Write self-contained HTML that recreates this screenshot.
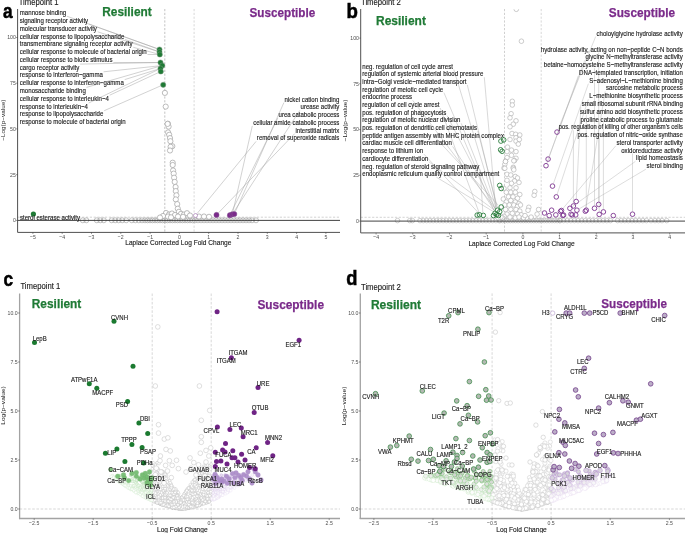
<!DOCTYPE html>
<html><head><meta charset="utf-8"><style>
html,body{margin:0;padding:0;background:#fff;width:685px;height:533px;overflow:hidden}
svg{display:block;font-family:"Liberation Sans", sans-serif;will-change:transform}
</style></head><body>
<svg width="685" height="533" viewBox="0 0 685 533">
<rect width="685" height="533" fill="#fff"/>
<line x1="164.8" y1="9.0" x2="164.8" y2="232.4" stroke="#9a9a9a" stroke-width="0.6" stroke-dasharray="2.2,1.6"/>
<line x1="194.1" y1="9.0" x2="194.1" y2="232.4" stroke="#bdbdbd" stroke-width="0.6" stroke-dasharray="2.2,1.6"/>
<line x1="17.6" y1="217.2" x2="340.0" y2="217.2" stroke="#b5b5b5" stroke-width="0.6" stroke-dasharray="2.2,1.6"/>
<circle cx="82.8" cy="220.3" r="2.5" fill="none" stroke="#a8a8a8" stroke-width="0.7"/>
<circle cx="86.3" cy="220.3" r="2.5" fill="none" stroke="#a8a8a8" stroke-width="0.7"/>
<circle cx="96.8" cy="220.3" r="2.5" fill="none" stroke="#a8a8a8" stroke-width="0.7"/>
<circle cx="100.3" cy="220.3" r="2.5" fill="none" stroke="#a8a8a8" stroke-width="0.7"/>
<circle cx="103.8" cy="220.3" r="2.5" fill="none" stroke="#a8a8a8" stroke-width="0.7"/>
<circle cx="111.7" cy="220.3" r="2.5" fill="none" stroke="#a8a8a8" stroke-width="0.7"/>
<circle cx="115.2" cy="220.3" r="2.5" fill="none" stroke="#a8a8a8" stroke-width="0.7"/>
<circle cx="118.7" cy="220.3" r="2.5" fill="none" stroke="#a8a8a8" stroke-width="0.7"/>
<circle cx="122.2" cy="220.3" r="2.5" fill="none" stroke="#a8a8a8" stroke-width="0.7"/>
<circle cx="126.2" cy="220.3" r="2.5" fill="none" stroke="#a8a8a8" stroke-width="0.7"/>
<circle cx="131.8" cy="220.3" r="2.5" fill="none" stroke="#a8a8a8" stroke-width="0.7"/>
<circle cx="135.3" cy="220.3" r="2.5" fill="none" stroke="#a8a8a8" stroke-width="0.7"/>
<circle cx="138.8" cy="220.3" r="2.5" fill="none" stroke="#a8a8a8" stroke-width="0.7"/>
<circle cx="142.0" cy="220.3" r="2.5" fill="none" stroke="#a8a8a8" stroke-width="0.7"/>
<circle cx="145.0" cy="220.3" r="2.5" fill="none" stroke="#a8a8a8" stroke-width="0.7"/>
<circle cx="147.5" cy="220.3" r="2.5" fill="none" stroke="#a8a8a8" stroke-width="0.7"/>
<circle cx="150.0" cy="220.3" r="2.5" fill="none" stroke="#a8a8a8" stroke-width="0.7"/>
<circle cx="152.5" cy="220.3" r="2.5" fill="none" stroke="#a8a8a8" stroke-width="0.7"/>
<circle cx="155.0" cy="220.3" r="2.5" fill="none" stroke="#a8a8a8" stroke-width="0.7"/>
<circle cx="157.5" cy="220.3" r="2.5" fill="none" stroke="#a8a8a8" stroke-width="0.7"/>
<circle cx="160.0" cy="220.3" r="2.5" fill="none" stroke="#a8a8a8" stroke-width="0.7"/>
<circle cx="162.5" cy="220.3" r="2.5" fill="none" stroke="#a8a8a8" stroke-width="0.7"/>
<circle cx="165.0" cy="220.3" r="2.5" fill="none" stroke="#a8a8a8" stroke-width="0.7"/>
<circle cx="167.5" cy="220.3" r="2.5" fill="none" stroke="#a8a8a8" stroke-width="0.7"/>
<circle cx="170.0" cy="220.3" r="2.5" fill="none" stroke="#a8a8a8" stroke-width="0.7"/>
<circle cx="172.5" cy="220.3" r="2.5" fill="none" stroke="#a8a8a8" stroke-width="0.7"/>
<circle cx="175.0" cy="220.3" r="2.5" fill="none" stroke="#a8a8a8" stroke-width="0.7"/>
<circle cx="177.5" cy="220.3" r="2.5" fill="none" stroke="#a8a8a8" stroke-width="0.7"/>
<circle cx="180.0" cy="220.3" r="2.5" fill="none" stroke="#a8a8a8" stroke-width="0.7"/>
<circle cx="182.5" cy="220.3" r="2.5" fill="none" stroke="#a8a8a8" stroke-width="0.7"/>
<circle cx="185.0" cy="220.3" r="2.5" fill="none" stroke="#a8a8a8" stroke-width="0.7"/>
<circle cx="187.5" cy="220.3" r="2.5" fill="none" stroke="#a8a8a8" stroke-width="0.7"/>
<circle cx="190.0" cy="220.3" r="2.5" fill="none" stroke="#a8a8a8" stroke-width="0.7"/>
<circle cx="192.5" cy="220.3" r="2.5" fill="none" stroke="#a8a8a8" stroke-width="0.7"/>
<circle cx="195.0" cy="220.3" r="2.5" fill="none" stroke="#a8a8a8" stroke-width="0.7"/>
<circle cx="198.0" cy="220.3" r="2.5" fill="none" stroke="#a8a8a8" stroke-width="0.7"/>
<circle cx="201.0" cy="220.3" r="2.5" fill="none" stroke="#a8a8a8" stroke-width="0.7"/>
<circle cx="204.0" cy="220.3" r="2.5" fill="none" stroke="#a8a8a8" stroke-width="0.7"/>
<circle cx="207.0" cy="220.3" r="2.5" fill="none" stroke="#a8a8a8" stroke-width="0.7"/>
<circle cx="210.0" cy="220.3" r="2.5" fill="none" stroke="#a8a8a8" stroke-width="0.7"/>
<circle cx="213.0" cy="220.3" r="2.5" fill="none" stroke="#a8a8a8" stroke-width="0.7"/>
<circle cx="216.0" cy="220.3" r="2.5" fill="none" stroke="#a8a8a8" stroke-width="0.7"/>
<circle cx="219.0" cy="220.3" r="2.5" fill="none" stroke="#a8a8a8" stroke-width="0.7"/>
<circle cx="222.0" cy="220.3" r="2.5" fill="none" stroke="#a8a8a8" stroke-width="0.7"/>
<circle cx="225.0" cy="220.3" r="2.5" fill="none" stroke="#a8a8a8" stroke-width="0.7"/>
<circle cx="228.0" cy="220.3" r="2.5" fill="none" stroke="#a8a8a8" stroke-width="0.7"/>
<circle cx="231.0" cy="220.3" r="2.5" fill="none" stroke="#a8a8a8" stroke-width="0.7"/>
<circle cx="234.0" cy="220.3" r="2.5" fill="none" stroke="#a8a8a8" stroke-width="0.7"/>
<circle cx="237.0" cy="220.3" r="2.5" fill="none" stroke="#a8a8a8" stroke-width="0.7"/>
<circle cx="240.0" cy="220.3" r="2.5" fill="none" stroke="#a8a8a8" stroke-width="0.7"/>
<circle cx="243.0" cy="220.3" r="2.5" fill="none" stroke="#a8a8a8" stroke-width="0.7"/>
<circle cx="246.0" cy="220.3" r="2.5" fill="none" stroke="#a8a8a8" stroke-width="0.7"/>
<circle cx="249.0" cy="220.3" r="2.5" fill="none" stroke="#a8a8a8" stroke-width="0.7"/>
<circle cx="252.0" cy="220.3" r="2.5" fill="none" stroke="#a8a8a8" stroke-width="0.7"/>
<circle cx="256.0" cy="220.3" r="2.5" fill="none" stroke="#a8a8a8" stroke-width="0.7"/>
<circle cx="167.9" cy="123.7" r="2.6" fill="#fff" stroke="#a6a6a6" stroke-width="0.75"/>
<circle cx="168.6" cy="126.6" r="2.6" fill="#fff" stroke="#a6a6a6" stroke-width="0.75"/>
<circle cx="168.1" cy="132.4" r="2.6" fill="#fff" stroke="#a6a6a6" stroke-width="0.75"/>
<circle cx="169.2" cy="134.8" r="2.6" fill="#fff" stroke="#a6a6a6" stroke-width="0.75"/>
<circle cx="170.0" cy="138.1" r="2.6" fill="#fff" stroke="#a6a6a6" stroke-width="0.75"/>
<circle cx="170.4" cy="141.2" r="2.6" fill="#fff" stroke="#a6a6a6" stroke-width="0.75"/>
<circle cx="172.3" cy="146.2" r="2.6" fill="#fff" stroke="#a6a6a6" stroke-width="0.75"/>
<circle cx="170.6" cy="146.8" r="2.6" fill="#fff" stroke="#a6a6a6" stroke-width="0.75"/>
<circle cx="170.0" cy="150.5" r="2.6" fill="#fff" stroke="#a6a6a6" stroke-width="0.75"/>
<circle cx="172.7" cy="162.7" r="2.6" fill="#fff" stroke="#a6a6a6" stroke-width="0.75"/>
<circle cx="172.7" cy="165.0" r="2.6" fill="#fff" stroke="#a6a6a6" stroke-width="0.75"/>
<circle cx="173.1" cy="170.5" r="2.6" fill="#fff" stroke="#a6a6a6" stroke-width="0.75"/>
<circle cx="173.7" cy="173.6" r="2.6" fill="#fff" stroke="#a6a6a6" stroke-width="0.75"/>
<circle cx="174.1" cy="177.7" r="2.6" fill="#fff" stroke="#a6a6a6" stroke-width="0.75"/>
<circle cx="174.7" cy="181.9" r="2.6" fill="#fff" stroke="#a6a6a6" stroke-width="0.75"/>
<circle cx="175.6" cy="187.0" r="2.6" fill="#fff" stroke="#a6a6a6" stroke-width="0.75"/>
<circle cx="175.8" cy="191.1" r="2.6" fill="#fff" stroke="#a6a6a6" stroke-width="0.75"/>
<circle cx="176.4" cy="195.3" r="2.6" fill="#fff" stroke="#a6a6a6" stroke-width="0.75"/>
<circle cx="175.8" cy="199.4" r="2.6" fill="#fff" stroke="#a6a6a6" stroke-width="0.75"/>
<circle cx="177.2" cy="204.1" r="2.6" fill="#fff" stroke="#a6a6a6" stroke-width="0.75"/>
<circle cx="177.8" cy="208.7" r="2.6" fill="#fff" stroke="#a6a6a6" stroke-width="0.75"/>
<circle cx="178.9" cy="211.8" r="2.6" fill="#fff" stroke="#a6a6a6" stroke-width="0.75"/>
<circle cx="181.0" cy="213.8" r="2.6" fill="#fff" stroke="#a6a6a6" stroke-width="0.75"/>
<circle cx="164.9" cy="92.9" r="2.6" fill="#fff" stroke="#a6a6a6" stroke-width="0.75"/>
<circle cx="165.7" cy="106.6" r="2.6" fill="#fff" stroke="#a6a6a6" stroke-width="0.75"/>
<circle cx="167.6" cy="123.9" r="2.6" fill="#fff" stroke="#a6a6a6" stroke-width="0.75"/>
<circle cx="166.0" cy="213.0" r="2.6" fill="#fff" stroke="#a6a6a6" stroke-width="0.75"/>
<circle cx="169.0" cy="214.5" r="2.6" fill="#fff" stroke="#a6a6a6" stroke-width="0.75"/>
<circle cx="172.0" cy="213.5" r="2.6" fill="#fff" stroke="#a6a6a6" stroke-width="0.75"/>
<circle cx="175.0" cy="215.0" r="2.6" fill="#fff" stroke="#a6a6a6" stroke-width="0.75"/>
<circle cx="184.0" cy="214.5" r="2.6" fill="#fff" stroke="#a6a6a6" stroke-width="0.75"/>
<circle cx="187.0" cy="213.2" r="2.6" fill="#fff" stroke="#a6a6a6" stroke-width="0.75"/>
<circle cx="190.0" cy="215.5" r="2.6" fill="#fff" stroke="#a6a6a6" stroke-width="0.75"/>
<circle cx="168.0" cy="216.5" r="2.6" fill="#fff" stroke="#a6a6a6" stroke-width="0.75"/>
<circle cx="178.0" cy="216.5" r="2.6" fill="#fff" stroke="#a6a6a6" stroke-width="0.75"/>
<circle cx="183.0" cy="216.8" r="2.6" fill="#fff" stroke="#a6a6a6" stroke-width="0.75"/>
<circle cx="163.0" cy="216.0" r="2.6" fill="#fff" stroke="#a6a6a6" stroke-width="0.75"/>
<circle cx="171.0" cy="217.3" r="2.6" fill="#fff" stroke="#a6a6a6" stroke-width="0.75"/>
<circle cx="199.0" cy="216.5" r="2.6" fill="#fff" stroke="#a6a6a6" stroke-width="0.75"/>
<circle cx="204.0" cy="216.5" r="2.6" fill="#fff" stroke="#a6a6a6" stroke-width="0.75"/>
<circle cx="209.0" cy="216.8" r="2.6" fill="#fff" stroke="#a6a6a6" stroke-width="0.75"/>
<circle cx="160.0" cy="217.5" r="2.6" fill="#fff" stroke="#a6a6a6" stroke-width="0.75"/>
<line x1="17.6" y1="220.4" x2="340.0" y2="220.4" stroke="#2e2e2e" stroke-width="0.9"/>
<line x1="17.6" y1="9.0" x2="17.6" y2="232.4" stroke="#505050" stroke-width="1.0"/>
<line x1="17.6" y1="232.4" x2="340.0" y2="232.4" stroke="#505050" stroke-width="1.0"/>
<line x1="16.0" y1="220.4" x2="17.6" y2="220.4" stroke="#3a3a3a" stroke-width="0.5"/>
<text transform="translate(15.8,222.2) scale(1,1.18)" font-size="5.2" fill="#4d4d4d" text-anchor="end">0</text>
<line x1="16.0" y1="174.7" x2="17.6" y2="174.7" stroke="#3a3a3a" stroke-width="0.5"/>
<text transform="translate(15.8,176.5) scale(1,1.18)" font-size="5.2" fill="#4d4d4d" text-anchor="end">25</text>
<line x1="16.0" y1="128.9" x2="17.6" y2="128.9" stroke="#3a3a3a" stroke-width="0.5"/>
<text transform="translate(15.8,130.8) scale(1,1.18)" font-size="5.2" fill="#4d4d4d" text-anchor="end">50</text>
<line x1="16.0" y1="83.2" x2="17.6" y2="83.2" stroke="#3a3a3a" stroke-width="0.5"/>
<text transform="translate(15.8,85.0) scale(1,1.18)" font-size="5.2" fill="#4d4d4d" text-anchor="end">75</text>
<line x1="16.0" y1="37.5" x2="17.6" y2="37.5" stroke="#3a3a3a" stroke-width="0.5"/>
<text transform="translate(15.8,39.3) scale(1,1.18)" font-size="5.2" fill="#4d4d4d" text-anchor="end">100</text>
<line x1="32.9" y1="232.4" x2="32.9" y2="234.0" stroke="#3a3a3a" stroke-width="0.5"/>
<text transform="translate(32.9,238.8) scale(1,1.18)" font-size="5.2" fill="#4d4d4d" text-anchor="middle">−5</text>
<line x1="62.2" y1="232.4" x2="62.2" y2="234.0" stroke="#3a3a3a" stroke-width="0.5"/>
<text transform="translate(62.2,238.8) scale(1,1.18)" font-size="5.2" fill="#4d4d4d" text-anchor="middle">−4</text>
<line x1="91.5" y1="232.4" x2="91.5" y2="234.0" stroke="#3a3a3a" stroke-width="0.5"/>
<text transform="translate(91.5,238.8) scale(1,1.18)" font-size="5.2" fill="#4d4d4d" text-anchor="middle">−3</text>
<line x1="120.8" y1="232.4" x2="120.8" y2="234.0" stroke="#3a3a3a" stroke-width="0.5"/>
<text transform="translate(120.8,238.8) scale(1,1.18)" font-size="5.2" fill="#4d4d4d" text-anchor="middle">−2</text>
<line x1="150.1" y1="232.4" x2="150.1" y2="234.0" stroke="#3a3a3a" stroke-width="0.5"/>
<text transform="translate(150.1,238.8) scale(1,1.18)" font-size="5.2" fill="#4d4d4d" text-anchor="middle">−1</text>
<line x1="179.4" y1="232.4" x2="179.4" y2="234.0" stroke="#3a3a3a" stroke-width="0.5"/>
<text transform="translate(179.4,238.8) scale(1,1.18)" font-size="5.2" fill="#4d4d4d" text-anchor="middle">0</text>
<line x1="208.7" y1="232.4" x2="208.7" y2="234.0" stroke="#3a3a3a" stroke-width="0.5"/>
<text transform="translate(208.7,238.8) scale(1,1.18)" font-size="5.2" fill="#4d4d4d" text-anchor="middle">1</text>
<line x1="238.0" y1="232.4" x2="238.0" y2="234.0" stroke="#3a3a3a" stroke-width="0.5"/>
<text transform="translate(238.0,238.8) scale(1,1.18)" font-size="5.2" fill="#4d4d4d" text-anchor="middle">2</text>
<line x1="267.3" y1="232.4" x2="267.3" y2="234.0" stroke="#3a3a3a" stroke-width="0.5"/>
<text transform="translate(267.3,238.8) scale(1,1.18)" font-size="5.2" fill="#4d4d4d" text-anchor="middle">3</text>
<line x1="296.6" y1="232.4" x2="296.6" y2="234.0" stroke="#3a3a3a" stroke-width="0.5"/>
<text transform="translate(296.6,238.8) scale(1,1.18)" font-size="5.2" fill="#4d4d4d" text-anchor="middle">4</text>
<line x1="325.9" y1="232.4" x2="325.9" y2="234.0" stroke="#3a3a3a" stroke-width="0.5"/>
<text transform="translate(325.9,238.8) scale(1,1.18)" font-size="5.2" fill="#4d4d4d" text-anchor="middle">5</text>
<text transform="translate(178.3,245.0) scale(1,1.18)" font-size="6.6" fill="#1a1a1a" text-anchor="middle" stroke="#1a1a1a" stroke-width="0.12">Laplace Corrected Log Fold Change</text>
<text x="0.0" y="0.0" font-size="5.9" fill="#1a1a1a" text-anchor="middle" textLength="41.3" lengthAdjust="spacingAndGlyphs" transform="translate(5.0,120.2) rotate(-90)">−Log(p−value)</text>
<line x1="66.9" y1="16.2" x2="157.1" y2="48.6" stroke="#9a9a9a" stroke-width="0.45"/>
<text transform="translate(19.8,15.2) scale(1,1.18)" font-size="6.1" fill="#1a1a1a" stroke="#1a1a1a" stroke-width="0.12">mannose binding</text>
<line x1="88.9" y1="24.0" x2="157.1" y2="48.6" stroke="#9a9a9a" stroke-width="0.45"/>
<text transform="translate(19.8,23.0) scale(1,1.18)" font-size="6.1" fill="#1a1a1a" stroke="#1a1a1a" stroke-width="0.12">signaling receptor activity</text>
<line x1="97.7" y1="31.8" x2="157.0" y2="51.2" stroke="#9a9a9a" stroke-width="0.45"/>
<text transform="translate(19.8,30.8) scale(1,1.18)" font-size="6.1" fill="#1a1a1a" stroke="#1a1a1a" stroke-width="0.12">molecular transducer activity</text>
<line x1="125.2" y1="39.5" x2="157.1" y2="51.1" stroke="#9a9a9a" stroke-width="0.45"/>
<text transform="translate(19.8,38.5) scale(1,1.18)" font-size="6.1" fill="#1a1a1a" stroke="#1a1a1a" stroke-width="0.12">cellular response to lipopolysaccharide</text>
<line x1="133.3" y1="47.3" x2="157.3" y2="53.8" stroke="#9a9a9a" stroke-width="0.45"/>
<text transform="translate(19.8,46.3) scale(1,1.18)" font-size="6.1" fill="#1a1a1a" stroke="#1a1a1a" stroke-width="0.12">transmembrane signaling receptor activity</text>
<line x1="147.5" y1="54.5" x2="157.2" y2="54.5" stroke="#9a9a9a" stroke-width="0.45"/>
<text transform="translate(19.8,54.1) scale(1,1.18)" font-size="6.1" fill="#1a1a1a" stroke="#1a1a1a" stroke-width="0.12">cellular response to molecule of bacterial origin</text>
<line x1="113.3" y1="62.5" x2="157.9" y2="62.5" stroke="#9a9a9a" stroke-width="0.45"/>
<text transform="translate(19.8,61.9) scale(1,1.18)" font-size="6.1" fill="#1a1a1a" stroke="#1a1a1a" stroke-width="0.12">cellular response to biotic stimulus</text>
<line x1="80.1" y1="64.1" x2="157.9" y2="62.6" stroke="#9a9a9a" stroke-width="0.45"/>
<text transform="translate(19.8,69.7) scale(1,1.18)" font-size="6.1" fill="#1a1a1a" stroke="#1a1a1a" stroke-width="0.12">cargo receptor activity</text>
<line x1="103.6" y1="71.8" x2="159.7" y2="65.8" stroke="#9a9a9a" stroke-width="0.45"/>
<text transform="translate(19.8,77.4) scale(1,1.18)" font-size="6.1" fill="#1a1a1a" stroke="#1a1a1a" stroke-width="0.12">response to interferon−gamma</text>
<line x1="124.7" y1="79.6" x2="158.0" y2="69.3" stroke="#9a9a9a" stroke-width="0.45"/>
<text transform="translate(19.8,85.2) scale(1,1.18)" font-size="6.1" fill="#1a1a1a" stroke="#1a1a1a" stroke-width="0.12">cellular response to interferon−gamma</text>
<line x1="86.5" y1="87.4" x2="159.8" y2="66.2" stroke="#9a9a9a" stroke-width="0.45"/>
<text transform="translate(19.8,93.0) scale(1,1.18)" font-size="6.1" fill="#1a1a1a" stroke="#1a1a1a" stroke-width="0.12">monosaccharide binding</text>
<line x1="109.7" y1="95.2" x2="158.4" y2="72.6" stroke="#9a9a9a" stroke-width="0.45"/>
<text transform="translate(19.8,100.8) scale(1,1.18)" font-size="6.1" fill="#1a1a1a" stroke="#1a1a1a" stroke-width="0.12">cellular response to interleukin−4</text>
<line x1="88.7" y1="103.0" x2="158.2" y2="69.6" stroke="#9a9a9a" stroke-width="0.45"/>
<text transform="translate(19.8,108.6) scale(1,1.18)" font-size="6.1" fill="#1a1a1a" stroke="#1a1a1a" stroke-width="0.12">response to interleukin−4</text>
<line x1="104.2" y1="110.7" x2="160.8" y2="85.8" stroke="#9a9a9a" stroke-width="0.45"/>
<text transform="translate(19.8,116.3) scale(1,1.18)" font-size="6.1" fill="#1a1a1a" stroke="#1a1a1a" stroke-width="0.12">response to lipopolysaccharide</text>
<text transform="translate(19.8,124.1) scale(1,1.18)" font-size="6.1" fill="#1a1a1a" stroke="#1a1a1a" stroke-width="0.12">response to molecule of bacterial origin</text>
<line x1="283.9" y1="102.6" x2="235.4" y2="211.6" stroke="#9a9a9a" stroke-width="0.45"/>
<text transform="translate(339.4,101.6) scale(1,1.18)" font-size="6.1" fill="#1a1a1a" text-anchor="end" stroke="#1a1a1a" stroke-width="0.12">nickel cation binding</text>
<line x1="299.8" y1="110.4" x2="233.7" y2="212.1" stroke="#9a9a9a" stroke-width="0.45"/>
<text transform="translate(339.4,109.4) scale(1,1.18)" font-size="6.1" fill="#1a1a1a" text-anchor="end" stroke="#1a1a1a" stroke-width="0.12">urease activity</text>
<line x1="277.8" y1="118.1" x2="231.0" y2="212.9" stroke="#9a9a9a" stroke-width="0.45"/>
<text transform="translate(339.4,117.1) scale(1,1.18)" font-size="6.1" fill="#1a1a1a" text-anchor="end" stroke="#1a1a1a" stroke-width="0.12">urea catabolic process</text>
<line x1="252.3" y1="125.9" x2="232.9" y2="211.8" stroke="#9a9a9a" stroke-width="0.45"/>
<text transform="translate(339.4,124.9) scale(1,1.18)" font-size="6.1" fill="#1a1a1a" text-anchor="end" stroke="#1a1a1a" stroke-width="0.12">cellular amide catabolic process</text>
<line x1="294.7" y1="133.6" x2="218.3" y2="213.0" stroke="#9a9a9a" stroke-width="0.45"/>
<text transform="translate(339.4,132.6) scale(1,1.18)" font-size="6.1" fill="#1a1a1a" text-anchor="end" stroke="#1a1a1a" stroke-width="0.12">interstitial matrix</text>
<line x1="256.1" y1="141.4" x2="197.1" y2="213.5" stroke="#9a9a9a" stroke-width="0.45"/>
<text transform="translate(339.4,140.4) scale(1,1.18)" font-size="6.1" fill="#1a1a1a" text-anchor="end" stroke="#1a1a1a" stroke-width="0.12">removal of superoxide radicals</text>
<circle cx="159.5" cy="49.5" r="2.6" fill="#1f7a35" stroke="#7a9a80" stroke-width="0.5"/>
<circle cx="159.5" cy="52.0" r="2.6" fill="#1f7a35" stroke="#7a9a80" stroke-width="0.5"/>
<circle cx="159.8" cy="54.5" r="2.6" fill="#1f7a35" stroke="#7a9a80" stroke-width="0.5"/>
<circle cx="160.5" cy="62.5" r="2.6" fill="#1f7a35" stroke="#7a9a80" stroke-width="0.5"/>
<circle cx="162.3" cy="65.5" r="2.6" fill="#1f7a35" stroke="#7a9a80" stroke-width="0.5"/>
<circle cx="160.5" cy="68.5" r="2.6" fill="#1f7a35" stroke="#7a9a80" stroke-width="0.5"/>
<circle cx="160.8" cy="71.5" r="2.6" fill="#1f7a35" stroke="#7a9a80" stroke-width="0.5"/>
<circle cx="163.2" cy="84.8" r="2.6" fill="#1f7a35" stroke="#7a9a80" stroke-width="0.5"/>
<circle cx="216.5" cy="214.9" r="2.6" fill="#7a2a8a" stroke="#8a5a96" stroke-width="0.5"/>
<circle cx="229.9" cy="215.2" r="2.6" fill="#7a2a8a" stroke="#8a5a96" stroke-width="0.5"/>
<circle cx="232.3" cy="214.3" r="2.6" fill="#7a2a8a" stroke="#8a5a96" stroke-width="0.5"/>
<circle cx="234.3" cy="214.0" r="2.6" fill="#7a2a8a" stroke="#8a5a96" stroke-width="0.5"/>
<circle cx="195.5" cy="215.5" r="2.0" fill="#fff" stroke="#9b6aab" stroke-width="0.6"/>
<circle cx="33.4" cy="214.0" r="2.6" fill="#1f7a35" stroke="none" stroke-width="0.6"/>
<text transform="translate(19.9,220.0) scale(1,1.18)" font-size="6.1" fill="#1a1a1a" stroke="#1a1a1a" stroke-width="0.12">sterol esterase activity</text>
<text x="102.3" y="16.4" font-size="12.4" fill="#1f7a35" stroke="#1f7a35" stroke-width="0.25" font-weight="bold" textLength="49.4" lengthAdjust="spacingAndGlyphs">Resilient</text>
<text x="249.5" y="16.6" font-size="12.4" fill="#7a2a8a" stroke="#7a2a8a" stroke-width="0.25" font-weight="bold" textLength="65.7" lengthAdjust="spacingAndGlyphs">Susceptible</text>
<text transform="translate(3.0,17.5) scale(1,1.1)" font-size="19" fill="#000" stroke="#000" stroke-width="0.5" font-weight="bold" textLength="9.6" lengthAdjust="spacingAndGlyphs">a</text>
<text transform="translate(18.7,5.4) scale(1,1.18)" font-size="7.7" fill="#1a1a1a" stroke="#1a1a1a" stroke-width="0.12">Timepoint 1</text>
<line x1="504.5" y1="9.0" x2="504.5" y2="232.9" stroke="#b0b0b0" stroke-width="0.6" stroke-dasharray="2.2,1.6"/>
<line x1="541.2" y1="9.0" x2="541.2" y2="232.9" stroke="#c0c0c0" stroke-width="0.6" stroke-dasharray="2.2,1.6"/>
<line x1="360.7" y1="217.3" x2="685.0" y2="217.3" stroke="#b5b5b5" stroke-width="0.6" stroke-dasharray="2.2,1.6"/>
<circle cx="397.5" cy="220.6" r="2.3" fill="none" stroke="#a9a9a9" stroke-width="0.55"/>
<circle cx="409.8" cy="220.6" r="2.3" fill="none" stroke="#a9a9a9" stroke-width="0.55"/>
<circle cx="412.4" cy="220.6" r="2.3" fill="none" stroke="#a9a9a9" stroke-width="0.55"/>
<circle cx="420.0" cy="220.6" r="2.3" fill="none" stroke="#a9a9a9" stroke-width="0.55"/>
<circle cx="423.3" cy="220.6" r="2.3" fill="none" stroke="#a9a9a9" stroke-width="0.55"/>
<circle cx="426.6" cy="220.6" r="2.3" fill="none" stroke="#a9a9a9" stroke-width="0.55"/>
<circle cx="429.9" cy="220.6" r="2.3" fill="none" stroke="#a9a9a9" stroke-width="0.55"/>
<circle cx="433.2" cy="220.6" r="2.3" fill="none" stroke="#a9a9a9" stroke-width="0.55"/>
<circle cx="436.5" cy="220.6" r="2.3" fill="none" stroke="#a9a9a9" stroke-width="0.55"/>
<circle cx="439.8" cy="220.6" r="2.3" fill="none" stroke="#a9a9a9" stroke-width="0.55"/>
<circle cx="443.1" cy="220.6" r="2.3" fill="none" stroke="#a9a9a9" stroke-width="0.55"/>
<circle cx="446.4" cy="220.6" r="2.3" fill="none" stroke="#a9a9a9" stroke-width="0.55"/>
<circle cx="449.7" cy="220.6" r="2.3" fill="none" stroke="#a9a9a9" stroke-width="0.55"/>
<circle cx="453.0" cy="220.6" r="2.3" fill="none" stroke="#a9a9a9" stroke-width="0.55"/>
<circle cx="456.3" cy="220.6" r="2.3" fill="none" stroke="#a9a9a9" stroke-width="0.55"/>
<circle cx="459.6" cy="220.6" r="2.3" fill="none" stroke="#a9a9a9" stroke-width="0.55"/>
<circle cx="462.9" cy="220.6" r="2.3" fill="none" stroke="#a9a9a9" stroke-width="0.55"/>
<circle cx="466.2" cy="220.6" r="2.3" fill="none" stroke="#a9a9a9" stroke-width="0.55"/>
<circle cx="469.5" cy="220.6" r="2.3" fill="none" stroke="#a9a9a9" stroke-width="0.55"/>
<circle cx="472.8" cy="220.6" r="2.3" fill="none" stroke="#a9a9a9" stroke-width="0.55"/>
<circle cx="476.1" cy="220.6" r="2.3" fill="none" stroke="#a9a9a9" stroke-width="0.55"/>
<circle cx="479.4" cy="220.6" r="2.3" fill="none" stroke="#a9a9a9" stroke-width="0.55"/>
<circle cx="482.7" cy="220.6" r="2.3" fill="none" stroke="#a9a9a9" stroke-width="0.55"/>
<circle cx="486.0" cy="220.6" r="2.3" fill="none" stroke="#a9a9a9" stroke-width="0.55"/>
<circle cx="489.3" cy="220.6" r="2.3" fill="none" stroke="#a9a9a9" stroke-width="0.55"/>
<circle cx="492.6" cy="220.6" r="2.3" fill="none" stroke="#a9a9a9" stroke-width="0.55"/>
<circle cx="495.9" cy="220.6" r="2.3" fill="none" stroke="#a9a9a9" stroke-width="0.55"/>
<circle cx="499.2" cy="220.6" r="2.3" fill="none" stroke="#a9a9a9" stroke-width="0.55"/>
<circle cx="500.0" cy="220.6" r="2.3" fill="none" stroke="#a9a9a9" stroke-width="0.55"/>
<circle cx="502.6" cy="220.6" r="2.3" fill="none" stroke="#a9a9a9" stroke-width="0.55"/>
<circle cx="505.2" cy="220.6" r="2.3" fill="none" stroke="#a9a9a9" stroke-width="0.55"/>
<circle cx="507.8" cy="220.6" r="2.3" fill="none" stroke="#a9a9a9" stroke-width="0.55"/>
<circle cx="510.4" cy="220.6" r="2.3" fill="none" stroke="#a9a9a9" stroke-width="0.55"/>
<circle cx="513.0" cy="220.6" r="2.3" fill="none" stroke="#a9a9a9" stroke-width="0.55"/>
<circle cx="515.6" cy="220.6" r="2.3" fill="none" stroke="#a9a9a9" stroke-width="0.55"/>
<circle cx="518.2" cy="220.6" r="2.3" fill="none" stroke="#a9a9a9" stroke-width="0.55"/>
<circle cx="520.8" cy="220.6" r="2.3" fill="none" stroke="#a9a9a9" stroke-width="0.55"/>
<circle cx="523.4" cy="220.6" r="2.3" fill="none" stroke="#a9a9a9" stroke-width="0.55"/>
<circle cx="526.0" cy="220.6" r="2.3" fill="none" stroke="#a9a9a9" stroke-width="0.55"/>
<circle cx="528.6" cy="220.6" r="2.3" fill="none" stroke="#a9a9a9" stroke-width="0.55"/>
<circle cx="531.2" cy="220.6" r="2.3" fill="none" stroke="#a9a9a9" stroke-width="0.55"/>
<circle cx="533.8" cy="220.6" r="2.3" fill="none" stroke="#a9a9a9" stroke-width="0.55"/>
<circle cx="536.4" cy="220.6" r="2.3" fill="none" stroke="#a9a9a9" stroke-width="0.55"/>
<circle cx="539.0" cy="220.6" r="2.3" fill="none" stroke="#a9a9a9" stroke-width="0.55"/>
<circle cx="541.6" cy="220.6" r="2.3" fill="none" stroke="#a9a9a9" stroke-width="0.55"/>
<circle cx="544.2" cy="220.6" r="2.3" fill="none" stroke="#a9a9a9" stroke-width="0.55"/>
<circle cx="546.8" cy="220.6" r="2.3" fill="none" stroke="#a9a9a9" stroke-width="0.55"/>
<circle cx="549.4" cy="220.6" r="2.3" fill="none" stroke="#a9a9a9" stroke-width="0.55"/>
<circle cx="552.0" cy="220.6" r="2.3" fill="none" stroke="#a9a9a9" stroke-width="0.55"/>
<circle cx="554.6" cy="220.6" r="2.3" fill="none" stroke="#a9a9a9" stroke-width="0.55"/>
<circle cx="557.2" cy="220.6" r="2.3" fill="none" stroke="#a9a9a9" stroke-width="0.55"/>
<circle cx="559.8" cy="220.6" r="2.3" fill="none" stroke="#a9a9a9" stroke-width="0.55"/>
<circle cx="560.0" cy="220.6" r="2.3" fill="none" stroke="#a9a9a9" stroke-width="0.55"/>
<circle cx="563.6" cy="220.6" r="2.3" fill="none" stroke="#a9a9a9" stroke-width="0.55"/>
<circle cx="567.2" cy="220.6" r="2.3" fill="none" stroke="#a9a9a9" stroke-width="0.55"/>
<circle cx="570.8" cy="220.6" r="2.3" fill="none" stroke="#a9a9a9" stroke-width="0.55"/>
<circle cx="574.4" cy="220.6" r="2.3" fill="none" stroke="#a9a9a9" stroke-width="0.55"/>
<circle cx="578.0" cy="220.6" r="2.3" fill="none" stroke="#a9a9a9" stroke-width="0.55"/>
<circle cx="581.6" cy="220.6" r="2.3" fill="none" stroke="#a9a9a9" stroke-width="0.55"/>
<circle cx="585.2" cy="220.6" r="2.3" fill="none" stroke="#a9a9a9" stroke-width="0.55"/>
<circle cx="588.8" cy="220.6" r="2.3" fill="none" stroke="#a9a9a9" stroke-width="0.55"/>
<circle cx="592.4" cy="220.6" r="2.3" fill="none" stroke="#a9a9a9" stroke-width="0.55"/>
<circle cx="596.0" cy="220.6" r="2.3" fill="none" stroke="#a9a9a9" stroke-width="0.55"/>
<circle cx="599.6" cy="220.6" r="2.3" fill="none" stroke="#a9a9a9" stroke-width="0.55"/>
<circle cx="603.2" cy="220.6" r="2.3" fill="none" stroke="#a9a9a9" stroke-width="0.55"/>
<circle cx="606.8" cy="220.6" r="2.3" fill="none" stroke="#a9a9a9" stroke-width="0.55"/>
<circle cx="610.4" cy="220.6" r="2.3" fill="none" stroke="#a9a9a9" stroke-width="0.55"/>
<circle cx="617.6" cy="220.6" r="2.3" fill="none" stroke="#a9a9a9" stroke-width="0.55"/>
<circle cx="621.2" cy="220.6" r="2.3" fill="none" stroke="#a9a9a9" stroke-width="0.55"/>
<circle cx="624.8" cy="220.6" r="2.3" fill="none" stroke="#a9a9a9" stroke-width="0.55"/>
<circle cx="628.4" cy="220.6" r="2.3" fill="none" stroke="#a9a9a9" stroke-width="0.55"/>
<circle cx="632.0" cy="220.6" r="2.3" fill="none" stroke="#a9a9a9" stroke-width="0.55"/>
<circle cx="635.6" cy="220.6" r="2.3" fill="none" stroke="#a9a9a9" stroke-width="0.55"/>
<circle cx="639.2" cy="220.6" r="2.3" fill="none" stroke="#a9a9a9" stroke-width="0.55"/>
<circle cx="642.8" cy="220.6" r="2.3" fill="none" stroke="#a9a9a9" stroke-width="0.55"/>
<circle cx="646.4" cy="220.6" r="2.3" fill="none" stroke="#a9a9a9" stroke-width="0.55"/>
<circle cx="651.0" cy="220.6" r="2.3" fill="none" stroke="#a9a9a9" stroke-width="0.55"/>
<circle cx="655.0" cy="220.6" r="2.3" fill="none" stroke="#a9a9a9" stroke-width="0.55"/>
<circle cx="658.5" cy="220.6" r="2.3" fill="none" stroke="#a9a9a9" stroke-width="0.55"/>
<circle cx="662.0" cy="220.6" r="2.3" fill="none" stroke="#a9a9a9" stroke-width="0.55"/>
<circle cx="666.7" cy="220.6" r="2.3" fill="none" stroke="#a9a9a9" stroke-width="0.55"/>
<clipPath id="cb"><rect x="361" y="9.3" width="324" height="20"/></clipPath>
<circle cx="516.3" cy="9.3" r="2.3" fill="none" stroke="#a9a9a9" stroke-width="0.6" clip-path="url(#cb)"/>
<circle cx="512.3" cy="101.3" r="2.3" fill="#fff" stroke="#a9a9a9" stroke-width="0.6"/>
<circle cx="512.3" cy="105.0" r="2.3" fill="#fff" stroke="#a9a9a9" stroke-width="0.6"/>
<circle cx="511.1" cy="113.7" r="2.3" fill="#fff" stroke="#a9a9a9" stroke-width="0.6"/>
<circle cx="510.0" cy="117.8" r="2.3" fill="#fff" stroke="#a9a9a9" stroke-width="0.6"/>
<circle cx="516.0" cy="120.8" r="2.3" fill="#fff" stroke="#a9a9a9" stroke-width="0.6"/>
<circle cx="513.3" cy="124.2" r="2.3" fill="#fff" stroke="#a9a9a9" stroke-width="0.6"/>
<circle cx="510.0" cy="126.8" r="2.3" fill="#fff" stroke="#a9a9a9" stroke-width="0.6"/>
<circle cx="512.0" cy="133.5" r="2.3" fill="#fff" stroke="#a9a9a9" stroke-width="0.6"/>
<circle cx="515.7" cy="134.3" r="2.3" fill="#fff" stroke="#a9a9a9" stroke-width="0.6"/>
<circle cx="516.0" cy="137.7" r="2.3" fill="#fff" stroke="#a9a9a9" stroke-width="0.6"/>
<circle cx="510.0" cy="139.5" r="2.3" fill="#fff" stroke="#a9a9a9" stroke-width="0.6"/>
<circle cx="516.0" cy="141.1" r="2.3" fill="#fff" stroke="#a9a9a9" stroke-width="0.6"/>
<circle cx="507.5" cy="147.1" r="2.3" fill="#fff" stroke="#a9a9a9" stroke-width="0.6"/>
<circle cx="511.5" cy="150.1" r="2.3" fill="#fff" stroke="#a9a9a9" stroke-width="0.6"/>
<circle cx="516.0" cy="151.6" r="2.3" fill="#fff" stroke="#a9a9a9" stroke-width="0.6"/>
<circle cx="507.0" cy="151.6" r="2.3" fill="#fff" stroke="#a9a9a9" stroke-width="0.6"/>
<circle cx="511.5" cy="155.3" r="2.3" fill="#fff" stroke="#a9a9a9" stroke-width="0.6"/>
<circle cx="507.0" cy="157.6" r="2.3" fill="#fff" stroke="#a9a9a9" stroke-width="0.6"/>
<circle cx="516.0" cy="158.3" r="2.3" fill="#fff" stroke="#a9a9a9" stroke-width="0.6"/>
<circle cx="514.5" cy="160.6" r="2.3" fill="#fff" stroke="#a9a9a9" stroke-width="0.6"/>
<circle cx="505.5" cy="161.3" r="2.3" fill="#fff" stroke="#a9a9a9" stroke-width="0.6"/>
<circle cx="504.8" cy="164.3" r="2.3" fill="#fff" stroke="#a9a9a9" stroke-width="0.6"/>
<circle cx="504.0" cy="168.1" r="2.3" fill="#fff" stroke="#a9a9a9" stroke-width="0.6"/>
<circle cx="513.3" cy="167.3" r="2.3" fill="#fff" stroke="#a9a9a9" stroke-width="0.6"/>
<circle cx="519.8" cy="135.0" r="2.3" fill="#fff" stroke="#a9a9a9" stroke-width="0.6"/>
<circle cx="519.3" cy="139.5" r="2.3" fill="#fff" stroke="#a9a9a9" stroke-width="0.6"/>
<circle cx="518.3" cy="144.1" r="2.3" fill="#fff" stroke="#a9a9a9" stroke-width="0.6"/>
<circle cx="505.5" cy="161.5" r="2.3" fill="#fff" stroke="#a9a9a9" stroke-width="0.6"/>
<circle cx="513.8" cy="160.8" r="2.3" fill="#fff" stroke="#a9a9a9" stroke-width="0.6"/>
<circle cx="504.8" cy="168.3" r="2.3" fill="#fff" stroke="#a9a9a9" stroke-width="0.6"/>
<circle cx="513.3" cy="168.3" r="2.3" fill="#fff" stroke="#a9a9a9" stroke-width="0.6"/>
<circle cx="513.8" cy="169.8" r="2.3" fill="#fff" stroke="#a9a9a9" stroke-width="0.6"/>
<circle cx="507.0" cy="174.3" r="2.3" fill="#fff" stroke="#a9a9a9" stroke-width="0.6"/>
<circle cx="510.8" cy="175.0" r="2.3" fill="#fff" stroke="#a9a9a9" stroke-width="0.6"/>
<circle cx="515.3" cy="176.5" r="2.3" fill="#fff" stroke="#a9a9a9" stroke-width="0.6"/>
<circle cx="517.5" cy="178.0" r="2.3" fill="#fff" stroke="#a9a9a9" stroke-width="0.6"/>
<circle cx="519.0" cy="182.5" r="2.3" fill="#fff" stroke="#a9a9a9" stroke-width="0.6"/>
<circle cx="514.5" cy="181.0" r="2.3" fill="#fff" stroke="#a9a9a9" stroke-width="0.6"/>
<circle cx="511.5" cy="183.3" r="2.3" fill="#fff" stroke="#a9a9a9" stroke-width="0.6"/>
<circle cx="507.0" cy="180.3" r="2.3" fill="#fff" stroke="#a9a9a9" stroke-width="0.6"/>
<circle cx="504.0" cy="188.5" r="2.3" fill="#fff" stroke="#a9a9a9" stroke-width="0.6"/>
<circle cx="510.0" cy="187.8" r="2.3" fill="#fff" stroke="#a9a9a9" stroke-width="0.6"/>
<circle cx="516.0" cy="187.8" r="2.3" fill="#fff" stroke="#a9a9a9" stroke-width="0.6"/>
<circle cx="506.3" cy="192.3" r="2.3" fill="#fff" stroke="#a9a9a9" stroke-width="0.6"/>
<circle cx="510.8" cy="192.3" r="2.3" fill="#fff" stroke="#a9a9a9" stroke-width="0.6"/>
<circle cx="515.3" cy="192.3" r="2.3" fill="#fff" stroke="#a9a9a9" stroke-width="0.6"/>
<circle cx="519.8" cy="194.5" r="2.3" fill="#fff" stroke="#a9a9a9" stroke-width="0.6"/>
<circle cx="503.3" cy="199.0" r="2.3" fill="#fff" stroke="#a9a9a9" stroke-width="0.6"/>
<circle cx="508.5" cy="196.8" r="2.3" fill="#fff" stroke="#a9a9a9" stroke-width="0.6"/>
<circle cx="513.0" cy="196.8" r="2.3" fill="#fff" stroke="#a9a9a9" stroke-width="0.6"/>
<circle cx="517.5" cy="198.3" r="2.3" fill="#fff" stroke="#a9a9a9" stroke-width="0.6"/>
<circle cx="506.3" cy="202.0" r="2.3" fill="#fff" stroke="#a9a9a9" stroke-width="0.6"/>
<circle cx="510.8" cy="200.5" r="2.3" fill="#fff" stroke="#a9a9a9" stroke-width="0.6"/>
<circle cx="515.3" cy="202.0" r="2.3" fill="#fff" stroke="#a9a9a9" stroke-width="0.6"/>
<circle cx="519.0" cy="203.5" r="2.3" fill="#fff" stroke="#a9a9a9" stroke-width="0.6"/>
<circle cx="504.8" cy="205.0" r="2.3" fill="#fff" stroke="#a9a9a9" stroke-width="0.6"/>
<circle cx="509.3" cy="205.0" r="2.3" fill="#fff" stroke="#a9a9a9" stroke-width="0.6"/>
<circle cx="513.8" cy="205.0" r="2.3" fill="#fff" stroke="#a9a9a9" stroke-width="0.6"/>
<circle cx="517.5" cy="206.5" r="2.3" fill="#fff" stroke="#a9a9a9" stroke-width="0.6"/>
<circle cx="520.5" cy="205.0" r="2.3" fill="#fff" stroke="#a9a9a9" stroke-width="0.6"/>
<circle cx="505.5" cy="209.5" r="2.3" fill="#fff" stroke="#a9a9a9" stroke-width="0.6"/>
<circle cx="510.8" cy="209.5" r="2.3" fill="#fff" stroke="#a9a9a9" stroke-width="0.6"/>
<circle cx="516.0" cy="209.5" r="2.3" fill="#fff" stroke="#a9a9a9" stroke-width="0.6"/>
<circle cx="519.8" cy="211.1" r="2.3" fill="#fff" stroke="#a9a9a9" stroke-width="0.6"/>
<circle cx="507.0" cy="214.1" r="2.3" fill="#fff" stroke="#a9a9a9" stroke-width="0.6"/>
<circle cx="512.3" cy="213.3" r="2.3" fill="#fff" stroke="#a9a9a9" stroke-width="0.6"/>
<circle cx="517.5" cy="214.1" r="2.3" fill="#fff" stroke="#a9a9a9" stroke-width="0.6"/>
<circle cx="521.3" cy="214.8" r="2.3" fill="#fff" stroke="#a9a9a9" stroke-width="0.6"/>
<circle cx="504.0" cy="216.3" r="2.3" fill="#fff" stroke="#a9a9a9" stroke-width="0.6"/>
<circle cx="510.0" cy="217.1" r="2.3" fill="#fff" stroke="#a9a9a9" stroke-width="0.6"/>
<circle cx="515.3" cy="217.8" r="2.3" fill="#fff" stroke="#a9a9a9" stroke-width="0.6"/>
<circle cx="519.0" cy="217.1" r="2.3" fill="#fff" stroke="#a9a9a9" stroke-width="0.6"/>
<circle cx="534.8" cy="191.5" r="2.3" fill="#fff" stroke="#a9a9a9" stroke-width="0.6"/>
<circle cx="534.1" cy="195.3" r="2.3" fill="#fff" stroke="#a9a9a9" stroke-width="0.6"/>
<circle cx="528.8" cy="207.3" r="2.3" fill="#fff" stroke="#a9a9a9" stroke-width="0.6"/>
<circle cx="528.0" cy="210.3" r="2.3" fill="#fff" stroke="#a9a9a9" stroke-width="0.6"/>
<circle cx="538.6" cy="209.5" r="2.3" fill="#fff" stroke="#a9a9a9" stroke-width="0.6"/>
<circle cx="537.1" cy="214.1" r="2.3" fill="#fff" stroke="#a9a9a9" stroke-width="0.6"/>
<circle cx="531.1" cy="217.1" r="2.3" fill="#fff" stroke="#a9a9a9" stroke-width="0.6"/>
<circle cx="526.5" cy="217.8" r="2.3" fill="#fff" stroke="#a9a9a9" stroke-width="0.6"/>
<circle cx="523.5" cy="217.8" r="2.3" fill="#fff" stroke="#a9a9a9" stroke-width="0.6"/>
<circle cx="502.5" cy="217.8" r="2.3" fill="#fff" stroke="#a9a9a9" stroke-width="0.6"/>
<circle cx="501.0" cy="217.1" r="2.3" fill="#fff" stroke="#a9a9a9" stroke-width="0.6"/>
<circle cx="498.0" cy="217.8" r="2.3" fill="#fff" stroke="#a9a9a9" stroke-width="0.6"/>
<circle cx="525.0" cy="215.6" r="2.3" fill="#fff" stroke="#a9a9a9" stroke-width="0.6"/>
<circle cx="521.4" cy="41.2" r="2.3" fill="#fff" stroke="#a9a9a9" stroke-width="0.6"/>
<line x1="360.7" y1="221.1" x2="685.0" y2="221.1" stroke="#2e2e2e" stroke-width="0.9"/>
<line x1="360.7" y1="9.0" x2="360.7" y2="232.9" stroke="#505050" stroke-width="1.0"/>
<line x1="360.7" y1="232.9" x2="685.0" y2="232.9" stroke="#505050" stroke-width="1.0"/>
<line x1="359.1" y1="221.1" x2="360.7" y2="221.1" stroke="#3a3a3a" stroke-width="0.5"/>
<text transform="translate(358.9,222.9) scale(1,1.18)" font-size="5.2" fill="#4d4d4d" text-anchor="end">0</text>
<line x1="359.1" y1="175.3" x2="360.7" y2="175.3" stroke="#3a3a3a" stroke-width="0.5"/>
<text transform="translate(358.9,177.2) scale(1,1.18)" font-size="5.2" fill="#4d4d4d" text-anchor="end">25</text>
<line x1="359.1" y1="129.6" x2="360.7" y2="129.6" stroke="#3a3a3a" stroke-width="0.5"/>
<text transform="translate(358.9,131.4) scale(1,1.18)" font-size="5.2" fill="#4d4d4d" text-anchor="end">50</text>
<line x1="359.1" y1="83.8" x2="360.7" y2="83.8" stroke="#3a3a3a" stroke-width="0.5"/>
<text transform="translate(358.9,85.6) scale(1,1.18)" font-size="5.2" fill="#4d4d4d" text-anchor="end">75</text>
<line x1="359.1" y1="38.1" x2="360.7" y2="38.1" stroke="#3a3a3a" stroke-width="0.5"/>
<text transform="translate(358.9,39.9) scale(1,1.18)" font-size="5.2" fill="#4d4d4d" text-anchor="end">100</text>
<line x1="376.1" y1="232.9" x2="376.1" y2="234.5" stroke="#3a3a3a" stroke-width="0.5"/>
<text transform="translate(376.1,239.2) scale(1,1.18)" font-size="5.2" fill="#4d4d4d" text-anchor="middle">−4</text>
<line x1="412.8" y1="232.9" x2="412.8" y2="234.5" stroke="#3a3a3a" stroke-width="0.5"/>
<text transform="translate(412.8,239.2) scale(1,1.18)" font-size="5.2" fill="#4d4d4d" text-anchor="middle">−3</text>
<line x1="449.5" y1="232.9" x2="449.5" y2="234.5" stroke="#3a3a3a" stroke-width="0.5"/>
<text transform="translate(449.5,239.2) scale(1,1.18)" font-size="5.2" fill="#4d4d4d" text-anchor="middle">−2</text>
<line x1="486.2" y1="232.9" x2="486.2" y2="234.5" stroke="#3a3a3a" stroke-width="0.5"/>
<text transform="translate(486.2,239.2) scale(1,1.18)" font-size="5.2" fill="#4d4d4d" text-anchor="middle">−1</text>
<line x1="522.9" y1="232.9" x2="522.9" y2="234.5" stroke="#3a3a3a" stroke-width="0.5"/>
<text transform="translate(522.9,239.2) scale(1,1.18)" font-size="5.2" fill="#4d4d4d" text-anchor="middle">0</text>
<line x1="559.6" y1="232.9" x2="559.6" y2="234.5" stroke="#3a3a3a" stroke-width="0.5"/>
<text transform="translate(559.6,239.2) scale(1,1.18)" font-size="5.2" fill="#4d4d4d" text-anchor="middle">1</text>
<line x1="596.3" y1="232.9" x2="596.3" y2="234.5" stroke="#3a3a3a" stroke-width="0.5"/>
<text transform="translate(596.3,239.2) scale(1,1.18)" font-size="5.2" fill="#4d4d4d" text-anchor="middle">2</text>
<line x1="633.0" y1="232.9" x2="633.0" y2="234.5" stroke="#3a3a3a" stroke-width="0.5"/>
<text transform="translate(633.0,239.2) scale(1,1.18)" font-size="5.2" fill="#4d4d4d" text-anchor="middle">3</text>
<line x1="669.7" y1="232.9" x2="669.7" y2="234.5" stroke="#3a3a3a" stroke-width="0.5"/>
<text transform="translate(669.7,239.2) scale(1,1.18)" font-size="5.2" fill="#4d4d4d" text-anchor="middle">4</text>
<text transform="translate(521.5,245.6) scale(1,1.18)" font-size="6.6" fill="#1a1a1a" text-anchor="middle" stroke="#1a1a1a" stroke-width="0.12">Laplace Corrected Log Fold Change</text>
<text x="0.0" y="0.0" font-size="5.9" fill="#1a1a1a" text-anchor="middle" textLength="41.8" lengthAdjust="spacingAndGlyphs" transform="translate(347.3,120.5) rotate(-90)">−Log(p−value)</text>
<line x1="453.8" y1="69.5" x2="496.2" y2="208.5" stroke="#a0a0a0" stroke-width="0.4"/>
<text transform="translate(362.3,68.5) scale(1,1.18)" font-size="6.1" fill="#1a1a1a" stroke="#1a1a1a" stroke-width="0.12">neg. regulation of cell cycle arrest</text>
<line x1="484.3" y1="77.2" x2="495.8" y2="209.4" stroke="#a0a0a0" stroke-width="0.4"/>
<text transform="translate(362.3,76.2) scale(1,1.18)" font-size="6.1" fill="#1a1a1a" stroke="#1a1a1a" stroke-width="0.12">regulation of systemic arterial blood pressure</text>
<line x1="467.3" y1="84.9" x2="496.9" y2="207.5" stroke="#a0a0a0" stroke-width="0.4"/>
<text transform="translate(362.3,83.9) scale(1,1.18)" font-size="6.1" fill="#1a1a1a" stroke="#1a1a1a" stroke-width="0.12">intra−Golgi vesicle−mediated transport</text>
<line x1="443.9" y1="92.6" x2="494.0" y2="210.6" stroke="#a0a0a0" stroke-width="0.4"/>
<text transform="translate(362.3,91.6) scale(1,1.18)" font-size="6.1" fill="#1a1a1a" stroke="#1a1a1a" stroke-width="0.12">regulation of meiotic cell cycle</text>
<line x1="412.7" y1="100.3" x2="495.4" y2="208.9" stroke="#a0a0a0" stroke-width="0.4"/>
<text transform="translate(362.3,99.3) scale(1,1.18)" font-size="6.1" fill="#1a1a1a" stroke="#1a1a1a" stroke-width="0.12">endocrine process</text>
<line x1="440.2" y1="108.0" x2="479.1" y2="212.6" stroke="#a0a0a0" stroke-width="0.4"/>
<text transform="translate(362.3,107.0) scale(1,1.18)" font-size="6.1" fill="#1a1a1a" stroke="#1a1a1a" stroke-width="0.12">regulation of cell cycle arrest</text>
<line x1="447.0" y1="115.6" x2="495.8" y2="209.7" stroke="#a0a0a0" stroke-width="0.4"/>
<text transform="translate(362.3,114.6) scale(1,1.18)" font-size="6.1" fill="#1a1a1a" stroke="#1a1a1a" stroke-width="0.12">pos. regulation of phagocytosis</text>
<line x1="461.2" y1="123.3" x2="495.0" y2="208.6" stroke="#a0a0a0" stroke-width="0.4"/>
<text transform="translate(362.3,122.3) scale(1,1.18)" font-size="6.1" fill="#1a1a1a" stroke="#1a1a1a" stroke-width="0.12">regulation of meiotic nuclear division</text>
<line x1="477.8" y1="131.0" x2="497.4" y2="207.5" stroke="#a0a0a0" stroke-width="0.4"/>
<text transform="translate(362.3,130.0) scale(1,1.18)" font-size="6.1" fill="#1a1a1a" stroke="#1a1a1a" stroke-width="0.12">pos. regulation of dendritic cell chemotaxis</text>
<line x1="436.4" y1="138.7" x2="498.2" y2="205.1" stroke="#a0a0a0" stroke-width="0.4"/>
<text transform="translate(362.3,137.7) scale(1,1.18)" font-size="6.1" fill="#1a1a1a" stroke="#1a1a1a" stroke-width="0.12">peptide antigen assembly with MHC protein complex</text>
<line x1="452.6" y1="146.4" x2="494.6" y2="210.8" stroke="#a0a0a0" stroke-width="0.4"/>
<text transform="translate(362.3,145.4) scale(1,1.18)" font-size="6.1" fill="#1a1a1a" stroke="#1a1a1a" stroke-width="0.12">cardiac muscle cell differentiation</text>
<line x1="423.9" y1="154.1" x2="478.7" y2="213.1" stroke="#a0a0a0" stroke-width="0.4"/>
<text transform="translate(362.3,153.1) scale(1,1.18)" font-size="6.1" fill="#1a1a1a" stroke="#1a1a1a" stroke-width="0.12">response to lithium ion</text>
<line x1="428.9" y1="161.8" x2="494.9" y2="210.5" stroke="#a0a0a0" stroke-width="0.4"/>
<text transform="translate(362.3,160.8) scale(1,1.18)" font-size="6.1" fill="#1a1a1a" stroke="#1a1a1a" stroke-width="0.12">cardiocyte differentiation</text>
<line x1="480.2" y1="169.5" x2="482.8" y2="212.4" stroke="#a0a0a0" stroke-width="0.4"/>
<text transform="translate(362.3,168.5) scale(1,1.18)" font-size="6.1" fill="#1a1a1a" stroke="#1a1a1a" stroke-width="0.12">neg. regulation of steroid signaling pathway</text>
<line x1="436.4" y1="177.2" x2="494.3" y2="212.2" stroke="#a0a0a0" stroke-width="0.4"/>
<text transform="translate(362.3,176.2) scale(1,1.18)" font-size="6.1" fill="#1a1a1a" stroke="#1a1a1a" stroke-width="0.12">endoplasmic reticulum quality control compartment</text>
<line x1="595.7" y1="36.5" x2="558.0" y2="129.7" stroke="#a8a8a8" stroke-width="0.4"/>
<text transform="translate(682.8,35.5) scale(1,1.18)" font-size="6.1" fill="#1a1a1a" text-anchor="end" stroke="#1a1a1a" stroke-width="0.12">choloylglycine hydrolase activity</text>
<line x1="598.7" y1="52.6" x2="598.7" y2="201.8" stroke="#a8a8a8" stroke-width="0.4"/>
<text transform="translate(682.8,51.6) scale(1,1.18)" font-size="6.1" fill="#1a1a1a" text-anchor="end" stroke="#1a1a1a" stroke-width="0.12">hydrolase activity, acting on non−peptide C−N bonds</text>
<line x1="584.7" y1="60.4" x2="549.0" y2="156.7" stroke="#a8a8a8" stroke-width="0.4"/>
<text transform="translate(682.8,59.4) scale(1,1.18)" font-size="6.1" fill="#1a1a1a" text-anchor="end" stroke="#1a1a1a" stroke-width="0.12">glycine N−methyltransferase activity</text>
<line x1="594.5" y1="68.1" x2="594.5" y2="205.7" stroke="#a8a8a8" stroke-width="0.4"/>
<text transform="translate(682.8,67.1) scale(1,1.18)" font-size="6.1" fill="#1a1a1a" text-anchor="end" stroke="#1a1a1a" stroke-width="0.12">betaine−homocysteine S−methyltransferase activity</text>
<line x1="578.3" y1="75.9" x2="546.9" y2="163.3" stroke="#a8a8a8" stroke-width="0.4"/>
<text transform="translate(682.8,74.9) scale(1,1.18)" font-size="6.1" fill="#1a1a1a" text-anchor="end" stroke="#1a1a1a" stroke-width="0.12">DNA−templated transcription, initiation</text>
<line x1="588.4" y1="83.7" x2="553.4" y2="183.6" stroke="#a8a8a8" stroke-width="0.4"/>
<text transform="translate(682.8,82.7) scale(1,1.18)" font-size="6.1" fill="#1a1a1a" text-anchor="end" stroke="#1a1a1a" stroke-width="0.12">S−adenosyl−L−methionine binding</text>
<line x1="605.2" y1="91.4" x2="585.7" y2="208.6" stroke="#a8a8a8" stroke-width="0.4"/>
<text transform="translate(682.8,90.4) scale(1,1.18)" font-size="6.1" fill="#1a1a1a" text-anchor="end" stroke="#1a1a1a" stroke-width="0.12">sarcosine metabolic process</text>
<line x1="588.4" y1="99.2" x2="557.1" y2="194.4" stroke="#a8a8a8" stroke-width="0.4"/>
<text transform="translate(682.8,98.2) scale(1,1.18)" font-size="6.1" fill="#1a1a1a" text-anchor="end" stroke="#1a1a1a" stroke-width="0.12">L−methionine biosynthetic process</text>
<line x1="580.8" y1="107.0" x2="576.3" y2="198.9" stroke="#a8a8a8" stroke-width="0.4"/>
<text transform="translate(682.8,106.0) scale(1,1.18)" font-size="6.1" fill="#1a1a1a" text-anchor="end" stroke="#1a1a1a" stroke-width="0.12">small ribosomal subunit rRNA binding</text>
<line x1="586.3" y1="114.8" x2="586.3" y2="207.6" stroke="#a8a8a8" stroke-width="0.4"/>
<text transform="translate(682.8,113.8) scale(1,1.18)" font-size="6.1" fill="#1a1a1a" text-anchor="end" stroke="#1a1a1a" stroke-width="0.12">sulfur amino acid biosynthetic process</text>
<line x1="603.4" y1="122.5" x2="603.4" y2="209.3" stroke="#a8a8a8" stroke-width="0.4"/>
<text transform="translate(682.8,121.5) scale(1,1.18)" font-size="6.1" fill="#1a1a1a" text-anchor="end" stroke="#1a1a1a" stroke-width="0.12">proline catabolic process to glutamate</text>
<line x1="573.4" y1="130.3" x2="573.4" y2="203.4" stroke="#a8a8a8" stroke-width="0.4"/>
<text transform="translate(682.8,129.3) scale(1,1.18)" font-size="6.1" fill="#1a1a1a" text-anchor="end" textLength="124.0" lengthAdjust="spacingAndGlyphs" stroke="#1a1a1a" stroke-width="0.12">pos. regulation of killing of other organism's cells</text>
<line x1="599.2" y1="138.1" x2="599.2" y2="211.8" stroke="#a8a8a8" stroke-width="0.4"/>
<text transform="translate(682.8,137.1) scale(1,1.18)" font-size="6.1" fill="#1a1a1a" text-anchor="end" stroke="#1a1a1a" stroke-width="0.12">pos. regulation of nitric−oxide synthase</text>
<line x1="615.8" y1="145.8" x2="562.2" y2="209.4" stroke="#a8a8a8" stroke-width="0.4"/>
<text transform="translate(682.8,144.8) scale(1,1.18)" font-size="6.1" fill="#1a1a1a" text-anchor="end" stroke="#1a1a1a" stroke-width="0.12">sterol transporter activity</text>
<line x1="632.5" y1="153.6" x2="632.5" y2="211.6" stroke="#a8a8a8" stroke-width="0.4"/>
<text transform="translate(682.8,152.6) scale(1,1.18)" font-size="6.1" fill="#1a1a1a" text-anchor="end" stroke="#1a1a1a" stroke-width="0.12">oxidoreductase activity</text>
<line x1="635.4" y1="161.4" x2="572.0" y2="206.8" stroke="#a8a8a8" stroke-width="0.4"/>
<text transform="translate(682.8,160.4) scale(1,1.18)" font-size="6.1" fill="#1a1a1a" text-anchor="end" stroke="#1a1a1a" stroke-width="0.12">lipid homeostasis</text>
<line x1="645.9" y1="169.2" x2="579.1" y2="208.9" stroke="#a8a8a8" stroke-width="0.4"/>
<text transform="translate(682.8,168.2) scale(1,1.18)" font-size="6.1" fill="#1a1a1a" text-anchor="end" stroke="#1a1a1a" stroke-width="0.12">sterol binding</text>
<circle cx="500.9" cy="141.1" r="2.3" fill="none" stroke="#2a7d3c" stroke-width="0.9"/>
<circle cx="503.7" cy="139.9" r="2.3" fill="none" stroke="#2a7d3c" stroke-width="0.9"/>
<circle cx="500.6" cy="149.8" r="2.3" fill="none" stroke="#2a7d3c" stroke-width="0.9"/>
<circle cx="502.1" cy="151.3" r="2.3" fill="none" stroke="#2a7d3c" stroke-width="0.9"/>
<circle cx="499.7" cy="185.4" r="2.3" fill="none" stroke="#2a7d3c" stroke-width="0.9"/>
<circle cx="501.2" cy="188.5" r="2.3" fill="none" stroke="#2a7d3c" stroke-width="0.9"/>
<circle cx="479.5" cy="214.8" r="2.3" fill="none" stroke="#2a7d3c" stroke-width="0.9"/>
<circle cx="483.3" cy="215.4" r="2.3" fill="none" stroke="#2a7d3c" stroke-width="0.9"/>
<circle cx="477.2" cy="215.1" r="2.3" fill="none" stroke="#2a7d3c" stroke-width="0.9"/>
<circle cx="495.0" cy="213.3" r="2.3" fill="none" stroke="#2a7d3c" stroke-width="0.9"/>
<circle cx="497.5" cy="210.2" r="2.3" fill="none" stroke="#2a7d3c" stroke-width="0.9"/>
<circle cx="501.2" cy="207.0" r="2.3" fill="none" stroke="#2a7d3c" stroke-width="0.9"/>
<circle cx="499.7" cy="211.7" r="2.3" fill="none" stroke="#2a7d3c" stroke-width="0.9"/>
<circle cx="496.6" cy="214.8" r="2.3" fill="none" stroke="#2a7d3c" stroke-width="0.9"/>
<circle cx="493.5" cy="215.5" r="2.3" fill="none" stroke="#2a7d3c" stroke-width="0.9"/>
<circle cx="498.5" cy="215.5" r="2.3" fill="none" stroke="#2a7d3c" stroke-width="0.9"/>
<circle cx="557.0" cy="132.1" r="2.3" fill="none" stroke="#7d3590" stroke-width="0.9"/>
<circle cx="548.1" cy="159.1" r="2.3" fill="none" stroke="#7d3590" stroke-width="0.9"/>
<circle cx="546.0" cy="165.7" r="2.3" fill="none" stroke="#7d3590" stroke-width="0.9"/>
<circle cx="552.5" cy="186.1" r="2.3" fill="none" stroke="#7d3590" stroke-width="0.9"/>
<circle cx="556.3" cy="196.9" r="2.3" fill="none" stroke="#7d3590" stroke-width="0.9"/>
<circle cx="576.2" cy="201.5" r="2.3" fill="none" stroke="#7d3590" stroke-width="0.9"/>
<circle cx="573.4" cy="206.0" r="2.3" fill="none" stroke="#7d3590" stroke-width="0.9"/>
<circle cx="598.7" cy="204.4" r="2.3" fill="none" stroke="#7d3590" stroke-width="0.9"/>
<circle cx="594.5" cy="208.3" r="2.3" fill="none" stroke="#7d3590" stroke-width="0.9"/>
<circle cx="603.4" cy="211.9" r="2.3" fill="none" stroke="#7d3590" stroke-width="0.9"/>
<circle cx="599.2" cy="214.4" r="2.3" fill="none" stroke="#7d3590" stroke-width="0.9"/>
<circle cx="586.3" cy="210.2" r="2.3" fill="none" stroke="#7d3590" stroke-width="0.9"/>
<circle cx="585.3" cy="211.2" r="2.3" fill="none" stroke="#7d3590" stroke-width="0.9"/>
<circle cx="613.3" cy="215.6" r="2.3" fill="none" stroke="#7d3590" stroke-width="0.9"/>
<circle cx="632.5" cy="214.2" r="2.3" fill="none" stroke="#7d3590" stroke-width="0.9"/>
<circle cx="551.6" cy="210.2" r="2.3" fill="none" stroke="#7d3590" stroke-width="0.9"/>
<circle cx="544.5" cy="213.0" r="2.3" fill="none" stroke="#7d3590" stroke-width="0.9"/>
<circle cx="560.5" cy="211.4" r="2.3" fill="none" stroke="#7d3590" stroke-width="0.9"/>
<circle cx="569.9" cy="208.3" r="2.3" fill="none" stroke="#7d3590" stroke-width="0.9"/>
<circle cx="576.9" cy="210.2" r="2.3" fill="none" stroke="#7d3590" stroke-width="0.9"/>
<circle cx="572.2" cy="214.9" r="2.3" fill="none" stroke="#7d3590" stroke-width="0.9"/>
<circle cx="562.8" cy="215.4" r="2.3" fill="none" stroke="#7d3590" stroke-width="0.9"/>
<circle cx="555.8" cy="214.9" r="2.3" fill="none" stroke="#7d3590" stroke-width="0.9"/>
<circle cx="549.2" cy="215.6" r="2.3" fill="none" stroke="#7d3590" stroke-width="0.9"/>
<circle cx="575.7" cy="214.9" r="2.3" fill="none" stroke="#7d3590" stroke-width="0.9"/>
<circle cx="563.6" cy="215.0" r="2.3" fill="none" stroke="#7d3590" stroke-width="0.9"/>
<circle cx="571.0" cy="214.2" r="2.3" fill="none" stroke="#7d3590" stroke-width="0.9"/>
<circle cx="561.5" cy="210.5" r="2.3" fill="none" stroke="#7d3590" stroke-width="0.9"/>
<text x="376.0" y="25.0" font-size="12.4" fill="#1f7a35" stroke="#1f7a35" stroke-width="0.25" font-weight="bold" textLength="49.9" lengthAdjust="spacingAndGlyphs">Resilient</text>
<text x="608.8" y="16.5" font-size="12.4" fill="#7a2a8a" stroke="#7a2a8a" stroke-width="0.25" font-weight="bold" textLength="66.2" lengthAdjust="spacingAndGlyphs">Susceptible</text>
<text transform="translate(346.5,17.9) scale(1,1.1)" font-size="19" fill="#000" stroke="#000" stroke-width="0.5" font-weight="bold" textLength="11.4" lengthAdjust="spacingAndGlyphs">b</text>
<text transform="translate(361.0,5.2) scale(1,1.18)" font-size="7.7" fill="#1a1a1a" stroke="#1a1a1a" stroke-width="0.12">Timepoint 2</text>
<line x1="152.2" y1="293.5" x2="152.2" y2="518.5" stroke="#bdbdbd" stroke-width="0.6" stroke-dasharray="2.6,1.6"/>
<line x1="211.2" y1="293.5" x2="211.2" y2="518.5" stroke="#bdbdbd" stroke-width="0.6" stroke-dasharray="2.6,1.6"/>
<line x1="19.6" y1="509.0" x2="340.0" y2="509.0" stroke="#bdbdbd" stroke-width="0.6" stroke-dasharray="2.6,1.6"/>
<circle cx="191.1" cy="502.0" r="1.35" fill="#fff" stroke="#bfbfbf" stroke-width="0.42"/>
<circle cx="148.8" cy="497.9" r="1.35" fill="#fcfefc" stroke="#d1eacd" stroke-width="0.4"/>
<circle cx="180.1" cy="505.0" r="1.35" fill="#fff" stroke="#bfbfbf" stroke-width="0.42"/>
<circle cx="151.6" cy="500.2" r="1.35" fill="#fefffe" stroke="#d4ecd0" stroke-width="0.4"/>
<circle cx="149.7" cy="495.9" r="1.35" fill="#f9fcf8" stroke="#cbe8c7" stroke-width="0.4"/>
<circle cx="219.7" cy="479.5" r="1.35" fill="#ece4f4" stroke="#c7b1de" stroke-width="0.4"/>
<circle cx="206.0" cy="503.0" r="1.35" fill="#fff" stroke="#bfbfbf" stroke-width="0.42"/>
<circle cx="174.5" cy="499.6" r="1.35" fill="#fff" stroke="#bfbfbf" stroke-width="0.42"/>
<circle cx="184.1" cy="504.3" r="1.35" fill="#fff" stroke="#bfbfbf" stroke-width="0.42"/>
<circle cx="185.3" cy="508.6" r="1.35" fill="#fff" stroke="#bfbfbf" stroke-width="0.42"/>
<circle cx="188.5" cy="508.2" r="1.35" fill="#fff" stroke="#bfbfbf" stroke-width="0.42"/>
<circle cx="198.9" cy="497.7" r="1.35" fill="#fff" stroke="#bfbfbf" stroke-width="0.42"/>
<circle cx="137.3" cy="484.4" r="1.35" fill="#edf6ec" stroke="#bae0b5" stroke-width="0.4"/>
<circle cx="199.1" cy="490.8" r="1.35" fill="#fff" stroke="#bfbfbf" stroke-width="0.42"/>
<circle cx="145.2" cy="489.6" r="1.35" fill="#f1f8f0" stroke="#c0e2bb" stroke-width="0.4"/>
<circle cx="181.8" cy="508.0" r="1.35" fill="#fff" stroke="#bfbfbf" stroke-width="0.42"/>
<circle cx="180.5" cy="501.9" r="1.35" fill="#fff" stroke="#bfbfbf" stroke-width="0.42"/>
<circle cx="174.6" cy="506.1" r="1.35" fill="#fff" stroke="#bfbfbf" stroke-width="0.42"/>
<circle cx="198.1" cy="505.6" r="1.35" fill="#fff" stroke="#bfbfbf" stroke-width="0.42"/>
<circle cx="184.3" cy="497.6" r="1.35" fill="#fff" stroke="#bfbfbf" stroke-width="0.42"/>
<circle cx="156.8" cy="496.1" r="1.35" fill="#fff" stroke="#bfbfbf" stroke-width="0.42"/>
<circle cx="228.1" cy="492.3" r="1.35" fill="#ffffff" stroke="#e8def2" stroke-width="0.4"/>
<circle cx="169.2" cy="505.5" r="1.35" fill="#fff" stroke="#bfbfbf" stroke-width="0.42"/>
<circle cx="205.3" cy="463.5" r="1.35" fill="#fff" stroke="#bfbfbf" stroke-width="0.42"/>
<circle cx="166.8" cy="500.9" r="1.35" fill="#fff" stroke="#bfbfbf" stroke-width="0.42"/>
<circle cx="213.0" cy="476.4" r="1.35" fill="#e8def1" stroke="#bfa5d9" stroke-width="0.4"/>
<circle cx="197.2" cy="503.5" r="1.35" fill="#fff" stroke="#bfbfbf" stroke-width="0.42"/>
<circle cx="200.7" cy="471.2" r="1.35" fill="#fff" stroke="#bfbfbf" stroke-width="0.42"/>
<circle cx="193.3" cy="491.1" r="1.35" fill="#fff" stroke="#bfbfbf" stroke-width="0.42"/>
<circle cx="195.4" cy="506.2" r="1.35" fill="#fff" stroke="#bfbfbf" stroke-width="0.42"/>
<circle cx="194.3" cy="506.8" r="1.35" fill="#fff" stroke="#bfbfbf" stroke-width="0.42"/>
<circle cx="186.2" cy="502.6" r="1.35" fill="#fff" stroke="#bfbfbf" stroke-width="0.42"/>
<circle cx="166.9" cy="499.5" r="1.35" fill="#fff" stroke="#bfbfbf" stroke-width="0.42"/>
<circle cx="196.3" cy="505.7" r="1.35" fill="#fff" stroke="#bfbfbf" stroke-width="0.42"/>
<circle cx="219.1" cy="481.9" r="1.35" fill="#efe8f5" stroke="#cbb7e1" stroke-width="0.4"/>
<circle cx="201.0" cy="503.0" r="1.35" fill="#fff" stroke="#bfbfbf" stroke-width="0.42"/>
<circle cx="199.0" cy="502.7" r="1.35" fill="#fff" stroke="#bfbfbf" stroke-width="0.42"/>
<circle cx="225.7" cy="490.4" r="1.35" fill="#fbf9fd" stroke="#e1d5ee" stroke-width="0.4"/>
<circle cx="173.6" cy="489.8" r="1.35" fill="#fff" stroke="#bfbfbf" stroke-width="0.42"/>
<circle cx="187.8" cy="493.4" r="1.35" fill="#fff" stroke="#bfbfbf" stroke-width="0.42"/>
<circle cx="205.8" cy="485.4" r="1.35" fill="#fff" stroke="#bfbfbf" stroke-width="0.42"/>
<circle cx="242.0" cy="482.5" r="1.35" fill="#fdfcfe" stroke="#e4d9f0" stroke-width="0.4"/>
<circle cx="225.7" cy="491.3" r="1.35" fill="#fcfbfd" stroke="#e3d7ef" stroke-width="0.4"/>
<circle cx="184.8" cy="507.2" r="1.35" fill="#fff" stroke="#bfbfbf" stroke-width="0.42"/>
<circle cx="159.8" cy="503.7" r="1.35" fill="#fff" stroke="#bfbfbf" stroke-width="0.42"/>
<circle cx="209.3" cy="499.0" r="1.35" fill="#fff" stroke="#bfbfbf" stroke-width="0.42"/>
<circle cx="199.3" cy="492.3" r="1.35" fill="#fff" stroke="#bfbfbf" stroke-width="0.42"/>
<circle cx="162.8" cy="471.8" r="1.35" fill="#fff" stroke="#bfbfbf" stroke-width="0.42"/>
<circle cx="201.3" cy="495.5" r="1.35" fill="#fff" stroke="#bfbfbf" stroke-width="0.42"/>
<circle cx="137.3" cy="492.2" r="1.35" fill="#fdfefc" stroke="#d1eacd" stroke-width="0.4"/>
<circle cx="159.2" cy="502.6" r="1.35" fill="#fff" stroke="#bfbfbf" stroke-width="0.42"/>
<circle cx="220.1" cy="494.2" r="1.35" fill="#fcfbfd" stroke="#e3d7ef" stroke-width="0.4"/>
<circle cx="156.8" cy="501.1" r="1.35" fill="#fff" stroke="#bfbfbf" stroke-width="0.42"/>
<circle cx="177.8" cy="507.9" r="1.35" fill="#fff" stroke="#bfbfbf" stroke-width="0.42"/>
<circle cx="206.6" cy="494.9" r="1.35" fill="#fff" stroke="#bfbfbf" stroke-width="0.42"/>
<circle cx="159.0" cy="503.1" r="1.35" fill="#fff" stroke="#bfbfbf" stroke-width="0.42"/>
<circle cx="243.4" cy="481.3" r="1.35" fill="#fdfcfe" stroke="#e4d8ef" stroke-width="0.4"/>
<circle cx="197.0" cy="489.8" r="1.35" fill="#fff" stroke="#bfbfbf" stroke-width="0.42"/>
<circle cx="179.7" cy="503.4" r="1.35" fill="#fff" stroke="#bfbfbf" stroke-width="0.42"/>
<circle cx="227.8" cy="489.5" r="1.35" fill="#fbfafd" stroke="#e2d5ee" stroke-width="0.4"/>
<circle cx="199.6" cy="505.2" r="1.35" fill="#fff" stroke="#bfbfbf" stroke-width="0.42"/>
<circle cx="217.0" cy="496.0" r="1.35" fill="#fdfcfe" stroke="#e4d8f0" stroke-width="0.4"/>
<circle cx="136.6" cy="480.7" r="1.35" fill="#e6f3e4" stroke="#afdbaa" stroke-width="0.4"/>
<circle cx="164.0" cy="502.4" r="1.35" fill="#fff" stroke="#bfbfbf" stroke-width="0.42"/>
<circle cx="196.2" cy="506.4" r="1.35" fill="#fff" stroke="#bfbfbf" stroke-width="0.42"/>
<circle cx="173.4" cy="506.0" r="1.35" fill="#fff" stroke="#bfbfbf" stroke-width="0.42"/>
<circle cx="173.5" cy="507.1" r="1.35" fill="#fff" stroke="#bfbfbf" stroke-width="0.42"/>
<circle cx="184.6" cy="506.4" r="1.35" fill="#fff" stroke="#bfbfbf" stroke-width="0.42"/>
<circle cx="169.9" cy="503.1" r="1.35" fill="#fff" stroke="#bfbfbf" stroke-width="0.42"/>
<circle cx="175.9" cy="492.5" r="1.35" fill="#fff" stroke="#bfbfbf" stroke-width="0.42"/>
<circle cx="217.7" cy="480.1" r="1.35" fill="#ece5f4" stroke="#c7b1de" stroke-width="0.4"/>
<circle cx="177.3" cy="502.1" r="1.35" fill="#fff" stroke="#bfbfbf" stroke-width="0.42"/>
<circle cx="185.9" cy="508.6" r="1.35" fill="#fff" stroke="#bfbfbf" stroke-width="0.42"/>
<circle cx="186.8" cy="492.7" r="1.35" fill="#fff" stroke="#bfbfbf" stroke-width="0.42"/>
<circle cx="162.4" cy="504.9" r="1.35" fill="#fff" stroke="#bfbfbf" stroke-width="0.42"/>
<circle cx="141.8" cy="492.0" r="1.35" fill="#f8fcf7" stroke="#cae7c6" stroke-width="0.4"/>
<circle cx="186.2" cy="490.6" r="1.35" fill="#fff" stroke="#bfbfbf" stroke-width="0.42"/>
<circle cx="209.4" cy="479.4" r="1.35" fill="#fff" stroke="#bfbfbf" stroke-width="0.42"/>
<circle cx="195.9" cy="481.5" r="1.35" fill="#fff" stroke="#bfbfbf" stroke-width="0.42"/>
<circle cx="178.6" cy="498.3" r="1.35" fill="#fff" stroke="#bfbfbf" stroke-width="0.42"/>
<circle cx="159.2" cy="470.8" r="1.35" fill="#fff" stroke="#bfbfbf" stroke-width="0.42"/>
<circle cx="203.5" cy="490.4" r="1.35" fill="#fff" stroke="#bfbfbf" stroke-width="0.42"/>
<circle cx="164.5" cy="493.4" r="1.35" fill="#fff" stroke="#bfbfbf" stroke-width="0.42"/>
<circle cx="164.5" cy="492.3" r="1.35" fill="#fff" stroke="#bfbfbf" stroke-width="0.42"/>
<circle cx="198.8" cy="479.0" r="1.35" fill="#fff" stroke="#bfbfbf" stroke-width="0.42"/>
<circle cx="178.3" cy="499.5" r="1.35" fill="#fff" stroke="#bfbfbf" stroke-width="0.42"/>
<circle cx="157.4" cy="488.4" r="1.35" fill="#fff" stroke="#bfbfbf" stroke-width="0.42"/>
<circle cx="137.7" cy="493.4" r="1.35" fill="#fefffe" stroke="#d4ecd0" stroke-width="0.4"/>
<circle cx="199.0" cy="485.8" r="1.35" fill="#fff" stroke="#bfbfbf" stroke-width="0.42"/>
<circle cx="214.7" cy="490.0" r="1.35" fill="#f6f2f9" stroke="#d7c7e8" stroke-width="0.4"/>
<circle cx="188.0" cy="507.1" r="1.35" fill="#fff" stroke="#bfbfbf" stroke-width="0.42"/>
<circle cx="172.4" cy="498.1" r="1.35" fill="#fff" stroke="#bfbfbf" stroke-width="0.42"/>
<circle cx="154.2" cy="467.8" r="1.35" fill="#fff" stroke="#bfbfbf" stroke-width="0.42"/>
<circle cx="181.6" cy="507.8" r="1.35" fill="#fff" stroke="#bfbfbf" stroke-width="0.42"/>
<circle cx="185.4" cy="500.6" r="1.35" fill="#fff" stroke="#bfbfbf" stroke-width="0.42"/>
<circle cx="186.1" cy="493.7" r="1.35" fill="#fff" stroke="#bfbfbf" stroke-width="0.42"/>
<circle cx="196.1" cy="492.4" r="1.35" fill="#fff" stroke="#bfbfbf" stroke-width="0.42"/>
<circle cx="132.9" cy="487.4" r="1.35" fill="#f8fbf7" stroke="#cae7c5" stroke-width="0.4"/>
<circle cx="200.3" cy="488.6" r="1.35" fill="#fff" stroke="#bfbfbf" stroke-width="0.42"/>
<circle cx="190.1" cy="492.5" r="1.35" fill="#fff" stroke="#bfbfbf" stroke-width="0.42"/>
<circle cx="206.6" cy="468.4" r="1.35" fill="#fff" stroke="#bfbfbf" stroke-width="0.42"/>
<circle cx="199.5" cy="492.9" r="1.35" fill="#fff" stroke="#bfbfbf" stroke-width="0.42"/>
<circle cx="165.0" cy="502.0" r="1.35" fill="#fff" stroke="#bfbfbf" stroke-width="0.42"/>
<circle cx="200.7" cy="479.2" r="1.35" fill="#fff" stroke="#bfbfbf" stroke-width="0.42"/>
<circle cx="203.6" cy="475.1" r="1.35" fill="#fff" stroke="#bfbfbf" stroke-width="0.42"/>
<circle cx="167.1" cy="503.7" r="1.35" fill="#fff" stroke="#bfbfbf" stroke-width="0.42"/>
<circle cx="122.8" cy="483.8" r="1.35" fill="#fdfefd" stroke="#d2ebce" stroke-width="0.4"/>
<circle cx="162.8" cy="503.1" r="1.35" fill="#fff" stroke="#bfbfbf" stroke-width="0.42"/>
<circle cx="187.8" cy="504.6" r="1.35" fill="#fff" stroke="#bfbfbf" stroke-width="0.42"/>
<circle cx="161.3" cy="500.3" r="1.35" fill="#fff" stroke="#bfbfbf" stroke-width="0.42"/>
<circle cx="161.2" cy="477.3" r="1.35" fill="#fff" stroke="#bfbfbf" stroke-width="0.42"/>
<circle cx="208.7" cy="501.7" r="1.35" fill="#fff" stroke="#bfbfbf" stroke-width="0.42"/>
<circle cx="178.6" cy="508.8" r="1.35" fill="#fff" stroke="#bfbfbf" stroke-width="0.42"/>
<circle cx="186.7" cy="498.7" r="1.35" fill="#fff" stroke="#bfbfbf" stroke-width="0.42"/>
<circle cx="176.5" cy="502.0" r="1.35" fill="#fff" stroke="#bfbfbf" stroke-width="0.42"/>
<circle cx="165.8" cy="506.0" r="1.35" fill="#fff" stroke="#bfbfbf" stroke-width="0.42"/>
<circle cx="222.6" cy="494.6" r="1.35" fill="#fefeff" stroke="#e7dcf1" stroke-width="0.4"/>
<circle cx="176.4" cy="495.0" r="1.35" fill="#fff" stroke="#bfbfbf" stroke-width="0.42"/>
<circle cx="183.3" cy="508.0" r="1.35" fill="#fff" stroke="#bfbfbf" stroke-width="0.42"/>
<circle cx="186.6" cy="500.8" r="1.35" fill="#fff" stroke="#bfbfbf" stroke-width="0.42"/>
<circle cx="187.6" cy="504.0" r="1.35" fill="#fff" stroke="#bfbfbf" stroke-width="0.42"/>
<circle cx="156.9" cy="475.6" r="1.35" fill="#fff" stroke="#bfbfbf" stroke-width="0.42"/>
<circle cx="155.4" cy="465.1" r="1.35" fill="#fff" stroke="#bfbfbf" stroke-width="0.42"/>
<circle cx="175.1" cy="503.2" r="1.35" fill="#fff" stroke="#bfbfbf" stroke-width="0.42"/>
<circle cx="166.6" cy="505.0" r="1.35" fill="#fff" stroke="#bfbfbf" stroke-width="0.42"/>
<circle cx="209.7" cy="480.7" r="1.35" fill="#fff" stroke="#bfbfbf" stroke-width="0.42"/>
<circle cx="183.6" cy="508.3" r="1.35" fill="#fff" stroke="#bfbfbf" stroke-width="0.42"/>
<circle cx="178.5" cy="500.5" r="1.35" fill="#fff" stroke="#bfbfbf" stroke-width="0.42"/>
<circle cx="204.3" cy="492.1" r="1.35" fill="#fff" stroke="#bfbfbf" stroke-width="0.42"/>
<circle cx="150.4" cy="493.6" r="1.35" fill="#f4faf4" stroke="#c5e5c0" stroke-width="0.4"/>
<circle cx="154.3" cy="476.2" r="1.35" fill="#fff" stroke="#bfbfbf" stroke-width="0.42"/>
<circle cx="190.5" cy="487.0" r="1.35" fill="#fff" stroke="#bfbfbf" stroke-width="0.42"/>
<circle cx="175.8" cy="497.6" r="1.35" fill="#fff" stroke="#bfbfbf" stroke-width="0.42"/>
<circle cx="200.4" cy="490.4" r="1.35" fill="#fff" stroke="#bfbfbf" stroke-width="0.42"/>
<circle cx="201.5" cy="473.7" r="1.35" fill="#fff" stroke="#bfbfbf" stroke-width="0.42"/>
<circle cx="158.7" cy="471.7" r="1.35" fill="#fff" stroke="#bfbfbf" stroke-width="0.42"/>
<circle cx="204.2" cy="477.7" r="1.35" fill="#fff" stroke="#bfbfbf" stroke-width="0.42"/>
<circle cx="207.7" cy="484.5" r="1.35" fill="#fff" stroke="#bfbfbf" stroke-width="0.42"/>
<circle cx="172.2" cy="506.5" r="1.35" fill="#fff" stroke="#bfbfbf" stroke-width="0.42"/>
<circle cx="173.7" cy="498.2" r="1.35" fill="#fff" stroke="#bfbfbf" stroke-width="0.42"/>
<circle cx="136.6" cy="476.5" r="1.35" fill="#deefdb" stroke="#a2d59d" stroke-width="0.4"/>
<circle cx="193.9" cy="480.1" r="1.35" fill="#fff" stroke="#bfbfbf" stroke-width="0.42"/>
<circle cx="139.0" cy="490.7" r="1.35" fill="#f8fcf7" stroke="#cae7c6" stroke-width="0.4"/>
<circle cx="171.6" cy="486.3" r="1.35" fill="#fff" stroke="#bfbfbf" stroke-width="0.42"/>
<circle cx="195.8" cy="506.2" r="1.35" fill="#fff" stroke="#bfbfbf" stroke-width="0.42"/>
<circle cx="163.6" cy="497.9" r="1.35" fill="#fff" stroke="#bfbfbf" stroke-width="0.42"/>
<circle cx="141.4" cy="487.1" r="1.35" fill="#eff7ee" stroke="#bde1b8" stroke-width="0.4"/>
<circle cx="168.5" cy="506.7" r="1.35" fill="#fff" stroke="#bfbfbf" stroke-width="0.42"/>
<circle cx="185.0" cy="498.0" r="1.35" fill="#fff" stroke="#bfbfbf" stroke-width="0.42"/>
<circle cx="173.3" cy="507.1" r="1.35" fill="#fff" stroke="#bfbfbf" stroke-width="0.42"/>
<circle cx="159.5" cy="502.9" r="1.35" fill="#fff" stroke="#bfbfbf" stroke-width="0.42"/>
<circle cx="219.3" cy="496.2" r="1.35" fill="#fefefe" stroke="#e6dcf1" stroke-width="0.4"/>
<circle cx="177.6" cy="500.0" r="1.35" fill="#fff" stroke="#bfbfbf" stroke-width="0.42"/>
<circle cx="208.9" cy="465.7" r="1.35" fill="#fff" stroke="#bfbfbf" stroke-width="0.42"/>
<circle cx="172.1" cy="507.4" r="1.35" fill="#fff" stroke="#bfbfbf" stroke-width="0.42"/>
<circle cx="187.1" cy="506.6" r="1.35" fill="#fff" stroke="#bfbfbf" stroke-width="0.42"/>
<circle cx="211.5" cy="479.5" r="1.35" fill="#eae2f3" stroke="#c4acdc" stroke-width="0.4"/>
<circle cx="162.3" cy="478.4" r="1.35" fill="#fff" stroke="#bfbfbf" stroke-width="0.42"/>
<circle cx="158.6" cy="490.0" r="1.35" fill="#fff" stroke="#bfbfbf" stroke-width="0.42"/>
<circle cx="172.5" cy="490.1" r="1.35" fill="#fff" stroke="#bfbfbf" stroke-width="0.42"/>
<circle cx="204.2" cy="470.9" r="1.35" fill="#fff" stroke="#bfbfbf" stroke-width="0.42"/>
<circle cx="194.2" cy="480.2" r="1.35" fill="#fff" stroke="#bfbfbf" stroke-width="0.42"/>
<circle cx="228.4" cy="483.3" r="1.35" fill="#f4eff9" stroke="#d5c3e6" stroke-width="0.4"/>
<circle cx="166.8" cy="496.7" r="1.35" fill="#fff" stroke="#bfbfbf" stroke-width="0.42"/>
<circle cx="174.4" cy="502.2" r="1.35" fill="#fff" stroke="#bfbfbf" stroke-width="0.42"/>
<circle cx="177.1" cy="491.4" r="1.35" fill="#fff" stroke="#bfbfbf" stroke-width="0.42"/>
<circle cx="178.1" cy="503.9" r="1.35" fill="#fff" stroke="#bfbfbf" stroke-width="0.42"/>
<circle cx="145.6" cy="485.8" r="1.35" fill="#eaf5e8" stroke="#b5deb0" stroke-width="0.4"/>
<circle cx="207.7" cy="491.9" r="1.35" fill="#fff" stroke="#bfbfbf" stroke-width="0.42"/>
<circle cx="178.4" cy="503.7" r="1.35" fill="#fff" stroke="#bfbfbf" stroke-width="0.42"/>
<circle cx="173.2" cy="503.5" r="1.35" fill="#fff" stroke="#bfbfbf" stroke-width="0.42"/>
<circle cx="235.8" cy="485.5" r="1.35" fill="#fcfbfd" stroke="#e3d6ef" stroke-width="0.4"/>
<circle cx="166.7" cy="498.7" r="1.35" fill="#fff" stroke="#bfbfbf" stroke-width="0.42"/>
<circle cx="200.2" cy="481.1" r="1.35" fill="#fff" stroke="#bfbfbf" stroke-width="0.42"/>
<circle cx="200.6" cy="475.5" r="1.35" fill="#fff" stroke="#bfbfbf" stroke-width="0.42"/>
<circle cx="160.3" cy="502.5" r="1.35" fill="#fff" stroke="#bfbfbf" stroke-width="0.42"/>
<circle cx="184.9" cy="502.2" r="1.35" fill="#fff" stroke="#bfbfbf" stroke-width="0.42"/>
<circle cx="193.3" cy="490.2" r="1.35" fill="#fff" stroke="#bfbfbf" stroke-width="0.42"/>
<circle cx="175.8" cy="508.4" r="1.35" fill="#fff" stroke="#bfbfbf" stroke-width="0.42"/>
<circle cx="187.8" cy="498.4" r="1.35" fill="#fff" stroke="#bfbfbf" stroke-width="0.42"/>
<circle cx="198.4" cy="501.9" r="1.35" fill="#fff" stroke="#bfbfbf" stroke-width="0.42"/>
<circle cx="160.5" cy="503.7" r="1.35" fill="#fff" stroke="#bfbfbf" stroke-width="0.42"/>
<circle cx="208.9" cy="479.9" r="1.35" fill="#fff" stroke="#bfbfbf" stroke-width="0.42"/>
<circle cx="202.9" cy="501.4" r="1.35" fill="#fff" stroke="#bfbfbf" stroke-width="0.42"/>
<circle cx="202.3" cy="502.7" r="1.35" fill="#fff" stroke="#bfbfbf" stroke-width="0.42"/>
<circle cx="155.6" cy="496.1" r="1.35" fill="#fff" stroke="#bfbfbf" stroke-width="0.42"/>
<circle cx="176.7" cy="505.0" r="1.35" fill="#fff" stroke="#bfbfbf" stroke-width="0.42"/>
<circle cx="167.3" cy="504.9" r="1.35" fill="#fff" stroke="#bfbfbf" stroke-width="0.42"/>
<circle cx="179.0" cy="502.3" r="1.35" fill="#fff" stroke="#bfbfbf" stroke-width="0.42"/>
<circle cx="162.1" cy="477.6" r="1.35" fill="#fff" stroke="#bfbfbf" stroke-width="0.42"/>
<circle cx="158.4" cy="487.4" r="1.35" fill="#fff" stroke="#bfbfbf" stroke-width="0.42"/>
<circle cx="192.9" cy="492.1" r="1.35" fill="#fff" stroke="#bfbfbf" stroke-width="0.42"/>
<circle cx="167.6" cy="486.1" r="1.35" fill="#fff" stroke="#bfbfbf" stroke-width="0.42"/>
<circle cx="199.4" cy="501.6" r="1.35" fill="#fff" stroke="#bfbfbf" stroke-width="0.42"/>
<circle cx="169.3" cy="482.7" r="1.35" fill="#fff" stroke="#bfbfbf" stroke-width="0.42"/>
<circle cx="199.3" cy="477.9" r="1.35" fill="#fff" stroke="#bfbfbf" stroke-width="0.42"/>
<circle cx="193.9" cy="491.7" r="1.35" fill="#fff" stroke="#bfbfbf" stroke-width="0.42"/>
<circle cx="195.4" cy="504.3" r="1.35" fill="#fff" stroke="#bfbfbf" stroke-width="0.42"/>
<circle cx="220.1" cy="490.0" r="1.35" fill="#f8f5fb" stroke="#dbccea" stroke-width="0.4"/>
<circle cx="208.5" cy="476.4" r="1.35" fill="#fff" stroke="#bfbfbf" stroke-width="0.42"/>
<circle cx="199.4" cy="488.6" r="1.35" fill="#fff" stroke="#bfbfbf" stroke-width="0.42"/>
<circle cx="199.6" cy="505.3" r="1.35" fill="#fff" stroke="#bfbfbf" stroke-width="0.42"/>
<circle cx="193.1" cy="484.6" r="1.35" fill="#fff" stroke="#bfbfbf" stroke-width="0.42"/>
<circle cx="203.7" cy="480.5" r="1.35" fill="#fff" stroke="#bfbfbf" stroke-width="0.42"/>
<circle cx="201.2" cy="494.9" r="1.35" fill="#fff" stroke="#bfbfbf" stroke-width="0.42"/>
<circle cx="175.4" cy="508.2" r="1.35" fill="#fff" stroke="#bfbfbf" stroke-width="0.42"/>
<circle cx="167.0" cy="505.9" r="1.35" fill="#fff" stroke="#bfbfbf" stroke-width="0.42"/>
<circle cx="212.2" cy="489.6" r="1.35" fill="#f4f0f9" stroke="#d5c4e7" stroke-width="0.4"/>
<circle cx="189.0" cy="500.7" r="1.35" fill="#fff" stroke="#bfbfbf" stroke-width="0.42"/>
<circle cx="191.3" cy="506.5" r="1.35" fill="#fff" stroke="#bfbfbf" stroke-width="0.42"/>
<circle cx="194.3" cy="486.4" r="1.35" fill="#fff" stroke="#bfbfbf" stroke-width="0.42"/>
<circle cx="238.3" cy="485.8" r="1.35" fill="#fffeff" stroke="#e7ddf2" stroke-width="0.4"/>
<circle cx="178.2" cy="508.7" r="1.35" fill="#fff" stroke="#bfbfbf" stroke-width="0.42"/>
<circle cx="208.0" cy="478.1" r="1.35" fill="#fff" stroke="#bfbfbf" stroke-width="0.42"/>
<circle cx="173.4" cy="505.2" r="1.35" fill="#fff" stroke="#bfbfbf" stroke-width="0.42"/>
<circle cx="152.5" cy="493.2" r="1.35" fill="#fff" stroke="#bfbfbf" stroke-width="0.42"/>
<circle cx="187.8" cy="500.6" r="1.35" fill="#fff" stroke="#bfbfbf" stroke-width="0.42"/>
<circle cx="184.9" cy="508.1" r="1.35" fill="#fff" stroke="#bfbfbf" stroke-width="0.42"/>
<circle cx="142.8" cy="490.2" r="1.35" fill="#f4faf3" stroke="#c4e4bf" stroke-width="0.4"/>
<circle cx="193.3" cy="506.0" r="1.35" fill="#fff" stroke="#bfbfbf" stroke-width="0.42"/>
<circle cx="196.8" cy="506.2" r="1.35" fill="#fff" stroke="#bfbfbf" stroke-width="0.42"/>
<circle cx="207.3" cy="469.8" r="1.35" fill="#fff" stroke="#bfbfbf" stroke-width="0.42"/>
<circle cx="194.1" cy="485.8" r="1.35" fill="#fff" stroke="#bfbfbf" stroke-width="0.42"/>
<circle cx="145.0" cy="482.8" r="1.35" fill="#e5f3e3" stroke="#aedaa9" stroke-width="0.4"/>
<circle cx="154.0" cy="490.9" r="1.35" fill="#fff" stroke="#bfbfbf" stroke-width="0.42"/>
<circle cx="200.6" cy="470.1" r="1.35" fill="#fff" stroke="#bfbfbf" stroke-width="0.42"/>
<circle cx="188.2" cy="490.9" r="1.35" fill="#fff" stroke="#bfbfbf" stroke-width="0.42"/>
<circle cx="163.7" cy="485.3" r="1.35" fill="#fff" stroke="#bfbfbf" stroke-width="0.42"/>
<circle cx="189.7" cy="503.9" r="1.35" fill="#fff" stroke="#bfbfbf" stroke-width="0.42"/>
<circle cx="209.5" cy="477.7" r="1.35" fill="#fff" stroke="#bfbfbf" stroke-width="0.42"/>
<circle cx="155.5" cy="478.0" r="1.35" fill="#fff" stroke="#bfbfbf" stroke-width="0.42"/>
<circle cx="148.8" cy="499.1" r="1.35" fill="#ffffff" stroke="#d4ecd0" stroke-width="0.4"/>
<circle cx="203.9" cy="498.7" r="1.35" fill="#fff" stroke="#bfbfbf" stroke-width="0.42"/>
<circle cx="178.2" cy="506.4" r="1.35" fill="#fff" stroke="#bfbfbf" stroke-width="0.42"/>
<circle cx="182.4" cy="503.5" r="1.35" fill="#fff" stroke="#bfbfbf" stroke-width="0.42"/>
<circle cx="168.9" cy="481.0" r="1.35" fill="#fff" stroke="#bfbfbf" stroke-width="0.42"/>
<circle cx="169.0" cy="493.7" r="1.35" fill="#fff" stroke="#bfbfbf" stroke-width="0.42"/>
<circle cx="162.6" cy="492.5" r="1.35" fill="#fff" stroke="#bfbfbf" stroke-width="0.42"/>
<circle cx="212.7" cy="488.7" r="1.35" fill="#f4eff8" stroke="#d4c2e6" stroke-width="0.4"/>
<circle cx="186.8" cy="508.5" r="1.35" fill="#fff" stroke="#bfbfbf" stroke-width="0.42"/>
<circle cx="180.4" cy="506.5" r="1.35" fill="#fff" stroke="#bfbfbf" stroke-width="0.42"/>
<circle cx="162.7" cy="504.9" r="1.35" fill="#fff" stroke="#bfbfbf" stroke-width="0.42"/>
<circle cx="189.8" cy="507.7" r="1.35" fill="#fff" stroke="#bfbfbf" stroke-width="0.42"/>
<circle cx="204.4" cy="500.8" r="1.35" fill="#fff" stroke="#bfbfbf" stroke-width="0.42"/>
<circle cx="207.7" cy="491.2" r="1.35" fill="#fff" stroke="#bfbfbf" stroke-width="0.42"/>
<circle cx="164.2" cy="473.2" r="1.35" fill="#fff" stroke="#bfbfbf" stroke-width="0.42"/>
<circle cx="211.4" cy="477.8" r="1.35" fill="#e9dff2" stroke="#c1a8da" stroke-width="0.4"/>
<circle cx="197.1" cy="506.1" r="1.35" fill="#fff" stroke="#bfbfbf" stroke-width="0.42"/>
<circle cx="194.9" cy="499.7" r="1.35" fill="#fff" stroke="#bfbfbf" stroke-width="0.42"/>
<circle cx="175.5" cy="507.6" r="1.35" fill="#fff" stroke="#bfbfbf" stroke-width="0.42"/>
<circle cx="147.7" cy="498.7" r="1.35" fill="#ffffff" stroke="#d5ecd1" stroke-width="0.4"/>
<circle cx="182.7" cy="497.1" r="1.35" fill="#fff" stroke="#bfbfbf" stroke-width="0.42"/>
<circle cx="155.1" cy="487.0" r="1.35" fill="#fff" stroke="#bfbfbf" stroke-width="0.42"/>
<circle cx="196.2" cy="501.9" r="1.35" fill="#fff" stroke="#bfbfbf" stroke-width="0.42"/>
<circle cx="173.6" cy="500.4" r="1.35" fill="#fff" stroke="#bfbfbf" stroke-width="0.42"/>
<circle cx="216.9" cy="494.9" r="1.35" fill="#fcfafd" stroke="#e2d6ee" stroke-width="0.4"/>
<circle cx="177.4" cy="508.6" r="1.35" fill="#fff" stroke="#bfbfbf" stroke-width="0.42"/>
<circle cx="161.4" cy="501.9" r="1.35" fill="#fff" stroke="#bfbfbf" stroke-width="0.42"/>
<circle cx="195.6" cy="488.9" r="1.35" fill="#fff" stroke="#bfbfbf" stroke-width="0.42"/>
<circle cx="185.5" cy="505.8" r="1.35" fill="#fff" stroke="#bfbfbf" stroke-width="0.42"/>
<circle cx="214.6" cy="499.2" r="1.35" fill="#ffffff" stroke="#e8def2" stroke-width="0.4"/>
<circle cx="157.0" cy="462.8" r="1.35" fill="#fff" stroke="#bfbfbf" stroke-width="0.42"/>
<circle cx="190.8" cy="487.8" r="1.35" fill="#fff" stroke="#bfbfbf" stroke-width="0.42"/>
<circle cx="178.4" cy="505.5" r="1.35" fill="#fff" stroke="#bfbfbf" stroke-width="0.42"/>
<circle cx="115.7" cy="478.5" r="1.35" fill="#fbfdfa" stroke="#cfe9ca" stroke-width="0.4"/>
<circle cx="191.0" cy="500.6" r="1.35" fill="#fff" stroke="#bfbfbf" stroke-width="0.42"/>
<circle cx="218.3" cy="489.1" r="1.35" fill="#f6f2fa" stroke="#d8c8e8" stroke-width="0.4"/>
<circle cx="166.5" cy="475.7" r="1.35" fill="#fff" stroke="#bfbfbf" stroke-width="0.42"/>
<circle cx="195.4" cy="506.1" r="1.35" fill="#fff" stroke="#bfbfbf" stroke-width="0.42"/>
<circle cx="150.9" cy="484.7" r="1.35" fill="#e6f3e3" stroke="#aedaa9" stroke-width="0.4"/>
<circle cx="165.6" cy="505.8" r="1.35" fill="#fff" stroke="#bfbfbf" stroke-width="0.42"/>
<circle cx="186.3" cy="503.2" r="1.35" fill="#fff" stroke="#bfbfbf" stroke-width="0.42"/>
<circle cx="200.7" cy="488.2" r="1.35" fill="#fff" stroke="#bfbfbf" stroke-width="0.42"/>
<circle cx="200.6" cy="497.0" r="1.35" fill="#fff" stroke="#bfbfbf" stroke-width="0.42"/>
<circle cx="179.2" cy="505.9" r="1.35" fill="#fff" stroke="#bfbfbf" stroke-width="0.42"/>
<circle cx="214.3" cy="476.2" r="1.35" fill="#e8def1" stroke="#bfa6d9" stroke-width="0.4"/>
<circle cx="165.1" cy="487.3" r="1.35" fill="#fff" stroke="#bfbfbf" stroke-width="0.42"/>
<circle cx="182.6" cy="498.4" r="1.35" fill="#fff" stroke="#bfbfbf" stroke-width="0.42"/>
<circle cx="193.9" cy="489.4" r="1.35" fill="#fff" stroke="#bfbfbf" stroke-width="0.42"/>
<circle cx="165.2" cy="503.0" r="1.35" fill="#fff" stroke="#bfbfbf" stroke-width="0.42"/>
<circle cx="165.2" cy="489.6" r="1.35" fill="#fff" stroke="#bfbfbf" stroke-width="0.42"/>
<circle cx="151.3" cy="484.3" r="1.35" fill="#e5f2e3" stroke="#addaa8" stroke-width="0.4"/>
<circle cx="168.5" cy="489.7" r="1.35" fill="#fff" stroke="#bfbfbf" stroke-width="0.42"/>
<circle cx="188.6" cy="487.7" r="1.35" fill="#fff" stroke="#bfbfbf" stroke-width="0.42"/>
<circle cx="199.1" cy="476.5" r="1.35" fill="#fff" stroke="#bfbfbf" stroke-width="0.42"/>
<circle cx="186.8" cy="508.4" r="1.35" fill="#fff" stroke="#bfbfbf" stroke-width="0.42"/>
<circle cx="176.8" cy="507.0" r="1.35" fill="#fff" stroke="#bfbfbf" stroke-width="0.42"/>
<circle cx="150.8" cy="499.8" r="1.35" fill="#fefffe" stroke="#d4ebd0" stroke-width="0.4"/>
<circle cx="197.4" cy="496.0" r="1.35" fill="#fff" stroke="#bfbfbf" stroke-width="0.42"/>
<circle cx="191.2" cy="496.0" r="1.35" fill="#fff" stroke="#bfbfbf" stroke-width="0.42"/>
<circle cx="186.3" cy="502.7" r="1.35" fill="#fff" stroke="#bfbfbf" stroke-width="0.42"/>
<circle cx="165.4" cy="497.8" r="1.35" fill="#fff" stroke="#bfbfbf" stroke-width="0.42"/>
<circle cx="164.1" cy="503.7" r="1.35" fill="#fff" stroke="#bfbfbf" stroke-width="0.42"/>
<circle cx="159.0" cy="474.7" r="1.35" fill="#fff" stroke="#bfbfbf" stroke-width="0.42"/>
<circle cx="215.8" cy="498.6" r="1.35" fill="#ffffff" stroke="#e8ddf2" stroke-width="0.4"/>
<circle cx="214.6" cy="484.1" r="1.35" fill="#f0e9f6" stroke="#cdb9e2" stroke-width="0.4"/>
<circle cx="212.5" cy="477.0" r="1.35" fill="#e8dff2" stroke="#c0a7da" stroke-width="0.4"/>
<circle cx="187.7" cy="506.8" r="1.35" fill="#fff" stroke="#bfbfbf" stroke-width="0.42"/>
<circle cx="207.0" cy="475.4" r="1.35" fill="#fff" stroke="#bfbfbf" stroke-width="0.42"/>
<circle cx="157.2" cy="462.8" r="1.35" fill="#fff" stroke="#bfbfbf" stroke-width="0.42"/>
<circle cx="208.2" cy="497.4" r="1.35" fill="#fff" stroke="#bfbfbf" stroke-width="0.42"/>
<circle cx="169.4" cy="501.4" r="1.35" fill="#fff" stroke="#bfbfbf" stroke-width="0.42"/>
<circle cx="174.1" cy="490.8" r="1.35" fill="#fff" stroke="#bfbfbf" stroke-width="0.42"/>
<circle cx="189.9" cy="507.8" r="1.35" fill="#fff" stroke="#bfbfbf" stroke-width="0.42"/>
<circle cx="209.4" cy="491.7" r="1.35" fill="#fff" stroke="#bfbfbf" stroke-width="0.42"/>
<circle cx="197.6" cy="490.1" r="1.35" fill="#fff" stroke="#bfbfbf" stroke-width="0.42"/>
<circle cx="168.8" cy="506.6" r="1.35" fill="#fff" stroke="#bfbfbf" stroke-width="0.42"/>
<circle cx="222.5" cy="493.6" r="1.35" fill="#fdfcfe" stroke="#e4d9f0" stroke-width="0.4"/>
<circle cx="176.3" cy="506.5" r="1.35" fill="#fff" stroke="#bfbfbf" stroke-width="0.42"/>
<circle cx="173.0" cy="495.0" r="1.35" fill="#fff" stroke="#bfbfbf" stroke-width="0.42"/>
<circle cx="174.7" cy="507.7" r="1.35" fill="#fff" stroke="#bfbfbf" stroke-width="0.42"/>
<circle cx="162.7" cy="499.9" r="1.35" fill="#fff" stroke="#bfbfbf" stroke-width="0.42"/>
<circle cx="178.1" cy="508.4" r="1.35" fill="#fff" stroke="#bfbfbf" stroke-width="0.42"/>
<circle cx="158.3" cy="482.0" r="1.35" fill="#fff" stroke="#bfbfbf" stroke-width="0.42"/>
<circle cx="158.3" cy="468.8" r="1.35" fill="#fff" stroke="#bfbfbf" stroke-width="0.42"/>
<circle cx="140.4" cy="491.7" r="1.35" fill="#f8fcf8" stroke="#cbe8c7" stroke-width="0.4"/>
<circle cx="198.7" cy="501.8" r="1.35" fill="#fff" stroke="#bfbfbf" stroke-width="0.42"/>
<circle cx="215.8" cy="496.2" r="1.35" fill="#fcfbfd" stroke="#e3d8ef" stroke-width="0.4"/>
<circle cx="166.4" cy="501.5" r="1.35" fill="#fff" stroke="#bfbfbf" stroke-width="0.42"/>
<circle cx="199.8" cy="499.3" r="1.35" fill="#fff" stroke="#bfbfbf" stroke-width="0.42"/>
<circle cx="169.3" cy="497.5" r="1.35" fill="#fff" stroke="#bfbfbf" stroke-width="0.42"/>
<circle cx="192.3" cy="490.5" r="1.35" fill="#fff" stroke="#bfbfbf" stroke-width="0.42"/>
<circle cx="136.1" cy="482.4" r="1.35" fill="#eaf5e8" stroke="#b5deb0" stroke-width="0.4"/>
<circle cx="169.8" cy="506.1" r="1.35" fill="#fff" stroke="#bfbfbf" stroke-width="0.42"/>
<circle cx="184.6" cy="507.4" r="1.35" fill="#fff" stroke="#bfbfbf" stroke-width="0.42"/>
<circle cx="130.7" cy="489.6" r="1.35" fill="#ffffff" stroke="#d5ecd1" stroke-width="0.4"/>
<circle cx="150.8" cy="487.2" r="1.35" fill="#eaf5e8" stroke="#b5ddb0" stroke-width="0.4"/>
<circle cx="178.7" cy="493.7" r="1.35" fill="#fff" stroke="#bfbfbf" stroke-width="0.42"/>
<circle cx="155.7" cy="502.2" r="1.35" fill="#fff" stroke="#bfbfbf" stroke-width="0.42"/>
<circle cx="145.3" cy="486.3" r="1.35" fill="#ebf6ea" stroke="#b7deb2" stroke-width="0.4"/>
<circle cx="184.2" cy="508.7" r="1.35" fill="#fff" stroke="#bfbfbf" stroke-width="0.42"/>
<circle cx="171.6" cy="493.3" r="1.35" fill="#fff" stroke="#bfbfbf" stroke-width="0.42"/>
<circle cx="190.1" cy="498.1" r="1.35" fill="#fff" stroke="#bfbfbf" stroke-width="0.42"/>
<circle cx="175.5" cy="507.8" r="1.35" fill="#fff" stroke="#bfbfbf" stroke-width="0.42"/>
<circle cx="180.8" cy="508.1" r="1.35" fill="#fff" stroke="#bfbfbf" stroke-width="0.42"/>
<circle cx="145.9" cy="495.9" r="1.35" fill="#fbfdfb" stroke="#d0eacb" stroke-width="0.4"/>
<circle cx="184.6" cy="499.3" r="1.35" fill="#fff" stroke="#bfbfbf" stroke-width="0.42"/>
<circle cx="151.8" cy="494.1" r="1.35" fill="#f4faf3" stroke="#c5e5c0" stroke-width="0.4"/>
<circle cx="147.6" cy="481.5" r="1.35" fill="#e2f1df" stroke="#a8d8a3" stroke-width="0.4"/>
<circle cx="237.1" cy="480.3" r="1.35" fill="#f5f1f9" stroke="#d7c6e7" stroke-width="0.4"/>
<circle cx="143.2" cy="478.6" r="1.35" fill="#dfefdc" stroke="#a4d69e" stroke-width="0.4"/>
<circle cx="172.5" cy="487.3" r="1.35" fill="#fff" stroke="#bfbfbf" stroke-width="0.42"/>
<circle cx="142.5" cy="480.4" r="1.35" fill="#e2f1e0" stroke="#a9d8a4" stroke-width="0.4"/>
<circle cx="206.4" cy="472.6" r="1.35" fill="#fff" stroke="#bfbfbf" stroke-width="0.42"/>
<circle cx="197.9" cy="479.7" r="1.35" fill="#fff" stroke="#bfbfbf" stroke-width="0.42"/>
<circle cx="162.5" cy="485.9" r="1.35" fill="#fff" stroke="#bfbfbf" stroke-width="0.42"/>
<circle cx="158.4" cy="476.5" r="1.35" fill="#fff" stroke="#bfbfbf" stroke-width="0.42"/>
<circle cx="158.9" cy="502.6" r="1.35" fill="#fff" stroke="#bfbfbf" stroke-width="0.42"/>
<circle cx="193.9" cy="491.1" r="1.35" fill="#fff" stroke="#bfbfbf" stroke-width="0.42"/>
<circle cx="205.7" cy="501.8" r="1.35" fill="#fff" stroke="#bfbfbf" stroke-width="0.42"/>
<circle cx="180.3" cy="508.3" r="1.35" fill="#fff" stroke="#bfbfbf" stroke-width="0.42"/>
<circle cx="163.4" cy="471.8" r="1.35" fill="#fff" stroke="#bfbfbf" stroke-width="0.42"/>
<circle cx="191.1" cy="507.6" r="1.35" fill="#fff" stroke="#bfbfbf" stroke-width="0.42"/>
<circle cx="177.3" cy="500.7" r="1.35" fill="#fff" stroke="#bfbfbf" stroke-width="0.42"/>
<circle cx="193.1" cy="490.5" r="1.35" fill="#fff" stroke="#bfbfbf" stroke-width="0.42"/>
<circle cx="185.5" cy="504.8" r="1.35" fill="#fff" stroke="#bfbfbf" stroke-width="0.42"/>
<circle cx="189.7" cy="499.8" r="1.35" fill="#fff" stroke="#bfbfbf" stroke-width="0.42"/>
<circle cx="187.4" cy="508.1" r="1.35" fill="#fff" stroke="#bfbfbf" stroke-width="0.42"/>
<circle cx="178.1" cy="508.0" r="1.35" fill="#fff" stroke="#bfbfbf" stroke-width="0.42"/>
<circle cx="185.4" cy="499.7" r="1.35" fill="#fff" stroke="#bfbfbf" stroke-width="0.42"/>
<circle cx="199.5" cy="492.5" r="1.35" fill="#fff" stroke="#bfbfbf" stroke-width="0.42"/>
<circle cx="184.3" cy="507.4" r="1.35" fill="#fff" stroke="#bfbfbf" stroke-width="0.42"/>
<circle cx="197.3" cy="504.9" r="1.35" fill="#fff" stroke="#bfbfbf" stroke-width="0.42"/>
<circle cx="182.7" cy="504.7" r="1.35" fill="#fff" stroke="#bfbfbf" stroke-width="0.42"/>
<circle cx="160.3" cy="477.7" r="1.35" fill="#fff" stroke="#bfbfbf" stroke-width="0.42"/>
<circle cx="162.6" cy="476.1" r="1.35" fill="#fff" stroke="#bfbfbf" stroke-width="0.42"/>
<circle cx="184.2" cy="495.9" r="1.35" fill="#fff" stroke="#bfbfbf" stroke-width="0.42"/>
<circle cx="164.6" cy="474.5" r="1.35" fill="#fff" stroke="#bfbfbf" stroke-width="0.42"/>
<circle cx="207.8" cy="492.2" r="1.35" fill="#fff" stroke="#bfbfbf" stroke-width="0.42"/>
<circle cx="183.1" cy="496.4" r="1.35" fill="#fff" stroke="#bfbfbf" stroke-width="0.42"/>
<circle cx="189.5" cy="493.3" r="1.35" fill="#fff" stroke="#bfbfbf" stroke-width="0.42"/>
<circle cx="158.9" cy="492.2" r="1.35" fill="#fff" stroke="#bfbfbf" stroke-width="0.42"/>
<circle cx="201.8" cy="501.4" r="1.35" fill="#fff" stroke="#bfbfbf" stroke-width="0.42"/>
<circle cx="217.9" cy="495.4" r="1.35" fill="#fdfcfe" stroke="#e4d8ef" stroke-width="0.4"/>
<circle cx="179.5" cy="508.9" r="1.35" fill="#fff" stroke="#bfbfbf" stroke-width="0.42"/>
<circle cx="158.2" cy="476.5" r="1.35" fill="#fff" stroke="#bfbfbf" stroke-width="0.42"/>
<circle cx="185.8" cy="499.4" r="1.35" fill="#fff" stroke="#bfbfbf" stroke-width="0.42"/>
<circle cx="170.3" cy="506.4" r="1.35" fill="#fff" stroke="#bfbfbf" stroke-width="0.42"/>
<circle cx="172.7" cy="505.0" r="1.35" fill="#fff" stroke="#bfbfbf" stroke-width="0.42"/>
<circle cx="178.7" cy="504.2" r="1.35" fill="#fff" stroke="#bfbfbf" stroke-width="0.42"/>
<circle cx="231.6" cy="478.2" r="1.35" fill="#efe8f6" stroke="#ccb7e1" stroke-width="0.4"/>
<circle cx="201.2" cy="493.7" r="1.35" fill="#fff" stroke="#bfbfbf" stroke-width="0.42"/>
<circle cx="180.9" cy="508.6" r="1.35" fill="#fff" stroke="#bfbfbf" stroke-width="0.42"/>
<circle cx="181.9" cy="500.7" r="1.35" fill="#fff" stroke="#bfbfbf" stroke-width="0.42"/>
<circle cx="180.4" cy="499.0" r="1.35" fill="#fff" stroke="#bfbfbf" stroke-width="0.42"/>
<circle cx="186.2" cy="507.1" r="1.35" fill="#fff" stroke="#bfbfbf" stroke-width="0.42"/>
<circle cx="172.5" cy="494.8" r="1.35" fill="#fff" stroke="#bfbfbf" stroke-width="0.42"/>
<circle cx="204.9" cy="493.8" r="1.35" fill="#fff" stroke="#bfbfbf" stroke-width="0.42"/>
<circle cx="197.9" cy="475.7" r="1.35" fill="#fff" stroke="#bfbfbf" stroke-width="0.42"/>
<circle cx="139.9" cy="491.4" r="1.35" fill="#f9fcf8" stroke="#cbe8c7" stroke-width="0.4"/>
<circle cx="156.4" cy="476.7" r="1.35" fill="#fff" stroke="#bfbfbf" stroke-width="0.42"/>
<circle cx="133.8" cy="491.1" r="1.35" fill="#fefffe" stroke="#d4ecd0" stroke-width="0.4"/>
<circle cx="209.2" cy="474.1" r="1.35" fill="#fff" stroke="#bfbfbf" stroke-width="0.42"/>
<circle cx="189.7" cy="501.3" r="1.35" fill="#fff" stroke="#bfbfbf" stroke-width="0.42"/>
<circle cx="211.7" cy="499.6" r="1.35" fill="#fefdfe" stroke="#e6dbf1" stroke-width="0.4"/>
<circle cx="192.2" cy="504.6" r="1.35" fill="#fff" stroke="#bfbfbf" stroke-width="0.42"/>
<circle cx="163.1" cy="504.9" r="1.35" fill="#fff" stroke="#bfbfbf" stroke-width="0.42"/>
<circle cx="172.2" cy="494.6" r="1.35" fill="#fff" stroke="#bfbfbf" stroke-width="0.42"/>
<circle cx="207.8" cy="496.6" r="1.35" fill="#fff" stroke="#bfbfbf" stroke-width="0.42"/>
<circle cx="177.2" cy="505.5" r="1.35" fill="#fff" stroke="#bfbfbf" stroke-width="0.42"/>
<circle cx="170.9" cy="501.3" r="1.35" fill="#fff" stroke="#bfbfbf" stroke-width="0.42"/>
<circle cx="227.3" cy="479.0" r="1.35" fill="#eee7f5" stroke="#cab5e0" stroke-width="0.4"/>
<circle cx="172.1" cy="507.6" r="1.35" fill="#fff" stroke="#bfbfbf" stroke-width="0.42"/>
<circle cx="153.8" cy="499.0" r="1.35" fill="#fff" stroke="#bfbfbf" stroke-width="0.42"/>
<circle cx="208.9" cy="488.4" r="1.35" fill="#fff" stroke="#bfbfbf" stroke-width="0.42"/>
<circle cx="178.2" cy="492.3" r="1.35" fill="#fff" stroke="#bfbfbf" stroke-width="0.42"/>
<circle cx="182.6" cy="500.4" r="1.35" fill="#fff" stroke="#bfbfbf" stroke-width="0.42"/>
<circle cx="190.9" cy="505.4" r="1.35" fill="#fff" stroke="#bfbfbf" stroke-width="0.42"/>
<circle cx="214.7" cy="493.5" r="1.35" fill="#f9f7fc" stroke="#ded0ec" stroke-width="0.4"/>
<circle cx="161.5" cy="499.8" r="1.35" fill="#fff" stroke="#bfbfbf" stroke-width="0.42"/>
<circle cx="176.5" cy="505.3" r="1.35" fill="#fff" stroke="#bfbfbf" stroke-width="0.42"/>
<circle cx="172.2" cy="506.5" r="1.35" fill="#fff" stroke="#bfbfbf" stroke-width="0.42"/>
<circle cx="165.2" cy="487.4" r="1.35" fill="#fff" stroke="#bfbfbf" stroke-width="0.42"/>
<circle cx="153.1" cy="488.1" r="1.35" fill="#fff" stroke="#bfbfbf" stroke-width="0.42"/>
<circle cx="158.9" cy="503.2" r="1.35" fill="#fff" stroke="#bfbfbf" stroke-width="0.42"/>
<circle cx="222.1" cy="494.8" r="1.35" fill="#fefefe" stroke="#e6dcf1" stroke-width="0.4"/>
<circle cx="212.6" cy="480.4" r="1.35" fill="#ebe3f4" stroke="#c6afdd" stroke-width="0.4"/>
<circle cx="202.5" cy="502.9" r="1.35" fill="#fff" stroke="#bfbfbf" stroke-width="0.42"/>
<circle cx="143.1" cy="483.8" r="1.35" fill="#e8f4e6" stroke="#b2dcad" stroke-width="0.4"/>
<circle cx="208.9" cy="501.5" r="1.35" fill="#fff" stroke="#bfbfbf" stroke-width="0.42"/>
<circle cx="183.8" cy="508.6" r="1.35" fill="#fff" stroke="#bfbfbf" stroke-width="0.42"/>
<circle cx="196.0" cy="500.9" r="1.35" fill="#fff" stroke="#bfbfbf" stroke-width="0.42"/>
<circle cx="231.8" cy="484.6" r="1.35" fill="#f8f4fb" stroke="#dbccea" stroke-width="0.4"/>
<circle cx="206.3" cy="491.5" r="1.35" fill="#fff" stroke="#bfbfbf" stroke-width="0.42"/>
<circle cx="156.3" cy="474.7" r="1.35" fill="#fff" stroke="#bfbfbf" stroke-width="0.42"/>
<circle cx="147.9" cy="492.9" r="1.35" fill="#f5faf4" stroke="#c5e5c1" stroke-width="0.4"/>
<circle cx="169.2" cy="506.9" r="1.35" fill="#fff" stroke="#bfbfbf" stroke-width="0.42"/>
<circle cx="204.0" cy="496.8" r="1.35" fill="#fff" stroke="#bfbfbf" stroke-width="0.42"/>
<circle cx="160.0" cy="478.9" r="1.35" fill="#fff" stroke="#bfbfbf" stroke-width="0.42"/>
<circle cx="178.0" cy="506.6" r="1.35" fill="#fff" stroke="#bfbfbf" stroke-width="0.42"/>
<circle cx="178.7" cy="506.7" r="1.35" fill="#fff" stroke="#bfbfbf" stroke-width="0.42"/>
<circle cx="174.8" cy="504.9" r="1.35" fill="#fff" stroke="#bfbfbf" stroke-width="0.42"/>
<circle cx="172.2" cy="500.8" r="1.35" fill="#fff" stroke="#bfbfbf" stroke-width="0.42"/>
<circle cx="192.8" cy="496.8" r="1.35" fill="#fff" stroke="#bfbfbf" stroke-width="0.42"/>
<circle cx="136.8" cy="492.2" r="1.35" fill="#fdfefd" stroke="#d2ebce" stroke-width="0.4"/>
<circle cx="187.2" cy="502.2" r="1.35" fill="#fff" stroke="#bfbfbf" stroke-width="0.42"/>
<circle cx="128.5" cy="484.6" r="1.35" fill="#f6fbf6" stroke="#c8e6c4" stroke-width="0.4"/>
<circle cx="168.0" cy="490.9" r="1.35" fill="#fff" stroke="#bfbfbf" stroke-width="0.42"/>
<circle cx="181.7" cy="497.5" r="1.35" fill="#fff" stroke="#bfbfbf" stroke-width="0.42"/>
<circle cx="177.7" cy="507.9" r="1.35" fill="#fff" stroke="#bfbfbf" stroke-width="0.42"/>
<circle cx="214.4" cy="497.7" r="1.35" fill="#fdfdfe" stroke="#e5daf0" stroke-width="0.4"/>
<circle cx="169.9" cy="506.9" r="1.35" fill="#fff" stroke="#bfbfbf" stroke-width="0.42"/>
<circle cx="182.8" cy="502.2" r="1.35" fill="#fff" stroke="#bfbfbf" stroke-width="0.42"/>
<circle cx="214.2" cy="495.0" r="1.35" fill="#faf9fc" stroke="#e0d3ed" stroke-width="0.4"/>
<circle cx="202.9" cy="495.3" r="1.35" fill="#fff" stroke="#bfbfbf" stroke-width="0.42"/>
<circle cx="171.6" cy="507.1" r="1.35" fill="#fff" stroke="#bfbfbf" stroke-width="0.42"/>
<circle cx="194.9" cy="482.6" r="1.35" fill="#fff" stroke="#bfbfbf" stroke-width="0.42"/>
<circle cx="179.5" cy="504.2" r="1.35" fill="#fff" stroke="#bfbfbf" stroke-width="0.42"/>
<circle cx="152.2" cy="497.8" r="1.35" fill="#fff" stroke="#bfbfbf" stroke-width="0.42"/>
<circle cx="169.9" cy="484.1" r="1.35" fill="#fff" stroke="#bfbfbf" stroke-width="0.42"/>
<circle cx="227.4" cy="481.0" r="1.35" fill="#f1ebf7" stroke="#cfbbe3" stroke-width="0.4"/>
<circle cx="179.4" cy="508.6" r="1.35" fill="#fff" stroke="#bfbfbf" stroke-width="0.42"/>
<circle cx="190.9" cy="488.0" r="1.35" fill="#fff" stroke="#bfbfbf" stroke-width="0.42"/>
<circle cx="163.5" cy="502.9" r="1.35" fill="#fff" stroke="#bfbfbf" stroke-width="0.42"/>
<circle cx="139.9" cy="493.5" r="1.35" fill="#fcfefc" stroke="#d1eacd" stroke-width="0.4"/>
<circle cx="160.9" cy="492.2" r="1.35" fill="#fff" stroke="#bfbfbf" stroke-width="0.42"/>
<circle cx="187.3" cy="507.7" r="1.35" fill="#fff" stroke="#bfbfbf" stroke-width="0.42"/>
<circle cx="184.6" cy="493.3" r="1.35" fill="#fff" stroke="#bfbfbf" stroke-width="0.42"/>
<circle cx="215.4" cy="495.0" r="1.35" fill="#fbf9fd" stroke="#e1d4ee" stroke-width="0.4"/>
<circle cx="168.2" cy="492.8" r="1.35" fill="#fff" stroke="#bfbfbf" stroke-width="0.42"/>
<circle cx="179.8" cy="503.6" r="1.35" fill="#fff" stroke="#bfbfbf" stroke-width="0.42"/>
<circle cx="157.5" cy="475.9" r="1.35" fill="#fff" stroke="#bfbfbf" stroke-width="0.42"/>
<circle cx="198.1" cy="498.0" r="1.35" fill="#fff" stroke="#bfbfbf" stroke-width="0.42"/>
<circle cx="183.4" cy="508.6" r="1.35" fill="#fff" stroke="#bfbfbf" stroke-width="0.42"/>
<circle cx="157.4" cy="501.6" r="1.35" fill="#fff" stroke="#bfbfbf" stroke-width="0.42"/>
<circle cx="202.8" cy="493.2" r="1.35" fill="#fff" stroke="#bfbfbf" stroke-width="0.42"/>
<circle cx="178.9" cy="506.9" r="1.35" fill="#fff" stroke="#bfbfbf" stroke-width="0.42"/>
<circle cx="213.7" cy="483.5" r="1.35" fill="#efe8f5" stroke="#cbb7e1" stroke-width="0.4"/>
<circle cx="217.6" cy="497.0" r="1.35" fill="#fefefe" stroke="#e6dcf1" stroke-width="0.4"/>
<circle cx="190.4" cy="486.0" r="1.35" fill="#fff" stroke="#bfbfbf" stroke-width="0.42"/>
<circle cx="159.1" cy="496.3" r="1.35" fill="#fff" stroke="#bfbfbf" stroke-width="0.42"/>
<circle cx="165.3" cy="492.3" r="1.35" fill="#fff" stroke="#bfbfbf" stroke-width="0.42"/>
<circle cx="166.2" cy="487.4" r="1.35" fill="#fff" stroke="#bfbfbf" stroke-width="0.42"/>
<circle cx="143.0" cy="487.7" r="1.35" fill="#eff7ee" stroke="#bde1b8" stroke-width="0.4"/>
<circle cx="180.1" cy="506.3" r="1.35" fill="#fff" stroke="#bfbfbf" stroke-width="0.42"/>
<circle cx="152.4" cy="468.7" r="1.35" fill="#fff" stroke="#bfbfbf" stroke-width="0.42"/>
<circle cx="194.6" cy="498.3" r="1.35" fill="#fff" stroke="#bfbfbf" stroke-width="0.42"/>
<circle cx="155.7" cy="469.0" r="1.35" fill="#fff" stroke="#bfbfbf" stroke-width="0.42"/>
<circle cx="177.6" cy="506.6" r="1.35" fill="#fff" stroke="#bfbfbf" stroke-width="0.42"/>
<circle cx="195.1" cy="490.4" r="1.35" fill="#fff" stroke="#bfbfbf" stroke-width="0.42"/>
<circle cx="147.9" cy="495.1" r="1.35" fill="#f8fcf8" stroke="#cbe8c7" stroke-width="0.4"/>
<circle cx="157.9" cy="487.9" r="1.35" fill="#fff" stroke="#bfbfbf" stroke-width="0.42"/>
<circle cx="193.3" cy="501.3" r="1.35" fill="#fff" stroke="#bfbfbf" stroke-width="0.42"/>
<circle cx="187.1" cy="503.2" r="1.35" fill="#fff" stroke="#bfbfbf" stroke-width="0.42"/>
<circle cx="175.2" cy="497.9" r="1.35" fill="#fff" stroke="#bfbfbf" stroke-width="0.42"/>
<circle cx="186.6" cy="503.0" r="1.35" fill="#fff" stroke="#bfbfbf" stroke-width="0.42"/>
<circle cx="183.1" cy="506.6" r="1.35" fill="#fff" stroke="#bfbfbf" stroke-width="0.42"/>
<circle cx="202.8" cy="501.8" r="1.35" fill="#fff" stroke="#bfbfbf" stroke-width="0.42"/>
<circle cx="204.4" cy="485.0" r="1.35" fill="#fff" stroke="#bfbfbf" stroke-width="0.42"/>
<circle cx="199.0" cy="482.9" r="1.35" fill="#fff" stroke="#bfbfbf" stroke-width="0.42"/>
<circle cx="162.4" cy="502.8" r="1.35" fill="#fff" stroke="#bfbfbf" stroke-width="0.42"/>
<circle cx="181.0" cy="498.5" r="1.35" fill="#fff" stroke="#bfbfbf" stroke-width="0.42"/>
<circle cx="149.7" cy="499.3" r="1.35" fill="#fefffe" stroke="#d4ebd0" stroke-width="0.4"/>
<circle cx="185.1" cy="503.7" r="1.35" fill="#fff" stroke="#bfbfbf" stroke-width="0.42"/>
<circle cx="169.4" cy="481.4" r="1.35" fill="#fff" stroke="#bfbfbf" stroke-width="0.42"/>
<circle cx="200.2" cy="501.6" r="1.35" fill="#fff" stroke="#bfbfbf" stroke-width="0.42"/>
<circle cx="181.8" cy="507.6" r="1.35" fill="#fff" stroke="#bfbfbf" stroke-width="0.42"/>
<circle cx="201.9" cy="498.1" r="1.35" fill="#fff" stroke="#bfbfbf" stroke-width="0.42"/>
<circle cx="161.3" cy="504.4" r="1.35" fill="#fff" stroke="#bfbfbf" stroke-width="0.42"/>
<circle cx="207.5" cy="502.4" r="1.35" fill="#fff" stroke="#bfbfbf" stroke-width="0.42"/>
<circle cx="198.8" cy="496.6" r="1.35" fill="#fff" stroke="#bfbfbf" stroke-width="0.42"/>
<circle cx="169.0" cy="481.8" r="1.35" fill="#fff" stroke="#bfbfbf" stroke-width="0.42"/>
<circle cx="209.4" cy="499.7" r="1.35" fill="#fff" stroke="#bfbfbf" stroke-width="0.42"/>
<circle cx="177.7" cy="507.0" r="1.35" fill="#fff" stroke="#bfbfbf" stroke-width="0.42"/>
<circle cx="228.4" cy="490.8" r="1.35" fill="#fdfdfe" stroke="#e5daf0" stroke-width="0.4"/>
<circle cx="157.0" cy="473.7" r="1.35" fill="#fff" stroke="#bfbfbf" stroke-width="0.42"/>
<circle cx="164.6" cy="504.4" r="1.35" fill="#fff" stroke="#bfbfbf" stroke-width="0.42"/>
<circle cx="203.9" cy="472.6" r="1.35" fill="#fff" stroke="#bfbfbf" stroke-width="0.42"/>
<circle cx="198.3" cy="491.8" r="1.35" fill="#fff" stroke="#bfbfbf" stroke-width="0.42"/>
<circle cx="181.2" cy="508.4" r="1.35" fill="#fff" stroke="#bfbfbf" stroke-width="0.42"/>
<circle cx="187.5" cy="508.1" r="1.35" fill="#fff" stroke="#bfbfbf" stroke-width="0.42"/>
<circle cx="176.3" cy="497.9" r="1.35" fill="#fff" stroke="#bfbfbf" stroke-width="0.42"/>
<circle cx="161.2" cy="475.4" r="1.35" fill="#fff" stroke="#bfbfbf" stroke-width="0.42"/>
<circle cx="230.8" cy="475.6" r="1.35" fill="#ebe3f3" stroke="#c5aedd" stroke-width="0.4"/>
<circle cx="207.0" cy="466.6" r="1.35" fill="#fff" stroke="#bfbfbf" stroke-width="0.42"/>
<circle cx="210.4" cy="492.8" r="1.35" fill="#fff" stroke="#bfbfbf" stroke-width="0.42"/>
<circle cx="197.2" cy="502.7" r="1.35" fill="#fff" stroke="#bfbfbf" stroke-width="0.42"/>
<circle cx="190.1" cy="495.8" r="1.35" fill="#fff" stroke="#bfbfbf" stroke-width="0.42"/>
<circle cx="186.9" cy="507.3" r="1.35" fill="#fff" stroke="#bfbfbf" stroke-width="0.42"/>
<circle cx="196.5" cy="492.0" r="1.35" fill="#fff" stroke="#bfbfbf" stroke-width="0.42"/>
<circle cx="187.7" cy="499.2" r="1.35" fill="#fff" stroke="#bfbfbf" stroke-width="0.42"/>
<circle cx="158.5" cy="471.1" r="1.35" fill="#fff" stroke="#bfbfbf" stroke-width="0.42"/>
<circle cx="166.6" cy="503.0" r="1.35" fill="#fff" stroke="#bfbfbf" stroke-width="0.42"/>
<circle cx="172.1" cy="486.3" r="1.35" fill="#fff" stroke="#bfbfbf" stroke-width="0.42"/>
<circle cx="171.8" cy="496.8" r="1.35" fill="#fff" stroke="#bfbfbf" stroke-width="0.42"/>
<circle cx="164.4" cy="505.2" r="1.35" fill="#fff" stroke="#bfbfbf" stroke-width="0.42"/>
<circle cx="208.2" cy="490.2" r="1.35" fill="#fff" stroke="#bfbfbf" stroke-width="0.42"/>
<circle cx="178.9" cy="504.1" r="1.35" fill="#fff" stroke="#bfbfbf" stroke-width="0.42"/>
<circle cx="213.9" cy="496.2" r="1.35" fill="#fcfafd" stroke="#e2d6ee" stroke-width="0.4"/>
<circle cx="191.1" cy="505.9" r="1.35" fill="#fff" stroke="#bfbfbf" stroke-width="0.42"/>
<circle cx="185.2" cy="507.2" r="1.35" fill="#fff" stroke="#bfbfbf" stroke-width="0.42"/>
<circle cx="171.7" cy="492.7" r="1.35" fill="#fff" stroke="#bfbfbf" stroke-width="0.42"/>
<circle cx="182.2" cy="505.0" r="1.35" fill="#fff" stroke="#bfbfbf" stroke-width="0.42"/>
<circle cx="201.7" cy="503.1" r="1.35" fill="#fff" stroke="#bfbfbf" stroke-width="0.42"/>
<circle cx="240.4" cy="484.7" r="1.35" fill="#ffffff" stroke="#e8def2" stroke-width="0.4"/>
<circle cx="137.4" cy="486.2" r="1.35" fill="#f1f8ef" stroke="#bfe2bb" stroke-width="0.4"/>
<circle cx="181.8" cy="498.7" r="1.35" fill="#fff" stroke="#bfbfbf" stroke-width="0.42"/>
<circle cx="157.3" cy="492.0" r="1.35" fill="#fff" stroke="#bfbfbf" stroke-width="0.42"/>
<circle cx="195.2" cy="493.8" r="1.35" fill="#fff" stroke="#bfbfbf" stroke-width="0.42"/>
<circle cx="210.3" cy="495.7" r="1.35" fill="#fff" stroke="#bfbfbf" stroke-width="0.42"/>
<circle cx="158.1" cy="491.5" r="1.35" fill="#fff" stroke="#bfbfbf" stroke-width="0.42"/>
<circle cx="145.4" cy="487.9" r="1.35" fill="#eef7ec" stroke="#bbe0b6" stroke-width="0.4"/>
<circle cx="202.9" cy="493.0" r="1.35" fill="#fff" stroke="#bfbfbf" stroke-width="0.42"/>
<circle cx="201.5" cy="503.5" r="1.35" fill="#fff" stroke="#bfbfbf" stroke-width="0.42"/>
<circle cx="220.0" cy="483.2" r="1.35" fill="#f0eaf6" stroke="#cebbe2" stroke-width="0.4"/>
<circle cx="184.2" cy="499.5" r="1.35" fill="#fff" stroke="#bfbfbf" stroke-width="0.42"/>
<circle cx="208.3" cy="476.7" r="1.35" fill="#fff" stroke="#bfbfbf" stroke-width="0.42"/>
<circle cx="186.3" cy="503.9" r="1.35" fill="#fff" stroke="#bfbfbf" stroke-width="0.42"/>
<circle cx="164.1" cy="503.5" r="1.35" fill="#fff" stroke="#bfbfbf" stroke-width="0.42"/>
<circle cx="156.2" cy="502.5" r="1.35" fill="#fff" stroke="#bfbfbf" stroke-width="0.42"/>
<circle cx="167.7" cy="495.2" r="1.35" fill="#fff" stroke="#bfbfbf" stroke-width="0.42"/>
<circle cx="174.6" cy="491.5" r="1.35" fill="#fff" stroke="#bfbfbf" stroke-width="0.42"/>
<circle cx="150.2" cy="498.5" r="1.35" fill="#fdfefc" stroke="#d1eacd" stroke-width="0.4"/>
<circle cx="184.4" cy="504.7" r="1.35" fill="#fff" stroke="#bfbfbf" stroke-width="0.42"/>
<circle cx="185.5" cy="505.2" r="1.35" fill="#fff" stroke="#bfbfbf" stroke-width="0.42"/>
<circle cx="163.6" cy="482.4" r="1.35" fill="#fff" stroke="#bfbfbf" stroke-width="0.42"/>
<circle cx="188.6" cy="508.1" r="1.35" fill="#fff" stroke="#bfbfbf" stroke-width="0.42"/>
<circle cx="208.5" cy="489.5" r="1.35" fill="#fff" stroke="#bfbfbf" stroke-width="0.42"/>
<circle cx="164.0" cy="483.2" r="1.35" fill="#fff" stroke="#bfbfbf" stroke-width="0.42"/>
<circle cx="182.8" cy="507.5" r="1.35" fill="#fff" stroke="#bfbfbf" stroke-width="0.42"/>
<circle cx="195.6" cy="506.5" r="1.35" fill="#fff" stroke="#bfbfbf" stroke-width="0.42"/>
<circle cx="168.1" cy="497.9" r="1.35" fill="#fff" stroke="#bfbfbf" stroke-width="0.42"/>
<circle cx="213.4" cy="496.9" r="1.35" fill="#fcfbfd" stroke="#e3d7ef" stroke-width="0.4"/>
<circle cx="172.6" cy="491.2" r="1.35" fill="#fff" stroke="#bfbfbf" stroke-width="0.42"/>
<circle cx="176.1" cy="507.7" r="1.35" fill="#fff" stroke="#bfbfbf" stroke-width="0.42"/>
<circle cx="181.3" cy="502.8" r="1.35" fill="#fff" stroke="#bfbfbf" stroke-width="0.42"/>
<circle cx="196.3" cy="484.6" r="1.35" fill="#fff" stroke="#bfbfbf" stroke-width="0.42"/>
<circle cx="183.7" cy="506.2" r="1.35" fill="#fff" stroke="#bfbfbf" stroke-width="0.42"/>
<circle cx="173.1" cy="504.4" r="1.35" fill="#fff" stroke="#bfbfbf" stroke-width="0.42"/>
<circle cx="195.5" cy="506.5" r="1.35" fill="#fff" stroke="#bfbfbf" stroke-width="0.42"/>
<circle cx="246.0" cy="476.0" r="1.35" fill="#f5f1f9" stroke="#d7c7e8" stroke-width="0.4"/>
<circle cx="186.8" cy="508.0" r="1.35" fill="#fff" stroke="#bfbfbf" stroke-width="0.42"/>
<circle cx="181.5" cy="508.2" r="1.35" fill="#fff" stroke="#bfbfbf" stroke-width="0.42"/>
<circle cx="174.7" cy="491.0" r="1.35" fill="#fff" stroke="#bfbfbf" stroke-width="0.42"/>
<circle cx="197.3" cy="502.9" r="1.35" fill="#fff" stroke="#bfbfbf" stroke-width="0.42"/>
<circle cx="200.9" cy="497.8" r="1.35" fill="#fff" stroke="#bfbfbf" stroke-width="0.42"/>
<circle cx="187.5" cy="488.7" r="1.35" fill="#fff" stroke="#bfbfbf" stroke-width="0.42"/>
<circle cx="184.7" cy="499.2" r="1.35" fill="#fff" stroke="#bfbfbf" stroke-width="0.42"/>
<circle cx="179.9" cy="507.9" r="1.35" fill="#fff" stroke="#bfbfbf" stroke-width="0.42"/>
<circle cx="163.9" cy="494.1" r="1.35" fill="#fff" stroke="#bfbfbf" stroke-width="0.42"/>
<circle cx="183.1" cy="496.8" r="1.35" fill="#fff" stroke="#bfbfbf" stroke-width="0.42"/>
<circle cx="209.2" cy="495.9" r="1.35" fill="#fff" stroke="#bfbfbf" stroke-width="0.42"/>
<circle cx="145.4" cy="483.7" r="1.35" fill="#e7f3e4" stroke="#b0dbab" stroke-width="0.4"/>
<circle cx="241.4" cy="484.0" r="1.35" fill="#ffffff" stroke="#e8def2" stroke-width="0.4"/>
<circle cx="152.3" cy="500.8" r="1.35" fill="#fff" stroke="#bfbfbf" stroke-width="0.42"/>
<circle cx="202.2" cy="499.5" r="1.35" fill="#fff" stroke="#bfbfbf" stroke-width="0.42"/>
<circle cx="164.8" cy="493.3" r="1.35" fill="#fff" stroke="#bfbfbf" stroke-width="0.42"/>
<circle cx="157.6" cy="473.4" r="1.35" fill="#fff" stroke="#bfbfbf" stroke-width="0.42"/>
<circle cx="187.5" cy="505.2" r="1.35" fill="#fff" stroke="#bfbfbf" stroke-width="0.42"/>
<circle cx="185.1" cy="506.5" r="1.35" fill="#fff" stroke="#bfbfbf" stroke-width="0.42"/>
<circle cx="164.8" cy="504.3" r="1.35" fill="#fff" stroke="#bfbfbf" stroke-width="0.42"/>
<circle cx="167.6" cy="505.0" r="1.35" fill="#fff" stroke="#bfbfbf" stroke-width="0.42"/>
<circle cx="177.2" cy="507.6" r="1.35" fill="#fff" stroke="#bfbfbf" stroke-width="0.42"/>
<circle cx="160.9" cy="496.1" r="1.35" fill="#fff" stroke="#bfbfbf" stroke-width="0.42"/>
<circle cx="186.0" cy="491.1" r="1.35" fill="#fff" stroke="#bfbfbf" stroke-width="0.42"/>
<circle cx="160.4" cy="502.3" r="1.35" fill="#fff" stroke="#bfbfbf" stroke-width="0.42"/>
<circle cx="137.1" cy="488.3" r="1.35" fill="#f5faf4" stroke="#c6e5c1" stroke-width="0.4"/>
<circle cx="215.8" cy="493.4" r="1.35" fill="#faf7fc" stroke="#ded1ec" stroke-width="0.4"/>
<circle cx="198.5" cy="502.8" r="1.35" fill="#fff" stroke="#bfbfbf" stroke-width="0.42"/>
<circle cx="197.3" cy="503.6" r="1.35" fill="#fff" stroke="#bfbfbf" stroke-width="0.42"/>
<circle cx="183.5" cy="506.5" r="1.35" fill="#fff" stroke="#bfbfbf" stroke-width="0.42"/>
<circle cx="216.5" cy="495.5" r="1.35" fill="#fcfbfd" stroke="#e3d7ef" stroke-width="0.4"/>
<circle cx="163.6" cy="500.2" r="1.35" fill="#fff" stroke="#bfbfbf" stroke-width="0.42"/>
<circle cx="214.9" cy="493.9" r="1.35" fill="#faf7fc" stroke="#ded1ec" stroke-width="0.4"/>
<circle cx="172.7" cy="507.8" r="1.35" fill="#fff" stroke="#bfbfbf" stroke-width="0.42"/>
<circle cx="128.4" cy="485.1" r="1.35" fill="#f8fcf7" stroke="#cae7c6" stroke-width="0.4"/>
<circle cx="174.0" cy="490.4" r="1.35" fill="#fff" stroke="#bfbfbf" stroke-width="0.42"/>
<circle cx="188.6" cy="505.7" r="1.35" fill="#fff" stroke="#bfbfbf" stroke-width="0.42"/>
<circle cx="185.6" cy="508.6" r="1.35" fill="#fff" stroke="#bfbfbf" stroke-width="0.42"/>
<circle cx="152.0" cy="494.2" r="1.35" fill="#f4faf3" stroke="#c5e5c0" stroke-width="0.4"/>
<circle cx="182.2" cy="508.6" r="1.35" fill="#fff" stroke="#bfbfbf" stroke-width="0.42"/>
<circle cx="188.8" cy="500.1" r="1.35" fill="#fff" stroke="#bfbfbf" stroke-width="0.42"/>
<circle cx="202.7" cy="496.8" r="1.35" fill="#fff" stroke="#bfbfbf" stroke-width="0.42"/>
<circle cx="186.0" cy="503.1" r="1.35" fill="#fff" stroke="#bfbfbf" stroke-width="0.42"/>
<circle cx="207.2" cy="499.5" r="1.35" fill="#fff" stroke="#bfbfbf" stroke-width="0.42"/>
<circle cx="211.0" cy="479.8" r="1.35" fill="#fff" stroke="#bfbfbf" stroke-width="0.42"/>
<circle cx="174.7" cy="507.1" r="1.35" fill="#fff" stroke="#bfbfbf" stroke-width="0.42"/>
<circle cx="169.6" cy="504.6" r="1.35" fill="#fff" stroke="#bfbfbf" stroke-width="0.42"/>
<circle cx="175.8" cy="505.1" r="1.35" fill="#fff" stroke="#bfbfbf" stroke-width="0.42"/>
<circle cx="157.1" cy="471.8" r="1.35" fill="#fff" stroke="#bfbfbf" stroke-width="0.42"/>
<circle cx="184.8" cy="506.6" r="1.35" fill="#fff" stroke="#bfbfbf" stroke-width="0.42"/>
<circle cx="202.1" cy="502.5" r="1.35" fill="#fff" stroke="#bfbfbf" stroke-width="0.42"/>
<circle cx="187.0" cy="500.5" r="1.35" fill="#fff" stroke="#bfbfbf" stroke-width="0.42"/>
<circle cx="183.1" cy="504.3" r="1.35" fill="#fff" stroke="#bfbfbf" stroke-width="0.42"/>
<circle cx="206.1" cy="498.9" r="1.35" fill="#fff" stroke="#bfbfbf" stroke-width="0.42"/>
<circle cx="196.8" cy="490.7" r="1.35" fill="#fff" stroke="#bfbfbf" stroke-width="0.42"/>
<circle cx="173.3" cy="497.1" r="1.35" fill="#fff" stroke="#bfbfbf" stroke-width="0.42"/>
<circle cx="229.6" cy="489.6" r="1.35" fill="#fdfcfe" stroke="#e4d8ef" stroke-width="0.4"/>
<circle cx="167.8" cy="494.0" r="1.35" fill="#fff" stroke="#bfbfbf" stroke-width="0.42"/>
<circle cx="203.8" cy="497.2" r="1.35" fill="#fff" stroke="#bfbfbf" stroke-width="0.42"/>
<circle cx="195.7" cy="506.4" r="1.35" fill="#fff" stroke="#bfbfbf" stroke-width="0.42"/>
<circle cx="165.3" cy="497.0" r="1.35" fill="#fff" stroke="#bfbfbf" stroke-width="0.42"/>
<circle cx="196.5" cy="503.5" r="1.35" fill="#fff" stroke="#bfbfbf" stroke-width="0.42"/>
<circle cx="195.4" cy="499.4" r="1.35" fill="#fff" stroke="#bfbfbf" stroke-width="0.42"/>
<circle cx="202.8" cy="503.0" r="1.35" fill="#fff" stroke="#bfbfbf" stroke-width="0.42"/>
<circle cx="172.4" cy="507.5" r="1.35" fill="#fff" stroke="#bfbfbf" stroke-width="0.42"/>
<circle cx="165.9" cy="501.8" r="1.35" fill="#fff" stroke="#bfbfbf" stroke-width="0.42"/>
<circle cx="169.2" cy="496.8" r="1.35" fill="#fff" stroke="#bfbfbf" stroke-width="0.42"/>
<circle cx="188.3" cy="497.6" r="1.35" fill="#fff" stroke="#bfbfbf" stroke-width="0.42"/>
<circle cx="145.4" cy="497.7" r="1.35" fill="#ffffff" stroke="#d5ecd1" stroke-width="0.4"/>
<circle cx="169.1" cy="502.1" r="1.35" fill="#fff" stroke="#bfbfbf" stroke-width="0.42"/>
<circle cx="175.8" cy="504.8" r="1.35" fill="#fff" stroke="#bfbfbf" stroke-width="0.42"/>
<circle cx="188.4" cy="508.2" r="1.35" fill="#fff" stroke="#bfbfbf" stroke-width="0.42"/>
<circle cx="148.8" cy="490.5" r="1.35" fill="#f0f8ef" stroke="#bee2ba" stroke-width="0.4"/>
<circle cx="182.6" cy="507.4" r="1.35" fill="#fff" stroke="#bfbfbf" stroke-width="0.42"/>
<circle cx="181.6" cy="507.4" r="1.35" fill="#fff" stroke="#bfbfbf" stroke-width="0.42"/>
<circle cx="187.1" cy="492.9" r="1.35" fill="#fff" stroke="#bfbfbf" stroke-width="0.42"/>
<circle cx="164.0" cy="489.3" r="1.35" fill="#fff" stroke="#bfbfbf" stroke-width="0.42"/>
<circle cx="174.0" cy="507.1" r="1.35" fill="#fff" stroke="#bfbfbf" stroke-width="0.42"/>
<circle cx="188.3" cy="505.2" r="1.35" fill="#fff" stroke="#bfbfbf" stroke-width="0.42"/>
<circle cx="154.4" cy="485.4" r="1.35" fill="#fff" stroke="#bfbfbf" stroke-width="0.42"/>
<circle cx="163.2" cy="498.5" r="1.35" fill="#fff" stroke="#bfbfbf" stroke-width="0.42"/>
<circle cx="164.2" cy="502.5" r="1.35" fill="#fff" stroke="#bfbfbf" stroke-width="0.42"/>
<circle cx="206.2" cy="496.4" r="1.35" fill="#fff" stroke="#bfbfbf" stroke-width="0.42"/>
<circle cx="194.7" cy="498.8" r="1.35" fill="#fff" stroke="#bfbfbf" stroke-width="0.42"/>
<circle cx="184.9" cy="507.0" r="1.35" fill="#fff" stroke="#bfbfbf" stroke-width="0.42"/>
<circle cx="138.2" cy="493.1" r="1.35" fill="#fdfefd" stroke="#d2ebce" stroke-width="0.4"/>
<circle cx="234.0" cy="487.6" r="1.35" fill="#fdfdfe" stroke="#e5daf0" stroke-width="0.4"/>
<circle cx="186.7" cy="507.3" r="1.35" fill="#fff" stroke="#bfbfbf" stroke-width="0.42"/>
<circle cx="218.8" cy="497.3" r="1.35" fill="#ffffff" stroke="#e8def2" stroke-width="0.4"/>
<circle cx="157.8" cy="500.5" r="1.35" fill="#fff" stroke="#bfbfbf" stroke-width="0.42"/>
<circle cx="175.0" cy="502.7" r="1.35" fill="#fff" stroke="#bfbfbf" stroke-width="0.42"/>
<circle cx="163.4" cy="490.8" r="1.35" fill="#fff" stroke="#bfbfbf" stroke-width="0.42"/>
<circle cx="156.4" cy="489.1" r="1.35" fill="#fff" stroke="#bfbfbf" stroke-width="0.42"/>
<circle cx="213.5" cy="495.2" r="1.35" fill="#faf8fc" stroke="#e0d3ed" stroke-width="0.4"/>
<circle cx="124.7" cy="482.6" r="1.35" fill="#f7fbf6" stroke="#c8e6c4" stroke-width="0.4"/>
<circle cx="197.9" cy="488.4" r="1.35" fill="#fff" stroke="#bfbfbf" stroke-width="0.42"/>
<circle cx="167.6" cy="491.3" r="1.35" fill="#fff" stroke="#bfbfbf" stroke-width="0.42"/>
<circle cx="156.9" cy="474.5" r="1.35" fill="#fff" stroke="#bfbfbf" stroke-width="0.42"/>
<circle cx="122.8" cy="483.9" r="1.35" fill="#fdfefd" stroke="#d2ebce" stroke-width="0.4"/>
<circle cx="160.9" cy="491.5" r="1.35" fill="#fff" stroke="#bfbfbf" stroke-width="0.42"/>
<circle cx="161.8" cy="499.1" r="1.35" fill="#fff" stroke="#bfbfbf" stroke-width="0.42"/>
<circle cx="172.5" cy="500.4" r="1.35" fill="#fff" stroke="#bfbfbf" stroke-width="0.42"/>
<circle cx="221.9" cy="493.6" r="1.35" fill="#fdfcfe" stroke="#e4d8ef" stroke-width="0.4"/>
<circle cx="181.8" cy="508.6" r="1.35" fill="#fff" stroke="#bfbfbf" stroke-width="0.42"/>
<circle cx="203.7" cy="492.8" r="1.35" fill="#fff" stroke="#bfbfbf" stroke-width="0.42"/>
<circle cx="188.0" cy="508.2" r="1.35" fill="#fff" stroke="#bfbfbf" stroke-width="0.42"/>
<circle cx="188.1" cy="508.0" r="1.35" fill="#fff" stroke="#bfbfbf" stroke-width="0.42"/>
<circle cx="178.3" cy="505.1" r="1.35" fill="#fff" stroke="#bfbfbf" stroke-width="0.42"/>
<circle cx="170.1" cy="490.5" r="1.35" fill="#fff" stroke="#bfbfbf" stroke-width="0.42"/>
<circle cx="167.0" cy="482.7" r="1.35" fill="#fff" stroke="#bfbfbf" stroke-width="0.42"/>
<circle cx="183.5" cy="497.9" r="1.35" fill="#fff" stroke="#bfbfbf" stroke-width="0.42"/>
<circle cx="199.6" cy="495.7" r="1.35" fill="#fff" stroke="#bfbfbf" stroke-width="0.42"/>
<circle cx="187.9" cy="495.1" r="1.35" fill="#fff" stroke="#bfbfbf" stroke-width="0.42"/>
<circle cx="151.1" cy="497.6" r="1.35" fill="#fafdfa" stroke="#cee9ca" stroke-width="0.4"/>
<circle cx="206.3" cy="481.2" r="1.35" fill="#fff" stroke="#bfbfbf" stroke-width="0.42"/>
<circle cx="171.3" cy="492.2" r="1.35" fill="#fff" stroke="#bfbfbf" stroke-width="0.42"/>
<circle cx="201.5" cy="478.0" r="1.35" fill="#fff" stroke="#bfbfbf" stroke-width="0.42"/>
<circle cx="196.9" cy="500.1" r="1.35" fill="#fff" stroke="#bfbfbf" stroke-width="0.42"/>
<circle cx="153.4" cy="481.0" r="1.35" fill="#fff" stroke="#bfbfbf" stroke-width="0.42"/>
<circle cx="148.2" cy="474.7" r="1.35" fill="#d6ebd3" stroke="#97d091" stroke-width="0.4"/>
<circle cx="149.1" cy="498.8" r="1.35" fill="#fefefe" stroke="#d3ebcf" stroke-width="0.4"/>
<circle cx="155.3" cy="499.7" r="1.35" fill="#fff" stroke="#bfbfbf" stroke-width="0.42"/>
<circle cx="207.4" cy="500.9" r="1.35" fill="#fff" stroke="#bfbfbf" stroke-width="0.42"/>
<circle cx="184.5" cy="493.9" r="1.35" fill="#fff" stroke="#bfbfbf" stroke-width="0.42"/>
<circle cx="206.9" cy="494.9" r="1.35" fill="#fff" stroke="#bfbfbf" stroke-width="0.42"/>
<circle cx="209.9" cy="485.0" r="1.35" fill="#fff" stroke="#bfbfbf" stroke-width="0.42"/>
<circle cx="216.6" cy="498.3" r="1.35" fill="#ffffff" stroke="#e8def2" stroke-width="0.4"/>
<circle cx="178.9" cy="508.8" r="1.35" fill="#fff" stroke="#bfbfbf" stroke-width="0.42"/>
<circle cx="169.6" cy="504.5" r="1.35" fill="#fff" stroke="#bfbfbf" stroke-width="0.42"/>
<circle cx="172.4" cy="507.3" r="1.35" fill="#fff" stroke="#bfbfbf" stroke-width="0.42"/>
<circle cx="212.3" cy="490.8" r="1.35" fill="#f6f2f9" stroke="#d7c7e8" stroke-width="0.4"/>
<circle cx="186.8" cy="505.6" r="1.35" fill="#fff" stroke="#bfbfbf" stroke-width="0.42"/>
<circle cx="165.5" cy="482.4" r="1.35" fill="#fff" stroke="#bfbfbf" stroke-width="0.42"/>
<circle cx="223.1" cy="492.1" r="1.35" fill="#fcfafd" stroke="#e2d6ee" stroke-width="0.4"/>
<circle cx="155.0" cy="478.0" r="1.35" fill="#fff" stroke="#bfbfbf" stroke-width="0.42"/>
<circle cx="203.3" cy="466.3" r="1.35" fill="#fff" stroke="#bfbfbf" stroke-width="0.42"/>
<circle cx="152.4" cy="488.6" r="1.35" fill="#fff" stroke="#bfbfbf" stroke-width="0.42"/>
<circle cx="206.1" cy="476.1" r="1.35" fill="#fff" stroke="#bfbfbf" stroke-width="0.42"/>
<circle cx="191.0" cy="507.4" r="1.35" fill="#fff" stroke="#bfbfbf" stroke-width="0.42"/>
<circle cx="194.0" cy="482.4" r="1.35" fill="#fff" stroke="#bfbfbf" stroke-width="0.42"/>
<circle cx="181.5" cy="508.8" r="1.35" fill="#fff" stroke="#bfbfbf" stroke-width="0.42"/>
<circle cx="210.4" cy="496.7" r="1.35" fill="#fff" stroke="#bfbfbf" stroke-width="0.42"/>
<circle cx="213.5" cy="498.9" r="1.35" fill="#fefefe" stroke="#e6dcf1" stroke-width="0.4"/>
<circle cx="185.6" cy="501.6" r="1.35" fill="#fff" stroke="#bfbfbf" stroke-width="0.42"/>
<circle cx="179.0" cy="504.9" r="1.35" fill="#fff" stroke="#bfbfbf" stroke-width="0.42"/>
<circle cx="199.3" cy="500.3" r="1.35" fill="#fff" stroke="#bfbfbf" stroke-width="0.42"/>
<circle cx="181.2" cy="508.9" r="1.35" fill="#fff" stroke="#bfbfbf" stroke-width="0.42"/>
<circle cx="189.7" cy="489.7" r="1.35" fill="#fff" stroke="#bfbfbf" stroke-width="0.42"/>
<circle cx="178.1" cy="508.0" r="1.35" fill="#fff" stroke="#bfbfbf" stroke-width="0.42"/>
<circle cx="191.0" cy="501.6" r="1.35" fill="#fff" stroke="#bfbfbf" stroke-width="0.42"/>
<circle cx="198.4" cy="480.3" r="1.35" fill="#fff" stroke="#bfbfbf" stroke-width="0.42"/>
<circle cx="181.4" cy="505.9" r="1.35" fill="#fff" stroke="#bfbfbf" stroke-width="0.42"/>
<circle cx="143.1" cy="490.6" r="1.35" fill="#f4faf3" stroke="#c5e5c0" stroke-width="0.4"/>
<circle cx="204.7" cy="503.4" r="1.35" fill="#fff" stroke="#bfbfbf" stroke-width="0.42"/>
<circle cx="147.3" cy="483.7" r="1.35" fill="#e6f3e3" stroke="#aedba9" stroke-width="0.4"/>
<circle cx="170.4" cy="504.9" r="1.35" fill="#fff" stroke="#bfbfbf" stroke-width="0.42"/>
<circle cx="163.1" cy="497.5" r="1.35" fill="#fff" stroke="#bfbfbf" stroke-width="0.42"/>
<circle cx="201.7" cy="503.3" r="1.35" fill="#fff" stroke="#bfbfbf" stroke-width="0.42"/>
<circle cx="147.3" cy="498.6" r="1.35" fill="#ffffff" stroke="#d5ecd1" stroke-width="0.4"/>
<circle cx="187.8" cy="508.2" r="1.35" fill="#fff" stroke="#bfbfbf" stroke-width="0.42"/>
<circle cx="192.6" cy="503.6" r="1.35" fill="#fff" stroke="#bfbfbf" stroke-width="0.42"/>
<circle cx="182.2" cy="505.5" r="1.35" fill="#fff" stroke="#bfbfbf" stroke-width="0.42"/>
<circle cx="160.4" cy="504.2" r="1.35" fill="#fff" stroke="#bfbfbf" stroke-width="0.42"/>
<circle cx="197.2" cy="506.1" r="1.35" fill="#fff" stroke="#bfbfbf" stroke-width="0.42"/>
<circle cx="242.4" cy="477.0" r="1.35" fill="#f4eff8" stroke="#d4c3e6" stroke-width="0.4"/>
<circle cx="197.9" cy="487.6" r="1.35" fill="#fff" stroke="#bfbfbf" stroke-width="0.42"/>
<circle cx="140.9" cy="489.6" r="1.35" fill="#f4faf3" stroke="#c4e5c0" stroke-width="0.4"/>
<circle cx="196.9" cy="487.0" r="1.35" fill="#fff" stroke="#bfbfbf" stroke-width="0.42"/>
<circle cx="230.6" cy="485.7" r="1.35" fill="#f8f6fb" stroke="#dcceeb" stroke-width="0.4"/>
<circle cx="217.7" cy="479.4" r="1.35" fill="#ece4f4" stroke="#c6afdd" stroke-width="0.4"/>
<circle cx="181.5" cy="509.0" r="1.35" fill="#fff" stroke="#bfbfbf" stroke-width="0.42"/>
<circle cx="236.0" cy="478.5" r="1.35" fill="#f2ecf7" stroke="#d1bee4" stroke-width="0.4"/>
<circle cx="185.2" cy="506.2" r="1.35" fill="#fff" stroke="#bfbfbf" stroke-width="0.42"/>
<circle cx="206.0" cy="484.6" r="1.35" fill="#fff" stroke="#bfbfbf" stroke-width="0.42"/>
<circle cx="190.5" cy="497.7" r="1.35" fill="#fff" stroke="#bfbfbf" stroke-width="0.42"/>
<circle cx="159.8" cy="498.5" r="1.35" fill="#fff" stroke="#bfbfbf" stroke-width="0.42"/>
<circle cx="171.9" cy="504.7" r="1.35" fill="#fff" stroke="#bfbfbf" stroke-width="0.42"/>
<circle cx="234.6" cy="488.1" r="1.35" fill="#fffeff" stroke="#e7ddf2" stroke-width="0.4"/>
<circle cx="161.0" cy="502.4" r="1.35" fill="#fff" stroke="#bfbfbf" stroke-width="0.42"/>
<circle cx="216.8" cy="477.6" r="1.35" fill="#eae1f2" stroke="#c2aadb" stroke-width="0.4"/>
<circle cx="145.8" cy="496.6" r="1.35" fill="#fdfefc" stroke="#d1eacd" stroke-width="0.4"/>
<circle cx="171.0" cy="507.0" r="1.35" fill="#fff" stroke="#bfbfbf" stroke-width="0.42"/>
<circle cx="196.0" cy="500.3" r="1.35" fill="#fff" stroke="#bfbfbf" stroke-width="0.42"/>
<circle cx="199.7" cy="505.3" r="1.35" fill="#fff" stroke="#bfbfbf" stroke-width="0.42"/>
<circle cx="156.5" cy="498.0" r="1.35" fill="#fff" stroke="#bfbfbf" stroke-width="0.42"/>
<circle cx="181.3" cy="505.2" r="1.35" fill="#fff" stroke="#bfbfbf" stroke-width="0.42"/>
<circle cx="197.7" cy="480.3" r="1.35" fill="#fff" stroke="#bfbfbf" stroke-width="0.42"/>
<circle cx="176.7" cy="506.4" r="1.35" fill="#fff" stroke="#bfbfbf" stroke-width="0.42"/>
<circle cx="182.0" cy="497.1" r="1.35" fill="#fff" stroke="#bfbfbf" stroke-width="0.42"/>
<circle cx="169.8" cy="501.6" r="1.35" fill="#fff" stroke="#bfbfbf" stroke-width="0.42"/>
<circle cx="198.7" cy="499.5" r="1.35" fill="#fff" stroke="#bfbfbf" stroke-width="0.42"/>
<circle cx="177.6" cy="499.6" r="1.35" fill="#fff" stroke="#bfbfbf" stroke-width="0.42"/>
<circle cx="190.4" cy="496.6" r="1.35" fill="#fff" stroke="#bfbfbf" stroke-width="0.42"/>
<circle cx="199.5" cy="474.0" r="1.35" fill="#fff" stroke="#bfbfbf" stroke-width="0.42"/>
<circle cx="174.8" cy="505.2" r="1.35" fill="#fff" stroke="#bfbfbf" stroke-width="0.42"/>
<circle cx="195.9" cy="476.6" r="1.35" fill="#fff" stroke="#bfbfbf" stroke-width="0.42"/>
<circle cx="202.7" cy="498.2" r="1.35" fill="#fff" stroke="#bfbfbf" stroke-width="0.42"/>
<circle cx="209.9" cy="484.4" r="1.35" fill="#fff" stroke="#bfbfbf" stroke-width="0.42"/>
<circle cx="189.8" cy="489.8" r="1.35" fill="#fff" stroke="#bfbfbf" stroke-width="0.42"/>
<circle cx="161.4" cy="491.7" r="1.35" fill="#fff" stroke="#bfbfbf" stroke-width="0.42"/>
<circle cx="160.5" cy="503.6" r="1.35" fill="#fff" stroke="#bfbfbf" stroke-width="0.42"/>
<circle cx="201.5" cy="496.5" r="1.35" fill="#fff" stroke="#bfbfbf" stroke-width="0.42"/>
<circle cx="149.4" cy="482.3" r="1.35" fill="#e2f1e0" stroke="#a9d8a4" stroke-width="0.4"/>
<circle cx="160.3" cy="501.8" r="1.35" fill="#fff" stroke="#bfbfbf" stroke-width="0.42"/>
<circle cx="193.5" cy="496.6" r="1.35" fill="#fff" stroke="#bfbfbf" stroke-width="0.42"/>
<circle cx="154.9" cy="502.0" r="1.35" fill="#fff" stroke="#bfbfbf" stroke-width="0.42"/>
<circle cx="168.5" cy="494.7" r="1.35" fill="#fff" stroke="#bfbfbf" stroke-width="0.42"/>
<circle cx="150.3" cy="485.9" r="1.35" fill="#e8f4e6" stroke="#b2dcad" stroke-width="0.4"/>
<circle cx="192.6" cy="484.3" r="1.35" fill="#fff" stroke="#bfbfbf" stroke-width="0.42"/>
<circle cx="197.8" cy="473.6" r="1.35" fill="#fff" stroke="#bfbfbf" stroke-width="0.42"/>
<circle cx="204.4" cy="481.0" r="1.35" fill="#fff" stroke="#bfbfbf" stroke-width="0.42"/>
<circle cx="166.1" cy="474.6" r="1.35" fill="#fff" stroke="#bfbfbf" stroke-width="0.42"/>
<circle cx="219.1" cy="491.0" r="1.35" fill="#f8f6fb" stroke="#dcceeb" stroke-width="0.4"/>
<circle cx="190.4" cy="484.7" r="1.35" fill="#fff" stroke="#bfbfbf" stroke-width="0.42"/>
<circle cx="172.2" cy="501.3" r="1.35" fill="#fff" stroke="#bfbfbf" stroke-width="0.42"/>
<circle cx="186.4" cy="500.5" r="1.35" fill="#fff" stroke="#bfbfbf" stroke-width="0.42"/>
<circle cx="202.9" cy="493.4" r="1.35" fill="#fff" stroke="#bfbfbf" stroke-width="0.42"/>
<circle cx="227.7" cy="476.5" r="1.35" fill="#ebe3f3" stroke="#c5aedd" stroke-width="0.4"/>
<circle cx="201.5" cy="502.0" r="1.35" fill="#fff" stroke="#bfbfbf" stroke-width="0.42"/>
<circle cx="191.3" cy="500.1" r="1.35" fill="#fff" stroke="#bfbfbf" stroke-width="0.42"/>
<circle cx="156.2" cy="471.7" r="1.35" fill="#fff" stroke="#bfbfbf" stroke-width="0.42"/>
<circle cx="188.4" cy="499.2" r="1.35" fill="#fff" stroke="#bfbfbf" stroke-width="0.42"/>
<circle cx="200.6" cy="504.8" r="1.35" fill="#fff" stroke="#bfbfbf" stroke-width="0.42"/>
<circle cx="140.7" cy="486.7" r="1.35" fill="#eff7ee" stroke="#bce1b8" stroke-width="0.4"/>
<circle cx="166.9" cy="504.2" r="1.35" fill="#fff" stroke="#bfbfbf" stroke-width="0.42"/>
<circle cx="196.7" cy="487.0" r="1.35" fill="#fff" stroke="#bfbfbf" stroke-width="0.42"/>
<circle cx="135.4" cy="482.6" r="1.35" fill="#ebf5e9" stroke="#b7deb2" stroke-width="0.4"/>
<circle cx="218.4" cy="496.6" r="1.35" fill="#fefefe" stroke="#e6dbf1" stroke-width="0.4"/>
<circle cx="157.0" cy="496.9" r="1.35" fill="#fff" stroke="#bfbfbf" stroke-width="0.42"/>
<circle cx="187.2" cy="505.9" r="1.35" fill="#fff" stroke="#bfbfbf" stroke-width="0.42"/>
<circle cx="185.7" cy="495.5" r="1.35" fill="#fff" stroke="#bfbfbf" stroke-width="0.42"/>
<circle cx="187.9" cy="507.5" r="1.35" fill="#fff" stroke="#bfbfbf" stroke-width="0.42"/>
<circle cx="171.0" cy="503.1" r="1.35" fill="#fff" stroke="#bfbfbf" stroke-width="0.42"/>
<circle cx="201.7" cy="473.9" r="1.35" fill="#fff" stroke="#bfbfbf" stroke-width="0.42"/>
<circle cx="153.8" cy="501.4" r="1.35" fill="#fff" stroke="#bfbfbf" stroke-width="0.42"/>
<circle cx="198.5" cy="491.8" r="1.35" fill="#fff" stroke="#bfbfbf" stroke-width="0.42"/>
<circle cx="180.4" cy="498.3" r="1.35" fill="#fff" stroke="#bfbfbf" stroke-width="0.42"/>
<circle cx="179.4" cy="501.9" r="1.35" fill="#fff" stroke="#bfbfbf" stroke-width="0.42"/>
<circle cx="165.4" cy="499.2" r="1.35" fill="#fff" stroke="#bfbfbf" stroke-width="0.42"/>
<circle cx="204.2" cy="499.3" r="1.35" fill="#fff" stroke="#bfbfbf" stroke-width="0.42"/>
<circle cx="183.9" cy="502.7" r="1.35" fill="#fff" stroke="#bfbfbf" stroke-width="0.42"/>
<circle cx="175.7" cy="498.3" r="1.35" fill="#fff" stroke="#bfbfbf" stroke-width="0.42"/>
<circle cx="214.8" cy="497.8" r="1.35" fill="#fefdfe" stroke="#e5daf0" stroke-width="0.4"/>
<circle cx="208.1" cy="492.8" r="1.35" fill="#fff" stroke="#bfbfbf" stroke-width="0.42"/>
<circle cx="209.2" cy="501.0" r="1.35" fill="#fff" stroke="#bfbfbf" stroke-width="0.42"/>
<circle cx="225.7" cy="481.3" r="1.35" fill="#f0eaf6" stroke="#cebae2" stroke-width="0.4"/>
<circle cx="221.0" cy="491.4" r="1.35" fill="#faf7fc" stroke="#dfd1ec" stroke-width="0.4"/>
<circle cx="208.4" cy="482.2" r="1.35" fill="#fff" stroke="#bfbfbf" stroke-width="0.42"/>
<circle cx="168.1" cy="501.2" r="1.35" fill="#fff" stroke="#bfbfbf" stroke-width="0.42"/>
<circle cx="198.1" cy="505.0" r="1.35" fill="#fff" stroke="#bfbfbf" stroke-width="0.42"/>
<circle cx="164.0" cy="481.7" r="1.35" fill="#fff" stroke="#bfbfbf" stroke-width="0.42"/>
<circle cx="162.6" cy="498.3" r="1.35" fill="#fff" stroke="#bfbfbf" stroke-width="0.42"/>
<circle cx="153.3" cy="466.2" r="1.35" fill="#fff" stroke="#bfbfbf" stroke-width="0.42"/>
<circle cx="189.6" cy="505.0" r="1.35" fill="#fff" stroke="#bfbfbf" stroke-width="0.42"/>
<circle cx="176.5" cy="501.7" r="1.35" fill="#fff" stroke="#bfbfbf" stroke-width="0.42"/>
<circle cx="164.3" cy="502.4" r="1.35" fill="#fff" stroke="#bfbfbf" stroke-width="0.42"/>
<circle cx="195.9" cy="483.9" r="1.35" fill="#fff" stroke="#bfbfbf" stroke-width="0.42"/>
<circle cx="167.1" cy="491.6" r="1.35" fill="#fff" stroke="#bfbfbf" stroke-width="0.42"/>
<circle cx="126.3" cy="482.7" r="1.35" fill="#f5faf4" stroke="#c5e5c1" stroke-width="0.4"/>
<circle cx="197.8" cy="487.3" r="1.35" fill="#fff" stroke="#bfbfbf" stroke-width="0.42"/>
<circle cx="160.0" cy="503.8" r="1.35" fill="#fff" stroke="#bfbfbf" stroke-width="0.42"/>
<circle cx="165.6" cy="499.7" r="1.35" fill="#fff" stroke="#bfbfbf" stroke-width="0.42"/>
<circle cx="176.5" cy="491.0" r="1.35" fill="#fff" stroke="#bfbfbf" stroke-width="0.42"/>
<circle cx="207.9" cy="498.4" r="1.35" fill="#fff" stroke="#bfbfbf" stroke-width="0.42"/>
<circle cx="169.1" cy="505.0" r="1.35" fill="#fff" stroke="#bfbfbf" stroke-width="0.42"/>
<circle cx="146.9" cy="491.7" r="1.35" fill="#f3f9f2" stroke="#c3e4bf" stroke-width="0.4"/>
<circle cx="217.2" cy="495.5" r="1.35" fill="#fcfbfd" stroke="#e3d7ef" stroke-width="0.4"/>
<circle cx="220.6" cy="489.8" r="1.35" fill="#f8f5fb" stroke="#dbccea" stroke-width="0.4"/>
<circle cx="156.7" cy="472.8" r="1.35" fill="#fff" stroke="#bfbfbf" stroke-width="0.42"/>
<circle cx="220.2" cy="483.9" r="1.35" fill="#f1ebf7" stroke="#d0bde3" stroke-width="0.4"/>
<circle cx="170.8" cy="485.9" r="1.35" fill="#fff" stroke="#bfbfbf" stroke-width="0.42"/>
<circle cx="178.5" cy="508.6" r="1.35" fill="#fff" stroke="#bfbfbf" stroke-width="0.42"/>
<circle cx="166.0" cy="488.6" r="1.35" fill="#fff" stroke="#bfbfbf" stroke-width="0.42"/>
<circle cx="199.8" cy="488.9" r="1.35" fill="#fff" stroke="#bfbfbf" stroke-width="0.42"/>
<circle cx="152.3" cy="465.6" r="1.35" fill="#fff" stroke="#bfbfbf" stroke-width="0.42"/>
<circle cx="225.7" cy="493.7" r="1.35" fill="#ffffff" stroke="#e8def2" stroke-width="0.4"/>
<circle cx="163.0" cy="499.9" r="1.35" fill="#fff" stroke="#bfbfbf" stroke-width="0.42"/>
<circle cx="161.0" cy="495.5" r="1.35" fill="#fff" stroke="#bfbfbf" stroke-width="0.42"/>
<circle cx="166.8" cy="494.2" r="1.35" fill="#fff" stroke="#bfbfbf" stroke-width="0.42"/>
<circle cx="170.3" cy="488.3" r="1.35" fill="#fff" stroke="#bfbfbf" stroke-width="0.42"/>
<circle cx="159.1" cy="463.6" r="1.35" fill="#fff" stroke="#bfbfbf" stroke-width="0.42"/>
<circle cx="150.6" cy="500.0" r="1.35" fill="#ffffff" stroke="#d4ecd0" stroke-width="0.4"/>
<circle cx="157.3" cy="484.6" r="1.35" fill="#fff" stroke="#bfbfbf" stroke-width="0.42"/>
<circle cx="187.6" cy="507.3" r="1.35" fill="#fff" stroke="#bfbfbf" stroke-width="0.42"/>
<circle cx="198.7" cy="500.6" r="1.35" fill="#fff" stroke="#bfbfbf" stroke-width="0.42"/>
<circle cx="180.6" cy="508.6" r="1.35" fill="#fff" stroke="#bfbfbf" stroke-width="0.42"/>
<circle cx="149.5" cy="499.4" r="1.35" fill="#fefffe" stroke="#d4ecd0" stroke-width="0.4"/>
<circle cx="206.8" cy="501.4" r="1.35" fill="#fff" stroke="#bfbfbf" stroke-width="0.42"/>
<circle cx="161.2" cy="483.0" r="1.35" fill="#fff" stroke="#bfbfbf" stroke-width="0.42"/>
<circle cx="153.8" cy="498.7" r="1.35" fill="#fff" stroke="#bfbfbf" stroke-width="0.42"/>
<circle cx="196.8" cy="486.8" r="1.35" fill="#fff" stroke="#bfbfbf" stroke-width="0.42"/>
<circle cx="144.5" cy="496.7" r="1.35" fill="#fefefe" stroke="#d3ebcf" stroke-width="0.4"/>
<circle cx="177.4" cy="495.2" r="1.35" fill="#fff" stroke="#bfbfbf" stroke-width="0.42"/>
<circle cx="182.6" cy="497.3" r="1.35" fill="#fff" stroke="#bfbfbf" stroke-width="0.42"/>
<circle cx="186.0" cy="506.2" r="1.35" fill="#fff" stroke="#bfbfbf" stroke-width="0.42"/>
<circle cx="178.4" cy="503.7" r="1.35" fill="#fff" stroke="#bfbfbf" stroke-width="0.42"/>
<circle cx="169.9" cy="489.6" r="1.35" fill="#fff" stroke="#bfbfbf" stroke-width="0.42"/>
<circle cx="179.2" cy="507.3" r="1.35" fill="#fff" stroke="#bfbfbf" stroke-width="0.42"/>
<circle cx="168.9" cy="497.1" r="1.35" fill="#fff" stroke="#bfbfbf" stroke-width="0.42"/>
<circle cx="181.1" cy="508.7" r="1.35" fill="#fff" stroke="#bfbfbf" stroke-width="0.42"/>
<circle cx="206.9" cy="498.7" r="1.35" fill="#fff" stroke="#bfbfbf" stroke-width="0.42"/>
<circle cx="197.4" cy="486.1" r="1.35" fill="#fff" stroke="#bfbfbf" stroke-width="0.42"/>
<circle cx="182.2" cy="508.9" r="1.35" fill="#fff" stroke="#bfbfbf" stroke-width="0.42"/>
<circle cx="207.3" cy="500.3" r="1.35" fill="#fff" stroke="#bfbfbf" stroke-width="0.42"/>
<circle cx="151.5" cy="491.8" r="1.35" fill="#f1f8f0" stroke="#bfe2bb" stroke-width="0.4"/>
<circle cx="191.2" cy="489.6" r="1.35" fill="#fff" stroke="#bfbfbf" stroke-width="0.42"/>
<circle cx="220.0" cy="495.7" r="1.35" fill="#fefdfe" stroke="#e6dbf1" stroke-width="0.4"/>
<circle cx="211.1" cy="464.1" r="1.35" fill="#fff" stroke="#bfbfbf" stroke-width="0.42"/>
<circle cx="156.7" cy="486.7" r="1.35" fill="#fff" stroke="#bfbfbf" stroke-width="0.42"/>
<circle cx="177.7" cy="495.5" r="1.35" fill="#fff" stroke="#bfbfbf" stroke-width="0.42"/>
<circle cx="206.6" cy="502.8" r="1.35" fill="#fff" stroke="#bfbfbf" stroke-width="0.42"/>
<circle cx="175.9" cy="507.8" r="1.35" fill="#fff" stroke="#bfbfbf" stroke-width="0.42"/>
<circle cx="198.5" cy="488.1" r="1.35" fill="#fff" stroke="#bfbfbf" stroke-width="0.42"/>
<circle cx="145.0" cy="496.5" r="1.35" fill="#fdfefd" stroke="#d2ebce" stroke-width="0.4"/>
<circle cx="175.9" cy="508.1" r="1.35" fill="#fff" stroke="#bfbfbf" stroke-width="0.42"/>
<circle cx="180.5" cy="507.6" r="1.35" fill="#fff" stroke="#bfbfbf" stroke-width="0.42"/>
<circle cx="174.2" cy="508.0" r="1.35" fill="#fff" stroke="#bfbfbf" stroke-width="0.42"/>
<circle cx="173.0" cy="506.0" r="1.35" fill="#fff" stroke="#bfbfbf" stroke-width="0.42"/>
<circle cx="186.7" cy="508.2" r="1.35" fill="#fff" stroke="#bfbfbf" stroke-width="0.42"/>
<circle cx="201.0" cy="495.5" r="1.35" fill="#fff" stroke="#bfbfbf" stroke-width="0.42"/>
<circle cx="170.9" cy="495.6" r="1.35" fill="#fff" stroke="#bfbfbf" stroke-width="0.42"/>
<circle cx="227.1" cy="482.3" r="1.35" fill="#f2edf7" stroke="#d1bfe4" stroke-width="0.4"/>
<circle cx="142.5" cy="487.0" r="1.35" fill="#eef7ed" stroke="#bbe0b7" stroke-width="0.4"/>
<circle cx="202.1" cy="500.7" r="1.35" fill="#fff" stroke="#bfbfbf" stroke-width="0.42"/>
<circle cx="167.6" cy="489.4" r="1.35" fill="#fff" stroke="#bfbfbf" stroke-width="0.42"/>
<circle cx="180.5" cy="506.2" r="1.35" fill="#fff" stroke="#bfbfbf" stroke-width="0.42"/>
<circle cx="205.4" cy="493.2" r="1.35" fill="#fff" stroke="#bfbfbf" stroke-width="0.42"/>
<circle cx="165.1" cy="498.5" r="1.35" fill="#fff" stroke="#bfbfbf" stroke-width="0.42"/>
<circle cx="202.1" cy="504.4" r="1.35" fill="#fff" stroke="#bfbfbf" stroke-width="0.42"/>
<circle cx="186.2" cy="503.2" r="1.35" fill="#fff" stroke="#bfbfbf" stroke-width="0.42"/>
<circle cx="174.1" cy="501.0" r="1.35" fill="#fff" stroke="#bfbfbf" stroke-width="0.42"/>
<circle cx="167.5" cy="506.1" r="1.35" fill="#fff" stroke="#bfbfbf" stroke-width="0.42"/>
<circle cx="192.1" cy="503.6" r="1.35" fill="#fff" stroke="#bfbfbf" stroke-width="0.42"/>
<circle cx="170.5" cy="505.6" r="1.35" fill="#fff" stroke="#bfbfbf" stroke-width="0.42"/>
<circle cx="207.9" cy="479.0" r="1.35" fill="#fff" stroke="#bfbfbf" stroke-width="0.42"/>
<circle cx="178.4" cy="505.8" r="1.35" fill="#fff" stroke="#bfbfbf" stroke-width="0.42"/>
<circle cx="182.0" cy="497.6" r="1.35" fill="#fff" stroke="#bfbfbf" stroke-width="0.42"/>
<circle cx="183.2" cy="506.9" r="1.35" fill="#fff" stroke="#bfbfbf" stroke-width="0.42"/>
<circle cx="162.3" cy="501.1" r="1.35" fill="#fff" stroke="#bfbfbf" stroke-width="0.42"/>
<circle cx="168.0" cy="495.0" r="1.35" fill="#fff" stroke="#bfbfbf" stroke-width="0.42"/>
<circle cx="163.5" cy="495.9" r="1.35" fill="#fff" stroke="#bfbfbf" stroke-width="0.42"/>
<circle cx="170.2" cy="499.5" r="1.35" fill="#fff" stroke="#bfbfbf" stroke-width="0.42"/>
<circle cx="181.9" cy="508.9" r="1.35" fill="#fff" stroke="#bfbfbf" stroke-width="0.42"/>
<circle cx="173.5" cy="506.3" r="1.35" fill="#fff" stroke="#bfbfbf" stroke-width="0.42"/>
<circle cx="176.1" cy="504.6" r="1.35" fill="#fff" stroke="#bfbfbf" stroke-width="0.42"/>
<circle cx="165.1" cy="489.7" r="1.35" fill="#fff" stroke="#bfbfbf" stroke-width="0.42"/>
<circle cx="193.4" cy="506.9" r="1.35" fill="#fff" stroke="#bfbfbf" stroke-width="0.42"/>
<circle cx="228.2" cy="488.6" r="1.35" fill="#faf9fc" stroke="#e0d3ed" stroke-width="0.4"/>
<circle cx="177.0" cy="506.5" r="1.35" fill="#fff" stroke="#bfbfbf" stroke-width="0.42"/>
<circle cx="200.1" cy="489.9" r="1.35" fill="#fff" stroke="#bfbfbf" stroke-width="0.42"/>
<circle cx="142.1" cy="495.9" r="1.35" fill="#ffffff" stroke="#d5ecd1" stroke-width="0.4"/>
<circle cx="182.4" cy="503.8" r="1.35" fill="#fff" stroke="#bfbfbf" stroke-width="0.42"/>
<circle cx="174.0" cy="500.8" r="1.35" fill="#fff" stroke="#bfbfbf" stroke-width="0.42"/>
<circle cx="213.4" cy="499.9" r="1.35" fill="#ffffff" stroke="#e8def2" stroke-width="0.4"/>
<circle cx="166.1" cy="477.8" r="1.35" fill="#fff" stroke="#bfbfbf" stroke-width="0.42"/>
<circle cx="182.3" cy="509.0" r="1.35" fill="#fff" stroke="#bfbfbf" stroke-width="0.42"/>
<circle cx="149.1" cy="478.5" r="1.35" fill="#dceed9" stroke="#a0d49a" stroke-width="0.4"/>
<circle cx="200.1" cy="475.2" r="1.35" fill="#fff" stroke="#bfbfbf" stroke-width="0.42"/>
<circle cx="220.2" cy="489.3" r="1.35" fill="#f7f4fa" stroke="#dacbea" stroke-width="0.4"/>
<circle cx="201.3" cy="483.4" r="1.35" fill="#fff" stroke="#bfbfbf" stroke-width="0.42"/>
<circle cx="162.3" cy="497.3" r="1.35" fill="#fff" stroke="#bfbfbf" stroke-width="0.42"/>
<circle cx="200.4" cy="504.5" r="1.35" fill="#fff" stroke="#bfbfbf" stroke-width="0.42"/>
<circle cx="164.5" cy="505.4" r="1.35" fill="#fff" stroke="#bfbfbf" stroke-width="0.42"/>
<circle cx="218.2" cy="497.0" r="1.35" fill="#fefeff" stroke="#e7dcf1" stroke-width="0.4"/>
<circle cx="200.2" cy="493.8" r="1.35" fill="#fff" stroke="#bfbfbf" stroke-width="0.42"/>
<circle cx="150.0" cy="499.3" r="1.35" fill="#fefffe" stroke="#d3ebcf" stroke-width="0.4"/>
<circle cx="197.4" cy="476.5" r="1.35" fill="#fff" stroke="#bfbfbf" stroke-width="0.42"/>
<circle cx="196.2" cy="496.2" r="1.35" fill="#fff" stroke="#bfbfbf" stroke-width="0.42"/>
<circle cx="196.8" cy="500.3" r="1.35" fill="#fff" stroke="#bfbfbf" stroke-width="0.42"/>
<circle cx="173.7" cy="501.0" r="1.35" fill="#fff" stroke="#bfbfbf" stroke-width="0.42"/>
<circle cx="188.5" cy="491.9" r="1.35" fill="#fff" stroke="#bfbfbf" stroke-width="0.42"/>
<circle cx="170.9" cy="501.1" r="1.35" fill="#fff" stroke="#bfbfbf" stroke-width="0.42"/>
<circle cx="207.5" cy="496.1" r="1.35" fill="#fff" stroke="#bfbfbf" stroke-width="0.42"/>
<circle cx="186.9" cy="499.5" r="1.35" fill="#fff" stroke="#bfbfbf" stroke-width="0.42"/>
<circle cx="207.7" cy="482.4" r="1.35" fill="#fff" stroke="#bfbfbf" stroke-width="0.42"/>
<circle cx="169.1" cy="502.2" r="1.35" fill="#fff" stroke="#bfbfbf" stroke-width="0.42"/>
<circle cx="183.8" cy="500.5" r="1.35" fill="#fff" stroke="#bfbfbf" stroke-width="0.42"/>
<circle cx="170.2" cy="506.3" r="1.35" fill="#fff" stroke="#bfbfbf" stroke-width="0.42"/>
<circle cx="167.4" cy="502.4" r="1.35" fill="#fff" stroke="#bfbfbf" stroke-width="0.42"/>
<circle cx="173.1" cy="507.1" r="1.35" fill="#fff" stroke="#bfbfbf" stroke-width="0.42"/>
<circle cx="162.3" cy="494.3" r="1.35" fill="#fff" stroke="#bfbfbf" stroke-width="0.42"/>
<circle cx="208.6" cy="495.4" r="1.35" fill="#fff" stroke="#bfbfbf" stroke-width="0.42"/>
<circle cx="139.2" cy="489.9" r="1.35" fill="#f6fbf5" stroke="#c8e6c3" stroke-width="0.4"/>
<circle cx="160.3" cy="490.1" r="1.35" fill="#fff" stroke="#bfbfbf" stroke-width="0.42"/>
<circle cx="112.6" cy="475.6" r="1.35" fill="#f7fbf7" stroke="#cae7c5" stroke-width="0.4"/>
<circle cx="190.2" cy="496.1" r="1.35" fill="#fff" stroke="#bfbfbf" stroke-width="0.42"/>
<circle cx="183.7" cy="500.8" r="1.35" fill="#fff" stroke="#bfbfbf" stroke-width="0.42"/>
<circle cx="200.9" cy="492.2" r="1.35" fill="#fff" stroke="#bfbfbf" stroke-width="0.42"/>
<circle cx="181.3" cy="500.4" r="1.35" fill="#fff" stroke="#bfbfbf" stroke-width="0.42"/>
<circle cx="190.7" cy="504.0" r="1.35" fill="#fff" stroke="#bfbfbf" stroke-width="0.42"/>
<circle cx="176.2" cy="500.7" r="1.35" fill="#fff" stroke="#bfbfbf" stroke-width="0.42"/>
<circle cx="155.9" cy="489.0" r="1.35" fill="#fff" stroke="#bfbfbf" stroke-width="0.42"/>
<circle cx="235.4" cy="482.1" r="1.35" fill="#f7f3fa" stroke="#d9cae9" stroke-width="0.4"/>
<circle cx="173.5" cy="502.1" r="1.35" fill="#fff" stroke="#bfbfbf" stroke-width="0.42"/>
<circle cx="186.6" cy="508.3" r="1.35" fill="#fff" stroke="#bfbfbf" stroke-width="0.42"/>
<circle cx="222.9" cy="491.7" r="1.35" fill="#fbf9fd" stroke="#e1d4ee" stroke-width="0.4"/>
<circle cx="185.5" cy="500.0" r="1.35" fill="#fff" stroke="#bfbfbf" stroke-width="0.42"/>
<circle cx="176.3" cy="501.9" r="1.35" fill="#fff" stroke="#bfbfbf" stroke-width="0.42"/>
<circle cx="160.6" cy="503.2" r="1.35" fill="#fff" stroke="#bfbfbf" stroke-width="0.42"/>
<circle cx="174.6" cy="488.6" r="1.35" fill="#fff" stroke="#bfbfbf" stroke-width="0.42"/>
<circle cx="185.8" cy="508.4" r="1.35" fill="#fff" stroke="#bfbfbf" stroke-width="0.42"/>
<circle cx="184.9" cy="503.8" r="1.35" fill="#fff" stroke="#bfbfbf" stroke-width="0.42"/>
<circle cx="197.9" cy="493.1" r="1.35" fill="#fff" stroke="#bfbfbf" stroke-width="0.42"/>
<circle cx="212.3" cy="486.7" r="1.35" fill="#f2ecf7" stroke="#d0bde4" stroke-width="0.4"/>
<circle cx="210.7" cy="469.1" r="1.35" fill="#fff" stroke="#bfbfbf" stroke-width="0.42"/>
<circle cx="215.3" cy="493.6" r="1.35" fill="#f9f7fc" stroke="#ded1ec" stroke-width="0.4"/>
<circle cx="164.3" cy="474.3" r="1.35" fill="#fff" stroke="#bfbfbf" stroke-width="0.42"/>
<circle cx="177.7" cy="495.6" r="1.35" fill="#fff" stroke="#bfbfbf" stroke-width="0.42"/>
<circle cx="161.6" cy="484.2" r="1.35" fill="#fff" stroke="#bfbfbf" stroke-width="0.42"/>
<circle cx="180.0" cy="508.9" r="1.35" fill="#fff" stroke="#bfbfbf" stroke-width="0.42"/>
<circle cx="200.4" cy="494.1" r="1.35" fill="#fff" stroke="#bfbfbf" stroke-width="0.42"/>
<circle cx="181.2" cy="508.1" r="1.35" fill="#fff" stroke="#bfbfbf" stroke-width="0.42"/>
<circle cx="202.3" cy="503.6" r="1.35" fill="#fff" stroke="#bfbfbf" stroke-width="0.42"/>
<circle cx="162.0" cy="501.4" r="1.35" fill="#fff" stroke="#bfbfbf" stroke-width="0.42"/>
<circle cx="183.6" cy="507.6" r="1.35" fill="#fff" stroke="#bfbfbf" stroke-width="0.42"/>
<circle cx="131.4" cy="489.1" r="1.35" fill="#fdfefd" stroke="#d2ebce" stroke-width="0.4"/>
<circle cx="178.8" cy="496.9" r="1.35" fill="#fff" stroke="#bfbfbf" stroke-width="0.42"/>
<circle cx="202.5" cy="492.4" r="1.35" fill="#fff" stroke="#bfbfbf" stroke-width="0.42"/>
<circle cx="154.8" cy="479.8" r="1.35" fill="#fff" stroke="#bfbfbf" stroke-width="0.42"/>
<circle cx="173.9" cy="494.2" r="1.35" fill="#fff" stroke="#bfbfbf" stroke-width="0.42"/>
<circle cx="181.2" cy="497.9" r="1.35" fill="#fff" stroke="#bfbfbf" stroke-width="0.42"/>
<circle cx="190.0" cy="504.6" r="1.35" fill="#fff" stroke="#bfbfbf" stroke-width="0.42"/>
<circle cx="185.9" cy="504.7" r="1.35" fill="#fff" stroke="#bfbfbf" stroke-width="0.42"/>
<circle cx="164.1" cy="500.2" r="1.35" fill="#fff" stroke="#bfbfbf" stroke-width="0.42"/>
<circle cx="174.0" cy="501.9" r="1.35" fill="#fff" stroke="#bfbfbf" stroke-width="0.42"/>
<circle cx="122.8" cy="476.9" r="1.35" fill="#eaf5e8" stroke="#b5ddb0" stroke-width="0.4"/>
<circle cx="171.2" cy="484.0" r="1.35" fill="#fff" stroke="#bfbfbf" stroke-width="0.42"/>
<circle cx="196.4" cy="505.9" r="1.35" fill="#fff" stroke="#bfbfbf" stroke-width="0.42"/>
<circle cx="215.5" cy="498.7" r="1.35" fill="#ffffff" stroke="#e8ddf2" stroke-width="0.4"/>
<circle cx="168.5" cy="482.7" r="1.35" fill="#fff" stroke="#bfbfbf" stroke-width="0.42"/>
<circle cx="207.3" cy="501.8" r="1.35" fill="#fff" stroke="#bfbfbf" stroke-width="0.42"/>
<circle cx="200.8" cy="469.4" r="1.35" fill="#fff" stroke="#bfbfbf" stroke-width="0.42"/>
<circle cx="163.4" cy="505.1" r="1.35" fill="#fff" stroke="#bfbfbf" stroke-width="0.42"/>
<circle cx="228.5" cy="478.2" r="1.35" fill="#eee6f5" stroke="#c9b4df" stroke-width="0.4"/>
<circle cx="187.2" cy="501.7" r="1.35" fill="#fff" stroke="#bfbfbf" stroke-width="0.42"/>
<circle cx="184.2" cy="494.0" r="1.35" fill="#fff" stroke="#bfbfbf" stroke-width="0.42"/>
<circle cx="162.4" cy="481.8" r="1.35" fill="#fff" stroke="#bfbfbf" stroke-width="0.42"/>
<circle cx="137.0" cy="484.2" r="1.35" fill="#edf6eb" stroke="#b9e0b5" stroke-width="0.4"/>
<circle cx="208.5" cy="500.4" r="1.35" fill="#fff" stroke="#bfbfbf" stroke-width="0.42"/>
<circle cx="195.8" cy="497.5" r="1.35" fill="#fff" stroke="#bfbfbf" stroke-width="0.42"/>
<circle cx="164.0" cy="503.8" r="1.35" fill="#fff" stroke="#bfbfbf" stroke-width="0.42"/>
<circle cx="204.8" cy="482.5" r="1.35" fill="#fff" stroke="#bfbfbf" stroke-width="0.42"/>
<circle cx="156.9" cy="502.5" r="1.35" fill="#fff" stroke="#bfbfbf" stroke-width="0.42"/>
<circle cx="195.9" cy="498.7" r="1.35" fill="#fff" stroke="#bfbfbf" stroke-width="0.42"/>
<circle cx="119.6" cy="475.6" r="1.35" fill="#eaf5e8" stroke="#b5deb0" stroke-width="0.4"/>
<circle cx="158.2" cy="502.5" r="1.35" fill="#fff" stroke="#bfbfbf" stroke-width="0.42"/>
<circle cx="174.7" cy="497.3" r="1.35" fill="#fff" stroke="#bfbfbf" stroke-width="0.42"/>
<circle cx="203.0" cy="469.8" r="1.35" fill="#fff" stroke="#bfbfbf" stroke-width="0.42"/>
<circle cx="172.6" cy="489.7" r="1.35" fill="#fff" stroke="#bfbfbf" stroke-width="0.42"/>
<circle cx="186.3" cy="503.9" r="1.35" fill="#fff" stroke="#bfbfbf" stroke-width="0.42"/>
<circle cx="179.7" cy="503.5" r="1.35" fill="#fff" stroke="#bfbfbf" stroke-width="0.42"/>
<circle cx="168.3" cy="495.1" r="1.35" fill="#fff" stroke="#bfbfbf" stroke-width="0.42"/>
<circle cx="207.4" cy="465.0" r="1.35" fill="#fff" stroke="#bfbfbf" stroke-width="0.42"/>
<circle cx="197.2" cy="506.1" r="1.35" fill="#fff" stroke="#bfbfbf" stroke-width="0.42"/>
<circle cx="214.0" cy="499.6" r="1.35" fill="#ffffff" stroke="#e8def2" stroke-width="0.4"/>
<circle cx="227.4" cy="477.6" r="1.35" fill="#ece5f4" stroke="#c7b1de" stroke-width="0.4"/>
<circle cx="191.0" cy="500.7" r="1.35" fill="#fff" stroke="#bfbfbf" stroke-width="0.42"/>
<circle cx="161.6" cy="504.6" r="1.35" fill="#fff" stroke="#bfbfbf" stroke-width="0.42"/>
<circle cx="199.9" cy="480.3" r="1.35" fill="#fff" stroke="#bfbfbf" stroke-width="0.42"/>
<circle cx="163.0" cy="500.3" r="1.35" fill="#fff" stroke="#bfbfbf" stroke-width="0.42"/>
<circle cx="194.0" cy="507.0" r="1.35" fill="#fff" stroke="#bfbfbf" stroke-width="0.42"/>
<circle cx="184.1" cy="503.3" r="1.35" fill="#fff" stroke="#bfbfbf" stroke-width="0.42"/>
<circle cx="162.5" cy="494.2" r="1.35" fill="#fff" stroke="#bfbfbf" stroke-width="0.42"/>
<circle cx="162.7" cy="496.9" r="1.35" fill="#fff" stroke="#bfbfbf" stroke-width="0.42"/>
<circle cx="213.6" cy="497.4" r="1.35" fill="#fdfcfe" stroke="#e4d8ef" stroke-width="0.4"/>
<circle cx="193.1" cy="506.5" r="1.35" fill="#fff" stroke="#bfbfbf" stroke-width="0.42"/>
<circle cx="171.3" cy="505.6" r="1.35" fill="#fff" stroke="#bfbfbf" stroke-width="0.42"/>
<circle cx="138.7" cy="490.2" r="1.35" fill="#f7fbf7" stroke="#c9e7c5" stroke-width="0.4"/>
<circle cx="187.4" cy="507.1" r="1.35" fill="#fff" stroke="#bfbfbf" stroke-width="0.42"/>
<circle cx="170.8" cy="499.7" r="1.35" fill="#fff" stroke="#bfbfbf" stroke-width="0.42"/>
<circle cx="165.8" cy="503.6" r="1.35" fill="#fff" stroke="#bfbfbf" stroke-width="0.42"/>
<circle cx="193.0" cy="505.6" r="1.35" fill="#fff" stroke="#bfbfbf" stroke-width="0.42"/>
<circle cx="170.7" cy="504.6" r="1.35" fill="#fff" stroke="#bfbfbf" stroke-width="0.42"/>
<circle cx="162.6" cy="487.8" r="1.35" fill="#fff" stroke="#bfbfbf" stroke-width="0.42"/>
<circle cx="216.7" cy="475.1" r="1.35" fill="#e7ddf1" stroke="#bea4d8" stroke-width="0.4"/>
<circle cx="172.0" cy="492.7" r="1.35" fill="#fff" stroke="#bfbfbf" stroke-width="0.42"/>
<circle cx="179.2" cy="507.8" r="1.35" fill="#fff" stroke="#bfbfbf" stroke-width="0.42"/>
<circle cx="186.8" cy="489.9" r="1.35" fill="#fff" stroke="#bfbfbf" stroke-width="0.42"/>
<circle cx="206.8" cy="496.6" r="1.35" fill="#fff" stroke="#bfbfbf" stroke-width="0.42"/>
<circle cx="224.5" cy="489.0" r="1.35" fill="#f9f6fb" stroke="#ddcfeb" stroke-width="0.4"/>
<circle cx="210.5" cy="476.6" r="1.35" fill="#fff" stroke="#bfbfbf" stroke-width="0.42"/>
<circle cx="214.6" cy="494.6" r="1.35" fill="#faf8fc" stroke="#e0d2ed" stroke-width="0.4"/>
<circle cx="187.8" cy="506.5" r="1.35" fill="#fff" stroke="#bfbfbf" stroke-width="0.42"/>
<circle cx="158.3" cy="488.1" r="1.35" fill="#fff" stroke="#bfbfbf" stroke-width="0.42"/>
<circle cx="180.2" cy="499.4" r="1.35" fill="#fff" stroke="#bfbfbf" stroke-width="0.42"/>
<circle cx="153.6" cy="501.5" r="1.35" fill="#fff" stroke="#bfbfbf" stroke-width="0.42"/>
<circle cx="157.5" cy="502.9" r="1.35" fill="#fff" stroke="#bfbfbf" stroke-width="0.42"/>
<circle cx="181.9" cy="498.9" r="1.35" fill="#fff" stroke="#bfbfbf" stroke-width="0.42"/>
<circle cx="192.1" cy="487.3" r="1.35" fill="#fff" stroke="#bfbfbf" stroke-width="0.42"/>
<circle cx="194.9" cy="479.7" r="1.35" fill="#fff" stroke="#bfbfbf" stroke-width="0.42"/>
<circle cx="202.3" cy="471.3" r="1.35" fill="#fff" stroke="#bfbfbf" stroke-width="0.42"/>
<circle cx="172.2" cy="507.1" r="1.35" fill="#fff" stroke="#bfbfbf" stroke-width="0.42"/>
<circle cx="168.5" cy="505.5" r="1.35" fill="#fff" stroke="#bfbfbf" stroke-width="0.42"/>
<circle cx="123.4" cy="484.4" r="1.35" fill="#fefefd" stroke="#d3ebcf" stroke-width="0.4"/>
<circle cx="159.3" cy="482.0" r="1.35" fill="#fff" stroke="#bfbfbf" stroke-width="0.42"/>
<circle cx="158.8" cy="502.9" r="1.35" fill="#fff" stroke="#bfbfbf" stroke-width="0.42"/>
<circle cx="188.6" cy="506.4" r="1.35" fill="#fff" stroke="#bfbfbf" stroke-width="0.42"/>
<circle cx="190.6" cy="506.9" r="1.35" fill="#fff" stroke="#bfbfbf" stroke-width="0.42"/>
<circle cx="178.1" cy="506.5" r="1.35" fill="#fff" stroke="#bfbfbf" stroke-width="0.42"/>
<circle cx="201.9" cy="503.1" r="1.35" fill="#fff" stroke="#bfbfbf" stroke-width="0.42"/>
<circle cx="188.2" cy="507.9" r="1.35" fill="#fff" stroke="#bfbfbf" stroke-width="0.42"/>
<circle cx="151.2" cy="487.4" r="1.35" fill="#eaf5e8" stroke="#b5ddb0" stroke-width="0.4"/>
<circle cx="176.5" cy="497.1" r="1.35" fill="#fff" stroke="#bfbfbf" stroke-width="0.42"/>
<circle cx="122.5" cy="484.1" r="1.35" fill="#fefffe" stroke="#d4ecd0" stroke-width="0.4"/>
<circle cx="171.7" cy="506.1" r="1.35" fill="#fff" stroke="#bfbfbf" stroke-width="0.42"/>
<circle cx="200.6" cy="483.6" r="1.35" fill="#fff" stroke="#bfbfbf" stroke-width="0.42"/>
<circle cx="191.6" cy="486.0" r="1.35" fill="#fff" stroke="#bfbfbf" stroke-width="0.42"/>
<circle cx="167.1" cy="502.6" r="1.35" fill="#fff" stroke="#bfbfbf" stroke-width="0.42"/>
<circle cx="181.4" cy="504.8" r="1.35" fill="#fff" stroke="#bfbfbf" stroke-width="0.42"/>
<circle cx="169.6" cy="480.6" r="1.35" fill="#fff" stroke="#bfbfbf" stroke-width="0.42"/>
<circle cx="224.0" cy="487.2" r="1.35" fill="#f6f3fa" stroke="#d9c9e9" stroke-width="0.4"/>
<circle cx="143.5" cy="488.6" r="1.35" fill="#f0f8ef" stroke="#bfe2ba" stroke-width="0.4"/>
<circle cx="152.8" cy="499.5" r="1.35" fill="#fff" stroke="#bfbfbf" stroke-width="0.42"/>
<circle cx="245.9" cy="480.9" r="1.35" fill="#ffffff" stroke="#e8def2" stroke-width="0.4"/>
<circle cx="158.1" cy="478.7" r="1.35" fill="#fff" stroke="#bfbfbf" stroke-width="0.42"/>
<circle cx="175.1" cy="507.6" r="1.35" fill="#fff" stroke="#bfbfbf" stroke-width="0.42"/>
<circle cx="186.4" cy="507.9" r="1.35" fill="#fff" stroke="#bfbfbf" stroke-width="0.42"/>
<circle cx="180.2" cy="508.9" r="1.35" fill="#fff" stroke="#bfbfbf" stroke-width="0.42"/>
<circle cx="164.7" cy="503.7" r="1.35" fill="#fff" stroke="#bfbfbf" stroke-width="0.42"/>
<circle cx="190.6" cy="497.2" r="1.35" fill="#fff" stroke="#bfbfbf" stroke-width="0.42"/>
<circle cx="153.9" cy="492.4" r="1.35" fill="#fff" stroke="#bfbfbf" stroke-width="0.42"/>
<circle cx="183.5" cy="507.4" r="1.35" fill="#fff" stroke="#bfbfbf" stroke-width="0.42"/>
<circle cx="185.7" cy="508.6" r="1.35" fill="#fff" stroke="#bfbfbf" stroke-width="0.42"/>
<circle cx="179.4" cy="506.6" r="1.35" fill="#fff" stroke="#bfbfbf" stroke-width="0.42"/>
<circle cx="216.0" cy="489.8" r="1.35" fill="#f6f2fa" stroke="#d8c8e8" stroke-width="0.4"/>
<circle cx="166.3" cy="501.6" r="1.35" fill="#fff" stroke="#bfbfbf" stroke-width="0.42"/>
<circle cx="166.5" cy="481.1" r="1.35" fill="#fff" stroke="#bfbfbf" stroke-width="0.42"/>
<circle cx="159.2" cy="491.3" r="1.35" fill="#fff" stroke="#bfbfbf" stroke-width="0.42"/>
<circle cx="169.2" cy="500.4" r="1.35" fill="#fff" stroke="#bfbfbf" stroke-width="0.42"/>
<circle cx="154.5" cy="499.4" r="1.35" fill="#fff" stroke="#bfbfbf" stroke-width="0.42"/>
<circle cx="212.6" cy="499.1" r="1.35" fill="#fefdfe" stroke="#e6dbf1" stroke-width="0.4"/>
<circle cx="140.8" cy="486.1" r="1.35" fill="#eef7ec" stroke="#bbe0b6" stroke-width="0.4"/>
<circle cx="202.1" cy="503.2" r="1.35" fill="#fff" stroke="#bfbfbf" stroke-width="0.42"/>
<circle cx="179.7" cy="501.0" r="1.35" fill="#fff" stroke="#bfbfbf" stroke-width="0.42"/>
<circle cx="184.8" cy="508.3" r="1.35" fill="#fff" stroke="#bfbfbf" stroke-width="0.42"/>
<circle cx="179.3" cy="501.4" r="1.35" fill="#fff" stroke="#bfbfbf" stroke-width="0.42"/>
<circle cx="192.6" cy="503.8" r="1.35" fill="#fff" stroke="#bfbfbf" stroke-width="0.42"/>
<circle cx="154.6" cy="467.6" r="1.35" fill="#fff" stroke="#bfbfbf" stroke-width="0.42"/>
<circle cx="171.1" cy="500.1" r="1.35" fill="#fff" stroke="#bfbfbf" stroke-width="0.42"/>
<circle cx="180.7" cy="505.5" r="1.35" fill="#fff" stroke="#bfbfbf" stroke-width="0.42"/>
<circle cx="182.7" cy="507.9" r="1.35" fill="#fff" stroke="#bfbfbf" stroke-width="0.42"/>
<circle cx="150.4" cy="491.3" r="1.35" fill="#f1f8ef" stroke="#bfe2ba" stroke-width="0.4"/>
<circle cx="166.0" cy="505.7" r="1.35" fill="#fff" stroke="#bfbfbf" stroke-width="0.42"/>
<circle cx="153.3" cy="484.4" r="1.35" fill="#fff" stroke="#bfbfbf" stroke-width="0.42"/>
<circle cx="182.1" cy="497.3" r="1.35" fill="#fff" stroke="#bfbfbf" stroke-width="0.42"/>
<circle cx="176.7" cy="508.3" r="1.35" fill="#fff" stroke="#bfbfbf" stroke-width="0.42"/>
<circle cx="208.0" cy="475.9" r="1.35" fill="#fff" stroke="#bfbfbf" stroke-width="0.42"/>
<circle cx="186.2" cy="496.8" r="1.35" fill="#fff" stroke="#bfbfbf" stroke-width="0.42"/>
<circle cx="228.1" cy="490.1" r="1.35" fill="#fcfbfd" stroke="#e3d7ef" stroke-width="0.4"/>
<circle cx="205.7" cy="495.0" r="1.35" fill="#fff" stroke="#bfbfbf" stroke-width="0.42"/>
<circle cx="164.9" cy="494.7" r="1.35" fill="#fff" stroke="#bfbfbf" stroke-width="0.42"/>
<circle cx="208.8" cy="491.9" r="1.35" fill="#fff" stroke="#bfbfbf" stroke-width="0.42"/>
<circle cx="172.1" cy="505.3" r="1.35" fill="#fff" stroke="#bfbfbf" stroke-width="0.42"/>
<circle cx="197.6" cy="501.8" r="1.35" fill="#fff" stroke="#bfbfbf" stroke-width="0.42"/>
<circle cx="157.1" cy="501.1" r="1.35" fill="#fff" stroke="#bfbfbf" stroke-width="0.42"/>
<circle cx="191.9" cy="490.7" r="1.35" fill="#fff" stroke="#bfbfbf" stroke-width="0.42"/>
<circle cx="214.4" cy="475.1" r="1.35" fill="#e6dcf1" stroke="#bda3d8" stroke-width="0.4"/>
<circle cx="163.0" cy="486.3" r="1.35" fill="#fff" stroke="#bfbfbf" stroke-width="0.42"/>
<circle cx="198.0" cy="504.7" r="1.35" fill="#fff" stroke="#bfbfbf" stroke-width="0.42"/>
<circle cx="175.6" cy="491.1" r="1.35" fill="#fff" stroke="#bfbfbf" stroke-width="0.42"/>
<circle cx="199.2" cy="505.5" r="1.35" fill="#fff" stroke="#bfbfbf" stroke-width="0.42"/>
<circle cx="159.0" cy="477.8" r="1.35" fill="#fff" stroke="#bfbfbf" stroke-width="0.42"/>
<circle cx="180.0" cy="503.4" r="1.35" fill="#fff" stroke="#bfbfbf" stroke-width="0.42"/>
<circle cx="230.5" cy="478.4" r="1.35" fill="#efe8f5" stroke="#cbb7e1" stroke-width="0.4"/>
<circle cx="151.2" cy="500.3" r="1.35" fill="#ffffff" stroke="#d4ecd0" stroke-width="0.4"/>
<circle cx="175.8" cy="489.0" r="1.35" fill="#fff" stroke="#bfbfbf" stroke-width="0.42"/>
<circle cx="171.4" cy="487.7" r="1.35" fill="#fff" stroke="#bfbfbf" stroke-width="0.42"/>
<circle cx="175.8" cy="498.4" r="1.35" fill="#fff" stroke="#bfbfbf" stroke-width="0.42"/>
<circle cx="196.5" cy="487.9" r="1.35" fill="#fff" stroke="#bfbfbf" stroke-width="0.42"/>
<circle cx="216.2" cy="497.9" r="1.35" fill="#fefeff" stroke="#e7dcf1" stroke-width="0.4"/>
<circle cx="178.4" cy="499.8" r="1.35" fill="#fff" stroke="#bfbfbf" stroke-width="0.42"/>
<circle cx="199.6" cy="483.3" r="1.35" fill="#fff" stroke="#bfbfbf" stroke-width="0.42"/>
<circle cx="204.2" cy="467.8" r="1.35" fill="#fff" stroke="#bfbfbf" stroke-width="0.42"/>
<circle cx="158.8" cy="486.2" r="1.35" fill="#fff" stroke="#bfbfbf" stroke-width="0.42"/>
<circle cx="157.3" cy="497.3" r="1.35" fill="#fff" stroke="#bfbfbf" stroke-width="0.42"/>
<circle cx="182.9" cy="508.9" r="1.35" fill="#fff" stroke="#bfbfbf" stroke-width="0.42"/>
<circle cx="205.1" cy="500.9" r="1.35" fill="#fff" stroke="#bfbfbf" stroke-width="0.42"/>
<circle cx="219.1" cy="481.5" r="1.35" fill="#eee7f5" stroke="#cab5e0" stroke-width="0.4"/>
<circle cx="187.7" cy="502.6" r="1.35" fill="#fff" stroke="#bfbfbf" stroke-width="0.42"/>
<circle cx="144.0" cy="493.1" r="1.35" fill="#f8fcf7" stroke="#cae7c6" stroke-width="0.4"/>
<circle cx="179.4" cy="502.3" r="1.35" fill="#fff" stroke="#bfbfbf" stroke-width="0.42"/>
<circle cx="197.5" cy="490.2" r="1.35" fill="#fff" stroke="#bfbfbf" stroke-width="0.42"/>
<circle cx="202.5" cy="471.3" r="1.35" fill="#fff" stroke="#bfbfbf" stroke-width="0.42"/>
<circle cx="173.8" cy="489.1" r="1.35" fill="#fff" stroke="#bfbfbf" stroke-width="0.42"/>
<circle cx="166.3" cy="493.3" r="1.35" fill="#fff" stroke="#bfbfbf" stroke-width="0.42"/>
<circle cx="185.1" cy="507.3" r="1.35" fill="#fff" stroke="#bfbfbf" stroke-width="0.42"/>
<circle cx="159.6" cy="492.4" r="1.35" fill="#fff" stroke="#bfbfbf" stroke-width="0.42"/>
<circle cx="175.1" cy="492.5" r="1.35" fill="#fff" stroke="#bfbfbf" stroke-width="0.42"/>
<circle cx="182.2" cy="505.2" r="1.35" fill="#fff" stroke="#bfbfbf" stroke-width="0.42"/>
<circle cx="141.3" cy="493.2" r="1.35" fill="#fbfdfa" stroke="#cee9ca" stroke-width="0.4"/>
<circle cx="188.6" cy="507.2" r="1.35" fill="#fff" stroke="#bfbfbf" stroke-width="0.42"/>
<circle cx="165.6" cy="502.0" r="1.35" fill="#fff" stroke="#bfbfbf" stroke-width="0.42"/>
<circle cx="172.7" cy="507.6" r="1.35" fill="#fff" stroke="#bfbfbf" stroke-width="0.42"/>
<circle cx="203.7" cy="492.2" r="1.35" fill="#fff" stroke="#bfbfbf" stroke-width="0.42"/>
<circle cx="189.2" cy="488.2" r="1.35" fill="#fff" stroke="#bfbfbf" stroke-width="0.42"/>
<circle cx="165.3" cy="499.9" r="1.35" fill="#fff" stroke="#bfbfbf" stroke-width="0.42"/>
<circle cx="162.0" cy="502.4" r="1.35" fill="#fff" stroke="#bfbfbf" stroke-width="0.42"/>
<circle cx="119.9" cy="482.2" r="1.35" fill="#fefefe" stroke="#d3ebcf" stroke-width="0.4"/>
<circle cx="191.9" cy="502.3" r="1.35" fill="#fff" stroke="#bfbfbf" stroke-width="0.42"/>
<circle cx="165.2" cy="494.9" r="1.35" fill="#fff" stroke="#bfbfbf" stroke-width="0.42"/>
<circle cx="143.1" cy="481.7" r="1.35" fill="#e4f2e2" stroke="#acdaa7" stroke-width="0.4"/>
<circle cx="231.2" cy="488.4" r="1.35" fill="#fcfbfd" stroke="#e3d7ef" stroke-width="0.4"/>
<circle cx="161.5" cy="492.9" r="1.35" fill="#fff" stroke="#bfbfbf" stroke-width="0.42"/>
<circle cx="212.0" cy="498.9" r="1.35" fill="#fdfdfe" stroke="#e5daf0" stroke-width="0.4"/>
<circle cx="181.2" cy="501.4" r="1.35" fill="#fff" stroke="#bfbfbf" stroke-width="0.42"/>
<circle cx="194.9" cy="497.3" r="1.35" fill="#fff" stroke="#bfbfbf" stroke-width="0.42"/>
<circle cx="186.7" cy="507.0" r="1.35" fill="#fff" stroke="#bfbfbf" stroke-width="0.42"/>
<circle cx="174.1" cy="505.6" r="1.35" fill="#fff" stroke="#bfbfbf" stroke-width="0.42"/>
<circle cx="142.5" cy="475.5" r="1.35" fill="#d9edd6" stroke="#9cd296" stroke-width="0.4"/>
<circle cx="158.5" cy="494.2" r="1.35" fill="#fff" stroke="#bfbfbf" stroke-width="0.42"/>
<circle cx="150.7" cy="492.4" r="1.35" fill="#f2f9f1" stroke="#c2e3bd" stroke-width="0.4"/>
<circle cx="203.8" cy="467.6" r="1.35" fill="#fff" stroke="#bfbfbf" stroke-width="0.42"/>
<circle cx="199.2" cy="478.1" r="1.35" fill="#fff" stroke="#bfbfbf" stroke-width="0.42"/>
<circle cx="190.6" cy="505.8" r="1.35" fill="#fff" stroke="#bfbfbf" stroke-width="0.42"/>
<circle cx="185.0" cy="500.5" r="1.35" fill="#fff" stroke="#bfbfbf" stroke-width="0.42"/>
<circle cx="169.7" cy="501.6" r="1.35" fill="#fff" stroke="#bfbfbf" stroke-width="0.42"/>
<circle cx="186.7" cy="502.0" r="1.35" fill="#fff" stroke="#bfbfbf" stroke-width="0.42"/>
<circle cx="180.8" cy="503.2" r="1.35" fill="#fff" stroke="#bfbfbf" stroke-width="0.42"/>
<circle cx="156.5" cy="483.1" r="1.35" fill="#fff" stroke="#bfbfbf" stroke-width="0.42"/>
<circle cx="176.0" cy="498.1" r="1.35" fill="#fff" stroke="#bfbfbf" stroke-width="0.42"/>
<circle cx="176.6" cy="508.1" r="1.35" fill="#fff" stroke="#bfbfbf" stroke-width="0.42"/>
<circle cx="208.1" cy="502.2" r="1.35" fill="#fff" stroke="#bfbfbf" stroke-width="0.42"/>
<circle cx="191.2" cy="507.5" r="1.35" fill="#fff" stroke="#bfbfbf" stroke-width="0.42"/>
<circle cx="160.1" cy="503.6" r="1.35" fill="#fff" stroke="#bfbfbf" stroke-width="0.42"/>
<circle cx="199.3" cy="473.9" r="1.35" fill="#fff" stroke="#bfbfbf" stroke-width="0.42"/>
<circle cx="198.8" cy="493.2" r="1.35" fill="#fff" stroke="#bfbfbf" stroke-width="0.42"/>
<circle cx="158.8" cy="499.1" r="1.35" fill="#fff" stroke="#bfbfbf" stroke-width="0.42"/>
<circle cx="194.2" cy="504.0" r="1.35" fill="#fff" stroke="#bfbfbf" stroke-width="0.42"/>
<circle cx="180.4" cy="508.2" r="1.35" fill="#fff" stroke="#bfbfbf" stroke-width="0.42"/>
<circle cx="201.3" cy="498.0" r="1.35" fill="#fff" stroke="#bfbfbf" stroke-width="0.42"/>
<circle cx="159.6" cy="497.0" r="1.35" fill="#fff" stroke="#bfbfbf" stroke-width="0.42"/>
<circle cx="196.2" cy="486.6" r="1.35" fill="#fff" stroke="#bfbfbf" stroke-width="0.42"/>
<circle cx="169.2" cy="492.3" r="1.35" fill="#fff" stroke="#bfbfbf" stroke-width="0.42"/>
<circle cx="159.3" cy="495.5" r="1.35" fill="#fff" stroke="#bfbfbf" stroke-width="0.42"/>
<circle cx="189.2" cy="503.2" r="1.35" fill="#fff" stroke="#bfbfbf" stroke-width="0.42"/>
<circle cx="167.8" cy="501.0" r="1.35" fill="#fff" stroke="#bfbfbf" stroke-width="0.42"/>
<circle cx="213.5" cy="496.0" r="1.35" fill="#fbf9fd" stroke="#e1d5ee" stroke-width="0.4"/>
<circle cx="185.6" cy="504.5" r="1.35" fill="#fff" stroke="#bfbfbf" stroke-width="0.42"/>
<circle cx="154.7" cy="470.6" r="1.35" fill="#fff" stroke="#bfbfbf" stroke-width="0.42"/>
<circle cx="158.6" cy="470.3" r="1.35" fill="#fff" stroke="#bfbfbf" stroke-width="0.42"/>
<circle cx="188.5" cy="488.1" r="1.35" fill="#fff" stroke="#bfbfbf" stroke-width="0.42"/>
<circle cx="187.3" cy="499.3" r="1.35" fill="#fff" stroke="#bfbfbf" stroke-width="0.42"/>
<circle cx="157.2" cy="479.8" r="1.35" fill="#fff" stroke="#bfbfbf" stroke-width="0.42"/>
<circle cx="170.3" cy="482.7" r="1.35" fill="#fff" stroke="#bfbfbf" stroke-width="0.42"/>
<circle cx="219.8" cy="481.2" r="1.35" fill="#eee7f5" stroke="#cab5e0" stroke-width="0.4"/>
<circle cx="168.8" cy="493.9" r="1.35" fill="#fff" stroke="#bfbfbf" stroke-width="0.42"/>
<circle cx="158.6" cy="501.1" r="1.35" fill="#fff" stroke="#bfbfbf" stroke-width="0.42"/>
<circle cx="185.6" cy="492.0" r="1.35" fill="#fff" stroke="#bfbfbf" stroke-width="0.42"/>
<circle cx="151.1" cy="495.4" r="1.35" fill="#f7fbf6" stroke="#c9e6c4" stroke-width="0.4"/>
<circle cx="180.6" cy="506.4" r="1.35" fill="#fff" stroke="#bfbfbf" stroke-width="0.42"/>
<circle cx="177.3" cy="497.8" r="1.35" fill="#fff" stroke="#bfbfbf" stroke-width="0.42"/>
<circle cx="179.7" cy="508.1" r="1.35" fill="#fff" stroke="#bfbfbf" stroke-width="0.42"/>
<circle cx="215.8" cy="492.4" r="1.35" fill="#f8f6fb" stroke="#dcceeb" stroke-width="0.4"/>
<circle cx="198.1" cy="478.0" r="1.35" fill="#fff" stroke="#bfbfbf" stroke-width="0.42"/>
<circle cx="181.0" cy="508.9" r="1.35" fill="#fff" stroke="#bfbfbf" stroke-width="0.42"/>
<circle cx="158.8" cy="496.8" r="1.35" fill="#fff" stroke="#bfbfbf" stroke-width="0.42"/>
<circle cx="148.7" cy="477.1" r="1.35" fill="#daedd7" stroke="#9cd297" stroke-width="0.4"/>
<circle cx="160.7" cy="482.2" r="1.35" fill="#fff" stroke="#bfbfbf" stroke-width="0.42"/>
<circle cx="165.1" cy="488.6" r="1.35" fill="#fff" stroke="#bfbfbf" stroke-width="0.42"/>
<circle cx="197.0" cy="496.2" r="1.35" fill="#fff" stroke="#bfbfbf" stroke-width="0.42"/>
<circle cx="230.7" cy="487.4" r="1.35" fill="#fbf9fc" stroke="#e0d3ed" stroke-width="0.4"/>
<circle cx="153.0" cy="487.9" r="1.35" fill="#fff" stroke="#bfbfbf" stroke-width="0.42"/>
<circle cx="191.9" cy="500.8" r="1.35" fill="#fff" stroke="#bfbfbf" stroke-width="0.42"/>
<circle cx="136.5" cy="480.3" r="1.35" fill="#e5f3e3" stroke="#aedaa9" stroke-width="0.4"/>
<circle cx="155.3" cy="475.5" r="1.35" fill="#fff" stroke="#bfbfbf" stroke-width="0.42"/>
<circle cx="175.3" cy="507.8" r="1.35" fill="#fff" stroke="#bfbfbf" stroke-width="0.42"/>
<circle cx="203.8" cy="494.8" r="1.35" fill="#fff" stroke="#bfbfbf" stroke-width="0.42"/>
<circle cx="192.2" cy="482.0" r="1.35" fill="#fff" stroke="#bfbfbf" stroke-width="0.42"/>
<circle cx="198.3" cy="475.4" r="1.35" fill="#fff" stroke="#bfbfbf" stroke-width="0.42"/>
<circle cx="165.0" cy="485.9" r="1.35" fill="#fff" stroke="#bfbfbf" stroke-width="0.42"/>
<circle cx="122.5" cy="482.1" r="1.35" fill="#f9fcf8" stroke="#cbe8c7" stroke-width="0.4"/>
<circle cx="217.0" cy="480.3" r="1.35" fill="#ece5f4" stroke="#c7b1de" stroke-width="0.4"/>
<circle cx="238.0" cy="482.4" r="1.35" fill="#f9f7fb" stroke="#ddd0ec" stroke-width="0.4"/>
<circle cx="152.9" cy="495.6" r="1.35" fill="#fff" stroke="#bfbfbf" stroke-width="0.42"/>
<circle cx="193.3" cy="507.2" r="1.35" fill="#fff" stroke="#bfbfbf" stroke-width="0.42"/>
<circle cx="168.4" cy="493.5" r="1.35" fill="#fff" stroke="#bfbfbf" stroke-width="0.42"/>
<circle cx="133.7" cy="488.2" r="1.35" fill="#f8fcf8" stroke="#cbe7c6" stroke-width="0.4"/>
<circle cx="149.2" cy="498.2" r="1.35" fill="#fdfefc" stroke="#d1eacd" stroke-width="0.4"/>
<circle cx="129.0" cy="488.3" r="1.35" fill="#fefffe" stroke="#d4ecd0" stroke-width="0.4"/>
<circle cx="151.5" cy="490.7" r="1.35" fill="#eff7ee" stroke="#bde1b8" stroke-width="0.4"/>
<circle cx="217.6" cy="497.9" r="1.35" fill="#ffffff" stroke="#e8def2" stroke-width="0.4"/>
<circle cx="143.3" cy="478.9" r="1.35" fill="#dff0dc" stroke="#a4d69f" stroke-width="0.4"/>
<circle cx="218.2" cy="493.1" r="1.35" fill="#faf8fc" stroke="#e0d2ed" stroke-width="0.4"/>
<circle cx="245.7" cy="480.1" r="1.35" fill="#fdfcfe" stroke="#e4d9f0" stroke-width="0.4"/>
<circle cx="183.6" cy="507.3" r="1.35" fill="#fff" stroke="#bfbfbf" stroke-width="0.42"/>
<circle cx="178.7" cy="498.0" r="1.35" fill="#fff" stroke="#bfbfbf" stroke-width="0.42"/>
<circle cx="198.3" cy="492.7" r="1.35" fill="#fff" stroke="#bfbfbf" stroke-width="0.42"/>
<circle cx="145.1" cy="483.2" r="1.35" fill="#e6f3e4" stroke="#afdbaa" stroke-width="0.4"/>
<circle cx="163.2" cy="497.7" r="1.35" fill="#fff" stroke="#bfbfbf" stroke-width="0.42"/>
<circle cx="177.0" cy="495.8" r="1.35" fill="#fff" stroke="#bfbfbf" stroke-width="0.42"/>
<circle cx="137.2" cy="489.0" r="1.35" fill="#f6fbf6" stroke="#c8e6c3" stroke-width="0.4"/>
<circle cx="219.3" cy="495.2" r="1.35" fill="#fdfcfe" stroke="#e4d9f0" stroke-width="0.4"/>
<circle cx="145.6" cy="492.6" r="1.35" fill="#f6fbf5" stroke="#c7e6c3" stroke-width="0.4"/>
<circle cx="146.0" cy="478.8" r="1.35" fill="#deefdb" stroke="#a2d59d" stroke-width="0.4"/>
<circle cx="194.2" cy="496.7" r="1.35" fill="#fff" stroke="#bfbfbf" stroke-width="0.42"/>
<circle cx="125.5" cy="486.3" r="1.35" fill="#ffffff" stroke="#d5ecd1" stroke-width="0.4"/>
<circle cx="165.1" cy="473.3" r="1.35" fill="#fff" stroke="#bfbfbf" stroke-width="0.42"/>
<circle cx="203.0" cy="475.0" r="1.35" fill="#fff" stroke="#bfbfbf" stroke-width="0.42"/>
<circle cx="120.5" cy="482.8" r="1.35" fill="#fefffe" stroke="#d4ebd0" stroke-width="0.4"/>
<circle cx="138.0" cy="491.1" r="1.35" fill="#fafcf9" stroke="#cde8c9" stroke-width="0.4"/>
<circle cx="213.2" cy="480.9" r="1.35" fill="#ece4f4" stroke="#c7b0de" stroke-width="0.4"/>
<circle cx="160.4" cy="495.0" r="1.35" fill="#fff" stroke="#bfbfbf" stroke-width="0.42"/>
<circle cx="155.2" cy="488.8" r="1.35" fill="#fff" stroke="#bfbfbf" stroke-width="0.42"/>
<circle cx="165.5" cy="501.2" r="1.35" fill="#fff" stroke="#bfbfbf" stroke-width="0.42"/>
<circle cx="149.1" cy="495.9" r="1.35" fill="#f9fcf8" stroke="#cce8c8" stroke-width="0.4"/>
<circle cx="150.9" cy="500.3" r="1.35" fill="#ffffff" stroke="#d5ecd1" stroke-width="0.4"/>
<circle cx="158.5" cy="488.4" r="1.35" fill="#fff" stroke="#bfbfbf" stroke-width="0.42"/>
<circle cx="152.1" cy="500.3" r="1.35" fill="#fefffe" stroke="#d3ebcf" stroke-width="0.4"/>
<circle cx="240.7" cy="479.2" r="1.35" fill="#f6f2fa" stroke="#d8c8e8" stroke-width="0.4"/>
<circle cx="189.4" cy="505.6" r="1.35" fill="#fff" stroke="#bfbfbf" stroke-width="0.42"/>
<circle cx="206.4" cy="484.3" r="1.35" fill="#fff" stroke="#bfbfbf" stroke-width="0.42"/>
<circle cx="217.1" cy="488.5" r="1.35" fill="#f5f1f9" stroke="#d6c6e7" stroke-width="0.4"/>
<circle cx="174.3" cy="504.4" r="1.35" fill="#fff" stroke="#bfbfbf" stroke-width="0.42"/>
<circle cx="188.2" cy="503.3" r="1.35" fill="#fff" stroke="#bfbfbf" stroke-width="0.42"/>
<circle cx="192.0" cy="499.7" r="1.35" fill="#fff" stroke="#bfbfbf" stroke-width="0.42"/>
<circle cx="145.3" cy="497.6" r="1.35" fill="#ffffff" stroke="#d5ecd1" stroke-width="0.4"/>
<circle cx="157.1" cy="502.9" r="1.35" fill="#fff" stroke="#bfbfbf" stroke-width="0.42"/>
<circle cx="233.1" cy="478.3" r="1.35" fill="#f0e9f6" stroke="#cdb9e2" stroke-width="0.4"/>
<circle cx="154.7" cy="500.3" r="1.35" fill="#fff" stroke="#bfbfbf" stroke-width="0.42"/>
<circle cx="215.8" cy="480.5" r="1.35" fill="#ece5f4" stroke="#c7b1de" stroke-width="0.4"/>
<circle cx="225.1" cy="486.8" r="1.35" fill="#f7f3fa" stroke="#d9cae9" stroke-width="0.4"/>
<circle cx="171.9" cy="499.5" r="1.35" fill="#fff" stroke="#bfbfbf" stroke-width="0.42"/>
<circle cx="122.3" cy="482.7" r="1.35" fill="#fbfdfa" stroke="#cee9ca" stroke-width="0.4"/>
<circle cx="189.9" cy="505.5" r="1.35" fill="#fff" stroke="#bfbfbf" stroke-width="0.42"/>
<circle cx="243.1" cy="476.9" r="1.35" fill="#f4f0f9" stroke="#d5c4e7" stroke-width="0.4"/>
<circle cx="133.6" cy="486.5" r="1.35" fill="#f5faf4" stroke="#c5e5c1" stroke-width="0.4"/>
<circle cx="209.0" cy="501.3" r="1.35" fill="#fff" stroke="#bfbfbf" stroke-width="0.42"/>
<circle cx="197.2" cy="477.7" r="1.35" fill="#fff" stroke="#bfbfbf" stroke-width="0.42"/>
<circle cx="177.7" cy="498.3" r="1.35" fill="#fff" stroke="#bfbfbf" stroke-width="0.42"/>
<circle cx="201.7" cy="491.3" r="1.35" fill="#fff" stroke="#bfbfbf" stroke-width="0.42"/>
<circle cx="137.5" cy="486.2" r="1.35" fill="#f0f8ef" stroke="#bfe2ba" stroke-width="0.4"/>
<circle cx="144.2" cy="489.5" r="1.35" fill="#f1f9f0" stroke="#c0e3bc" stroke-width="0.4"/>
<circle cx="194.3" cy="503.3" r="1.35" fill="#fff" stroke="#bfbfbf" stroke-width="0.42"/>
<circle cx="199.5" cy="490.9" r="1.35" fill="#fff" stroke="#bfbfbf" stroke-width="0.42"/>
<circle cx="113.6" cy="477.3" r="1.35" fill="#fbfdfb" stroke="#d0eacc" stroke-width="0.4"/>
<circle cx="211.6" cy="498.6" r="1.35" fill="#fdfcfe" stroke="#e4d9f0" stroke-width="0.4"/>
<circle cx="162.1" cy="470.9" r="1.35" fill="#fff" stroke="#bfbfbf" stroke-width="0.42"/>
<circle cx="196.6" cy="505.9" r="1.35" fill="#fff" stroke="#bfbfbf" stroke-width="0.42"/>
<circle cx="208.6" cy="498.9" r="1.35" fill="#fff" stroke="#bfbfbf" stroke-width="0.42"/>
<circle cx="227.2" cy="492.7" r="1.35" fill="#ffffff" stroke="#e8def2" stroke-width="0.4"/>
<circle cx="132.5" cy="489.3" r="1.35" fill="#fcfefc" stroke="#d0eacc" stroke-width="0.4"/>
<circle cx="115.5" cy="479.0" r="1.35" fill="#fdfefd" stroke="#d2ebce" stroke-width="0.4"/>
<circle cx="183.6" cy="495.6" r="1.35" fill="#fff" stroke="#bfbfbf" stroke-width="0.42"/>
<circle cx="160.2" cy="501.1" r="1.35" fill="#fff" stroke="#bfbfbf" stroke-width="0.42"/>
<circle cx="237.9" cy="485.3" r="1.35" fill="#fdfdfe" stroke="#e5daf0" stroke-width="0.4"/>
<circle cx="208.3" cy="486.2" r="1.35" fill="#fff" stroke="#bfbfbf" stroke-width="0.42"/>
<circle cx="254.4" cy="474.8" r="1.35" fill="#ffffff" stroke="#e8def2" stroke-width="0.4"/>
<circle cx="197.3" cy="500.9" r="1.35" fill="#fff" stroke="#bfbfbf" stroke-width="0.42"/>
<circle cx="237.2" cy="484.9" r="1.35" fill="#fcfbfd" stroke="#e3d7ef" stroke-width="0.4"/>
<circle cx="220.6" cy="495.0" r="1.35" fill="#fdfdfe" stroke="#e5daf0" stroke-width="0.4"/>
<circle cx="186.8" cy="490.7" r="1.35" fill="#fff" stroke="#bfbfbf" stroke-width="0.42"/>
<circle cx="147.7" cy="495.6" r="1.35" fill="#f9fcf9" stroke="#cde8c8" stroke-width="0.4"/>
<circle cx="121.0" cy="482.5" r="1.35" fill="#fcfefc" stroke="#d1eacd" stroke-width="0.4"/>
<circle cx="147.3" cy="495.2" r="1.35" fill="#f9fcf9" stroke="#cce8c8" stroke-width="0.4"/>
<circle cx="207.2" cy="496.0" r="1.35" fill="#fff" stroke="#bfbfbf" stroke-width="0.42"/>
<circle cx="220.9" cy="487.3" r="1.35" fill="#f5f1f9" stroke="#d7c6e7" stroke-width="0.4"/>
<circle cx="119.9" cy="477.3" r="1.35" fill="#eff7ed" stroke="#bce1b8" stroke-width="0.4"/>
<circle cx="169.8" cy="498.8" r="1.35" fill="#fff" stroke="#bfbfbf" stroke-width="0.42"/>
<circle cx="118.4" cy="481.5" r="1.35" fill="#ffffff" stroke="#d5ecd1" stroke-width="0.4"/>
<circle cx="161.5" cy="503.6" r="1.35" fill="#fff" stroke="#bfbfbf" stroke-width="0.42"/>
<circle cx="201.8" cy="473.0" r="1.35" fill="#fff" stroke="#bfbfbf" stroke-width="0.42"/>
<circle cx="138.6" cy="485.5" r="1.35" fill="#eef7ed" stroke="#bce0b7" stroke-width="0.4"/>
<circle cx="187.6" cy="496.4" r="1.35" fill="#fff" stroke="#bfbfbf" stroke-width="0.42"/>
<circle cx="197.6" cy="503.9" r="1.35" fill="#fff" stroke="#bfbfbf" stroke-width="0.42"/>
<circle cx="140.0" cy="477.1" r="1.35" fill="#ddefda" stroke="#a2d59c" stroke-width="0.4"/>
<circle cx="116.0" cy="479.2" r="1.35" fill="#fcfefc" stroke="#d1eacd" stroke-width="0.4"/>
<circle cx="182.7" cy="499.4" r="1.35" fill="#fff" stroke="#bfbfbf" stroke-width="0.42"/>
<circle cx="206.0" cy="479.5" r="1.35" fill="#fff" stroke="#bfbfbf" stroke-width="0.42"/>
<circle cx="227.6" cy="476.1" r="1.35" fill="#ebe2f3" stroke="#c4addc" stroke-width="0.4"/>
<circle cx="133.6" cy="490.4" r="1.35" fill="#fdfefd" stroke="#d2ebce" stroke-width="0.4"/>
<circle cx="116.7" cy="480.3" r="1.35" fill="#ffffff" stroke="#d5ecd1" stroke-width="0.4"/>
<circle cx="245.4" cy="478.2" r="1.35" fill="#f9f6fb" stroke="#ddcfec" stroke-width="0.4"/>
<circle cx="124.2" cy="485.4" r="1.35" fill="#ffffff" stroke="#d5ecd1" stroke-width="0.4"/>
<circle cx="240.7" cy="475.9" r="1.35" fill="#f1ebf7" stroke="#cfbbe3" stroke-width="0.4"/>
<circle cx="251.5" cy="476.9" r="1.35" fill="#ffffff" stroke="#e8def2" stroke-width="0.4"/>
<circle cx="128.2" cy="485.6" r="1.35" fill="#f9fcf9" stroke="#cce8c8" stroke-width="0.4"/>
<circle cx="140.2" cy="494.5" r="1.35" fill="#fefffe" stroke="#d4ebcf" stroke-width="0.4"/>
<circle cx="141.7" cy="481.3" r="1.35" fill="#e4f2e2" stroke="#acdaa7" stroke-width="0.4"/>
<circle cx="136.7" cy="492.1" r="1.35" fill="#fdfefd" stroke="#d2ebce" stroke-width="0.4"/>
<circle cx="193.1" cy="503.1" r="1.35" fill="#fff" stroke="#bfbfbf" stroke-width="0.42"/>
<circle cx="133.9" cy="481.4" r="1.35" fill="#eaf5e8" stroke="#b5ddb0" stroke-width="0.4"/>
<circle cx="188.8" cy="504.6" r="1.35" fill="#fff" stroke="#bfbfbf" stroke-width="0.42"/>
<circle cx="183.7" cy="508.9" r="1.35" fill="#fff" stroke="#bfbfbf" stroke-width="0.42"/>
<circle cx="205.3" cy="501.5" r="1.35" fill="#fff" stroke="#bfbfbf" stroke-width="0.42"/>
<circle cx="162.4" cy="504.9" r="1.35" fill="#fff" stroke="#bfbfbf" stroke-width="0.42"/>
<circle cx="171.1" cy="499.3" r="1.35" fill="#fff" stroke="#bfbfbf" stroke-width="0.42"/>
<circle cx="169.7" cy="492.7" r="1.35" fill="#fff" stroke="#bfbfbf" stroke-width="0.42"/>
<circle cx="168.0" cy="491.2" r="1.35" fill="#fff" stroke="#bfbfbf" stroke-width="0.42"/>
<circle cx="250.2" cy="477.8" r="1.35" fill="#ffffff" stroke="#e8def2" stroke-width="0.4"/>
<circle cx="154.5" cy="498.0" r="1.35" fill="#fff" stroke="#bfbfbf" stroke-width="0.42"/>
<circle cx="139.4" cy="489.1" r="1.35" fill="#f4faf4" stroke="#c5e5c0" stroke-width="0.4"/>
<circle cx="166.4" cy="493.9" r="1.35" fill="#fff" stroke="#bfbfbf" stroke-width="0.42"/>
<circle cx="199.4" cy="477.6" r="1.35" fill="#fff" stroke="#bfbfbf" stroke-width="0.42"/>
<circle cx="132.9" cy="485.8" r="1.35" fill="#f4faf3" stroke="#c4e4c0" stroke-width="0.4"/>
<circle cx="197.4" cy="505.4" r="1.35" fill="#fff" stroke="#bfbfbf" stroke-width="0.42"/>
<circle cx="230.7" cy="490.7" r="1.35" fill="#ffffff" stroke="#e8def2" stroke-width="0.4"/>
<circle cx="207.4" cy="498.9" r="1.35" fill="#fff" stroke="#bfbfbf" stroke-width="0.42"/>
<circle cx="160.4" cy="489.2" r="1.35" fill="#fff" stroke="#bfbfbf" stroke-width="0.42"/>
<circle cx="140.3" cy="487.9" r="1.35" fill="#f1f9f0" stroke="#c0e3bc" stroke-width="0.4"/>
<circle cx="151.2" cy="494.8" r="1.35" fill="#f6fbf5" stroke="#c7e6c3" stroke-width="0.4"/>
<circle cx="217.3" cy="496.5" r="1.35" fill="#fdfdfe" stroke="#e5daf0" stroke-width="0.4"/>
<circle cx="241.2" cy="483.2" r="1.35" fill="#fdfdfe" stroke="#e5daf0" stroke-width="0.4"/>
<circle cx="196.3" cy="502.4" r="1.35" fill="#fff" stroke="#bfbfbf" stroke-width="0.42"/>
<circle cx="111.1" cy="476.3" r="1.35" fill="#ffffff" stroke="#d5ecd1" stroke-width="0.4"/>
<circle cx="153.1" cy="462.6" r="1.35" fill="#fff" stroke="#bfbfbf" stroke-width="0.42"/>
<circle cx="208.7" cy="501.8" r="1.35" fill="#fff" stroke="#bfbfbf" stroke-width="0.42"/>
<circle cx="220.7" cy="494.2" r="1.35" fill="#fdfcfe" stroke="#e4d8ef" stroke-width="0.4"/>
<circle cx="184.8" cy="500.1" r="1.35" fill="#fff" stroke="#bfbfbf" stroke-width="0.42"/>
<circle cx="175.5" cy="506.0" r="1.35" fill="#fff" stroke="#bfbfbf" stroke-width="0.42"/>
<circle cx="171.9" cy="504.9" r="1.35" fill="#fff" stroke="#bfbfbf" stroke-width="0.42"/>
<circle cx="224.7" cy="486.8" r="1.35" fill="#f6f3fa" stroke="#d9c9e9" stroke-width="0.4"/>
<circle cx="216.1" cy="497.7" r="1.35" fill="#fefefe" stroke="#e6dbf1" stroke-width="0.4"/>
<circle cx="142.0" cy="482.4" r="1.35" fill="#e6f3e4" stroke="#afdbaa" stroke-width="0.4"/>
<circle cx="135.8" cy="492.5" r="1.35" fill="#ffffff" stroke="#d5ecd1" stroke-width="0.4"/>
<circle cx="174.4" cy="507.3" r="1.35" fill="#fff" stroke="#bfbfbf" stroke-width="0.42"/>
<circle cx="223.0" cy="483.7" r="1.35" fill="#f2edf7" stroke="#d1bee4" stroke-width="0.4"/>
<circle cx="119.8" cy="482.3" r="1.35" fill="#fefffe" stroke="#d4ebd0" stroke-width="0.4"/>
<circle cx="116.4" cy="476.0" r="1.35" fill="#f1f8f0" stroke="#bfe2bb" stroke-width="0.4"/>
<circle cx="194.9" cy="484.9" r="1.35" fill="#fff" stroke="#bfbfbf" stroke-width="0.42"/>
<circle cx="168.0" cy="506.2" r="1.35" fill="#fff" stroke="#bfbfbf" stroke-width="0.42"/>
<circle cx="209.3" cy="501.7" r="1.35" fill="#fff" stroke="#bfbfbf" stroke-width="0.42"/>
<circle cx="146.1" cy="498.0" r="1.35" fill="#ffffff" stroke="#d5ecd1" stroke-width="0.4"/>
<circle cx="135.7" cy="492.4" r="1.35" fill="#ffffff" stroke="#d4ecd0" stroke-width="0.4"/>
<circle cx="192.4" cy="506.9" r="1.35" fill="#fff" stroke="#bfbfbf" stroke-width="0.42"/>
<circle cx="203.5" cy="476.8" r="1.35" fill="#fff" stroke="#bfbfbf" stroke-width="0.42"/>
<circle cx="163.7" cy="504.7" r="1.35" fill="#fff" stroke="#bfbfbf" stroke-width="0.42"/>
<circle cx="213.9" cy="479.0" r="1.35" fill="#eae2f3" stroke="#c4acdc" stroke-width="0.4"/>
<circle cx="200.2" cy="478.3" r="1.35" fill="#fff" stroke="#bfbfbf" stroke-width="0.42"/>
<circle cx="154.9" cy="477.4" r="1.35" fill="#fff" stroke="#bfbfbf" stroke-width="0.42"/>
<circle cx="208.0" cy="492.7" r="1.35" fill="#fff" stroke="#bfbfbf" stroke-width="0.42"/>
<circle cx="151.3" cy="485.8" r="1.35" fill="#e7f4e5" stroke="#b1dcac" stroke-width="0.4"/>
<circle cx="189.1" cy="502.0" r="1.35" fill="#fff" stroke="#bfbfbf" stroke-width="0.42"/>
<circle cx="119.9" cy="482.2" r="1.35" fill="#fefefe" stroke="#d3ebcf" stroke-width="0.4"/>
<circle cx="204.0" cy="484.5" r="1.35" fill="#fff" stroke="#bfbfbf" stroke-width="0.42"/>
<circle cx="155.4" cy="493.2" r="1.35" fill="#fff" stroke="#bfbfbf" stroke-width="0.42"/>
<circle cx="188.5" cy="494.3" r="1.35" fill="#fff" stroke="#bfbfbf" stroke-width="0.42"/>
<circle cx="171.4" cy="485.6" r="1.35" fill="#fff" stroke="#bfbfbf" stroke-width="0.42"/>
<circle cx="185.1" cy="505.9" r="1.35" fill="#fff" stroke="#bfbfbf" stroke-width="0.42"/>
<circle cx="184.5" cy="506.6" r="1.35" fill="#fff" stroke="#bfbfbf" stroke-width="0.42"/>
<circle cx="172.2" cy="507.5" r="1.35" fill="#fff" stroke="#bfbfbf" stroke-width="0.42"/>
<circle cx="214.9" cy="498.2" r="1.35" fill="#fefefe" stroke="#e6dcf1" stroke-width="0.4"/>
<circle cx="133.8" cy="485.7" r="1.35" fill="#f3f9f2" stroke="#c2e4be" stroke-width="0.4"/>
<circle cx="203.3" cy="480.7" r="1.35" fill="#fff" stroke="#bfbfbf" stroke-width="0.42"/>
<circle cx="179.1" cy="507.3" r="1.35" fill="#fff" stroke="#bfbfbf" stroke-width="0.42"/>
<circle cx="167.3" cy="481.9" r="1.35" fill="#fff" stroke="#bfbfbf" stroke-width="0.42"/>
<circle cx="143.6" cy="496.8" r="1.35" fill="#ffffff" stroke="#d5ecd1" stroke-width="0.4"/>
<circle cx="246.8" cy="475.7" r="1.35" fill="#f6f2f9" stroke="#d7c7e8" stroke-width="0.4"/>
<circle cx="131.2" cy="489.3" r="1.35" fill="#fefefd" stroke="#d3ebcf" stroke-width="0.4"/>
<circle cx="143.7" cy="489.4" r="1.35" fill="#f2f9f0" stroke="#c1e3bc" stroke-width="0.4"/>
<circle cx="203.7" cy="503.8" r="1.35" fill="#fff" stroke="#bfbfbf" stroke-width="0.42"/>
<circle cx="127.6" cy="487.7" r="1.35" fill="#ffffff" stroke="#d5ecd1" stroke-width="0.4"/>
<circle cx="210.9" cy="491.7" r="1.35" fill="#fff" stroke="#bfbfbf" stroke-width="0.42"/>
<circle cx="142.6" cy="496.2" r="1.35" fill="#ffffff" stroke="#d5ecd1" stroke-width="0.4"/>
<circle cx="203.5" cy="494.6" r="1.35" fill="#fff" stroke="#bfbfbf" stroke-width="0.42"/>
<circle cx="157.1" cy="468.2" r="1.35" fill="#fff" stroke="#bfbfbf" stroke-width="0.42"/>
<circle cx="142.9" cy="481.5" r="1.35" fill="#e4f2e2" stroke="#acd9a7" stroke-width="0.4"/>
<circle cx="160.0" cy="482.8" r="1.35" fill="#fff" stroke="#bfbfbf" stroke-width="0.42"/>
<circle cx="117.2" cy="475.6" r="1.35" fill="#eef7ed" stroke="#bbe0b6" stroke-width="0.4"/>
<circle cx="132.4" cy="481.5" r="1.35" fill="#ebf6ea" stroke="#b7deb2" stroke-width="0.4"/>
<circle cx="149.1" cy="487.4" r="1.35" fill="#ebf5e9" stroke="#b6deb1" stroke-width="0.4"/>
<circle cx="159.6" cy="502.6" r="1.35" fill="#fff" stroke="#bfbfbf" stroke-width="0.42"/>
<circle cx="225.0" cy="475.0" r="1.35" fill="#e9dff2" stroke="#c1a8da" stroke-width="0.4"/>
<circle cx="162.6" cy="498.0" r="1.35" fill="#fff" stroke="#bfbfbf" stroke-width="0.42"/>
<circle cx="217.7" cy="478.2" r="1.35" fill="#eae2f3" stroke="#c4acdc" stroke-width="0.4"/>
<circle cx="182.0" cy="508.8" r="1.35" fill="#fff" stroke="#bfbfbf" stroke-width="0.42"/>
<circle cx="125.6" cy="485.5" r="1.35" fill="#fdfefd" stroke="#d2ebce" stroke-width="0.4"/>
<circle cx="237.7" cy="480.0" r="1.35" fill="#f5f1f9" stroke="#d6c6e7" stroke-width="0.4"/>
<circle cx="209.8" cy="495.7" r="1.35" fill="#fff" stroke="#bfbfbf" stroke-width="0.42"/>
<circle cx="167.5" cy="505.4" r="1.35" fill="#fff" stroke="#bfbfbf" stroke-width="0.42"/>
<circle cx="130.6" cy="475.4" r="1.35" fill="#dff0dc" stroke="#a4d69f" stroke-width="0.4"/>
<circle cx="202.6" cy="489.2" r="1.35" fill="#fff" stroke="#bfbfbf" stroke-width="0.42"/>
<circle cx="229.0" cy="480.2" r="1.35" fill="#f0eaf6" stroke="#cebbe2" stroke-width="0.4"/>
<circle cx="173.3" cy="497.7" r="1.35" fill="#fff" stroke="#bfbfbf" stroke-width="0.42"/>
<circle cx="168.3" cy="501.3" r="1.35" fill="#fff" stroke="#bfbfbf" stroke-width="0.42"/>
<circle cx="167.1" cy="492.8" r="1.35" fill="#fff" stroke="#bfbfbf" stroke-width="0.42"/>
<circle cx="165.0" cy="501.1" r="1.35" fill="#fff" stroke="#bfbfbf" stroke-width="0.42"/>
<circle cx="170.1" cy="495.4" r="1.35" fill="#fff" stroke="#bfbfbf" stroke-width="0.42"/>
<circle cx="149.4" cy="495.5" r="1.35" fill="#f8fcf7" stroke="#cae7c6" stroke-width="0.4"/>
<circle cx="252.2" cy="474.9" r="1.35" fill="#fbf9fd" stroke="#e1d5ee" stroke-width="0.4"/>
<circle cx="168.9" cy="506.4" r="1.35" fill="#fff" stroke="#bfbfbf" stroke-width="0.42"/>
<circle cx="132.7" cy="478.5" r="1.35" fill="#e4f2e2" stroke="#addaa7" stroke-width="0.4"/>
<circle cx="247.7" cy="479.5" r="1.35" fill="#ffffff" stroke="#e7ddf2" stroke-width="0.4"/>
<circle cx="150.0" cy="477.4" r="1.35" fill="#daedd7" stroke="#9dd397" stroke-width="0.4"/>
<circle cx="165.0" cy="497.7" r="1.35" fill="#fff" stroke="#bfbfbf" stroke-width="0.42"/>
<circle cx="141.8" cy="492.7" r="1.35" fill="#f9fcf9" stroke="#cce8c8" stroke-width="0.4"/>
<circle cx="176.0" cy="506.7" r="1.35" fill="#fff" stroke="#bfbfbf" stroke-width="0.42"/>
<circle cx="222.7" cy="495.2" r="1.35" fill="#ffffff" stroke="#e8def2" stroke-width="0.4"/>
<circle cx="208.9" cy="475.6" r="1.35" fill="#fff" stroke="#bfbfbf" stroke-width="0.42"/>
<circle cx="160.9" cy="502.7" r="1.35" fill="#fff" stroke="#bfbfbf" stroke-width="0.42"/>
<circle cx="129.3" cy="488.5" r="1.35" fill="#fffffe" stroke="#d4ecd0" stroke-width="0.4"/>
<circle cx="232.4" cy="479.1" r="1.35" fill="#f1ebf7" stroke="#cfbbe3" stroke-width="0.4"/>
<circle cx="202.7" cy="499.9" r="1.35" fill="#fff" stroke="#bfbfbf" stroke-width="0.42"/>
<circle cx="116.2" cy="476.6" r="1.35" fill="#f3f9f2" stroke="#c3e4be" stroke-width="0.4"/>
<circle cx="165.1" cy="474.2" r="1.35" fill="#fff" stroke="#bfbfbf" stroke-width="0.42"/>
<circle cx="166.1" cy="478.5" r="1.35" fill="#fff" stroke="#bfbfbf" stroke-width="0.42"/>
<circle cx="244.1" cy="475.2" r="1.35" fill="#f2ecf7" stroke="#d1bee4" stroke-width="0.4"/>
<circle cx="124.7" cy="478.0" r="1.35" fill="#eaf5e9" stroke="#b6deb1" stroke-width="0.4"/>
<circle cx="125.8" cy="486.3" r="1.35" fill="#fefffe" stroke="#d4ecd0" stroke-width="0.4"/>
<circle cx="173.9" cy="507.4" r="1.35" fill="#fff" stroke="#bfbfbf" stroke-width="0.42"/>
<circle cx="227.2" cy="479.4" r="1.35" fill="#efe8f5" stroke="#cbb6e0" stroke-width="0.4"/>
<circle cx="183.5" cy="500.0" r="1.35" fill="#fff" stroke="#bfbfbf" stroke-width="0.42"/>
<circle cx="213.6" cy="498.7" r="1.35" fill="#fefdfe" stroke="#e6dbf1" stroke-width="0.4"/>
<circle cx="192.2" cy="502.6" r="1.35" fill="#fff" stroke="#bfbfbf" stroke-width="0.42"/>
<circle cx="190.0" cy="495.8" r="1.35" fill="#fff" stroke="#bfbfbf" stroke-width="0.42"/>
<circle cx="216.6" cy="485.9" r="1.35" fill="#f2edf7" stroke="#d1bfe4" stroke-width="0.4"/>
<circle cx="125.1" cy="485.4" r="1.35" fill="#fdfefd" stroke="#d3ebcf" stroke-width="0.4"/>
<circle cx="118.1" cy="480.8" r="1.35" fill="#fdfefd" stroke="#d2ebce" stroke-width="0.4"/>
<circle cx="178.2" cy="504.8" r="1.35" fill="#fff" stroke="#bfbfbf" stroke-width="0.42"/>
<circle cx="197.5" cy="503.2" r="1.35" fill="#fff" stroke="#bfbfbf" stroke-width="0.42"/>
<circle cx="230.3" cy="487.4" r="1.35" fill="#faf8fc" stroke="#e0d3ed" stroke-width="0.4"/>
<circle cx="121.5" cy="482.0" r="1.35" fill="#fafdf9" stroke="#cde9c9" stroke-width="0.4"/>
<circle cx="228.8" cy="480.9" r="1.35" fill="#f1ebf7" stroke="#d0bde3" stroke-width="0.4"/>
<circle cx="213.2" cy="492.9" r="1.35" fill="#f8f5fb" stroke="#dccdea" stroke-width="0.4"/>
<circle cx="190.8" cy="506.6" r="1.35" fill="#fff" stroke="#bfbfbf" stroke-width="0.42"/>
<circle cx="181.8" cy="508.1" r="1.35" fill="#fff" stroke="#bfbfbf" stroke-width="0.42"/>
<circle cx="214.5" cy="498.9" r="1.35" fill="#fefeff" stroke="#e7ddf1" stroke-width="0.4"/>
<circle cx="132.0" cy="489.1" r="1.35" fill="#fcfefc" stroke="#d1eacd" stroke-width="0.4"/>
<circle cx="192.6" cy="497.9" r="1.35" fill="#fff" stroke="#bfbfbf" stroke-width="0.42"/>
<circle cx="239.0" cy="481.8" r="1.35" fill="#f9f7fb" stroke="#ddd0ec" stroke-width="0.4"/>
<circle cx="129.4" cy="487.9" r="1.35" fill="#fdfefd" stroke="#d2ebce" stroke-width="0.4"/>
<circle cx="130.5" cy="485.7" r="1.35" fill="#f6fbf6" stroke="#c8e6c4" stroke-width="0.4"/>
<circle cx="147.9" cy="482.7" r="1.35" fill="#e4f2e1" stroke="#abd9a6" stroke-width="0.4"/>
<circle cx="221.3" cy="475.0" r="1.35" fill="#e8def1" stroke="#bfa6d9" stroke-width="0.4"/>
<circle cx="177.9" cy="504.8" r="1.35" fill="#fff" stroke="#bfbfbf" stroke-width="0.42"/>
<circle cx="182.7" cy="507.0" r="1.35" fill="#fff" stroke="#bfbfbf" stroke-width="0.42"/>
<circle cx="180.7" cy="502.5" r="1.35" fill="#fff" stroke="#bfbfbf" stroke-width="0.42"/>
<circle cx="155.3" cy="386.0" r="2.35" fill="#fff" stroke="#c4c4c4" stroke-width="0.55"/>
<circle cx="199.4" cy="386.0" r="2.35" fill="#fff" stroke="#c4c4c4" stroke-width="0.55"/>
<circle cx="209.7" cy="410.4" r="2.35" fill="#fff" stroke="#c4c4c4" stroke-width="0.55"/>
<circle cx="201.3" cy="420.3" r="2.35" fill="#fff" stroke="#c4c4c4" stroke-width="0.55"/>
<circle cx="158.5" cy="424.7" r="2.35" fill="#fff" stroke="#c4c4c4" stroke-width="0.55"/>
<circle cx="158.5" cy="433.1" r="2.35" fill="#fff" stroke="#c4c4c4" stroke-width="0.55"/>
<circle cx="164.3" cy="439.1" r="2.35" fill="#fff" stroke="#c4c4c4" stroke-width="0.55"/>
<circle cx="167.9" cy="437.8" r="2.35" fill="#fff" stroke="#c4c4c4" stroke-width="0.55"/>
<circle cx="201.3" cy="436.7" r="2.35" fill="#fff" stroke="#c4c4c4" stroke-width="0.55"/>
<circle cx="201.3" cy="442.3" r="2.35" fill="#fff" stroke="#c4c4c4" stroke-width="0.55"/>
<circle cx="166.0" cy="449.4" r="2.35" fill="#fff" stroke="#c4c4c4" stroke-width="0.55"/>
<circle cx="170.3" cy="450.9" r="2.35" fill="#fff" stroke="#c4c4c4" stroke-width="0.55"/>
<circle cx="210.7" cy="447.9" r="2.35" fill="#fff" stroke="#c4c4c4" stroke-width="0.55"/>
<circle cx="206.0" cy="450.4" r="2.35" fill="#fff" stroke="#c4c4c4" stroke-width="0.55"/>
<circle cx="200.3" cy="453.2" r="2.35" fill="#fff" stroke="#c4c4c4" stroke-width="0.55"/>
<circle cx="160.4" cy="456.0" r="2.35" fill="#fff" stroke="#c4c4c4" stroke-width="0.55"/>
<circle cx="176.5" cy="460.3" r="2.35" fill="#fff" stroke="#c4c4c4" stroke-width="0.55"/>
<circle cx="190.0" cy="457.9" r="2.35" fill="#fff" stroke="#c4c4c4" stroke-width="0.55"/>
<circle cx="169.4" cy="460.7" r="2.35" fill="#fff" stroke="#c4c4c4" stroke-width="0.55"/>
<circle cx="160.0" cy="460.7" r="2.35" fill="#fff" stroke="#c4c4c4" stroke-width="0.55"/>
<circle cx="208.8" cy="456.0" r="2.35" fill="#fff" stroke="#c4c4c4" stroke-width="0.55"/>
<circle cx="165.6" cy="465.4" r="2.35" fill="#fff" stroke="#c4c4c4" stroke-width="0.55"/>
<circle cx="172.2" cy="465.4" r="2.35" fill="#fff" stroke="#c4c4c4" stroke-width="0.55"/>
<circle cx="178.4" cy="468.6" r="2.35" fill="#fff" stroke="#c4c4c4" stroke-width="0.55"/>
<circle cx="156.3" cy="468.2" r="2.35" fill="#fff" stroke="#c4c4c4" stroke-width="0.55"/>
<circle cx="161.0" cy="471.9" r="2.35" fill="#fff" stroke="#c4c4c4" stroke-width="0.55"/>
<circle cx="167.5" cy="471.0" r="2.35" fill="#fff" stroke="#c4c4c4" stroke-width="0.55"/>
<circle cx="198.5" cy="464.8" r="2.35" fill="#fff" stroke="#c4c4c4" stroke-width="0.55"/>
<circle cx="193.8" cy="462.6" r="2.35" fill="#fff" stroke="#c4c4c4" stroke-width="0.55"/>
<circle cx="191.0" cy="468.2" r="2.35" fill="#fff" stroke="#c4c4c4" stroke-width="0.55"/>
<circle cx="201.3" cy="469.7" r="2.35" fill="#fff" stroke="#c4c4c4" stroke-width="0.55"/>
<circle cx="171.3" cy="477.6" r="2.35" fill="#fff" stroke="#c4c4c4" stroke-width="0.55"/>
<circle cx="155.3" cy="474.7" r="2.35" fill="#fff" stroke="#c4c4c4" stroke-width="0.55"/>
<circle cx="157.8" cy="326.9" r="2.35" fill="#fff" stroke="#c4c4c4" stroke-width="0.55"/>
<circle cx="206.0" cy="462.0" r="2.35" fill="#fff" stroke="#c4c4c4" stroke-width="0.55"/>
<circle cx="186.0" cy="472.0" r="2.35" fill="#fff" stroke="#c4c4c4" stroke-width="0.55"/>
<circle cx="205.0" cy="476.0" r="2.35" fill="#fff" stroke="#c4c4c4" stroke-width="0.55"/>
<circle cx="196.0" cy="475.0" r="2.35" fill="#fff" stroke="#c4c4c4" stroke-width="0.55"/>
<circle cx="158.0" cy="480.0" r="2.35" fill="#fff" stroke="#c4c4c4" stroke-width="0.55"/>
<circle cx="164.0" cy="483.0" r="2.35" fill="#fff" stroke="#c4c4c4" stroke-width="0.55"/>
<circle cx="200.0" cy="482.0" r="2.35" fill="#fff" stroke="#c4c4c4" stroke-width="0.55"/>
<circle cx="209.0" cy="480.0" r="2.35" fill="#fff" stroke="#c4c4c4" stroke-width="0.55"/>
<circle cx="117.8" cy="476.3" r="2.4" fill="#6fb86b" stroke="#7dbf79" stroke-width="0.3" fill-opacity="0.9"/>
<circle cx="123.5" cy="474.9" r="2.4" fill="#6fb86b" stroke="#7dbf79" stroke-width="0.3" fill-opacity="0.9"/>
<circle cx="124.4" cy="477.8" r="2.4" fill="#6fb86b" stroke="#7dbf79" stroke-width="0.3" fill-opacity="0.9"/>
<circle cx="128.7" cy="480.6" r="2.4" fill="#6fb86b" stroke="#7dbf79" stroke-width="0.3" fill-opacity="0.9"/>
<circle cx="132.0" cy="473.5" r="2.4" fill="#6fb86b" stroke="#7dbf79" stroke-width="0.3" fill-opacity="0.9"/>
<circle cx="136.3" cy="472.6" r="2.4" fill="#6fb86b" stroke="#7dbf79" stroke-width="0.3" fill-opacity="0.9"/>
<circle cx="136.3" cy="476.3" r="2.4" fill="#6fb86b" stroke="#7dbf79" stroke-width="0.3" fill-opacity="0.9"/>
<circle cx="142.4" cy="474.9" r="2.4" fill="#6fb86b" stroke="#7dbf79" stroke-width="0.3" fill-opacity="0.9"/>
<circle cx="145.3" cy="473.5" r="2.4" fill="#6fb86b" stroke="#7dbf79" stroke-width="0.3" fill-opacity="0.9"/>
<circle cx="146.7" cy="476.8" r="2.4" fill="#6fb86b" stroke="#7dbf79" stroke-width="0.3" fill-opacity="0.9"/>
<circle cx="148.1" cy="479.7" r="2.4" fill="#6fb86b" stroke="#7dbf79" stroke-width="0.3" fill-opacity="0.9"/>
<circle cx="151.0" cy="480.6" r="2.4" fill="#6fb86b" stroke="#7dbf79" stroke-width="0.3" fill-opacity="0.9"/>
<circle cx="144.3" cy="478.2" r="2.4" fill="#6fb86b" stroke="#7dbf79" stroke-width="0.3" fill-opacity="0.9"/>
<circle cx="151.9" cy="477.8" r="2.4" fill="#6fb86b" stroke="#7dbf79" stroke-width="0.3" fill-opacity="0.9"/>
<circle cx="149.5" cy="472.0" r="2.4" fill="#6fb86b" stroke="#7dbf79" stroke-width="0.3" fill-opacity="0.9"/>
<circle cx="140.0" cy="479.0" r="2.4" fill="#6fb86b" stroke="#7dbf79" stroke-width="0.3" fill-opacity="0.9"/>
<circle cx="147.0" cy="483.0" r="2.4" fill="#6fb86b" stroke="#7dbf79" stroke-width="0.3" fill-opacity="0.9"/>
<circle cx="150.5" cy="485.0" r="2.4" fill="#6fb86b" stroke="#7dbf79" stroke-width="0.3" fill-opacity="0.9"/>
<circle cx="215.0" cy="474.5" r="2.4" fill="#a888c6" stroke="#b194cc" stroke-width="0.3" fill-opacity="0.9"/>
<circle cx="226.4" cy="476.3" r="2.4" fill="#a888c6" stroke="#b194cc" stroke-width="0.3" fill-opacity="0.9"/>
<circle cx="229.0" cy="478.9" r="2.4" fill="#a888c6" stroke="#b194cc" stroke-width="0.3" fill-opacity="0.9"/>
<circle cx="232.5" cy="473.6" r="2.4" fill="#a888c6" stroke="#b194cc" stroke-width="0.3" fill-opacity="0.9"/>
<circle cx="236.0" cy="472.8" r="2.4" fill="#a888c6" stroke="#b194cc" stroke-width="0.3" fill-opacity="0.9"/>
<circle cx="238.7" cy="475.4" r="2.4" fill="#a888c6" stroke="#b194cc" stroke-width="0.3" fill-opacity="0.9"/>
<circle cx="219.8" cy="480.6" r="2.4" fill="#a888c6" stroke="#b194cc" stroke-width="0.3" fill-opacity="0.9"/>
<circle cx="223.8" cy="481.0" r="2.4" fill="#a888c6" stroke="#b194cc" stroke-width="0.3" fill-opacity="0.9"/>
<circle cx="227.3" cy="483.3" r="2.4" fill="#a888c6" stroke="#b194cc" stroke-width="0.3" fill-opacity="0.9"/>
<circle cx="213.3" cy="478.9" r="2.4" fill="#a888c6" stroke="#b194cc" stroke-width="0.3" fill-opacity="0.9"/>
<circle cx="243.6" cy="474.7" r="2.4" fill="#a888c6" stroke="#b194cc" stroke-width="0.3" fill-opacity="0.9"/>
<circle cx="248.0" cy="471.8" r="2.4" fill="#a888c6" stroke="#b194cc" stroke-width="0.3" fill-opacity="0.9"/>
<circle cx="253.9" cy="468.8" r="2.4" fill="#a888c6" stroke="#b194cc" stroke-width="0.3" fill-opacity="0.9"/>
<circle cx="255.3" cy="471.8" r="2.4" fill="#a888c6" stroke="#b194cc" stroke-width="0.3" fill-opacity="0.9"/>
<circle cx="246.6" cy="476.1" r="2.4" fill="#a888c6" stroke="#b194cc" stroke-width="0.3" fill-opacity="0.9"/>
<circle cx="240.7" cy="477.6" r="2.4" fill="#a888c6" stroke="#b194cc" stroke-width="0.3" fill-opacity="0.9"/>
<circle cx="234.9" cy="477.6" r="2.4" fill="#a888c6" stroke="#b194cc" stroke-width="0.3" fill-opacity="0.9"/>
<circle cx="221.8" cy="479.0" r="2.4" fill="#a888c6" stroke="#b194cc" stroke-width="0.3" fill-opacity="0.9"/>
<circle cx="217.4" cy="477.6" r="2.4" fill="#a888c6" stroke="#b194cc" stroke-width="0.3" fill-opacity="0.9"/>
<circle cx="221.8" cy="482.0" r="2.4" fill="#a888c6" stroke="#b194cc" stroke-width="0.3" fill-opacity="0.9"/>
<circle cx="233.4" cy="482.8" r="2.4" fill="#a888c6" stroke="#b194cc" stroke-width="0.3" fill-opacity="0.9"/>
<circle cx="239.3" cy="483.4" r="2.4" fill="#a888c6" stroke="#b194cc" stroke-width="0.3" fill-opacity="0.9"/>
<circle cx="215.9" cy="483.4" r="2.4" fill="#a888c6" stroke="#b194cc" stroke-width="0.3" fill-opacity="0.9"/>
<circle cx="242.2" cy="480.5" r="2.4" fill="#a888c6" stroke="#b194cc" stroke-width="0.3" fill-opacity="0.9"/>
<circle cx="249.5" cy="479.0" r="2.4" fill="#a888c6" stroke="#b194cc" stroke-width="0.3" fill-opacity="0.9"/>
<circle cx="258.0" cy="475.0" r="2.4" fill="#a888c6" stroke="#b194cc" stroke-width="0.3" fill-opacity="0.9"/>
<circle cx="261.0" cy="480.0" r="2.4" fill="#a888c6" stroke="#b194cc" stroke-width="0.3" fill-opacity="0.9"/>
<circle cx="252.0" cy="483.0" r="2.4" fill="#a888c6" stroke="#b194cc" stroke-width="0.3" fill-opacity="0.9"/>
<circle cx="34.5" cy="342.5" r="2.5" fill="#1b7a30" stroke="none" stroke-width="0.6"/>
<circle cx="114.0" cy="321.2" r="2.5" fill="#1b7a30" stroke="none" stroke-width="0.6"/>
<circle cx="133.0" cy="366.3" r="2.5" fill="#1b7a30" stroke="none" stroke-width="0.6"/>
<circle cx="89.3" cy="383.8" r="2.5" fill="#1b7a30" stroke="none" stroke-width="0.6"/>
<circle cx="96.8" cy="388.3" r="2.5" fill="#1b7a30" stroke="none" stroke-width="0.6"/>
<circle cx="127.6" cy="401.5" r="2.5" fill="#1b7a30" stroke="none" stroke-width="0.6"/>
<circle cx="138.9" cy="423.0" r="2.5" fill="#1b7a30" stroke="none" stroke-width="0.6"/>
<circle cx="147.7" cy="433.4" r="2.5" fill="#1b7a30" stroke="none" stroke-width="0.6"/>
<circle cx="131.9" cy="444.4" r="2.5" fill="#1b7a30" stroke="none" stroke-width="0.6"/>
<circle cx="142.1" cy="447.6" r="2.5" fill="#1b7a30" stroke="none" stroke-width="0.6"/>
<circle cx="116.9" cy="449.0" r="2.5" fill="#1b7a30" stroke="none" stroke-width="0.6"/>
<circle cx="105.4" cy="453.3" r="2.5" fill="#1b7a30" stroke="none" stroke-width="0.6"/>
<circle cx="124.9" cy="461.6" r="2.5" fill="#1b7a30" stroke="none" stroke-width="0.6"/>
<circle cx="143.7" cy="462.9" r="2.5" fill="#1b7a30" stroke="none" stroke-width="0.6"/>
<circle cx="110.7" cy="469.6" r="2.3" fill="#7fbf7b" stroke="none" stroke-width="0.6"/>
<circle cx="217.1" cy="311.7" r="2.5" fill="#6f2485" stroke="none" stroke-width="0.6"/>
<circle cx="299.1" cy="340.3" r="2.5" fill="#6f2485" stroke="none" stroke-width="0.6"/>
<circle cx="231.4" cy="357.8" r="2.5" fill="#6f2485" stroke="none" stroke-width="0.6"/>
<circle cx="258.0" cy="387.6" r="2.5" fill="#6f2485" stroke="none" stroke-width="0.6"/>
<circle cx="254.2" cy="412.5" r="2.5" fill="#6f2485" stroke="none" stroke-width="0.6"/>
<circle cx="229.9" cy="429.4" r="2.5" fill="#6f2485" stroke="none" stroke-width="0.6"/>
<circle cx="241.3" cy="428.0" r="2.5" fill="#6f2485" stroke="none" stroke-width="0.6"/>
<circle cx="243.1" cy="436.7" r="2.5" fill="#6f2485" stroke="none" stroke-width="0.6"/>
<circle cx="217.4" cy="427.1" r="2.5" fill="#6f2485" stroke="none" stroke-width="0.6"/>
<circle cx="267.6" cy="442.6" r="2.5" fill="#6f2485" stroke="none" stroke-width="0.6"/>
<circle cx="225.5" cy="443.4" r="2.5" fill="#6f2485" stroke="none" stroke-width="0.6"/>
<circle cx="256.2" cy="447.8" r="2.5" fill="#6f2485" stroke="none" stroke-width="0.6"/>
<circle cx="272.8" cy="455.7" r="2.5" fill="#6f2485" stroke="none" stroke-width="0.6"/>
<circle cx="215.3" cy="452.2" r="2.5" fill="#6f2485" stroke="none" stroke-width="0.6"/>
<circle cx="222.6" cy="449.9" r="2.5" fill="#6f2485" stroke="none" stroke-width="0.6"/>
<circle cx="232.8" cy="450.7" r="2.5" fill="#6f2485" stroke="none" stroke-width="0.6"/>
<circle cx="241.6" cy="454.2" r="2.5" fill="#6f2485" stroke="none" stroke-width="0.6"/>
<circle cx="232.0" cy="457.7" r="2.5" fill="#6f2485" stroke="none" stroke-width="0.6"/>
<circle cx="234.9" cy="457.7" r="2.5" fill="#6f2485" stroke="none" stroke-width="0.6"/>
<circle cx="216.5" cy="461.5" r="2.5" fill="#6f2485" stroke="none" stroke-width="0.6"/>
<circle cx="220.9" cy="460.9" r="2.5" fill="#6f2485" stroke="none" stroke-width="0.6"/>
<circle cx="227.0" cy="463.9" r="2.5" fill="#6f2485" stroke="none" stroke-width="0.6"/>
<circle cx="215.3" cy="466.5" r="2.5" fill="#6f2485" stroke="none" stroke-width="0.6"/>
<circle cx="249.5" cy="467.4" r="2.5" fill="#6f2485" stroke="none" stroke-width="0.6"/>
<circle cx="255.3" cy="468.8" r="2.5" fill="#6f2485" stroke="none" stroke-width="0.6"/>
<circle cx="225.0" cy="452.0" r="2.5" fill="#6f2485" stroke="none" stroke-width="0.6"/>
<circle cx="238.0" cy="462.0" r="2.5" fill="#6f2485" stroke="none" stroke-width="0.6"/>
<circle cx="245.0" cy="460.0" r="2.5" fill="#6f2485" stroke="none" stroke-width="0.6"/>
<line x1="19.6" y1="293.5" x2="19.6" y2="519.1" stroke="#a3a3a3" stroke-width="1.3"/>
<line x1="19.0" y1="518.5" x2="340.0" y2="518.5" stroke="#a3a3a3" stroke-width="1.3"/>
<line x1="18.2" y1="509.0" x2="19.6" y2="509.0" stroke="#333" stroke-width="0.6"/>
<text transform="translate(17.7,510.8) scale(1,1.18)" font-size="5.2" fill="#4d4d4d" text-anchor="end">0.0</text>
<line x1="18.2" y1="460.0" x2="19.6" y2="460.0" stroke="#333" stroke-width="0.6"/>
<text transform="translate(17.7,461.8) scale(1,1.18)" font-size="5.2" fill="#4d4d4d" text-anchor="end">2.5</text>
<line x1="18.2" y1="411.0" x2="19.6" y2="411.0" stroke="#333" stroke-width="0.6"/>
<text transform="translate(17.7,412.8) scale(1,1.18)" font-size="5.2" fill="#4d4d4d" text-anchor="end">5.0</text>
<line x1="18.2" y1="362.0" x2="19.6" y2="362.0" stroke="#333" stroke-width="0.6"/>
<text transform="translate(17.7,363.8) scale(1,1.18)" font-size="5.2" fill="#4d4d4d" text-anchor="end">7.5</text>
<line x1="18.2" y1="313.0" x2="19.6" y2="313.0" stroke="#333" stroke-width="0.6"/>
<text transform="translate(17.7,314.8) scale(1,1.18)" font-size="5.2" fill="#4d4d4d" text-anchor="end">10.0</text>
<line x1="34.2" y1="518.5" x2="34.2" y2="520.1" stroke="#3a3a3a" stroke-width="0.5"/>
<text transform="translate(34.2,524.6) scale(1,1.18)" font-size="5.2" fill="#4d4d4d" text-anchor="middle">−2.5</text>
<line x1="93.2" y1="518.5" x2="93.2" y2="520.1" stroke="#3a3a3a" stroke-width="0.5"/>
<text transform="translate(93.2,524.6) scale(1,1.18)" font-size="5.2" fill="#4d4d4d" text-anchor="middle">−1.5</text>
<line x1="152.2" y1="518.5" x2="152.2" y2="520.1" stroke="#3a3a3a" stroke-width="0.5"/>
<text transform="translate(152.2,524.6) scale(1,1.18)" font-size="5.2" fill="#4d4d4d" text-anchor="middle">−0.5</text>
<line x1="211.2" y1="518.5" x2="211.2" y2="520.1" stroke="#3a3a3a" stroke-width="0.5"/>
<text transform="translate(211.2,524.6) scale(1,1.18)" font-size="5.2" fill="#4d4d4d" text-anchor="middle">0.5</text>
<line x1="270.2" y1="518.5" x2="270.2" y2="520.1" stroke="#3a3a3a" stroke-width="0.5"/>
<text transform="translate(270.2,524.6) scale(1,1.18)" font-size="5.2" fill="#4d4d4d" text-anchor="middle">1.5</text>
<line x1="329.2" y1="518.5" x2="329.2" y2="520.1" stroke="#3a3a3a" stroke-width="0.5"/>
<text transform="translate(329.2,524.6) scale(1,1.18)" font-size="5.2" fill="#4d4d4d" text-anchor="middle">2.5</text>
<text transform="translate(182.3,531.6) scale(1,1.18)" font-size="6.6" fill="#1a1a1a" text-anchor="middle" stroke="#1a1a1a" stroke-width="0.12">Log Fold Change</text>
<text x="0.0" y="0.0" font-size="5.9" fill="#1a1a1a" text-anchor="middle" textLength="38.4" lengthAdjust="spacingAndGlyphs" transform="translate(5.4,405.5) rotate(-90)">Log(p−value)</text>
<text transform="translate(32.7,340.7) scale(1,1.18)" font-size="6.0" fill="#1a1a1a" stroke="#1a1a1a" stroke-width="0.12">LepB</text>
<text transform="translate(111.0,319.5) scale(1,1.18)" font-size="6.0" fill="#1a1a1a" stroke="#1a1a1a" stroke-width="0.12">CVNH</text>
<text transform="translate(70.9,381.9) scale(1,1.18)" font-size="6.0" fill="#1a1a1a" stroke="#1a1a1a" stroke-width="0.12">ATPwF1A</text>
<text transform="translate(92.3,395.2) scale(1,1.18)" font-size="6.0" fill="#1a1a1a" stroke="#1a1a1a" stroke-width="0.12">MACPF</text>
<text transform="translate(115.8,407.4) scale(1,1.18)" font-size="6.0" fill="#1a1a1a" stroke="#1a1a1a" stroke-width="0.12">PSD</text>
<text transform="translate(140.0,420.8) scale(1,1.18)" font-size="6.0" fill="#1a1a1a" stroke="#1a1a1a" stroke-width="0.12">DBI</text>
<text transform="translate(121.2,442.3) scale(1,1.18)" font-size="6.0" fill="#1a1a1a" stroke="#1a1a1a" stroke-width="0.12">TPPP</text>
<text transform="translate(140.0,453.8) scale(1,1.18)" font-size="6.0" fill="#1a1a1a" stroke="#1a1a1a" stroke-width="0.12">PSAP</text>
<text transform="translate(107.2,455.1) scale(1,1.18)" font-size="6.0" fill="#1a1a1a" stroke="#1a1a1a" stroke-width="0.12">LIP</text>
<text transform="translate(136.7,465.0) scale(1,1.18)" font-size="6.0" fill="#1a1a1a" stroke="#1a1a1a" stroke-width="0.12">PDHa</text>
<text transform="translate(108.6,472.3) scale(1,1.18)" font-size="6.0" fill="#1a1a1a" stroke="#1a1a1a" stroke-width="0.12">Ca−CAM</text>
<text transform="translate(107.2,483.0) scale(1,1.18)" font-size="6.0" fill="#1a1a1a" stroke="#1a1a1a" stroke-width="0.12">Ca−BP</text>
<text transform="translate(148.8,480.6) scale(1,1.18)" font-size="6.0" fill="#1a1a1a" stroke="#1a1a1a" stroke-width="0.12">EGD1</text>
<text transform="translate(144.8,488.7) scale(1,1.18)" font-size="6.0" fill="#1a1a1a" stroke="#1a1a1a" stroke-width="0.12">GLYA</text>
<text transform="translate(146.1,498.6) scale(1,1.18)" font-size="6.0" fill="#1a1a1a" stroke="#1a1a1a" stroke-width="0.12">ICL</text>
<text transform="translate(285.4,346.8) scale(1,1.18)" font-size="6.0" fill="#1a1a1a" stroke="#1a1a1a" stroke-width="0.12">EGF1</text>
<text transform="translate(228.5,354.6) scale(1,1.18)" font-size="6.0" fill="#1a1a1a" stroke="#1a1a1a" stroke-width="0.12">ITGAM</text>
<text transform="translate(216.8,363.4) scale(1,1.18)" font-size="6.0" fill="#1a1a1a" stroke="#1a1a1a" stroke-width="0.12">ITGAM</text>
<text transform="translate(256.8,386.2) scale(1,1.18)" font-size="6.0" fill="#1a1a1a" stroke="#1a1a1a" stroke-width="0.12">URE</text>
<text transform="translate(251.8,410.4) scale(1,1.18)" font-size="6.0" fill="#1a1a1a" stroke="#1a1a1a" stroke-width="0.12">OTUB</text>
<text transform="translate(229.6,427.1) scale(1,1.18)" font-size="6.0" fill="#1a1a1a" stroke="#1a1a1a" stroke-width="0.12">LEC</text>
<text transform="translate(240.7,435.3) scale(1,1.18)" font-size="6.0" fill="#1a1a1a" stroke="#1a1a1a" stroke-width="0.12">MRC1</text>
<text transform="translate(203.6,433.2) scale(1,1.18)" font-size="6.0" fill="#1a1a1a" stroke="#1a1a1a" stroke-width="0.12">CPVL</text>
<text transform="translate(265.0,440.2) scale(1,1.18)" font-size="6.0" fill="#1a1a1a" stroke="#1a1a1a" stroke-width="0.12">MNN2</text>
<text transform="translate(247.2,453.6) scale(1,1.18)" font-size="6.0" fill="#1a1a1a" stroke="#1a1a1a" stroke-width="0.12">CA</text>
<text transform="translate(260.3,461.5) scale(1,1.18)" font-size="6.0" fill="#1a1a1a" stroke="#1a1a1a" stroke-width="0.12">MFI2</text>
<text transform="translate(215.3,457.2) scale(1,1.18)" font-size="6.0" fill="#1a1a1a" stroke="#1a1a1a" stroke-width="0.12">FUCA</text>
<text transform="translate(234.0,468.2) scale(1,1.18)" font-size="6.0" fill="#1a1a1a" stroke="#1a1a1a" stroke-width="0.12">HOMER</text>
<text transform="translate(214.5,471.8) scale(1,1.18)" font-size="6.0" fill="#1a1a1a" stroke="#1a1a1a" stroke-width="0.12">MUC4</text>
<text transform="translate(188.2,471.8) scale(1,1.18)" font-size="6.0" fill="#1a1a1a" stroke="#1a1a1a" stroke-width="0.12">GANAB</text>
<text transform="translate(197.5,480.5) scale(1,1.18)" font-size="6.0" fill="#1a1a1a" stroke="#1a1a1a" stroke-width="0.12">FUCA1</text>
<text transform="translate(200.7,487.8) scale(1,1.18)" font-size="6.0" fill="#1a1a1a" stroke="#1a1a1a" stroke-width="0.12">RAB11A</text>
<text transform="translate(228.2,485.5) scale(1,1.18)" font-size="6.0" fill="#1a1a1a" stroke="#1a1a1a" stroke-width="0.12">TUBA</text>
<text transform="translate(248.0,482.8) scale(1,1.18)" font-size="6.0" fill="#1a1a1a" stroke="#1a1a1a" stroke-width="0.12">RbsB</text>
<text x="31.8" y="308.1" font-size="12.4" fill="#1f7a35" stroke="#1f7a35" stroke-width="0.25" font-weight="bold" textLength="49.5" lengthAdjust="spacingAndGlyphs">Resilient</text>
<text x="257.4" y="308.8" font-size="12.4" fill="#7a2a8a" stroke="#7a2a8a" stroke-width="0.25" font-weight="bold" textLength="66.6" lengthAdjust="spacingAndGlyphs">Susceptible</text>
<text transform="translate(3.6,286.2) scale(1,1.1)" font-size="19" fill="#000" stroke="#000" stroke-width="0.5" font-weight="bold" textLength="9.6" lengthAdjust="spacingAndGlyphs">c</text>
<text transform="translate(20.4,289.1) scale(1,1.18)" font-size="7.7" fill="#1a1a1a" stroke="#1a1a1a" stroke-width="0.12">Timepoint 1</text>
<line x1="492.1" y1="293.4" x2="492.1" y2="518.5" stroke="#bdbdbd" stroke-width="0.6" stroke-dasharray="2.6,1.6"/>
<line x1="551.1" y1="293.4" x2="551.1" y2="518.5" stroke="#bdbdbd" stroke-width="0.6" stroke-dasharray="2.6,1.6"/>
<line x1="360.3" y1="509.0" x2="685.0" y2="509.0" stroke="#bdbdbd" stroke-width="0.6" stroke-dasharray="2.6,1.6"/>
<circle cx="488.9" cy="499.6" r="2.1" fill="#ffffff" stroke="#d5ecd1" stroke-width="0.5"/>
<circle cx="495.6" cy="487.5" r="2.1" fill="#fff" stroke="#c4c4c4" stroke-width="0.45"/>
<circle cx="504.6" cy="504.8" r="2.1" fill="#fff" stroke="#c4c4c4" stroke-width="0.45"/>
<circle cx="533.0" cy="505.6" r="2.1" fill="#fff" stroke="#c4c4c4" stroke-width="0.45"/>
<circle cx="551.5" cy="490.7" r="2.1" fill="#edecef" stroke="#d3bde4" stroke-width="0.5"/>
<circle cx="534.0" cy="486.5" r="2.1" fill="#fff" stroke="#c4c4c4" stroke-width="0.45"/>
<circle cx="523.5" cy="506.7" r="2.1" fill="#fff" stroke="#c4c4c4" stroke-width="0.45"/>
<circle cx="473.6" cy="488.8" r="2.1" fill="#f1f2f0" stroke="#b4ddaf" stroke-width="0.5"/>
<circle cx="517.8" cy="508.6" r="2.1" fill="#fff" stroke="#c4c4c4" stroke-width="0.45"/>
<circle cx="529.7" cy="495.2" r="2.1" fill="#fff" stroke="#c4c4c4" stroke-width="0.45"/>
<circle cx="483.0" cy="477.9" r="2.1" fill="#cfd3ce" stroke="#66b85f" stroke-width="0.5"/>
<circle cx="549.2" cy="468.1" r="2.1" fill="#fff" stroke="#c4c4c4" stroke-width="0.45"/>
<circle cx="516.5" cy="505.9" r="2.1" fill="#fff" stroke="#c4c4c4" stroke-width="0.45"/>
<circle cx="482.5" cy="493.3" r="2.1" fill="#f5f6f5" stroke="#bfe2ba" stroke-width="0.5"/>
<circle cx="502.6" cy="504.5" r="2.1" fill="#fff" stroke="#c4c4c4" stroke-width="0.45"/>
<circle cx="475.2" cy="477.9" r="2.1" fill="#d2d6d1" stroke="#6dbb66" stroke-width="0.5"/>
<circle cx="529.2" cy="502.9" r="2.1" fill="#fff" stroke="#c4c4c4" stroke-width="0.45"/>
<circle cx="509.9" cy="506.1" r="2.1" fill="#fff" stroke="#c4c4c4" stroke-width="0.45"/>
<circle cx="507.0" cy="502.3" r="2.1" fill="#fff" stroke="#c4c4c4" stroke-width="0.45"/>
<circle cx="529.4" cy="507.6" r="2.1" fill="#fff" stroke="#c4c4c4" stroke-width="0.45"/>
<circle cx="503.7" cy="504.8" r="2.1" fill="#fff" stroke="#c4c4c4" stroke-width="0.45"/>
<circle cx="544.6" cy="485.3" r="2.1" fill="#fff" stroke="#c4c4c4" stroke-width="0.45"/>
<circle cx="527.3" cy="491.6" r="2.1" fill="#fff" stroke="#c4c4c4" stroke-width="0.45"/>
<circle cx="507.8" cy="503.5" r="2.1" fill="#fff" stroke="#c4c4c4" stroke-width="0.45"/>
<circle cx="546.4" cy="498.6" r="2.1" fill="#fff" stroke="#c4c4c4" stroke-width="0.45"/>
<circle cx="528.0" cy="506.9" r="2.1" fill="#fff" stroke="#c4c4c4" stroke-width="0.45"/>
<circle cx="484.9" cy="498.0" r="2.1" fill="#fefefe" stroke="#d4ecd0" stroke-width="0.5"/>
<circle cx="531.4" cy="483.2" r="2.1" fill="#fff" stroke="#c4c4c4" stroke-width="0.45"/>
<circle cx="476.3" cy="493.0" r="2.1" fill="#f9faf9" stroke="#c9e7c5" stroke-width="0.5"/>
<circle cx="458.1" cy="473.4" r="2.1" fill="#cfd3ce" stroke="#66b85f" stroke-width="0.5"/>
<circle cx="502.9" cy="450.9" r="2.1" fill="#fff" stroke="#c4c4c4" stroke-width="0.45"/>
<circle cx="561.5" cy="497.1" r="2.1" fill="#ffffff" stroke="#ece3f3" stroke-width="0.5"/>
<circle cx="591.3" cy="479.9" r="2.1" fill="#ebeaed" stroke="#d0b8e2" stroke-width="0.5"/>
<circle cx="574.8" cy="469.4" r="2.1" fill="#d6d3d9" stroke="#b28ad0" stroke-width="0.5"/>
<circle cx="529.5" cy="477.6" r="2.1" fill="#fff" stroke="#c4c4c4" stroke-width="0.45"/>
<circle cx="546.0" cy="487.4" r="2.1" fill="#fff" stroke="#c4c4c4" stroke-width="0.45"/>
<circle cx="521.4" cy="499.3" r="2.1" fill="#fff" stroke="#c4c4c4" stroke-width="0.45"/>
<circle cx="494.4" cy="495.1" r="2.1" fill="#fff" stroke="#c4c4c4" stroke-width="0.45"/>
<circle cx="525.7" cy="504.8" r="2.1" fill="#fff" stroke="#c4c4c4" stroke-width="0.45"/>
<circle cx="532.6" cy="506.1" r="2.1" fill="#fff" stroke="#c4c4c4" stroke-width="0.45"/>
<circle cx="587.8" cy="486.0" r="2.1" fill="#fbfafb" stroke="#e6daef" stroke-width="0.5"/>
<circle cx="492.2" cy="500.8" r="2.1" fill="#fff" stroke="#c4c4c4" stroke-width="0.45"/>
<circle cx="503.9" cy="490.6" r="2.1" fill="#fff" stroke="#c4c4c4" stroke-width="0.45"/>
<circle cx="518.3" cy="496.7" r="2.1" fill="#fff" stroke="#c4c4c4" stroke-width="0.45"/>
<circle cx="521.0" cy="499.9" r="2.1" fill="#fff" stroke="#c4c4c4" stroke-width="0.45"/>
<circle cx="552.5" cy="490.9" r="2.1" fill="#eeedef" stroke="#d4bee5" stroke-width="0.5"/>
<circle cx="510.0" cy="488.7" r="2.1" fill="#fff" stroke="#c4c4c4" stroke-width="0.45"/>
<circle cx="493.4" cy="460.5" r="2.1" fill="#fff" stroke="#c4c4c4" stroke-width="0.45"/>
<circle cx="507.6" cy="503.3" r="2.1" fill="#fff" stroke="#c4c4c4" stroke-width="0.45"/>
<circle cx="504.8" cy="498.2" r="2.1" fill="#fff" stroke="#c4c4c4" stroke-width="0.45"/>
<circle cx="526.7" cy="502.2" r="2.1" fill="#fff" stroke="#c4c4c4" stroke-width="0.45"/>
<circle cx="554.0" cy="495.1" r="2.1" fill="#f6f6f7" stroke="#e0d0ec" stroke-width="0.5"/>
<circle cx="547.9" cy="485.5" r="2.1" fill="#fff" stroke="#c4c4c4" stroke-width="0.45"/>
<circle cx="533.0" cy="469.7" r="2.1" fill="#fff" stroke="#c4c4c4" stroke-width="0.45"/>
<circle cx="502.4" cy="504.5" r="2.1" fill="#fff" stroke="#c4c4c4" stroke-width="0.45"/>
<circle cx="487.4" cy="497.1" r="2.1" fill="#fafafa" stroke="#cae7c6" stroke-width="0.5"/>
<circle cx="507.6" cy="493.3" r="2.1" fill="#fff" stroke="#c4c4c4" stroke-width="0.45"/>
<circle cx="489.9" cy="471.4" r="2.1" fill="#cfd3ce" stroke="#66b85f" stroke-width="0.5"/>
<circle cx="527.5" cy="508.2" r="2.1" fill="#fff" stroke="#c4c4c4" stroke-width="0.45"/>
<circle cx="484.4" cy="497.5" r="2.1" fill="#fdfefd" stroke="#d2ebce" stroke-width="0.5"/>
<circle cx="534.4" cy="505.7" r="2.1" fill="#fff" stroke="#c4c4c4" stroke-width="0.45"/>
<circle cx="564.4" cy="486.9" r="2.1" fill="#ecebee" stroke="#d2bbe3" stroke-width="0.5"/>
<circle cx="510.8" cy="489.5" r="2.1" fill="#fff" stroke="#c4c4c4" stroke-width="0.45"/>
<circle cx="527.3" cy="503.4" r="2.1" fill="#fff" stroke="#c4c4c4" stroke-width="0.45"/>
<circle cx="507.8" cy="493.8" r="2.1" fill="#fff" stroke="#c4c4c4" stroke-width="0.45"/>
<circle cx="487.5" cy="485.4" r="2.1" fill="#dfe2df" stroke="#8cca86" stroke-width="0.5"/>
<circle cx="502.9" cy="504.6" r="2.1" fill="#fff" stroke="#c4c4c4" stroke-width="0.45"/>
<circle cx="544.3" cy="467.1" r="2.1" fill="#fff" stroke="#c4c4c4" stroke-width="0.45"/>
<circle cx="495.4" cy="476.5" r="2.1" fill="#fff" stroke="#c4c4c4" stroke-width="0.45"/>
<circle cx="502.2" cy="500.0" r="2.1" fill="#fff" stroke="#c4c4c4" stroke-width="0.45"/>
<circle cx="506.6" cy="501.3" r="2.1" fill="#fff" stroke="#c4c4c4" stroke-width="0.45"/>
<circle cx="497.5" cy="497.5" r="2.1" fill="#fff" stroke="#c4c4c4" stroke-width="0.45"/>
<circle cx="592.5" cy="480.5" r="2.1" fill="#eeedef" stroke="#d4bee4" stroke-width="0.5"/>
<circle cx="474.0" cy="484.0" r="2.1" fill="#e3e5e3" stroke="#95ce8f" stroke-width="0.5"/>
<circle cx="547.9" cy="485.8" r="2.1" fill="#fff" stroke="#c4c4c4" stroke-width="0.45"/>
<circle cx="520.8" cy="508.9" r="2.1" fill="#fff" stroke="#c4c4c4" stroke-width="0.45"/>
<circle cx="545.4" cy="501.1" r="2.1" fill="#fff" stroke="#c4c4c4" stroke-width="0.45"/>
<circle cx="516.6" cy="503.4" r="2.1" fill="#fff" stroke="#c4c4c4" stroke-width="0.45"/>
<circle cx="579.2" cy="490.2" r="2.1" fill="#fefefe" stroke="#ebe1f2" stroke-width="0.5"/>
<circle cx="507.0" cy="492.4" r="2.1" fill="#fff" stroke="#c4c4c4" stroke-width="0.45"/>
<circle cx="525.1" cy="505.6" r="2.1" fill="#fff" stroke="#c4c4c4" stroke-width="0.45"/>
<circle cx="536.0" cy="471.7" r="2.1" fill="#fff" stroke="#c4c4c4" stroke-width="0.45"/>
<circle cx="503.8" cy="502.7" r="2.1" fill="#fff" stroke="#c4c4c4" stroke-width="0.45"/>
<circle cx="563.3" cy="496.4" r="2.1" fill="#ffffff" stroke="#ece3f3" stroke-width="0.5"/>
<circle cx="517.0" cy="494.5" r="2.1" fill="#fff" stroke="#c4c4c4" stroke-width="0.45"/>
<circle cx="517.1" cy="508.2" r="2.1" fill="#fff" stroke="#c4c4c4" stroke-width="0.45"/>
<circle cx="549.3" cy="459.6" r="2.1" fill="#fff" stroke="#c4c4c4" stroke-width="0.45"/>
<circle cx="562.4" cy="489.9" r="2.1" fill="#f1f0f2" stroke="#d9c5e7" stroke-width="0.5"/>
<circle cx="547.6" cy="476.1" r="2.1" fill="#fff" stroke="#c4c4c4" stroke-width="0.45"/>
<circle cx="518.4" cy="493.2" r="2.1" fill="#fff" stroke="#c4c4c4" stroke-width="0.45"/>
<circle cx="533.1" cy="491.1" r="2.1" fill="#fff" stroke="#c4c4c4" stroke-width="0.45"/>
<circle cx="592.3" cy="484.9" r="2.1" fill="#fcfcfc" stroke="#e8dcf0" stroke-width="0.5"/>
<circle cx="561.9" cy="496.4" r="2.1" fill="#fefefe" stroke="#eae0f2" stroke-width="0.5"/>
<circle cx="526.5" cy="496.8" r="2.1" fill="#fff" stroke="#c4c4c4" stroke-width="0.45"/>
<circle cx="476.1" cy="479.5" r="2.1" fill="#d6d9d5" stroke="#76c06f" stroke-width="0.5"/>
<circle cx="530.6" cy="488.2" r="2.1" fill="#fff" stroke="#c4c4c4" stroke-width="0.45"/>
<circle cx="539.1" cy="487.8" r="2.1" fill="#fff" stroke="#c4c4c4" stroke-width="0.45"/>
<circle cx="485.4" cy="494.0" r="2.1" fill="#f4f5f4" stroke="#bde1b8" stroke-width="0.5"/>
<circle cx="530.3" cy="483.6" r="2.1" fill="#fff" stroke="#c4c4c4" stroke-width="0.45"/>
<circle cx="531.3" cy="506.4" r="2.1" fill="#fff" stroke="#c4c4c4" stroke-width="0.45"/>
<circle cx="498.5" cy="481.7" r="2.1" fill="#fff" stroke="#c4c4c4" stroke-width="0.45"/>
<circle cx="533.1" cy="497.0" r="2.1" fill="#fff" stroke="#c4c4c4" stroke-width="0.45"/>
<circle cx="541.6" cy="498.1" r="2.1" fill="#fff" stroke="#c4c4c4" stroke-width="0.45"/>
<circle cx="497.1" cy="478.8" r="2.1" fill="#fff" stroke="#c4c4c4" stroke-width="0.45"/>
<circle cx="519.4" cy="507.7" r="2.1" fill="#fff" stroke="#c4c4c4" stroke-width="0.45"/>
<circle cx="605.0" cy="481.5" r="2.1" fill="#fdfdfe" stroke="#eae0f2" stroke-width="0.5"/>
<circle cx="511.8" cy="503.3" r="2.1" fill="#fff" stroke="#c4c4c4" stroke-width="0.45"/>
<circle cx="530.0" cy="507.7" r="2.1" fill="#fff" stroke="#c4c4c4" stroke-width="0.45"/>
<circle cx="466.5" cy="485.1" r="2.1" fill="#ecedeb" stroke="#a9d8a4" stroke-width="0.5"/>
<circle cx="513.5" cy="500.0" r="2.1" fill="#fff" stroke="#c4c4c4" stroke-width="0.45"/>
<circle cx="472.5" cy="492.1" r="2.1" fill="#fbfbfb" stroke="#cce8c8" stroke-width="0.5"/>
<circle cx="513.0" cy="505.3" r="2.1" fill="#fff" stroke="#c4c4c4" stroke-width="0.45"/>
<circle cx="527.3" cy="504.6" r="2.1" fill="#fff" stroke="#c4c4c4" stroke-width="0.45"/>
<circle cx="539.0" cy="497.5" r="2.1" fill="#fff" stroke="#c4c4c4" stroke-width="0.45"/>
<circle cx="486.2" cy="496.5" r="2.1" fill="#f9faf9" stroke="#c9e7c5" stroke-width="0.5"/>
<circle cx="504.0" cy="496.1" r="2.1" fill="#fff" stroke="#c4c4c4" stroke-width="0.45"/>
<circle cx="562.0" cy="495.9" r="2.1" fill="#fdfdfd" stroke="#e9dff1" stroke-width="0.5"/>
<circle cx="538.5" cy="453.0" r="2.1" fill="#fff" stroke="#c4c4c4" stroke-width="0.45"/>
<circle cx="486.8" cy="484.6" r="2.1" fill="#dee0dd" stroke="#88c882" stroke-width="0.5"/>
<circle cx="499.3" cy="482.8" r="2.1" fill="#fff" stroke="#c4c4c4" stroke-width="0.45"/>
<circle cx="499.8" cy="450.0" r="2.1" fill="#fff" stroke="#c4c4c4" stroke-width="0.45"/>
<circle cx="564.8" cy="487.6" r="2.1" fill="#eeedef" stroke="#d4bee5" stroke-width="0.5"/>
<circle cx="516.5" cy="508.3" r="2.1" fill="#fff" stroke="#c4c4c4" stroke-width="0.45"/>
<circle cx="537.4" cy="499.8" r="2.1" fill="#fff" stroke="#c4c4c4" stroke-width="0.45"/>
<circle cx="496.8" cy="502.6" r="2.1" fill="#fff" stroke="#c4c4c4" stroke-width="0.45"/>
<circle cx="550.3" cy="442.0" r="2.1" fill="#fff" stroke="#c4c4c4" stroke-width="0.45"/>
<circle cx="527.9" cy="494.3" r="2.1" fill="#fff" stroke="#c4c4c4" stroke-width="0.45"/>
<circle cx="510.4" cy="504.9" r="2.1" fill="#fff" stroke="#c4c4c4" stroke-width="0.45"/>
<circle cx="479.2" cy="495.2" r="2.1" fill="#fdfdfd" stroke="#d0eacc" stroke-width="0.5"/>
<circle cx="513.0" cy="497.6" r="2.1" fill="#fff" stroke="#c4c4c4" stroke-width="0.45"/>
<circle cx="515.2" cy="502.0" r="2.1" fill="#fff" stroke="#c4c4c4" stroke-width="0.45"/>
<circle cx="507.1" cy="506.0" r="2.1" fill="#fff" stroke="#c4c4c4" stroke-width="0.45"/>
<circle cx="517.6" cy="504.8" r="2.1" fill="#fff" stroke="#c4c4c4" stroke-width="0.45"/>
<circle cx="547.4" cy="498.1" r="2.1" fill="#fff" stroke="#c4c4c4" stroke-width="0.45"/>
<circle cx="555.1" cy="479.2" r="2.1" fill="#dad7dd" stroke="#b893d3" stroke-width="0.5"/>
<circle cx="521.7" cy="506.7" r="2.1" fill="#fff" stroke="#c4c4c4" stroke-width="0.45"/>
<circle cx="481.2" cy="495.6" r="2.1" fill="#fcfcfb" stroke="#cee9ca" stroke-width="0.5"/>
<circle cx="474.8" cy="491.8" r="2.1" fill="#f8f8f7" stroke="#c5e5c0" stroke-width="0.5"/>
<circle cx="588.5" cy="484.5" r="2.1" fill="#f7f6f8" stroke="#e1d2ec" stroke-width="0.5"/>
<circle cx="523.2" cy="508.0" r="2.1" fill="#fff" stroke="#c4c4c4" stroke-width="0.45"/>
<circle cx="527.7" cy="492.4" r="2.1" fill="#fff" stroke="#c4c4c4" stroke-width="0.45"/>
<circle cx="520.1" cy="505.1" r="2.1" fill="#fff" stroke="#c4c4c4" stroke-width="0.45"/>
<circle cx="535.5" cy="485.7" r="2.1" fill="#fff" stroke="#c4c4c4" stroke-width="0.45"/>
<circle cx="511.7" cy="474.0" r="2.1" fill="#fff" stroke="#c4c4c4" stroke-width="0.45"/>
<circle cx="514.4" cy="483.0" r="2.1" fill="#fff" stroke="#c4c4c4" stroke-width="0.45"/>
<circle cx="509.1" cy="464.9" r="2.1" fill="#fff" stroke="#c4c4c4" stroke-width="0.45"/>
<circle cx="564.1" cy="496.0" r="2.1" fill="#ffffff" stroke="#ece2f3" stroke-width="0.5"/>
<circle cx="557.1" cy="498.6" r="2.1" fill="#ffffff" stroke="#ece2f3" stroke-width="0.5"/>
<circle cx="534.9" cy="464.1" r="2.1" fill="#fff" stroke="#c4c4c4" stroke-width="0.45"/>
<circle cx="476.4" cy="475.4" r="2.1" fill="#cfd3ce" stroke="#66b85f" stroke-width="0.5"/>
<circle cx="498.1" cy="485.2" r="2.1" fill="#fff" stroke="#c4c4c4" stroke-width="0.45"/>
<circle cx="519.9" cy="494.3" r="2.1" fill="#fff" stroke="#c4c4c4" stroke-width="0.45"/>
<circle cx="485.1" cy="497.0" r="2.1" fill="#fcfcfc" stroke="#cee9ca" stroke-width="0.5"/>
<circle cx="520.3" cy="500.3" r="2.1" fill="#fff" stroke="#c4c4c4" stroke-width="0.45"/>
<circle cx="510.3" cy="506.2" r="2.1" fill="#fff" stroke="#c4c4c4" stroke-width="0.45"/>
<circle cx="523.7" cy="502.6" r="2.1" fill="#fff" stroke="#c4c4c4" stroke-width="0.45"/>
<circle cx="531.9" cy="506.8" r="2.1" fill="#fff" stroke="#c4c4c4" stroke-width="0.45"/>
<circle cx="521.9" cy="502.5" r="2.1" fill="#fff" stroke="#c4c4c4" stroke-width="0.45"/>
<circle cx="521.6" cy="503.7" r="2.1" fill="#fff" stroke="#c4c4c4" stroke-width="0.45"/>
<circle cx="505.4" cy="486.2" r="2.1" fill="#fff" stroke="#c4c4c4" stroke-width="0.45"/>
<circle cx="555.4" cy="493.9" r="2.1" fill="#f5f4f6" stroke="#decdea" stroke-width="0.5"/>
<circle cx="562.1" cy="480.0" r="2.1" fill="#dedbe0" stroke="#bd9ad6" stroke-width="0.5"/>
<circle cx="457.8" cy="481.7" r="2.1" fill="#e8eae7" stroke="#a0d39b" stroke-width="0.5"/>
<circle cx="516.6" cy="491.7" r="2.1" fill="#fff" stroke="#c4c4c4" stroke-width="0.45"/>
<circle cx="544.5" cy="477.5" r="2.1" fill="#fff" stroke="#c4c4c4" stroke-width="0.45"/>
<circle cx="534.5" cy="491.7" r="2.1" fill="#fff" stroke="#c4c4c4" stroke-width="0.45"/>
<circle cx="531.6" cy="484.4" r="2.1" fill="#fff" stroke="#c4c4c4" stroke-width="0.45"/>
<circle cx="504.1" cy="470.7" r="2.1" fill="#fff" stroke="#c4c4c4" stroke-width="0.45"/>
<circle cx="531.7" cy="496.2" r="2.1" fill="#fff" stroke="#c4c4c4" stroke-width="0.45"/>
<circle cx="534.3" cy="463.8" r="2.1" fill="#fff" stroke="#c4c4c4" stroke-width="0.45"/>
<circle cx="498.0" cy="489.6" r="2.1" fill="#fff" stroke="#c4c4c4" stroke-width="0.45"/>
<circle cx="501.1" cy="463.8" r="2.1" fill="#fff" stroke="#c4c4c4" stroke-width="0.45"/>
<circle cx="485.3" cy="480.4" r="2.1" fill="#d5d8d4" stroke="#73be6c" stroke-width="0.5"/>
<circle cx="516.5" cy="487.6" r="2.1" fill="#fff" stroke="#c4c4c4" stroke-width="0.45"/>
<circle cx="539.2" cy="502.4" r="2.1" fill="#fff" stroke="#c4c4c4" stroke-width="0.45"/>
<circle cx="467.9" cy="475.4" r="2.1" fill="#cfd3ce" stroke="#66b85f" stroke-width="0.5"/>
<circle cx="542.4" cy="445.5" r="2.1" fill="#fff" stroke="#c4c4c4" stroke-width="0.45"/>
<circle cx="546.1" cy="496.8" r="2.1" fill="#fff" stroke="#c4c4c4" stroke-width="0.45"/>
<circle cx="546.9" cy="500.9" r="2.1" fill="#fff" stroke="#c4c4c4" stroke-width="0.45"/>
<circle cx="521.2" cy="508.9" r="2.1" fill="#fff" stroke="#c4c4c4" stroke-width="0.45"/>
<circle cx="522.0" cy="500.7" r="2.1" fill="#fff" stroke="#c4c4c4" stroke-width="0.45"/>
<circle cx="550.0" cy="490.9" r="2.1" fill="#fff" stroke="#c4c4c4" stroke-width="0.45"/>
<circle cx="541.7" cy="501.7" r="2.1" fill="#fff" stroke="#c4c4c4" stroke-width="0.45"/>
<circle cx="553.1" cy="500.3" r="2.1" fill="#ffffff" stroke="#ece3f3" stroke-width="0.5"/>
<circle cx="543.4" cy="480.6" r="2.1" fill="#fff" stroke="#c4c4c4" stroke-width="0.45"/>
<circle cx="512.4" cy="477.3" r="2.1" fill="#fff" stroke="#c4c4c4" stroke-width="0.45"/>
<circle cx="524.8" cy="507.8" r="2.1" fill="#fff" stroke="#c4c4c4" stroke-width="0.45"/>
<circle cx="519.2" cy="499.4" r="2.1" fill="#fff" stroke="#c4c4c4" stroke-width="0.45"/>
<circle cx="488.7" cy="494.7" r="2.1" fill="#f4f5f3" stroke="#bbe0b7" stroke-width="0.5"/>
<circle cx="547.7" cy="490.5" r="2.1" fill="#fff" stroke="#c4c4c4" stroke-width="0.45"/>
<circle cx="538.7" cy="471.7" r="2.1" fill="#fff" stroke="#c4c4c4" stroke-width="0.45"/>
<circle cx="485.6" cy="492.3" r="2.1" fill="#f0f1f0" stroke="#b3ddae" stroke-width="0.5"/>
<circle cx="546.5" cy="471.3" r="2.1" fill="#fff" stroke="#c4c4c4" stroke-width="0.45"/>
<circle cx="549.5" cy="446.2" r="2.1" fill="#fff" stroke="#c4c4c4" stroke-width="0.45"/>
<circle cx="575.7" cy="491.8" r="2.1" fill="#ffffff" stroke="#ece3f3" stroke-width="0.5"/>
<circle cx="553.9" cy="473.5" r="2.1" fill="#d6d3d9" stroke="#b28ad0" stroke-width="0.5"/>
<circle cx="481.8" cy="496.8" r="2.1" fill="#fefefe" stroke="#d4ecd0" stroke-width="0.5"/>
<circle cx="516.1" cy="499.7" r="2.1" fill="#fff" stroke="#c4c4c4" stroke-width="0.45"/>
<circle cx="507.9" cy="505.8" r="2.1" fill="#fff" stroke="#c4c4c4" stroke-width="0.45"/>
<circle cx="510.8" cy="498.0" r="2.1" fill="#fff" stroke="#c4c4c4" stroke-width="0.45"/>
<circle cx="494.5" cy="480.7" r="2.1" fill="#fff" stroke="#c4c4c4" stroke-width="0.45"/>
<circle cx="482.3" cy="479.2" r="2.1" fill="#d3d6d2" stroke="#6ebc68" stroke-width="0.5"/>
<circle cx="550.0" cy="493.7" r="2.1" fill="#fff" stroke="#c4c4c4" stroke-width="0.45"/>
<circle cx="512.5" cy="507.5" r="2.1" fill="#fff" stroke="#c4c4c4" stroke-width="0.45"/>
<circle cx="536.1" cy="502.0" r="2.1" fill="#fff" stroke="#c4c4c4" stroke-width="0.45"/>
<circle cx="517.8" cy="504.7" r="2.1" fill="#fff" stroke="#c4c4c4" stroke-width="0.45"/>
<circle cx="533.2" cy="503.1" r="2.1" fill="#fff" stroke="#c4c4c4" stroke-width="0.45"/>
<circle cx="567.6" cy="472.8" r="2.1" fill="#d6d3d9" stroke="#b28ad0" stroke-width="0.5"/>
<circle cx="498.5" cy="459.0" r="2.1" fill="#fff" stroke="#c4c4c4" stroke-width="0.45"/>
<circle cx="519.3" cy="503.6" r="2.1" fill="#fff" stroke="#c4c4c4" stroke-width="0.45"/>
<circle cx="536.1" cy="504.4" r="2.1" fill="#fff" stroke="#c4c4c4" stroke-width="0.45"/>
<circle cx="518.7" cy="508.0" r="2.1" fill="#fff" stroke="#c4c4c4" stroke-width="0.45"/>
<circle cx="556.1" cy="473.1" r="2.1" fill="#d6d3d9" stroke="#b28ad0" stroke-width="0.5"/>
<circle cx="544.7" cy="500.5" r="2.1" fill="#fff" stroke="#c4c4c4" stroke-width="0.45"/>
<circle cx="538.2" cy="478.3" r="2.1" fill="#fff" stroke="#c4c4c4" stroke-width="0.45"/>
<circle cx="519.8" cy="501.3" r="2.1" fill="#fff" stroke="#c4c4c4" stroke-width="0.45"/>
<circle cx="518.5" cy="504.1" r="2.1" fill="#fff" stroke="#c4c4c4" stroke-width="0.45"/>
<circle cx="494.9" cy="483.3" r="2.1" fill="#fff" stroke="#c4c4c4" stroke-width="0.45"/>
<circle cx="527.2" cy="505.6" r="2.1" fill="#fff" stroke="#c4c4c4" stroke-width="0.45"/>
<circle cx="513.8" cy="505.6" r="2.1" fill="#fff" stroke="#c4c4c4" stroke-width="0.45"/>
<circle cx="525.4" cy="508.6" r="2.1" fill="#fff" stroke="#c4c4c4" stroke-width="0.45"/>
<circle cx="507.4" cy="505.8" r="2.1" fill="#fff" stroke="#c4c4c4" stroke-width="0.45"/>
<circle cx="545.2" cy="456.7" r="2.1" fill="#fff" stroke="#c4c4c4" stroke-width="0.45"/>
<circle cx="542.6" cy="498.0" r="2.1" fill="#fff" stroke="#c4c4c4" stroke-width="0.45"/>
<circle cx="557.0" cy="494.0" r="2.1" fill="#f6f5f7" stroke="#dfd0eb" stroke-width="0.5"/>
<circle cx="547.7" cy="484.7" r="2.1" fill="#fff" stroke="#c4c4c4" stroke-width="0.45"/>
<circle cx="521.1" cy="503.5" r="2.1" fill="#fff" stroke="#c4c4c4" stroke-width="0.45"/>
<circle cx="489.0" cy="479.5" r="2.1" fill="#d1d5d0" stroke="#6bba64" stroke-width="0.5"/>
<circle cx="514.6" cy="491.5" r="2.1" fill="#fff" stroke="#c4c4c4" stroke-width="0.45"/>
<circle cx="514.6" cy="488.9" r="2.1" fill="#fff" stroke="#c4c4c4" stroke-width="0.45"/>
<circle cx="465.2" cy="478.1" r="2.1" fill="#d7dad6" stroke="#79c172" stroke-width="0.5"/>
<circle cx="516.0" cy="503.6" r="2.1" fill="#fff" stroke="#c4c4c4" stroke-width="0.45"/>
<circle cx="514.8" cy="494.0" r="2.1" fill="#fff" stroke="#c4c4c4" stroke-width="0.45"/>
<circle cx="570.7" cy="485.3" r="2.1" fill="#ecebee" stroke="#d2bbe3" stroke-width="0.5"/>
<circle cx="491.9" cy="498.9" r="2.1" fill="#fafbfa" stroke="#cbe8c7" stroke-width="0.5"/>
<circle cx="554.1" cy="498.6" r="2.1" fill="#fdfcfd" stroke="#e9def1" stroke-width="0.5"/>
<circle cx="493.1" cy="501.4" r="2.1" fill="#fff" stroke="#c4c4c4" stroke-width="0.45"/>
<circle cx="549.5" cy="501.2" r="2.1" fill="#fff" stroke="#c4c4c4" stroke-width="0.45"/>
<circle cx="494.7" cy="439.9" r="2.1" fill="#fff" stroke="#c4c4c4" stroke-width="0.45"/>
<circle cx="495.6" cy="499.5" r="2.1" fill="#fff" stroke="#c4c4c4" stroke-width="0.45"/>
<circle cx="503.6" cy="485.8" r="2.1" fill="#fff" stroke="#c4c4c4" stroke-width="0.45"/>
<circle cx="519.1" cy="506.3" r="2.1" fill="#fff" stroke="#c4c4c4" stroke-width="0.45"/>
<circle cx="525.2" cy="508.1" r="2.1" fill="#fff" stroke="#c4c4c4" stroke-width="0.45"/>
<circle cx="507.4" cy="500.6" r="2.1" fill="#fff" stroke="#c4c4c4" stroke-width="0.45"/>
<circle cx="521.9" cy="501.3" r="2.1" fill="#fff" stroke="#c4c4c4" stroke-width="0.45"/>
<circle cx="545.3" cy="501.0" r="2.1" fill="#fff" stroke="#c4c4c4" stroke-width="0.45"/>
<circle cx="572.1" cy="491.1" r="2.1" fill="#fafafb" stroke="#e5d9ef" stroke-width="0.5"/>
<circle cx="505.6" cy="504.3" r="2.1" fill="#fff" stroke="#c4c4c4" stroke-width="0.45"/>
<circle cx="502.8" cy="504.6" r="2.1" fill="#fff" stroke="#c4c4c4" stroke-width="0.45"/>
<circle cx="530.2" cy="480.1" r="2.1" fill="#fff" stroke="#c4c4c4" stroke-width="0.45"/>
<circle cx="538.9" cy="505.2" r="2.1" fill="#fff" stroke="#c4c4c4" stroke-width="0.45"/>
<circle cx="501.8" cy="474.2" r="2.1" fill="#fff" stroke="#c4c4c4" stroke-width="0.45"/>
<circle cx="516.5" cy="508.4" r="2.1" fill="#fff" stroke="#c4c4c4" stroke-width="0.45"/>
<circle cx="488.2" cy="499.6" r="2.1" fill="#ffffff" stroke="#d6edd2" stroke-width="0.5"/>
<circle cx="556.5" cy="491.2" r="2.1" fill="#f1eff2" stroke="#d8c4e7" stroke-width="0.5"/>
<circle cx="506.0" cy="487.5" r="2.1" fill="#fff" stroke="#c4c4c4" stroke-width="0.45"/>
<circle cx="551.8" cy="500.6" r="2.1" fill="#ffffff" stroke="#ece2f3" stroke-width="0.5"/>
<circle cx="537.2" cy="476.4" r="2.1" fill="#fff" stroke="#c4c4c4" stroke-width="0.45"/>
<circle cx="504.1" cy="504.6" r="2.1" fill="#fff" stroke="#c4c4c4" stroke-width="0.45"/>
<circle cx="537.7" cy="505.4" r="2.1" fill="#fff" stroke="#c4c4c4" stroke-width="0.45"/>
<circle cx="532.4" cy="505.5" r="2.1" fill="#fff" stroke="#c4c4c4" stroke-width="0.45"/>
<circle cx="529.6" cy="485.2" r="2.1" fill="#fff" stroke="#c4c4c4" stroke-width="0.45"/>
<circle cx="531.3" cy="498.9" r="2.1" fill="#fff" stroke="#c4c4c4" stroke-width="0.45"/>
<circle cx="522.4" cy="509.0" r="2.1" fill="#fff" stroke="#c4c4c4" stroke-width="0.45"/>
<circle cx="563.6" cy="496.3" r="2.1" fill="#ffffff" stroke="#ece3f3" stroke-width="0.5"/>
<circle cx="533.9" cy="497.5" r="2.1" fill="#fff" stroke="#c4c4c4" stroke-width="0.45"/>
<circle cx="480.9" cy="496.8" r="2.1" fill="#ffffff" stroke="#d6edd2" stroke-width="0.5"/>
<circle cx="481.0" cy="489.7" r="2.1" fill="#edefed" stroke="#acd9a7" stroke-width="0.5"/>
<circle cx="506.6" cy="505.9" r="2.1" fill="#fff" stroke="#c4c4c4" stroke-width="0.45"/>
<circle cx="557.5" cy="475.0" r="2.1" fill="#d6d3d9" stroke="#b28ad0" stroke-width="0.5"/>
<circle cx="511.6" cy="482.3" r="2.1" fill="#fff" stroke="#c4c4c4" stroke-width="0.45"/>
<circle cx="552.0" cy="488.8" r="2.1" fill="#eae9ec" stroke="#cfb6e1" stroke-width="0.5"/>
<circle cx="476.1" cy="494.8" r="2.1" fill="#fefefe" stroke="#d5ecd1" stroke-width="0.5"/>
<circle cx="537.3" cy="482.2" r="2.1" fill="#fff" stroke="#c4c4c4" stroke-width="0.45"/>
<circle cx="466.9" cy="487.8" r="2.1" fill="#f4f5f3" stroke="#bce1b7" stroke-width="0.5"/>
<circle cx="562.4" cy="492.8" r="2.1" fill="#f7f6f8" stroke="#e1d2ec" stroke-width="0.5"/>
<circle cx="515.1" cy="491.9" r="2.1" fill="#fff" stroke="#c4c4c4" stroke-width="0.45"/>
<circle cx="525.1" cy="492.7" r="2.1" fill="#fff" stroke="#c4c4c4" stroke-width="0.45"/>
<circle cx="543.2" cy="503.7" r="2.1" fill="#fff" stroke="#c4c4c4" stroke-width="0.45"/>
<circle cx="541.9" cy="486.1" r="2.1" fill="#fff" stroke="#c4c4c4" stroke-width="0.45"/>
<circle cx="499.9" cy="475.9" r="2.1" fill="#fff" stroke="#c4c4c4" stroke-width="0.45"/>
<circle cx="538.6" cy="505.1" r="2.1" fill="#fff" stroke="#c4c4c4" stroke-width="0.45"/>
<circle cx="509.6" cy="497.5" r="2.1" fill="#fff" stroke="#c4c4c4" stroke-width="0.45"/>
<circle cx="526.6" cy="508.2" r="2.1" fill="#fff" stroke="#c4c4c4" stroke-width="0.45"/>
<circle cx="552.2" cy="500.4" r="2.1" fill="#ffffff" stroke="#ebe2f3" stroke-width="0.5"/>
<circle cx="512.8" cy="505.9" r="2.1" fill="#fff" stroke="#c4c4c4" stroke-width="0.45"/>
<circle cx="517.6" cy="506.2" r="2.1" fill="#fff" stroke="#c4c4c4" stroke-width="0.45"/>
<circle cx="551.6" cy="500.8" r="2.1" fill="#ffffff" stroke="#ece3f3" stroke-width="0.5"/>
<circle cx="528.0" cy="494.5" r="2.1" fill="#fff" stroke="#c4c4c4" stroke-width="0.45"/>
<circle cx="504.4" cy="505.2" r="2.1" fill="#fff" stroke="#c4c4c4" stroke-width="0.45"/>
<circle cx="519.7" cy="508.2" r="2.1" fill="#fff" stroke="#c4c4c4" stroke-width="0.45"/>
<circle cx="453.0" cy="485.8" r="2.1" fill="#fcfcfc" stroke="#cfeacb" stroke-width="0.5"/>
<circle cx="571.0" cy="492.8" r="2.1" fill="#fdfdfd" stroke="#eadff2" stroke-width="0.5"/>
<circle cx="493.6" cy="442.3" r="2.1" fill="#fff" stroke="#c4c4c4" stroke-width="0.45"/>
<circle cx="547.5" cy="502.3" r="2.1" fill="#fff" stroke="#c4c4c4" stroke-width="0.45"/>
<circle cx="561.6" cy="495.8" r="2.1" fill="#fcfcfd" stroke="#e8ddf1" stroke-width="0.5"/>
<circle cx="500.6" cy="502.1" r="2.1" fill="#fff" stroke="#c4c4c4" stroke-width="0.45"/>
<circle cx="516.7" cy="506.2" r="2.1" fill="#fff" stroke="#c4c4c4" stroke-width="0.45"/>
<circle cx="457.7" cy="473.9" r="2.1" fill="#cfd3ce" stroke="#66b85f" stroke-width="0.5"/>
<circle cx="538.3" cy="490.9" r="2.1" fill="#fff" stroke="#c4c4c4" stroke-width="0.45"/>
<circle cx="517.9" cy="496.3" r="2.1" fill="#fff" stroke="#c4c4c4" stroke-width="0.45"/>
<circle cx="502.9" cy="471.8" r="2.1" fill="#fff" stroke="#c4c4c4" stroke-width="0.45"/>
<circle cx="534.3" cy="495.5" r="2.1" fill="#fff" stroke="#c4c4c4" stroke-width="0.45"/>
<circle cx="491.9" cy="500.8" r="2.1" fill="#ffffff" stroke="#d5edd1" stroke-width="0.5"/>
<circle cx="532.5" cy="475.6" r="2.1" fill="#fff" stroke="#c4c4c4" stroke-width="0.45"/>
<circle cx="495.2" cy="457.6" r="2.1" fill="#fff" stroke="#c4c4c4" stroke-width="0.45"/>
<circle cx="510.4" cy="476.9" r="2.1" fill="#fff" stroke="#c4c4c4" stroke-width="0.45"/>
<circle cx="497.7" cy="503.0" r="2.1" fill="#fff" stroke="#c4c4c4" stroke-width="0.45"/>
<circle cx="508.1" cy="490.5" r="2.1" fill="#fff" stroke="#c4c4c4" stroke-width="0.45"/>
<circle cx="527.0" cy="508.3" r="2.1" fill="#fff" stroke="#c4c4c4" stroke-width="0.45"/>
<circle cx="538.5" cy="475.9" r="2.1" fill="#fff" stroke="#c4c4c4" stroke-width="0.45"/>
<circle cx="527.5" cy="507.4" r="2.1" fill="#fff" stroke="#c4c4c4" stroke-width="0.45"/>
<circle cx="493.7" cy="485.1" r="2.1" fill="#fff" stroke="#c4c4c4" stroke-width="0.45"/>
<circle cx="533.7" cy="503.0" r="2.1" fill="#fff" stroke="#c4c4c4" stroke-width="0.45"/>
<circle cx="555.6" cy="495.0" r="2.1" fill="#f7f6f8" stroke="#e1d2ec" stroke-width="0.5"/>
<circle cx="513.5" cy="505.2" r="2.1" fill="#fff" stroke="#c4c4c4" stroke-width="0.45"/>
<circle cx="500.8" cy="486.5" r="2.1" fill="#fff" stroke="#c4c4c4" stroke-width="0.45"/>
<circle cx="537.3" cy="502.2" r="2.1" fill="#fff" stroke="#c4c4c4" stroke-width="0.45"/>
<circle cx="515.6" cy="506.8" r="2.1" fill="#fff" stroke="#c4c4c4" stroke-width="0.45"/>
<circle cx="508.0" cy="476.1" r="2.1" fill="#fff" stroke="#c4c4c4" stroke-width="0.45"/>
<circle cx="553.0" cy="499.1" r="2.1" fill="#fdfdfd" stroke="#e9def1" stroke-width="0.5"/>
<circle cx="515.5" cy="500.6" r="2.1" fill="#fff" stroke="#c4c4c4" stroke-width="0.45"/>
<circle cx="490.8" cy="487.8" r="2.1" fill="#e3e5e2" stroke="#94ce8f" stroke-width="0.5"/>
<circle cx="506.8" cy="489.2" r="2.1" fill="#fff" stroke="#c4c4c4" stroke-width="0.45"/>
<circle cx="510.4" cy="501.9" r="2.1" fill="#fff" stroke="#c4c4c4" stroke-width="0.45"/>
<circle cx="530.1" cy="503.4" r="2.1" fill="#fff" stroke="#c4c4c4" stroke-width="0.45"/>
<circle cx="523.7" cy="508.7" r="2.1" fill="#fff" stroke="#c4c4c4" stroke-width="0.45"/>
<circle cx="526.0" cy="498.9" r="2.1" fill="#fff" stroke="#c4c4c4" stroke-width="0.45"/>
<circle cx="562.0" cy="496.7" r="2.1" fill="#ffffff" stroke="#ebe2f3" stroke-width="0.5"/>
<circle cx="547.9" cy="498.3" r="2.1" fill="#fff" stroke="#c4c4c4" stroke-width="0.45"/>
<circle cx="517.2" cy="505.3" r="2.1" fill="#fff" stroke="#c4c4c4" stroke-width="0.45"/>
<circle cx="517.4" cy="486.7" r="2.1" fill="#fff" stroke="#c4c4c4" stroke-width="0.45"/>
<circle cx="517.5" cy="491.3" r="2.1" fill="#fff" stroke="#c4c4c4" stroke-width="0.45"/>
<circle cx="492.5" cy="484.0" r="2.1" fill="#fff" stroke="#c4c4c4" stroke-width="0.45"/>
<circle cx="531.7" cy="503.1" r="2.1" fill="#fff" stroke="#c4c4c4" stroke-width="0.45"/>
<circle cx="496.4" cy="474.3" r="2.1" fill="#fff" stroke="#c4c4c4" stroke-width="0.45"/>
<circle cx="524.7" cy="508.5" r="2.1" fill="#fff" stroke="#c4c4c4" stroke-width="0.45"/>
<circle cx="476.3" cy="487.3" r="2.1" fill="#eaecea" stroke="#a6d6a1" stroke-width="0.5"/>
<circle cx="512.7" cy="507.3" r="2.1" fill="#fff" stroke="#c4c4c4" stroke-width="0.45"/>
<circle cx="541.1" cy="471.9" r="2.1" fill="#fff" stroke="#c4c4c4" stroke-width="0.45"/>
<circle cx="539.0" cy="505.2" r="2.1" fill="#fff" stroke="#c4c4c4" stroke-width="0.45"/>
<circle cx="543.0" cy="474.6" r="2.1" fill="#fff" stroke="#c4c4c4" stroke-width="0.45"/>
<circle cx="513.2" cy="477.8" r="2.1" fill="#fff" stroke="#c4c4c4" stroke-width="0.45"/>
<circle cx="513.2" cy="474.4" r="2.1" fill="#fff" stroke="#c4c4c4" stroke-width="0.45"/>
<circle cx="521.6" cy="504.6" r="2.1" fill="#fff" stroke="#c4c4c4" stroke-width="0.45"/>
<circle cx="468.1" cy="492.0" r="2.1" fill="#ffffff" stroke="#d6edd2" stroke-width="0.5"/>
<circle cx="518.5" cy="508.7" r="2.1" fill="#fff" stroke="#c4c4c4" stroke-width="0.45"/>
<circle cx="543.1" cy="480.6" r="2.1" fill="#fff" stroke="#c4c4c4" stroke-width="0.45"/>
<circle cx="498.1" cy="470.0" r="2.1" fill="#fff" stroke="#c4c4c4" stroke-width="0.45"/>
<circle cx="506.4" cy="504.0" r="2.1" fill="#fff" stroke="#c4c4c4" stroke-width="0.45"/>
<circle cx="518.8" cy="508.1" r="2.1" fill="#fff" stroke="#c4c4c4" stroke-width="0.45"/>
<circle cx="535.9" cy="471.8" r="2.1" fill="#fff" stroke="#c4c4c4" stroke-width="0.45"/>
<circle cx="524.6" cy="501.4" r="2.1" fill="#fff" stroke="#c4c4c4" stroke-width="0.45"/>
<circle cx="471.9" cy="493.3" r="2.1" fill="#ffffff" stroke="#d5ecd1" stroke-width="0.5"/>
<circle cx="580.8" cy="483.2" r="2.1" fill="#edecef" stroke="#d3bde4" stroke-width="0.5"/>
<circle cx="555.2" cy="493.9" r="2.1" fill="#f5f4f6" stroke="#decdea" stroke-width="0.5"/>
<circle cx="523.9" cy="508.0" r="2.1" fill="#fff" stroke="#c4c4c4" stroke-width="0.45"/>
<circle cx="474.3" cy="471.3" r="2.1" fill="#cfd3ce" stroke="#66b85f" stroke-width="0.5"/>
<circle cx="490.0" cy="487.0" r="2.1" fill="#e1e4e1" stroke="#91cc8b" stroke-width="0.5"/>
<circle cx="517.8" cy="502.7" r="2.1" fill="#fff" stroke="#c4c4c4" stroke-width="0.45"/>
<circle cx="501.7" cy="502.9" r="2.1" fill="#fff" stroke="#c4c4c4" stroke-width="0.45"/>
<circle cx="502.2" cy="441.6" r="2.1" fill="#fff" stroke="#c4c4c4" stroke-width="0.45"/>
<circle cx="504.0" cy="500.2" r="2.1" fill="#fff" stroke="#c4c4c4" stroke-width="0.45"/>
<circle cx="535.5" cy="501.2" r="2.1" fill="#fff" stroke="#c4c4c4" stroke-width="0.45"/>
<circle cx="467.2" cy="475.9" r="2.1" fill="#cfd3ce" stroke="#67b860" stroke-width="0.5"/>
<circle cx="524.7" cy="505.9" r="2.1" fill="#fff" stroke="#c4c4c4" stroke-width="0.45"/>
<circle cx="550.1" cy="472.6" r="2.1" fill="#fff" stroke="#c4c4c4" stroke-width="0.45"/>
<circle cx="504.1" cy="483.7" r="2.1" fill="#fff" stroke="#c4c4c4" stroke-width="0.45"/>
<circle cx="520.7" cy="506.2" r="2.1" fill="#fff" stroke="#c4c4c4" stroke-width="0.45"/>
<circle cx="516.5" cy="499.2" r="2.1" fill="#fff" stroke="#c4c4c4" stroke-width="0.45"/>
<circle cx="503.2" cy="497.5" r="2.1" fill="#fff" stroke="#c4c4c4" stroke-width="0.45"/>
<circle cx="492.0" cy="492.2" r="2.1" fill="#ecedeb" stroke="#a9d8a4" stroke-width="0.5"/>
<circle cx="507.9" cy="506.2" r="2.1" fill="#fff" stroke="#c4c4c4" stroke-width="0.45"/>
<circle cx="493.0" cy="499.4" r="2.1" fill="#fff" stroke="#c4c4c4" stroke-width="0.45"/>
<circle cx="530.5" cy="504.3" r="2.1" fill="#fff" stroke="#c4c4c4" stroke-width="0.45"/>
<circle cx="524.7" cy="506.7" r="2.1" fill="#fff" stroke="#c4c4c4" stroke-width="0.45"/>
<circle cx="502.5" cy="502.5" r="2.1" fill="#fff" stroke="#c4c4c4" stroke-width="0.45"/>
<circle cx="527.0" cy="504.4" r="2.1" fill="#fff" stroke="#c4c4c4" stroke-width="0.45"/>
<circle cx="515.8" cy="503.1" r="2.1" fill="#fff" stroke="#c4c4c4" stroke-width="0.45"/>
<circle cx="543.8" cy="468.6" r="2.1" fill="#fff" stroke="#c4c4c4" stroke-width="0.45"/>
<circle cx="526.1" cy="504.9" r="2.1" fill="#fff" stroke="#c4c4c4" stroke-width="0.45"/>
<circle cx="523.4" cy="497.2" r="2.1" fill="#fff" stroke="#c4c4c4" stroke-width="0.45"/>
<circle cx="502.6" cy="446.3" r="2.1" fill="#fff" stroke="#c4c4c4" stroke-width="0.45"/>
<circle cx="500.8" cy="477.2" r="2.1" fill="#fff" stroke="#c4c4c4" stroke-width="0.45"/>
<circle cx="547.5" cy="502.3" r="2.1" fill="#fff" stroke="#c4c4c4" stroke-width="0.45"/>
<circle cx="471.1" cy="491.8" r="2.1" fill="#fbfcfb" stroke="#cee9c9" stroke-width="0.5"/>
<circle cx="529.1" cy="483.5" r="2.1" fill="#fff" stroke="#c4c4c4" stroke-width="0.45"/>
<circle cx="493.1" cy="501.3" r="2.1" fill="#fff" stroke="#c4c4c4" stroke-width="0.45"/>
<circle cx="559.7" cy="490.1" r="2.1" fill="#f0eff1" stroke="#d7c3e6" stroke-width="0.5"/>
<circle cx="506.0" cy="471.1" r="2.1" fill="#fff" stroke="#c4c4c4" stroke-width="0.45"/>
<circle cx="489.6" cy="498.9" r="2.1" fill="#fcfcfc" stroke="#cfeacb" stroke-width="0.5"/>
<circle cx="514.3" cy="490.6" r="2.1" fill="#fff" stroke="#c4c4c4" stroke-width="0.45"/>
<circle cx="536.7" cy="505.7" r="2.1" fill="#fff" stroke="#c4c4c4" stroke-width="0.45"/>
<circle cx="541.4" cy="504.4" r="2.1" fill="#fff" stroke="#c4c4c4" stroke-width="0.45"/>
<circle cx="519.0" cy="505.7" r="2.1" fill="#fff" stroke="#c4c4c4" stroke-width="0.45"/>
<circle cx="530.1" cy="504.7" r="2.1" fill="#fff" stroke="#c4c4c4" stroke-width="0.45"/>
<circle cx="554.4" cy="496.4" r="2.1" fill="#f9f8f9" stroke="#e3d6ee" stroke-width="0.5"/>
<circle cx="525.3" cy="507.9" r="2.1" fill="#fff" stroke="#c4c4c4" stroke-width="0.45"/>
<circle cx="495.9" cy="502.3" r="2.1" fill="#fff" stroke="#c4c4c4" stroke-width="0.45"/>
<circle cx="514.8" cy="483.3" r="2.1" fill="#fff" stroke="#c4c4c4" stroke-width="0.45"/>
<circle cx="543.0" cy="478.8" r="2.1" fill="#fff" stroke="#c4c4c4" stroke-width="0.45"/>
<circle cx="517.8" cy="502.5" r="2.1" fill="#fff" stroke="#c4c4c4" stroke-width="0.45"/>
<circle cx="521.9" cy="508.5" r="2.1" fill="#fff" stroke="#c4c4c4" stroke-width="0.45"/>
<circle cx="558.3" cy="495.3" r="2.1" fill="#f9f9fa" stroke="#e4d6ee" stroke-width="0.5"/>
<circle cx="513.0" cy="506.5" r="2.1" fill="#fff" stroke="#c4c4c4" stroke-width="0.45"/>
<circle cx="524.2" cy="492.1" r="2.1" fill="#fff" stroke="#c4c4c4" stroke-width="0.45"/>
<circle cx="525.0" cy="489.3" r="2.1" fill="#fff" stroke="#c4c4c4" stroke-width="0.45"/>
<circle cx="495.3" cy="497.3" r="2.1" fill="#fff" stroke="#c4c4c4" stroke-width="0.45"/>
<circle cx="537.1" cy="465.0" r="2.1" fill="#fff" stroke="#c4c4c4" stroke-width="0.45"/>
<circle cx="500.6" cy="493.5" r="2.1" fill="#fff" stroke="#c4c4c4" stroke-width="0.45"/>
<circle cx="532.7" cy="502.2" r="2.1" fill="#fff" stroke="#c4c4c4" stroke-width="0.45"/>
<circle cx="510.0" cy="503.3" r="2.1" fill="#fff" stroke="#c4c4c4" stroke-width="0.45"/>
<circle cx="533.3" cy="506.4" r="2.1" fill="#fff" stroke="#c4c4c4" stroke-width="0.45"/>
<circle cx="463.6" cy="483.6" r="2.1" fill="#eaebe9" stroke="#a4d59f" stroke-width="0.5"/>
<circle cx="526.7" cy="508.2" r="2.1" fill="#fff" stroke="#c4c4c4" stroke-width="0.45"/>
<circle cx="531.2" cy="507.3" r="2.1" fill="#fff" stroke="#c4c4c4" stroke-width="0.45"/>
<circle cx="511.6" cy="477.1" r="2.1" fill="#fff" stroke="#c4c4c4" stroke-width="0.45"/>
<circle cx="551.3" cy="477.6" r="2.1" fill="#d7d4d9" stroke="#b38bd0" stroke-width="0.5"/>
<circle cx="523.4" cy="507.8" r="2.1" fill="#fff" stroke="#c4c4c4" stroke-width="0.45"/>
<circle cx="495.2" cy="493.9" r="2.1" fill="#fff" stroke="#c4c4c4" stroke-width="0.45"/>
<circle cx="522.2" cy="508.4" r="2.1" fill="#fff" stroke="#c4c4c4" stroke-width="0.45"/>
<circle cx="527.5" cy="485.8" r="2.1" fill="#fff" stroke="#c4c4c4" stroke-width="0.45"/>
<circle cx="554.8" cy="497.6" r="2.1" fill="#fbfbfb" stroke="#e7dbf0" stroke-width="0.5"/>
<circle cx="532.6" cy="485.2" r="2.1" fill="#fff" stroke="#c4c4c4" stroke-width="0.45"/>
<circle cx="555.9" cy="470.2" r="2.1" fill="#d6d3d9" stroke="#b28ad0" stroke-width="0.5"/>
<circle cx="530.0" cy="502.0" r="2.1" fill="#fff" stroke="#c4c4c4" stroke-width="0.45"/>
<circle cx="560.0" cy="497.7" r="2.1" fill="#ffffff" stroke="#ece3f3" stroke-width="0.5"/>
<circle cx="547.1" cy="456.5" r="2.1" fill="#fff" stroke="#c4c4c4" stroke-width="0.45"/>
<circle cx="465.8" cy="485.8" r="2.1" fill="#eef0ee" stroke="#afdbaa" stroke-width="0.5"/>
<circle cx="498.2" cy="484.4" r="2.1" fill="#fff" stroke="#c4c4c4" stroke-width="0.45"/>
<circle cx="497.9" cy="496.1" r="2.1" fill="#fff" stroke="#c4c4c4" stroke-width="0.45"/>
<circle cx="537.1" cy="491.8" r="2.1" fill="#fff" stroke="#c4c4c4" stroke-width="0.45"/>
<circle cx="501.5" cy="504.2" r="2.1" fill="#fff" stroke="#c4c4c4" stroke-width="0.45"/>
<circle cx="578.9" cy="485.7" r="2.1" fill="#f3f2f4" stroke="#dbc8e9" stroke-width="0.5"/>
<circle cx="543.7" cy="496.8" r="2.1" fill="#fff" stroke="#c4c4c4" stroke-width="0.45"/>
<circle cx="568.7" cy="493.6" r="2.1" fill="#fdfdfd" stroke="#eadff2" stroke-width="0.5"/>
<circle cx="517.3" cy="503.1" r="2.1" fill="#fff" stroke="#c4c4c4" stroke-width="0.45"/>
<circle cx="481.6" cy="494.1" r="2.1" fill="#f8f8f8" stroke="#c5e5c1" stroke-width="0.5"/>
<circle cx="525.9" cy="507.4" r="2.1" fill="#fff" stroke="#c4c4c4" stroke-width="0.45"/>
<circle cx="559.0" cy="483.0" r="2.1" fill="#e2e0e4" stroke="#c3a5da" stroke-width="0.5"/>
<circle cx="508.0" cy="486.0" r="2.1" fill="#fff" stroke="#c4c4c4" stroke-width="0.45"/>
<circle cx="521.9" cy="503.0" r="2.1" fill="#fff" stroke="#c4c4c4" stroke-width="0.45"/>
<circle cx="503.0" cy="493.4" r="2.1" fill="#fff" stroke="#c4c4c4" stroke-width="0.45"/>
<circle cx="536.7" cy="455.3" r="2.1" fill="#fff" stroke="#c4c4c4" stroke-width="0.45"/>
<circle cx="542.5" cy="459.5" r="2.1" fill="#fff" stroke="#c4c4c4" stroke-width="0.45"/>
<circle cx="550.2" cy="479.1" r="2.1" fill="#fff" stroke="#c4c4c4" stroke-width="0.45"/>
<circle cx="501.7" cy="496.7" r="2.1" fill="#fff" stroke="#c4c4c4" stroke-width="0.45"/>
<circle cx="518.1" cy="506.8" r="2.1" fill="#fff" stroke="#c4c4c4" stroke-width="0.45"/>
<circle cx="513.1" cy="486.6" r="2.1" fill="#fff" stroke="#c4c4c4" stroke-width="0.45"/>
<circle cx="521.5" cy="509.0" r="2.1" fill="#fff" stroke="#c4c4c4" stroke-width="0.45"/>
<circle cx="515.5" cy="507.4" r="2.1" fill="#fff" stroke="#c4c4c4" stroke-width="0.45"/>
<circle cx="553.5" cy="490.4" r="2.1" fill="#eeecef" stroke="#d3bde4" stroke-width="0.5"/>
<circle cx="487.8" cy="476.6" r="2.1" fill="#cfd3ce" stroke="#66b85f" stroke-width="0.5"/>
<circle cx="535.0" cy="486.6" r="2.1" fill="#fff" stroke="#c4c4c4" stroke-width="0.45"/>
<circle cx="542.3" cy="503.7" r="2.1" fill="#fff" stroke="#c4c4c4" stroke-width="0.45"/>
<circle cx="528.4" cy="505.7" r="2.1" fill="#fff" stroke="#c4c4c4" stroke-width="0.45"/>
<circle cx="501.1" cy="458.7" r="2.1" fill="#fff" stroke="#c4c4c4" stroke-width="0.45"/>
<circle cx="572.1" cy="492.3" r="2.1" fill="#fdfdfd" stroke="#eadff2" stroke-width="0.5"/>
<circle cx="607.5" cy="469.1" r="2.1" fill="#d6d3d9" stroke="#b28ad0" stroke-width="0.5"/>
<circle cx="467.1" cy="483.7" r="2.1" fill="#e7e9e7" stroke="#9ed399" stroke-width="0.5"/>
<circle cx="544.9" cy="443.0" r="2.1" fill="#fff" stroke="#c4c4c4" stroke-width="0.45"/>
<circle cx="585.4" cy="488.1" r="2.1" fill="#ffffff" stroke="#ece2f3" stroke-width="0.5"/>
<circle cx="450.9" cy="472.1" r="2.1" fill="#cfd3ce" stroke="#66b85f" stroke-width="0.5"/>
<circle cx="511.6" cy="497.9" r="2.1" fill="#fff" stroke="#c4c4c4" stroke-width="0.45"/>
<circle cx="468.3" cy="486.9" r="2.1" fill="#f0f1ef" stroke="#b2dcad" stroke-width="0.5"/>
<circle cx="441.8" cy="480.4" r="2.1" fill="#f3f4f2" stroke="#b9dfb5" stroke-width="0.5"/>
<circle cx="580.5" cy="485.7" r="2.1" fill="#f4f3f5" stroke="#dccbe9" stroke-width="0.5"/>
<circle cx="540.0" cy="484.7" r="2.1" fill="#fff" stroke="#c4c4c4" stroke-width="0.45"/>
<circle cx="560.8" cy="493.1" r="2.1" fill="#f7f6f7" stroke="#e0d1ec" stroke-width="0.5"/>
<circle cx="475.8" cy="492.4" r="2.1" fill="#f8f9f8" stroke="#c7e6c2" stroke-width="0.5"/>
<circle cx="455.7" cy="476.9" r="2.1" fill="#d8dbd7" stroke="#7cc275" stroke-width="0.5"/>
<circle cx="517.7" cy="508.1" r="2.1" fill="#fff" stroke="#c4c4c4" stroke-width="0.45"/>
<circle cx="426.5" cy="478.6" r="2.1" fill="#ffffff" stroke="#d6edd2" stroke-width="0.5"/>
<circle cx="452.1" cy="485.6" r="2.1" fill="#fcfdfc" stroke="#d0eacc" stroke-width="0.5"/>
<circle cx="534.1" cy="478.9" r="2.1" fill="#fff" stroke="#c4c4c4" stroke-width="0.45"/>
<circle cx="516.7" cy="499.8" r="2.1" fill="#fff" stroke="#c4c4c4" stroke-width="0.45"/>
<circle cx="493.9" cy="501.6" r="2.1" fill="#fff" stroke="#c4c4c4" stroke-width="0.45"/>
<circle cx="439.0" cy="479.1" r="2.1" fill="#f0f1f0" stroke="#b3dcae" stroke-width="0.5"/>
<circle cx="546.5" cy="473.9" r="2.1" fill="#fff" stroke="#c4c4c4" stroke-width="0.45"/>
<circle cx="442.3" cy="478.0" r="2.1" fill="#e7e9e7" stroke="#9fd399" stroke-width="0.5"/>
<circle cx="486.8" cy="484.0" r="2.1" fill="#dcdfdc" stroke="#85c77f" stroke-width="0.5"/>
<circle cx="574.1" cy="491.7" r="2.1" fill="#fdfdfe" stroke="#eae0f2" stroke-width="0.5"/>
<circle cx="445.0" cy="483.1" r="2.1" fill="#fbfcfb" stroke="#cde9c9" stroke-width="0.5"/>
<circle cx="567.3" cy="475.9" r="2.1" fill="#d7d4da" stroke="#b38bd0" stroke-width="0.5"/>
<circle cx="504.9" cy="496.1" r="2.1" fill="#fff" stroke="#c4c4c4" stroke-width="0.45"/>
<circle cx="538.1" cy="502.9" r="2.1" fill="#fff" stroke="#c4c4c4" stroke-width="0.45"/>
<circle cx="498.0" cy="448.5" r="2.1" fill="#fff" stroke="#c4c4c4" stroke-width="0.45"/>
<circle cx="509.0" cy="501.3" r="2.1" fill="#fff" stroke="#c4c4c4" stroke-width="0.45"/>
<circle cx="480.1" cy="493.3" r="2.1" fill="#f7f8f7" stroke="#c3e4bf" stroke-width="0.5"/>
<circle cx="533.5" cy="486.8" r="2.1" fill="#fff" stroke="#c4c4c4" stroke-width="0.45"/>
<circle cx="432.5" cy="480.2" r="2.1" fill="#ffffff" stroke="#d6edd2" stroke-width="0.5"/>
<circle cx="488.7" cy="498.8" r="2.1" fill="#fdfdfd" stroke="#d1ebcd" stroke-width="0.5"/>
<circle cx="529.6" cy="507.3" r="2.1" fill="#fff" stroke="#c4c4c4" stroke-width="0.45"/>
<circle cx="510.6" cy="499.8" r="2.1" fill="#fff" stroke="#c4c4c4" stroke-width="0.45"/>
<circle cx="604.9" cy="478.7" r="2.1" fill="#f2f1f3" stroke="#dac7e8" stroke-width="0.5"/>
<circle cx="462.0" cy="485.5" r="2.1" fill="#f1f2f1" stroke="#b6deb1" stroke-width="0.5"/>
<circle cx="541.8" cy="501.9" r="2.1" fill="#fff" stroke="#c4c4c4" stroke-width="0.45"/>
<circle cx="515.7" cy="508.2" r="2.1" fill="#fff" stroke="#c4c4c4" stroke-width="0.45"/>
<circle cx="579.4" cy="490.0" r="2.1" fill="#fefefe" stroke="#eae1f2" stroke-width="0.5"/>
<circle cx="468.9" cy="478.9" r="2.1" fill="#d8dbd7" stroke="#7ac173" stroke-width="0.5"/>
<circle cx="501.1" cy="468.6" r="2.1" fill="#fff" stroke="#c4c4c4" stroke-width="0.45"/>
<circle cx="445.3" cy="483.7" r="2.1" fill="#fefefe" stroke="#d3ebcf" stroke-width="0.5"/>
<circle cx="549.7" cy="466.3" r="2.1" fill="#fff" stroke="#c4c4c4" stroke-width="0.45"/>
<circle cx="431.0" cy="479.8" r="2.1" fill="#ffffff" stroke="#d6edd2" stroke-width="0.5"/>
<circle cx="449.6" cy="472.3" r="2.1" fill="#cfd3ce" stroke="#66b85f" stroke-width="0.5"/>
<circle cx="600.3" cy="483.3" r="2.1" fill="#ffffff" stroke="#ece3f3" stroke-width="0.5"/>
<circle cx="524.8" cy="495.5" r="2.1" fill="#fff" stroke="#c4c4c4" stroke-width="0.45"/>
<circle cx="582.9" cy="487.0" r="2.1" fill="#f9f9fa" stroke="#e4d6ee" stroke-width="0.5"/>
<circle cx="513.4" cy="501.2" r="2.1" fill="#fff" stroke="#c4c4c4" stroke-width="0.45"/>
<circle cx="504.4" cy="505.3" r="2.1" fill="#fff" stroke="#c4c4c4" stroke-width="0.45"/>
<circle cx="595.4" cy="472.2" r="2.1" fill="#d6d3d9" stroke="#b28ad0" stroke-width="0.5"/>
<circle cx="526.9" cy="503.4" r="2.1" fill="#fff" stroke="#c4c4c4" stroke-width="0.45"/>
<circle cx="587.1" cy="478.9" r="2.1" fill="#e6e4e7" stroke="#c8acdd" stroke-width="0.5"/>
<circle cx="517.6" cy="495.9" r="2.1" fill="#fff" stroke="#c4c4c4" stroke-width="0.45"/>
<circle cx="534.8" cy="502.8" r="2.1" fill="#fff" stroke="#c4c4c4" stroke-width="0.45"/>
<circle cx="439.2" cy="472.6" r="2.1" fill="#cfd3ce" stroke="#66b85f" stroke-width="0.5"/>
<circle cx="468.3" cy="492.1" r="2.1" fill="#ffffff" stroke="#d6edd2" stroke-width="0.5"/>
<circle cx="457.6" cy="486.0" r="2.1" fill="#f7f8f7" stroke="#c4e4bf" stroke-width="0.5"/>
<circle cx="503.5" cy="480.5" r="2.1" fill="#fff" stroke="#c4c4c4" stroke-width="0.45"/>
<circle cx="429.2" cy="479.3" r="2.1" fill="#ffffff" stroke="#d5edd1" stroke-width="0.5"/>
<circle cx="596.5" cy="484.5" r="2.1" fill="#ffffff" stroke="#ece3f3" stroke-width="0.5"/>
<circle cx="558.5" cy="487.8" r="2.1" fill="#ebeaed" stroke="#d0b8e2" stroke-width="0.5"/>
<circle cx="502.6" cy="489.2" r="2.1" fill="#fff" stroke="#c4c4c4" stroke-width="0.45"/>
<circle cx="549.4" cy="498.8" r="2.1" fill="#fff" stroke="#c4c4c4" stroke-width="0.45"/>
<circle cx="608.4" cy="470.4" r="2.1" fill="#d6d3d9" stroke="#b28ad0" stroke-width="0.5"/>
<circle cx="570.0" cy="480.6" r="2.1" fill="#e2dfe4" stroke="#c2a3da" stroke-width="0.5"/>
<circle cx="424.6" cy="477.9" r="2.1" fill="#fefefd" stroke="#d3ebce" stroke-width="0.5"/>
<circle cx="573.2" cy="489.5" r="2.1" fill="#f8f7f8" stroke="#e1d3ed" stroke-width="0.5"/>
<circle cx="499.0" cy="443.1" r="2.1" fill="#fff" stroke="#c4c4c4" stroke-width="0.45"/>
<circle cx="510.9" cy="504.3" r="2.1" fill="#fff" stroke="#c4c4c4" stroke-width="0.45"/>
<circle cx="515.6" cy="507.7" r="2.1" fill="#fff" stroke="#c4c4c4" stroke-width="0.45"/>
<circle cx="523.7" cy="508.8" r="2.1" fill="#fff" stroke="#c4c4c4" stroke-width="0.45"/>
<circle cx="513.9" cy="507.6" r="2.1" fill="#fff" stroke="#c4c4c4" stroke-width="0.45"/>
<circle cx="561.0" cy="485.1" r="2.1" fill="#e7e5e9" stroke="#caafdf" stroke-width="0.5"/>
<circle cx="441.4" cy="477.5" r="2.1" fill="#e5e7e5" stroke="#9ad194" stroke-width="0.5"/>
<circle cx="587.7" cy="482.7" r="2.1" fill="#f1f0f2" stroke="#d9c5e7" stroke-width="0.5"/>
<circle cx="464.2" cy="480.9" r="2.1" fill="#e0e3e0" stroke="#8fcb89" stroke-width="0.5"/>
<circle cx="589.2" cy="471.0" r="2.1" fill="#d6d3d9" stroke="#b28ad0" stroke-width="0.5"/>
<circle cx="504.5" cy="485.7" r="2.1" fill="#fff" stroke="#c4c4c4" stroke-width="0.45"/>
<circle cx="464.0" cy="488.9" r="2.1" fill="#fafafa" stroke="#cae7c6" stroke-width="0.5"/>
<circle cx="507.3" cy="476.3" r="2.1" fill="#fff" stroke="#c4c4c4" stroke-width="0.45"/>
<circle cx="564.5" cy="473.8" r="2.1" fill="#d6d3d9" stroke="#b28ad0" stroke-width="0.5"/>
<circle cx="434.6" cy="479.8" r="2.1" fill="#f9faf9" stroke="#c9e7c5" stroke-width="0.5"/>
<circle cx="453.2" cy="486.2" r="2.1" fill="#fdfdfd" stroke="#d2ebce" stroke-width="0.5"/>
<circle cx="438.6" cy="473.0" r="2.1" fill="#d2d5d1" stroke="#6cbb65" stroke-width="0.5"/>
<circle cx="548.9" cy="491.0" r="2.1" fill="#fff" stroke="#c4c4c4" stroke-width="0.45"/>
<circle cx="517.9" cy="500.0" r="2.1" fill="#fff" stroke="#c4c4c4" stroke-width="0.45"/>
<circle cx="551.2" cy="488.5" r="2.1" fill="#e9e8eb" stroke="#cdb4e0" stroke-width="0.5"/>
<circle cx="468.5" cy="490.9" r="2.1" fill="#fbfcfb" stroke="#cee9c9" stroke-width="0.5"/>
<circle cx="435.1" cy="477.4" r="2.1" fill="#ecedeb" stroke="#a9d8a4" stroke-width="0.5"/>
<circle cx="494.1" cy="480.0" r="2.1" fill="#fff" stroke="#c4c4c4" stroke-width="0.45"/>
<circle cx="605.1" cy="478.4" r="2.1" fill="#f1f0f2" stroke="#d8c4e7" stroke-width="0.5"/>
<circle cx="549.7" cy="493.3" r="2.1" fill="#fff" stroke="#c4c4c4" stroke-width="0.45"/>
<circle cx="591.0" cy="476.5" r="2.1" fill="#e1dee3" stroke="#c1a1d9" stroke-width="0.5"/>
<circle cx="563.4" cy="479.7" r="2.1" fill="#dddbe0" stroke="#bc9ad6" stroke-width="0.5"/>
<circle cx="487.7" cy="489.9" r="2.1" fill="#e9ebe9" stroke="#a3d59e" stroke-width="0.5"/>
<circle cx="534.0" cy="486.1" r="2.1" fill="#fff" stroke="#c4c4c4" stroke-width="0.45"/>
<circle cx="528.4" cy="505.3" r="2.1" fill="#fff" stroke="#c4c4c4" stroke-width="0.45"/>
<circle cx="507.5" cy="495.8" r="2.1" fill="#fff" stroke="#c4c4c4" stroke-width="0.45"/>
<circle cx="485.9" cy="494.3" r="2.1" fill="#f5f6f4" stroke="#bee2b9" stroke-width="0.5"/>
<circle cx="440.6" cy="482.4" r="2.1" fill="#fefefe" stroke="#d4ecd0" stroke-width="0.5"/>
<circle cx="547.7" cy="448.2" r="2.1" fill="#fff" stroke="#c4c4c4" stroke-width="0.45"/>
<circle cx="540.2" cy="449.4" r="2.1" fill="#fff" stroke="#c4c4c4" stroke-width="0.45"/>
<circle cx="571.0" cy="493.4" r="2.1" fill="#ffffff" stroke="#ebe2f3" stroke-width="0.5"/>
<circle cx="602.5" cy="478.9" r="2.1" fill="#f1eff2" stroke="#d8c4e7" stroke-width="0.5"/>
<circle cx="540.8" cy="448.5" r="2.1" fill="#fff" stroke="#c4c4c4" stroke-width="0.45"/>
<circle cx="607.6" cy="471.4" r="2.1" fill="#d6d3d9" stroke="#b28ad0" stroke-width="0.5"/>
<circle cx="475.4" cy="478.0" r="2.1" fill="#d2d6d1" stroke="#6dbb66" stroke-width="0.5"/>
<circle cx="549.4" cy="501.4" r="2.1" fill="#fff" stroke="#c4c4c4" stroke-width="0.45"/>
<circle cx="570.7" cy="493.6" r="2.1" fill="#ffffff" stroke="#ece3f3" stroke-width="0.5"/>
<circle cx="583.1" cy="480.8" r="2.1" fill="#e9e7ea" stroke="#ccb2e0" stroke-width="0.5"/>
<circle cx="494.7" cy="490.3" r="2.1" fill="#fff" stroke="#c4c4c4" stroke-width="0.45"/>
<circle cx="513.2" cy="506.7" r="2.1" fill="#fff" stroke="#c4c4c4" stroke-width="0.45"/>
<circle cx="483.9" cy="487.0" r="2.1" fill="#e5e7e4" stroke="#99d093" stroke-width="0.5"/>
<circle cx="524.2" cy="508.7" r="2.1" fill="#fff" stroke="#c4c4c4" stroke-width="0.45"/>
<circle cx="521.7" cy="509.0" r="2.1" fill="#fff" stroke="#c4c4c4" stroke-width="0.45"/>
<circle cx="446.5" cy="476.8" r="2.1" fill="#dee1dd" stroke="#89c883" stroke-width="0.5"/>
<circle cx="496.8" cy="488.6" r="2.1" fill="#fff" stroke="#c4c4c4" stroke-width="0.45"/>
<circle cx="519.2" cy="493.1" r="2.1" fill="#fff" stroke="#c4c4c4" stroke-width="0.45"/>
<circle cx="579.7" cy="490.3" r="2.1" fill="#ffffff" stroke="#ece3f3" stroke-width="0.5"/>
<circle cx="548.0" cy="472.3" r="2.1" fill="#fff" stroke="#c4c4c4" stroke-width="0.45"/>
<circle cx="488.9" cy="491.8" r="2.1" fill="#edeeec" stroke="#abd9a6" stroke-width="0.5"/>
<circle cx="456.6" cy="486.7" r="2.1" fill="#fbfbfb" stroke="#cde9c8" stroke-width="0.5"/>
<circle cx="576.1" cy="487.6" r="2.1" fill="#f5f5f6" stroke="#deceeb" stroke-width="0.5"/>
<circle cx="562.8" cy="496.7" r="2.1" fill="#ffffff" stroke="#ece3f3" stroke-width="0.5"/>
<circle cx="509.4" cy="503.7" r="2.1" fill="#fff" stroke="#c4c4c4" stroke-width="0.45"/>
<circle cx="608.9" cy="475.4" r="2.1" fill="#e7e6e9" stroke="#cbb0df" stroke-width="0.5"/>
<circle cx="590.1" cy="474.4" r="2.1" fill="#dad7dc" stroke="#b792d3" stroke-width="0.5"/>
<circle cx="525.0" cy="501.9" r="2.1" fill="#fff" stroke="#c4c4c4" stroke-width="0.45"/>
<circle cx="461.9" cy="473.5" r="2.1" fill="#cfd3ce" stroke="#66b85f" stroke-width="0.5"/>
<circle cx="444.6" cy="483.8" r="2.1" fill="#ffffff" stroke="#d6edd2" stroke-width="0.5"/>
<circle cx="554.2" cy="499.9" r="2.1" fill="#ffffff" stroke="#ece3f3" stroke-width="0.5"/>
<circle cx="594.5" cy="483.6" r="2.1" fill="#fafafa" stroke="#e5d8ef" stroke-width="0.5"/>
<circle cx="592.4" cy="482.7" r="2.1" fill="#f5f4f6" stroke="#decdea" stroke-width="0.5"/>
<circle cx="553.1" cy="495.2" r="2.1" fill="#f6f5f7" stroke="#dfcfeb" stroke-width="0.5"/>
<circle cx="548.9" cy="500.6" r="2.1" fill="#fff" stroke="#c4c4c4" stroke-width="0.45"/>
<circle cx="455.2" cy="485.0" r="2.1" fill="#f6f7f6" stroke="#c2e3bd" stroke-width="0.5"/>
<circle cx="597.2" cy="483.8" r="2.1" fill="#fdfdfd" stroke="#e9dff1" stroke-width="0.5"/>
<circle cx="533.7" cy="505.5" r="2.1" fill="#fff" stroke="#c4c4c4" stroke-width="0.45"/>
<circle cx="478.6" cy="492.2" r="2.1" fill="#f5f6f5" stroke="#c0e2bb" stroke-width="0.5"/>
<circle cx="454.3" cy="472.8" r="2.1" fill="#cfd3ce" stroke="#66b85f" stroke-width="0.5"/>
<circle cx="453.0" cy="482.8" r="2.1" fill="#f0f2f0" stroke="#b4ddaf" stroke-width="0.5"/>
<circle cx="437.6" cy="479.6" r="2.1" fill="#f4f5f4" stroke="#bde1b8" stroke-width="0.5"/>
<circle cx="564.9" cy="492.6" r="2.1" fill="#f8f8f9" stroke="#e3d5ed" stroke-width="0.5"/>
<circle cx="604.1" cy="481.8" r="2.1" fill="#fefefe" stroke="#eae1f2" stroke-width="0.5"/>
<circle cx="459.4" cy="477.9" r="2.1" fill="#d9ddd9" stroke="#7ec478" stroke-width="0.5"/>
<circle cx="471.7" cy="486.7" r="2.1" fill="#eceeec" stroke="#aad8a5" stroke-width="0.5"/>
<circle cx="559.6" cy="474.8" r="2.1" fill="#d6d3d9" stroke="#b28ad0" stroke-width="0.5"/>
<circle cx="481.8" cy="481.0" r="2.1" fill="#d7dbd6" stroke="#79c173" stroke-width="0.5"/>
<circle cx="525.5" cy="504.3" r="2.1" fill="#fff" stroke="#c4c4c4" stroke-width="0.45"/>
<circle cx="444.0" cy="483.5" r="2.1" fill="#fefefe" stroke="#d5ecd1" stroke-width="0.5"/>
<circle cx="595.3" cy="479.1" r="2.1" fill="#ebeaed" stroke="#d0b8e2" stroke-width="0.5"/>
<circle cx="435.1" cy="475.3" r="2.1" fill="#e0e2df" stroke="#8dcb87" stroke-width="0.5"/>
<circle cx="509.0" cy="502.7" r="2.1" fill="#fff" stroke="#c4c4c4" stroke-width="0.45"/>
<circle cx="510.4" cy="479.7" r="2.1" fill="#fff" stroke="#c4c4c4" stroke-width="0.45"/>
<circle cx="544.7" cy="492.3" r="2.1" fill="#fff" stroke="#c4c4c4" stroke-width="0.45"/>
<circle cx="564.2" cy="496.1" r="2.1" fill="#ffffff" stroke="#ece3f3" stroke-width="0.5"/>
<circle cx="513.3" cy="493.9" r="2.1" fill="#fff" stroke="#c4c4c4" stroke-width="0.45"/>
<circle cx="530.9" cy="483.3" r="2.1" fill="#fff" stroke="#c4c4c4" stroke-width="0.45"/>
<circle cx="459.9" cy="488.0" r="2.1" fill="#fcfcfc" stroke="#cfe9ca" stroke-width="0.5"/>
<circle cx="510.6" cy="485.2" r="2.1" fill="#fff" stroke="#c4c4c4" stroke-width="0.45"/>
<circle cx="564.5" cy="491.1" r="2.1" fill="#f5f4f6" stroke="#decdea" stroke-width="0.5"/>
<circle cx="511.8" cy="498.8" r="2.1" fill="#fff" stroke="#c4c4c4" stroke-width="0.45"/>
<circle cx="503.9" cy="495.5" r="2.1" fill="#fff" stroke="#c4c4c4" stroke-width="0.45"/>
<circle cx="451.6" cy="472.8" r="2.1" fill="#cfd3ce" stroke="#66b85f" stroke-width="0.5"/>
<circle cx="581.4" cy="487.5" r="2.1" fill="#f9f9fa" stroke="#e4d6ee" stroke-width="0.5"/>
<circle cx="493.2" cy="494.9" r="2.1" fill="#fff" stroke="#c4c4c4" stroke-width="0.45"/>
<circle cx="555.6" cy="499.2" r="2.1" fill="#ffffff" stroke="#ebe2f3" stroke-width="0.5"/>
<circle cx="513.1" cy="504.7" r="2.1" fill="#fff" stroke="#c4c4c4" stroke-width="0.45"/>
<circle cx="482.7" cy="497.2" r="2.1" fill="#fefefe" stroke="#d4ecd0" stroke-width="0.5"/>
<circle cx="530.4" cy="504.3" r="2.1" fill="#fff" stroke="#c4c4c4" stroke-width="0.45"/>
<circle cx="545.4" cy="502.6" r="2.1" fill="#fff" stroke="#c4c4c4" stroke-width="0.45"/>
<circle cx="513.4" cy="502.6" r="2.1" fill="#fff" stroke="#c4c4c4" stroke-width="0.45"/>
<circle cx="537.8" cy="505.5" r="2.1" fill="#fff" stroke="#c4c4c4" stroke-width="0.45"/>
<circle cx="567.6" cy="482.0" r="2.1" fill="#e4e2e6" stroke="#c5a8dc" stroke-width="0.5"/>
<circle cx="459.9" cy="488.2" r="2.1" fill="#fcfcfc" stroke="#cfeacb" stroke-width="0.5"/>
<circle cx="572.8" cy="492.8" r="2.1" fill="#ffffff" stroke="#ece3f3" stroke-width="0.5"/>
<circle cx="527.1" cy="506.6" r="2.1" fill="#fff" stroke="#c4c4c4" stroke-width="0.45"/>
<circle cx="437.1" cy="480.6" r="2.1" fill="#fafbfa" stroke="#cbe8c7" stroke-width="0.5"/>
<circle cx="482.8" cy="497.4" r="2.1" fill="#ffffff" stroke="#d5edd1" stroke-width="0.5"/>
<circle cx="546.7" cy="446.3" r="2.1" fill="#fff" stroke="#c4c4c4" stroke-width="0.45"/>
<circle cx="443.1" cy="469.4" r="2.1" fill="#cfd3ce" stroke="#66b85f" stroke-width="0.5"/>
<circle cx="602.9" cy="481.7" r="2.1" fill="#fcfcfc" stroke="#e7dcf0" stroke-width="0.5"/>
<circle cx="440.4" cy="473.3" r="2.1" fill="#d2d6d1" stroke="#6dbb66" stroke-width="0.5"/>
<circle cx="525.8" cy="494.0" r="2.1" fill="#fff" stroke="#c4c4c4" stroke-width="0.45"/>
<circle cx="586.1" cy="487.7" r="2.1" fill="#fefefe" stroke="#ebe1f2" stroke-width="0.5"/>
<circle cx="521.2" cy="506.7" r="2.1" fill="#fff" stroke="#c4c4c4" stroke-width="0.45"/>
<circle cx="499.9" cy="502.5" r="2.1" fill="#fff" stroke="#c4c4c4" stroke-width="0.45"/>
<circle cx="531.0" cy="507.0" r="2.1" fill="#fff" stroke="#c4c4c4" stroke-width="0.45"/>
<circle cx="546.4" cy="502.5" r="2.1" fill="#fff" stroke="#c4c4c4" stroke-width="0.45"/>
<circle cx="581.1" cy="485.6" r="2.1" fill="#f4f3f5" stroke="#dccbea" stroke-width="0.5"/>
<circle cx="491.4" cy="487.4" r="2.1" fill="#e2e4e1" stroke="#91cd8c" stroke-width="0.5"/>
<circle cx="505.5" cy="505.6" r="2.1" fill="#fff" stroke="#c4c4c4" stroke-width="0.45"/>
<circle cx="470.3" cy="489.7" r="2.1" fill="#f6f7f6" stroke="#c1e3bd" stroke-width="0.5"/>
<circle cx="465.2" cy="470.7" r="2.1" fill="#cfd3ce" stroke="#66b85f" stroke-width="0.5"/>
<circle cx="515.2" cy="500.8" r="2.1" fill="#fff" stroke="#c4c4c4" stroke-width="0.45"/>
<circle cx="532.1" cy="505.4" r="2.1" fill="#fff" stroke="#c4c4c4" stroke-width="0.45"/>
<circle cx="513.8" cy="500.3" r="2.1" fill="#fff" stroke="#c4c4c4" stroke-width="0.45"/>
<circle cx="535.1" cy="489.4" r="2.1" fill="#fff" stroke="#c4c4c4" stroke-width="0.45"/>
<circle cx="606.5" cy="481.0" r="2.1" fill="#fdfdfd" stroke="#eadff2" stroke-width="0.5"/>
<circle cx="511.9" cy="496.2" r="2.1" fill="#fff" stroke="#c4c4c4" stroke-width="0.45"/>
<circle cx="441.7" cy="478.4" r="2.1" fill="#e9ebe9" stroke="#a3d59e" stroke-width="0.5"/>
<circle cx="458.7" cy="476.2" r="2.1" fill="#d4d8d3" stroke="#72be6b" stroke-width="0.5"/>
<circle cx="550.5" cy="498.3" r="2.1" fill="#fff" stroke="#c4c4c4" stroke-width="0.45"/>
<circle cx="502.2" cy="502.9" r="2.1" fill="#fff" stroke="#c4c4c4" stroke-width="0.45"/>
<circle cx="587.6" cy="482.7" r="2.1" fill="#f1f0f2" stroke="#d8c5e7" stroke-width="0.5"/>
<circle cx="477.8" cy="494.5" r="2.1" fill="#fcfcfc" stroke="#cfeacb" stroke-width="0.5"/>
<circle cx="499.2" cy="495.7" r="2.1" fill="#fff" stroke="#c4c4c4" stroke-width="0.45"/>
<circle cx="457.4" cy="468.7" r="2.1" fill="#cfd3ce" stroke="#66b85f" stroke-width="0.5"/>
<circle cx="575.5" cy="486.5" r="2.1" fill="#f2f1f3" stroke="#dac7e8" stroke-width="0.5"/>
<circle cx="436.1" cy="475.6" r="2.1" fill="#e1e3e0" stroke="#90cc8a" stroke-width="0.5"/>
<circle cx="525.7" cy="508.1" r="2.1" fill="#fff" stroke="#c4c4c4" stroke-width="0.45"/>
<circle cx="430.7" cy="475.3" r="2.1" fill="#e4e6e4" stroke="#97cf92" stroke-width="0.5"/>
<circle cx="581.5" cy="488.3" r="2.1" fill="#fcfbfc" stroke="#e7dbf0" stroke-width="0.5"/>
<circle cx="504.2" cy="486.7" r="2.1" fill="#fff" stroke="#c4c4c4" stroke-width="0.45"/>
<circle cx="446.6" cy="479.7" r="2.1" fill="#eaecea" stroke="#a5d6a0" stroke-width="0.5"/>
<circle cx="521.6" cy="505.6" r="2.1" fill="#fff" stroke="#c4c4c4" stroke-width="0.45"/>
<circle cx="456.8" cy="483.3" r="2.1" fill="#eff0ee" stroke="#b0dbab" stroke-width="0.5"/>
<circle cx="499.8" cy="482.5" r="2.1" fill="#fff" stroke="#c4c4c4" stroke-width="0.45"/>
<circle cx="543.0" cy="483.0" r="2.1" fill="#fff" stroke="#c4c4c4" stroke-width="0.45"/>
<circle cx="512.1" cy="483.1" r="2.1" fill="#fff" stroke="#c4c4c4" stroke-width="0.45"/>
<circle cx="457.9" cy="485.2" r="2.1" fill="#f4f5f4" stroke="#bde1b8" stroke-width="0.5"/>
<circle cx="457.1" cy="485.0" r="2.1" fill="#f4f5f4" stroke="#bde1b8" stroke-width="0.5"/>
<circle cx="583.9" cy="480.5" r="2.1" fill="#e8e7ea" stroke="#ccb2e0" stroke-width="0.5"/>
<circle cx="592.6" cy="476.8" r="2.1" fill="#e2e0e4" stroke="#c3a4da" stroke-width="0.5"/>
<circle cx="487.1" cy="479.3" r="2.1" fill="#d1d5d0" stroke="#6bba64" stroke-width="0.5"/>
<circle cx="505.6" cy="500.8" r="2.1" fill="#fff" stroke="#c4c4c4" stroke-width="0.45"/>
<circle cx="506.4" cy="499.3" r="2.1" fill="#fff" stroke="#c4c4c4" stroke-width="0.45"/>
<circle cx="542.7" cy="479.7" r="2.1" fill="#fff" stroke="#c4c4c4" stroke-width="0.45"/>
<circle cx="514.4" cy="504.0" r="2.1" fill="#fff" stroke="#c4c4c4" stroke-width="0.45"/>
<circle cx="484.1" cy="496.8" r="2.1" fill="#fcfcfc" stroke="#cfeacb" stroke-width="0.5"/>
<circle cx="571.9" cy="492.2" r="2.1" fill="#fdfcfd" stroke="#e9def1" stroke-width="0.5"/>
<circle cx="461.3" cy="485.6" r="2.1" fill="#f2f3f2" stroke="#b8dfb3" stroke-width="0.5"/>
<circle cx="592.8" cy="477.0" r="2.1" fill="#e3e1e5" stroke="#c4a6db" stroke-width="0.5"/>
<circle cx="440.5" cy="481.3" r="2.1" fill="#f9f9f9" stroke="#c8e6c3" stroke-width="0.5"/>
<circle cx="577.9" cy="482.1" r="2.1" fill="#e9e8eb" stroke="#cdb4e0" stroke-width="0.5"/>
<circle cx="549.2" cy="485.0" r="2.1" fill="#fff" stroke="#c4c4c4" stroke-width="0.45"/>
<circle cx="528.3" cy="494.4" r="2.1" fill="#fff" stroke="#c4c4c4" stroke-width="0.45"/>
<circle cx="550.9" cy="460.6" r="2.1" fill="#fff" stroke="#c4c4c4" stroke-width="0.45"/>
<circle cx="491.1" cy="477.7" r="2.1" fill="#cfd3ce" stroke="#66b85f" stroke-width="0.5"/>
<circle cx="492.7" cy="457.2" r="2.1" fill="#fff" stroke="#c4c4c4" stroke-width="0.45"/>
<circle cx="573.8" cy="488.2" r="2.1" fill="#f5f4f6" stroke="#decdea" stroke-width="0.5"/>
<circle cx="518.4" cy="490.2" r="2.1" fill="#fff" stroke="#c4c4c4" stroke-width="0.45"/>
<circle cx="556.8" cy="497.0" r="2.1" fill="#fbfbfc" stroke="#e7dbf0" stroke-width="0.5"/>
<circle cx="505.8" cy="505.5" r="2.1" fill="#fff" stroke="#c4c4c4" stroke-width="0.45"/>
<circle cx="445.2" cy="469.1" r="2.1" fill="#cfd3ce" stroke="#66b85f" stroke-width="0.5"/>
<circle cx="495.0" cy="502.0" r="2.1" fill="#fff" stroke="#c4c4c4" stroke-width="0.45"/>
<circle cx="494.0" cy="478.1" r="2.1" fill="#fff" stroke="#c4c4c4" stroke-width="0.45"/>
<circle cx="496.5" cy="471.5" r="2.1" fill="#fff" stroke="#c4c4c4" stroke-width="0.45"/>
<circle cx="606.7" cy="478.0" r="2.1" fill="#f1f0f2" stroke="#d8c4e7" stroke-width="0.5"/>
<circle cx="531.6" cy="507.3" r="2.1" fill="#fff" stroke="#c4c4c4" stroke-width="0.45"/>
<circle cx="544.0" cy="445.3" r="2.1" fill="#fff" stroke="#c4c4c4" stroke-width="0.45"/>
<circle cx="565.4" cy="491.3" r="2.1" fill="#f6f5f7" stroke="#dfd0eb" stroke-width="0.5"/>
<circle cx="595.4" cy="484.8" r="2.1" fill="#ffffff" stroke="#ece3f3" stroke-width="0.5"/>
<circle cx="522.4" cy="508.9" r="2.1" fill="#fff" stroke="#c4c4c4" stroke-width="0.45"/>
<circle cx="491.8" cy="497.9" r="2.1" fill="#f8f9f8" stroke="#c6e6c2" stroke-width="0.5"/>
<circle cx="572.5" cy="480.0" r="2.1" fill="#e1dfe4" stroke="#c2a3da" stroke-width="0.5"/>
<circle cx="442.2" cy="473.6" r="2.1" fill="#d2d6d1" stroke="#6dbc67" stroke-width="0.5"/>
<circle cx="454.6" cy="474.9" r="2.1" fill="#d1d5d0" stroke="#6bbb65" stroke-width="0.5"/>
<circle cx="544.5" cy="446.4" r="2.1" fill="#fff" stroke="#c4c4c4" stroke-width="0.45"/>
<circle cx="458.8" cy="486.2" r="2.1" fill="#f7f7f7" stroke="#c3e4be" stroke-width="0.5"/>
<circle cx="570.7" cy="488.7" r="2.1" fill="#f4f3f5" stroke="#dccbea" stroke-width="0.5"/>
<circle cx="495.9" cy="461.7" r="2.1" fill="#fff" stroke="#c4c4c4" stroke-width="0.45"/>
<circle cx="526.4" cy="501.5" r="2.1" fill="#fff" stroke="#c4c4c4" stroke-width="0.45"/>
<circle cx="491.5" cy="482.1" r="2.1" fill="#d6d9d5" stroke="#76c070" stroke-width="0.5"/>
<circle cx="594.8" cy="472.7" r="2.1" fill="#d6d3d9" stroke="#b28ad0" stroke-width="0.5"/>
<circle cx="541.7" cy="494.7" r="2.1" fill="#fff" stroke="#c4c4c4" stroke-width="0.45"/>
<circle cx="481.6" cy="480.1" r="2.1" fill="#d5d9d4" stroke="#74bf6e" stroke-width="0.5"/>
<circle cx="460.4" cy="480.9" r="2.1" fill="#e3e5e2" stroke="#95ce8f" stroke-width="0.5"/>
<circle cx="497.8" cy="469.9" r="2.1" fill="#fff" stroke="#c4c4c4" stroke-width="0.45"/>
<circle cx="543.8" cy="483.2" r="2.1" fill="#fff" stroke="#c4c4c4" stroke-width="0.45"/>
<circle cx="431.9" cy="480.0" r="2.1" fill="#ffffff" stroke="#d5edd1" stroke-width="0.5"/>
<circle cx="533.9" cy="494.2" r="2.1" fill="#fff" stroke="#c4c4c4" stroke-width="0.45"/>
<circle cx="547.7" cy="499.7" r="2.1" fill="#fff" stroke="#c4c4c4" stroke-width="0.45"/>
<circle cx="470.2" cy="478.8" r="2.1" fill="#d7dad6" stroke="#78c172" stroke-width="0.5"/>
<circle cx="476.3" cy="481.3" r="2.1" fill="#daddda" stroke="#81c57a" stroke-width="0.5"/>
<circle cx="540.6" cy="485.4" r="2.1" fill="#fff" stroke="#c4c4c4" stroke-width="0.45"/>
<circle cx="460.6" cy="475.9" r="2.1" fill="#d2d6d1" stroke="#6dbb66" stroke-width="0.5"/>
<circle cx="486.2" cy="498.8" r="2.1" fill="#ffffff" stroke="#d6edd2" stroke-width="0.5"/>
<circle cx="480.2" cy="474.7" r="2.1" fill="#cfd3ce" stroke="#66b85f" stroke-width="0.5"/>
<circle cx="584.1" cy="482.7" r="2.1" fill="#efedf0" stroke="#d5bfe5" stroke-width="0.5"/>
<circle cx="513.0" cy="507.4" r="2.1" fill="#fff" stroke="#c4c4c4" stroke-width="0.45"/>
<circle cx="549.6" cy="468.0" r="2.1" fill="#fff" stroke="#c4c4c4" stroke-width="0.45"/>
<circle cx="565.6" cy="490.7" r="2.1" fill="#f5f4f6" stroke="#decdea" stroke-width="0.5"/>
<circle cx="567.8" cy="482.5" r="2.1" fill="#e5e3e7" stroke="#c7abdd" stroke-width="0.5"/>
<circle cx="573.7" cy="492.5" r="2.1" fill="#ffffff" stroke="#ece3f3" stroke-width="0.5"/>
<circle cx="547.9" cy="491.9" r="2.1" fill="#fff" stroke="#c4c4c4" stroke-width="0.45"/>
<circle cx="504.3" cy="487.7" r="2.1" fill="#fff" stroke="#c4c4c4" stroke-width="0.45"/>
<circle cx="488.6" cy="476.2" r="2.1" fill="#cfd3ce" stroke="#66b85f" stroke-width="0.5"/>
<circle cx="484.0" cy="498.0" r="2.1" fill="#ffffff" stroke="#d6edd2" stroke-width="0.5"/>
<circle cx="544.2" cy="499.7" r="2.1" fill="#fff" stroke="#c4c4c4" stroke-width="0.45"/>
<circle cx="521.4" cy="504.4" r="2.1" fill="#fff" stroke="#c4c4c4" stroke-width="0.45"/>
<circle cx="520.1" cy="508.6" r="2.1" fill="#fff" stroke="#c4c4c4" stroke-width="0.45"/>
<circle cx="589.9" cy="482.8" r="2.1" fill="#f3f2f4" stroke="#dbc9e9" stroke-width="0.5"/>
<circle cx="533.6" cy="467.1" r="2.1" fill="#fff" stroke="#c4c4c4" stroke-width="0.45"/>
<circle cx="439.5" cy="473.1" r="2.1" fill="#d1d5d0" stroke="#6cbb65" stroke-width="0.5"/>
<circle cx="567.3" cy="473.7" r="2.1" fill="#d6d3d9" stroke="#b28ad0" stroke-width="0.5"/>
<circle cx="524.5" cy="498.2" r="2.1" fill="#fff" stroke="#c4c4c4" stroke-width="0.45"/>
<circle cx="484.0" cy="496.1" r="2.1" fill="#fafbfa" stroke="#cbe8c7" stroke-width="0.5"/>
<circle cx="472.1" cy="489.6" r="2.1" fill="#f4f5f4" stroke="#bde1b8" stroke-width="0.5"/>
<circle cx="498.1" cy="502.7" r="2.1" fill="#fff" stroke="#c4c4c4" stroke-width="0.45"/>
<circle cx="578.4" cy="471.7" r="2.1" fill="#d6d3d9" stroke="#b28ad0" stroke-width="0.5"/>
<circle cx="550.6" cy="477.2" r="2.1" fill="#fff" stroke="#c4c4c4" stroke-width="0.45"/>
<circle cx="563.9" cy="487.2" r="2.1" fill="#edebee" stroke="#d2bbe3" stroke-width="0.5"/>
<circle cx="461.9" cy="488.1" r="2.1" fill="#fafafa" stroke="#cae7c6" stroke-width="0.5"/>
<circle cx="545.7" cy="480.3" r="2.1" fill="#fff" stroke="#c4c4c4" stroke-width="0.45"/>
<circle cx="531.1" cy="502.1" r="2.1" fill="#fff" stroke="#c4c4c4" stroke-width="0.45"/>
<circle cx="514.2" cy="507.9" r="2.1" fill="#fff" stroke="#c4c4c4" stroke-width="0.45"/>
<circle cx="547.6" cy="493.3" r="2.1" fill="#fff" stroke="#c4c4c4" stroke-width="0.45"/>
<circle cx="512.9" cy="507.6" r="2.1" fill="#fff" stroke="#c4c4c4" stroke-width="0.45"/>
<circle cx="458.1" cy="484.7" r="2.1" fill="#f2f3f2" stroke="#b8dfb3" stroke-width="0.5"/>
<circle cx="509.1" cy="506.6" r="2.1" fill="#fff" stroke="#c4c4c4" stroke-width="0.45"/>
<circle cx="491.0" cy="476.7" r="2.1" fill="#cfd3ce" stroke="#66b85f" stroke-width="0.5"/>
<circle cx="542.6" cy="498.5" r="2.1" fill="#fff" stroke="#c4c4c4" stroke-width="0.45"/>
<circle cx="554.5" cy="499.1" r="2.1" fill="#fefefe" stroke="#eae0f2" stroke-width="0.5"/>
<circle cx="544.9" cy="463.1" r="2.1" fill="#fff" stroke="#c4c4c4" stroke-width="0.45"/>
<circle cx="542.7" cy="494.7" r="2.1" fill="#fff" stroke="#c4c4c4" stroke-width="0.45"/>
<circle cx="546.6" cy="502.5" r="2.1" fill="#fff" stroke="#c4c4c4" stroke-width="0.45"/>
<circle cx="567.4" cy="494.8" r="2.1" fill="#ffffff" stroke="#ece3f3" stroke-width="0.5"/>
<circle cx="490.2" cy="487.6" r="2.1" fill="#e3e5e2" stroke="#94ce8f" stroke-width="0.5"/>
<circle cx="499.7" cy="503.5" r="2.1" fill="#fff" stroke="#c4c4c4" stroke-width="0.45"/>
<circle cx="577.0" cy="490.4" r="2.1" fill="#fdfdfd" stroke="#e9def1" stroke-width="0.5"/>
<circle cx="453.4" cy="483.0" r="2.1" fill="#f1f2f0" stroke="#b5ddb0" stroke-width="0.5"/>
<circle cx="548.7" cy="493.7" r="2.1" fill="#fff" stroke="#c4c4c4" stroke-width="0.45"/>
<circle cx="471.3" cy="477.3" r="2.1" fill="#d2d6d1" stroke="#6cbb66" stroke-width="0.5"/>
<circle cx="472.2" cy="492.4" r="2.1" fill="#fcfcfc" stroke="#cfeacb" stroke-width="0.5"/>
<circle cx="569.5" cy="485.1" r="2.1" fill="#ebeaed" stroke="#d0b8e2" stroke-width="0.5"/>
<circle cx="547.9" cy="502.2" r="2.1" fill="#fff" stroke="#c4c4c4" stroke-width="0.45"/>
<circle cx="606.8" cy="480.5" r="2.1" fill="#fbfbfc" stroke="#e7dbf0" stroke-width="0.5"/>
<circle cx="519.6" cy="508.6" r="2.1" fill="#fff" stroke="#c4c4c4" stroke-width="0.45"/>
<circle cx="513.4" cy="476.1" r="2.1" fill="#fff" stroke="#c4c4c4" stroke-width="0.45"/>
<circle cx="591.7" cy="482.5" r="2.1" fill="#f4f3f5" stroke="#dccbe9" stroke-width="0.5"/>
<circle cx="593.7" cy="483.0" r="2.1" fill="#f7f7f8" stroke="#e1d2ec" stroke-width="0.5"/>
<circle cx="551.3" cy="496.1" r="2.1" fill="#f7f6f7" stroke="#e0d1ec" stroke-width="0.5"/>
<circle cx="514.8" cy="498.1" r="2.1" fill="#fff" stroke="#c4c4c4" stroke-width="0.45"/>
<circle cx="580.4" cy="486.2" r="2.1" fill="#f5f4f6" stroke="#decdeb" stroke-width="0.5"/>
<circle cx="425.7" cy="476.2" r="2.1" fill="#f0f2f0" stroke="#b4ddaf" stroke-width="0.5"/>
<circle cx="558.2" cy="493.4" r="2.1" fill="#f6f5f6" stroke="#dfcfeb" stroke-width="0.5"/>
<circle cx="500.8" cy="479.4" r="2.1" fill="#fff" stroke="#c4c4c4" stroke-width="0.45"/>
<circle cx="490.5" cy="488.8" r="2.1" fill="#e5e7e5" stroke="#9ad194" stroke-width="0.5"/>
<circle cx="584.8" cy="488.4" r="2.1" fill="#ffffff" stroke="#ece3f3" stroke-width="0.5"/>
<circle cx="486.4" cy="474.8" r="2.1" fill="#cfd3ce" stroke="#66b85f" stroke-width="0.5"/>
<circle cx="541.9" cy="494.3" r="2.1" fill="#fff" stroke="#c4c4c4" stroke-width="0.45"/>
<circle cx="497.3" cy="451.2" r="2.1" fill="#fff" stroke="#c4c4c4" stroke-width="0.45"/>
<circle cx="589.9" cy="484.5" r="2.1" fill="#f8f8f9" stroke="#e3d4ed" stroke-width="0.5"/>
<circle cx="497.2" cy="502.9" r="2.1" fill="#fff" stroke="#c4c4c4" stroke-width="0.45"/>
<circle cx="430.9" cy="476.1" r="2.1" fill="#e9ebe8" stroke="#a2d59d" stroke-width="0.5"/>
<circle cx="483.2" cy="471.5" r="2.1" fill="#cfd3ce" stroke="#66b85f" stroke-width="0.5"/>
<circle cx="437.5" cy="474.7" r="2.1" fill="#dbdeda" stroke="#81c57b" stroke-width="0.5"/>
<circle cx="578.6" cy="490.3" r="2.1" fill="#fefefe" stroke="#ebe1f2" stroke-width="0.5"/>
<circle cx="452.8" cy="482.1" r="2.1" fill="#eeefee" stroke="#aedaa9" stroke-width="0.5"/>
<circle cx="525.8" cy="489.6" r="2.1" fill="#fff" stroke="#c4c4c4" stroke-width="0.45"/>
<circle cx="450.7" cy="478.1" r="2.1" fill="#e0e3df" stroke="#8ecb88" stroke-width="0.5"/>
<circle cx="530.5" cy="485.3" r="2.1" fill="#fff" stroke="#c4c4c4" stroke-width="0.45"/>
<circle cx="442.6" cy="479.6" r="2.1" fill="#eef0ee" stroke="#afdaaa" stroke-width="0.5"/>
<circle cx="489.2" cy="490.9" r="2.1" fill="#ebecea" stroke="#a6d6a1" stroke-width="0.5"/>
<circle cx="532.5" cy="471.9" r="2.1" fill="#fff" stroke="#c4c4c4" stroke-width="0.45"/>
<circle cx="551.5" cy="500.3" r="2.1" fill="#fefefe" stroke="#eae1f2" stroke-width="0.5"/>
<circle cx="547.3" cy="501.9" r="2.1" fill="#fff" stroke="#c4c4c4" stroke-width="0.45"/>
<circle cx="541.6" cy="503.7" r="2.1" fill="#fff" stroke="#c4c4c4" stroke-width="0.45"/>
<circle cx="542.7" cy="494.8" r="2.1" fill="#fff" stroke="#c4c4c4" stroke-width="0.45"/>
<circle cx="543.1" cy="499.3" r="2.1" fill="#fff" stroke="#c4c4c4" stroke-width="0.45"/>
<circle cx="532.4" cy="506.9" r="2.1" fill="#fff" stroke="#c4c4c4" stroke-width="0.45"/>
<circle cx="482.3" cy="475.6" r="2.1" fill="#cfd3ce" stroke="#66b85f" stroke-width="0.5"/>
<circle cx="433.3" cy="480.4" r="2.1" fill="#ffffff" stroke="#d6edd2" stroke-width="0.5"/>
<circle cx="500.1" cy="312.6" r="2.2" fill="#fff" stroke="#c2c2c2" stroke-width="0.55"/>
<circle cx="495.4" cy="332.1" r="2.2" fill="#fff" stroke="#c2c2c2" stroke-width="0.55"/>
<circle cx="498.7" cy="400.7" r="2.2" fill="#fff" stroke="#c2c2c2" stroke-width="0.55"/>
<circle cx="507.0" cy="403.4" r="2.2" fill="#fff" stroke="#c2c2c2" stroke-width="0.55"/>
<circle cx="497.6" cy="439.6" r="2.2" fill="#fff" stroke="#c2c2c2" stroke-width="0.55"/>
<circle cx="503.5" cy="446.3" r="2.2" fill="#fff" stroke="#c2c2c2" stroke-width="0.55"/>
<circle cx="510.3" cy="403.0" r="2.2" fill="#fff" stroke="#c2c2c2" stroke-width="0.55"/>
<circle cx="535.9" cy="425.1" r="2.2" fill="#fff" stroke="#c2c2c2" stroke-width="0.55"/>
<circle cx="543.2" cy="437.3" r="2.2" fill="#fff" stroke="#c2c2c2" stroke-width="0.55"/>
<circle cx="542.4" cy="411.6" r="2.2" fill="#fff" stroke="#c2c2c2" stroke-width="0.55"/>
<circle cx="536.5" cy="454.8" r="2.2" fill="#fff" stroke="#c2c2c2" stroke-width="0.55"/>
<circle cx="540.0" cy="447.5" r="2.2" fill="#fff" stroke="#c2c2c2" stroke-width="0.55"/>
<circle cx="495.0" cy="455.0" r="2.2" fill="#fff" stroke="#c2c2c2" stroke-width="0.55"/>
<circle cx="500.0" cy="462.0" r="2.2" fill="#fff" stroke="#c2c2c2" stroke-width="0.55"/>
<circle cx="506.0" cy="458.0" r="2.2" fill="#fff" stroke="#c2c2c2" stroke-width="0.55"/>
<circle cx="512.0" cy="465.0" r="2.2" fill="#fff" stroke="#c2c2c2" stroke-width="0.55"/>
<circle cx="530.0" cy="462.0" r="2.2" fill="#fff" stroke="#c2c2c2" stroke-width="0.55"/>
<circle cx="538.0" cy="466.0" r="2.2" fill="#fff" stroke="#c2c2c2" stroke-width="0.55"/>
<circle cx="545.0" cy="460.0" r="2.2" fill="#fff" stroke="#c2c2c2" stroke-width="0.55"/>
<circle cx="502.0" cy="470.0" r="2.2" fill="#fff" stroke="#c2c2c2" stroke-width="0.55"/>
<circle cx="533.0" cy="472.0" r="2.2" fill="#fff" stroke="#c2c2c2" stroke-width="0.55"/>
<circle cx="540.0" cy="476.0" r="2.2" fill="#fff" stroke="#c2c2c2" stroke-width="0.55"/>
<circle cx="496.0" cy="478.0" r="2.2" fill="#fff" stroke="#c2c2c2" stroke-width="0.55"/>
<circle cx="545.0" cy="480.0" r="2.2" fill="#fff" stroke="#c2c2c2" stroke-width="0.55"/>
<circle cx="549.0" cy="470.0" r="2.2" fill="#fff" stroke="#c2c2c2" stroke-width="0.55"/>
<circle cx="552.7" cy="313.1" r="2.2" fill="#fff" stroke="#b79ccc" stroke-width="0.6"/>
<circle cx="448.7" cy="315.8" r="2.35" fill="#b4b9b3" stroke="#3b8a47" stroke-width="0.75"/>
<circle cx="458.0" cy="312.6" r="2.35" fill="#b4b9b3" stroke="#3b8a47" stroke-width="0.75"/>
<circle cx="489.0" cy="312.6" r="2.35" fill="#b4b9b3" stroke="#3b8a47" stroke-width="0.75"/>
<circle cx="477.9" cy="329.2" r="2.35" fill="#b4b9b3" stroke="#3b8a47" stroke-width="0.75"/>
<circle cx="484.4" cy="362.0" r="2.35" fill="#b4b9b3" stroke="#3b8a47" stroke-width="0.75"/>
<circle cx="469.4" cy="381.6" r="2.35" fill="#b4b9b3" stroke="#3b8a47" stroke-width="0.75"/>
<circle cx="422.3" cy="390.9" r="2.35" fill="#b4b9b3" stroke="#3b8a47" stroke-width="0.75"/>
<circle cx="485.8" cy="389.7" r="2.35" fill="#b4b9b3" stroke="#3b8a47" stroke-width="0.75"/>
<circle cx="375.5" cy="393.7" r="2.35" fill="#b4b9b3" stroke="#3b8a47" stroke-width="0.75"/>
<circle cx="478.6" cy="396.3" r="2.35" fill="#b4b9b3" stroke="#3b8a47" stroke-width="0.75"/>
<circle cx="488.7" cy="396.0" r="2.35" fill="#b4b9b3" stroke="#3b8a47" stroke-width="0.75"/>
<circle cx="486.5" cy="400.2" r="2.35" fill="#b4b9b3" stroke="#3b8a47" stroke-width="0.75"/>
<circle cx="491.1" cy="400.0" r="2.35" fill="#b4b9b3" stroke="#3b8a47" stroke-width="0.75"/>
<circle cx="456.7" cy="400.9" r="2.35" fill="#b4b9b3" stroke="#3b8a47" stroke-width="0.75"/>
<circle cx="467.1" cy="405.7" r="2.35" fill="#b4b9b3" stroke="#3b8a47" stroke-width="0.75"/>
<circle cx="444.1" cy="413.1" r="2.35" fill="#b4b9b3" stroke="#3b8a47" stroke-width="0.75"/>
<circle cx="468.4" cy="415.3" r="2.35" fill="#b4b9b3" stroke="#3b8a47" stroke-width="0.75"/>
<circle cx="460.0" cy="423.9" r="2.35" fill="#b4b9b3" stroke="#3b8a47" stroke-width="0.75"/>
<circle cx="477.6" cy="421.9" r="2.35" fill="#b4b9b3" stroke="#3b8a47" stroke-width="0.75"/>
<circle cx="490.4" cy="432.8" r="2.35" fill="#b4b9b3" stroke="#3b8a47" stroke-width="0.75"/>
<circle cx="485.2" cy="435.7" r="2.35" fill="#b4b9b3" stroke="#3b8a47" stroke-width="0.75"/>
<circle cx="455.9" cy="438.6" r="2.35" fill="#b4b9b3" stroke="#3b8a47" stroke-width="0.75"/>
<circle cx="469.4" cy="440.5" r="2.35" fill="#b4b9b3" stroke="#3b8a47" stroke-width="0.75"/>
<circle cx="409.2" cy="436.1" r="2.35" fill="#b4b9b3" stroke="#3b8a47" stroke-width="0.75"/>
<circle cx="396.8" cy="445.5" r="2.35" fill="#b4b9b3" stroke="#3b8a47" stroke-width="0.75"/>
<circle cx="390.4" cy="447.1" r="2.35" fill="#b4b9b3" stroke="#3b8a47" stroke-width="0.75"/>
<circle cx="482.3" cy="447.7" r="2.35" fill="#b4b9b3" stroke="#3b8a47" stroke-width="0.75"/>
<circle cx="430.5" cy="449.5" r="2.35" fill="#b4b9b3" stroke="#3b8a47" stroke-width="0.75"/>
<circle cx="462.6" cy="452.5" r="2.35" fill="#b4b9b3" stroke="#3b8a47" stroke-width="0.75"/>
<circle cx="452.9" cy="452.2" r="2.35" fill="#b4b9b3" stroke="#3b8a47" stroke-width="0.75"/>
<circle cx="457.0" cy="455.5" r="2.35" fill="#b4b9b3" stroke="#3b8a47" stroke-width="0.75"/>
<circle cx="487.1" cy="452.5" r="2.35" fill="#b4b9b3" stroke="#3b8a47" stroke-width="0.75"/>
<circle cx="490.1" cy="454.8" r="2.35" fill="#b4b9b3" stroke="#3b8a47" stroke-width="0.75"/>
<circle cx="472.8" cy="456.0" r="2.35" fill="#b4b9b3" stroke="#3b8a47" stroke-width="0.75"/>
<circle cx="411.3" cy="459.3" r="2.35" fill="#b4b9b3" stroke="#3b8a47" stroke-width="0.75"/>
<circle cx="418.0" cy="461.1" r="2.35" fill="#b4b9b3" stroke="#3b8a47" stroke-width="0.75"/>
<circle cx="428.5" cy="460.5" r="2.35" fill="#b4b9b3" stroke="#3b8a47" stroke-width="0.75"/>
<circle cx="433.3" cy="459.3" r="2.35" fill="#b4b9b3" stroke="#3b8a47" stroke-width="0.75"/>
<circle cx="446.1" cy="460.8" r="2.35" fill="#b4b9b3" stroke="#3b8a47" stroke-width="0.75"/>
<circle cx="457.0" cy="458.5" r="2.35" fill="#b4b9b3" stroke="#3b8a47" stroke-width="0.75"/>
<circle cx="439.0" cy="465.7" r="2.35" fill="#b4b9b3" stroke="#3b8a47" stroke-width="0.75"/>
<circle cx="443.5" cy="466.5" r="2.35" fill="#b4b9b3" stroke="#3b8a47" stroke-width="0.75"/>
<circle cx="451.4" cy="466.5" r="2.35" fill="#b4b9b3" stroke="#3b8a47" stroke-width="0.75"/>
<circle cx="454.4" cy="462.0" r="2.35" fill="#b4b9b3" stroke="#3b8a47" stroke-width="0.75"/>
<circle cx="462.3" cy="466.0" r="2.35" fill="#b4b9b3" stroke="#3b8a47" stroke-width="0.75"/>
<circle cx="473.6" cy="469.0" r="2.35" fill="#b4b9b3" stroke="#3b8a47" stroke-width="0.75"/>
<circle cx="478.4" cy="467.2" r="2.35" fill="#b4b9b3" stroke="#3b8a47" stroke-width="0.75"/>
<circle cx="487.1" cy="462.3" r="2.35" fill="#b4b9b3" stroke="#3b8a47" stroke-width="0.75"/>
<circle cx="489.8" cy="461.5" r="2.35" fill="#b4b9b3" stroke="#3b8a47" stroke-width="0.75"/>
<circle cx="439.8" cy="471.3" r="2.35" fill="#b4b9b3" stroke="#3b8a47" stroke-width="0.75"/>
<circle cx="492.5" cy="444.0" r="2.35" fill="#b4b9b3" stroke="#3b8a47" stroke-width="0.75"/>
<circle cx="480.0" cy="460.0" r="2.35" fill="#b4b9b3" stroke="#3b8a47" stroke-width="0.75"/>
<circle cx="586.0" cy="470.4" r="2.35" fill="#d9d3de" stroke="#b596cf" stroke-width="0.6"/>
<circle cx="596.3" cy="474.1" r="2.35" fill="#d9d3de" stroke="#b596cf" stroke-width="0.6"/>
<circle cx="600.0" cy="470.4" r="2.35" fill="#d9d3de" stroke="#b596cf" stroke-width="0.6"/>
<circle cx="552.2" cy="477.9" r="2.35" fill="#d9d3de" stroke="#b596cf" stroke-width="0.6"/>
<circle cx="564.4" cy="476.0" r="2.35" fill="#d9d3de" stroke="#b596cf" stroke-width="0.6"/>
<circle cx="570.0" cy="478.0" r="2.35" fill="#d9d3de" stroke="#b596cf" stroke-width="0.6"/>
<circle cx="580.0" cy="476.0" r="2.35" fill="#d9d3de" stroke="#b596cf" stroke-width="0.6"/>
<circle cx="590.0" cy="477.0" r="2.35" fill="#d9d3de" stroke="#b596cf" stroke-width="0.6"/>
<circle cx="566.2" cy="313.1" r="2.35" fill="#bcaec8" stroke="#6e3a86" stroke-width="0.75"/>
<circle cx="569.7" cy="313.1" r="2.35" fill="#bcaec8" stroke="#6e3a86" stroke-width="0.75"/>
<circle cx="584.3" cy="313.1" r="2.35" fill="#bcaec8" stroke="#6e3a86" stroke-width="0.75"/>
<circle cx="589.7" cy="313.1" r="2.35" fill="#bcaec8" stroke="#6e3a86" stroke-width="0.75"/>
<circle cx="620.2" cy="313.1" r="2.35" fill="#bcaec8" stroke="#6e3a86" stroke-width="0.75"/>
<circle cx="664.7" cy="315.5" r="2.35" fill="#bcaec8" stroke="#6e3a86" stroke-width="0.75"/>
<circle cx="588.6" cy="358.2" r="2.35" fill="#bcaec8" stroke="#6e3a86" stroke-width="0.75"/>
<circle cx="584.3" cy="368.4" r="2.35" fill="#bcaec8" stroke="#6e3a86" stroke-width="0.75"/>
<circle cx="650.7" cy="383.8" r="2.35" fill="#bcaec8" stroke="#6e3a86" stroke-width="0.75"/>
<circle cx="575.6" cy="390.0" r="2.35" fill="#bcaec8" stroke="#6e3a86" stroke-width="0.75"/>
<circle cx="578.3" cy="396.8" r="2.35" fill="#bcaec8" stroke="#6e3a86" stroke-width="0.75"/>
<circle cx="609.4" cy="402.7" r="2.35" fill="#bcaec8" stroke="#6e3a86" stroke-width="0.75"/>
<circle cx="622.9" cy="400.8" r="2.35" fill="#bcaec8" stroke="#6e3a86" stroke-width="0.75"/>
<circle cx="628.3" cy="402.2" r="2.35" fill="#bcaec8" stroke="#6e3a86" stroke-width="0.75"/>
<circle cx="559.4" cy="409.4" r="2.35" fill="#bcaec8" stroke="#6e3a86" stroke-width="0.75"/>
<circle cx="598.6" cy="408.1" r="2.35" fill="#bcaec8" stroke="#6e3a86" stroke-width="0.75"/>
<circle cx="636.4" cy="420.2" r="2.35" fill="#bcaec8" stroke="#6e3a86" stroke-width="0.75"/>
<circle cx="640.4" cy="419.2" r="2.35" fill="#bcaec8" stroke="#6e3a86" stroke-width="0.75"/>
<circle cx="558.9" cy="419.2" r="2.35" fill="#bcaec8" stroke="#6e3a86" stroke-width="0.75"/>
<circle cx="564.8" cy="422.9" r="2.35" fill="#bcaec8" stroke="#6e3a86" stroke-width="0.75"/>
<circle cx="554.8" cy="431.9" r="2.35" fill="#bcaec8" stroke="#6e3a86" stroke-width="0.75"/>
<circle cx="594.5" cy="433.2" r="2.35" fill="#bcaec8" stroke="#6e3a86" stroke-width="0.75"/>
<circle cx="603.4" cy="434.6" r="2.35" fill="#bcaec8" stroke="#6e3a86" stroke-width="0.75"/>
<circle cx="612.9" cy="432.4" r="2.35" fill="#bcaec8" stroke="#6e3a86" stroke-width="0.75"/>
<circle cx="598.6" cy="443.5" r="2.35" fill="#bcaec8" stroke="#6e3a86" stroke-width="0.75"/>
<circle cx="562.9" cy="442.2" r="2.35" fill="#bcaec8" stroke="#6e3a86" stroke-width="0.75"/>
<circle cx="565.3" cy="445.4" r="2.35" fill="#bcaec8" stroke="#6e3a86" stroke-width="0.75"/>
<circle cx="558.9" cy="452.7" r="2.35" fill="#bcaec8" stroke="#6e3a86" stroke-width="0.75"/>
<circle cx="564.8" cy="454.0" r="2.35" fill="#bcaec8" stroke="#6e3a86" stroke-width="0.75"/>
<circle cx="596.7" cy="454.0" r="2.35" fill="#bcaec8" stroke="#6e3a86" stroke-width="0.75"/>
<circle cx="613.4" cy="452.9" r="2.35" fill="#bcaec8" stroke="#6e3a86" stroke-width="0.75"/>
<circle cx="618.0" cy="453.5" r="2.35" fill="#bcaec8" stroke="#6e3a86" stroke-width="0.75"/>
<circle cx="569.4" cy="461.0" r="2.35" fill="#bcaec8" stroke="#6e3a86" stroke-width="0.75"/>
<circle cx="575.1" cy="463.5" r="2.35" fill="#bcaec8" stroke="#6e3a86" stroke-width="0.75"/>
<circle cx="578.9" cy="466.2" r="2.35" fill="#bcaec8" stroke="#6e3a86" stroke-width="0.75"/>
<circle cx="571.6" cy="468.3" r="2.35" fill="#bcaec8" stroke="#6e3a86" stroke-width="0.75"/>
<circle cx="553.1" cy="469.8" r="2.35" fill="#bcaec8" stroke="#6e3a86" stroke-width="0.75"/>
<circle cx="559.3" cy="467.5" r="2.35" fill="#bcaec8" stroke="#6e3a86" stroke-width="0.75"/>
<circle cx="554.1" cy="466.6" r="2.35" fill="#bcaec8" stroke="#6e3a86" stroke-width="0.75"/>
<circle cx="604.8" cy="465.6" r="2.35" fill="#bcaec8" stroke="#6e3a86" stroke-width="0.75"/>
<line x1="360.3" y1="293.4" x2="360.3" y2="519.1" stroke="#a3a3a3" stroke-width="1.3"/>
<line x1="359.7" y1="518.5" x2="685.0" y2="518.5" stroke="#a3a3a3" stroke-width="1.3"/>
<line x1="358.9" y1="509.0" x2="360.3" y2="509.0" stroke="#333" stroke-width="0.6"/>
<text transform="translate(358.4,510.8) scale(1,1.18)" font-size="5.2" fill="#4d4d4d" text-anchor="end">0.0</text>
<line x1="358.9" y1="460.0" x2="360.3" y2="460.0" stroke="#333" stroke-width="0.6"/>
<text transform="translate(358.4,461.8) scale(1,1.18)" font-size="5.2" fill="#4d4d4d" text-anchor="end">2.5</text>
<line x1="358.9" y1="411.0" x2="360.3" y2="411.0" stroke="#333" stroke-width="0.6"/>
<text transform="translate(358.4,412.8) scale(1,1.18)" font-size="5.2" fill="#4d4d4d" text-anchor="end">5.0</text>
<line x1="358.9" y1="362.0" x2="360.3" y2="362.0" stroke="#333" stroke-width="0.6"/>
<text transform="translate(358.4,363.8) scale(1,1.18)" font-size="5.2" fill="#4d4d4d" text-anchor="end">7.5</text>
<line x1="358.9" y1="313.0" x2="360.3" y2="313.0" stroke="#333" stroke-width="0.6"/>
<text transform="translate(358.4,314.8) scale(1,1.18)" font-size="5.2" fill="#4d4d4d" text-anchor="end">10.0</text>
<line x1="373.9" y1="518.5" x2="373.9" y2="520.1" stroke="#3a3a3a" stroke-width="0.5"/>
<text transform="translate(373.9,524.6) scale(1,1.18)" font-size="5.2" fill="#4d4d4d" text-anchor="middle">−2.5</text>
<line x1="433.0" y1="518.5" x2="433.0" y2="520.1" stroke="#3a3a3a" stroke-width="0.5"/>
<text transform="translate(433.0,524.6) scale(1,1.18)" font-size="5.2" fill="#4d4d4d" text-anchor="middle">−1.5</text>
<line x1="492.1" y1="518.5" x2="492.1" y2="520.1" stroke="#3a3a3a" stroke-width="0.5"/>
<text transform="translate(492.1,524.6) scale(1,1.18)" font-size="5.2" fill="#4d4d4d" text-anchor="middle">−0.5</text>
<line x1="551.1" y1="518.5" x2="551.1" y2="520.1" stroke="#3a3a3a" stroke-width="0.5"/>
<text transform="translate(551.1,524.6) scale(1,1.18)" font-size="5.2" fill="#4d4d4d" text-anchor="middle">0.5</text>
<line x1="610.2" y1="518.5" x2="610.2" y2="520.1" stroke="#3a3a3a" stroke-width="0.5"/>
<text transform="translate(610.2,524.6) scale(1,1.18)" font-size="5.2" fill="#4d4d4d" text-anchor="middle">1.5</text>
<line x1="669.4" y1="518.5" x2="669.4" y2="520.1" stroke="#3a3a3a" stroke-width="0.5"/>
<text transform="translate(669.4,524.6) scale(1,1.18)" font-size="5.2" fill="#4d4d4d" text-anchor="middle">2.5</text>
<text transform="translate(521.5,531.6) scale(1,1.18)" font-size="6.6" fill="#1a1a1a" text-anchor="middle" stroke="#1a1a1a" stroke-width="0.12">Log Fold Change</text>
<text x="0.0" y="0.0" font-size="5.9" fill="#1a1a1a" text-anchor="middle" textLength="38.7" lengthAdjust="spacingAndGlyphs" transform="translate(345.6,406) rotate(-90)">Log(p−value)</text>
<text transform="translate(448.1,313.4) scale(1,1.18)" font-size="6.0" fill="#1a1a1a" stroke="#1a1a1a" stroke-width="0.12">CPML</text>
<text transform="translate(437.9,322.8) scale(1,1.18)" font-size="6.0" fill="#1a1a1a" stroke="#1a1a1a" stroke-width="0.12">T2R</text>
<text transform="translate(484.9,310.7) scale(1,1.18)" font-size="6.0" fill="#1a1a1a" stroke="#1a1a1a" stroke-width="0.12">Ca−BP</text>
<text transform="translate(463.0,335.6) scale(1,1.18)" font-size="6.0" fill="#1a1a1a" stroke="#1a1a1a" stroke-width="0.12">PNLIP</text>
<text transform="translate(419.8,389.1) scale(1,1.18)" font-size="6.0" fill="#1a1a1a" stroke="#1a1a1a" stroke-width="0.12">CLEC</text>
<text transform="translate(362.3,399.3) scale(1,1.18)" font-size="6.0" fill="#1a1a1a" stroke="#1a1a1a" stroke-width="0.12">CVNH</text>
<text transform="translate(431.7,419.0) scale(1,1.18)" font-size="6.0" fill="#1a1a1a" stroke="#1a1a1a" stroke-width="0.12">LIGT</text>
<text transform="translate(451.8,411.4) scale(1,1.18)" font-size="6.0" fill="#1a1a1a" stroke="#1a1a1a" stroke-width="0.12">Ca−BP</text>
<text transform="translate(460.6,420.8) scale(1,1.18)" font-size="6.0" fill="#1a1a1a" stroke="#1a1a1a" stroke-width="0.12">Ca−BP</text>
<text transform="translate(392.8,442.8) scale(1,1.18)" font-size="6.0" fill="#1a1a1a" stroke="#1a1a1a" stroke-width="0.12">KPHMT</text>
<text transform="translate(378.1,453.8) scale(1,1.18)" font-size="6.0" fill="#1a1a1a" stroke="#1a1a1a" stroke-width="0.12">VWA</text>
<text transform="translate(478.1,445.5) scale(1,1.18)" font-size="6.0" fill="#1a1a1a" stroke="#1a1a1a" stroke-width="0.12">ENPEP</text>
<text transform="translate(441.3,449.0) scale(1,1.18)" font-size="6.0" fill="#1a1a1a" stroke="#1a1a1a" stroke-width="0.12">LAMP1_2</text>
<text transform="translate(416.4,455.7) scale(1,1.18)" font-size="6.0" fill="#1a1a1a" stroke="#1a1a1a" stroke-width="0.12">CALU</text>
<text transform="translate(436.5,457.0) scale(1,1.18)" font-size="6.0" fill="#1a1a1a" stroke="#1a1a1a" stroke-width="0.12">LAMP</text>
<text transform="translate(482.1,461.0) scale(1,1.18)" font-size="6.0" fill="#1a1a1a" stroke="#1a1a1a" stroke-width="0.12">ENPEP</text>
<text transform="translate(397.6,465.6) scale(1,1.18)" font-size="6.0" fill="#1a1a1a" stroke="#1a1a1a" stroke-width="0.12">Rbsd</text>
<text transform="translate(429.8,465.6) scale(1,1.18)" font-size="6.0" fill="#1a1a1a" stroke="#1a1a1a" stroke-width="0.12">Ca−MP</text>
<text transform="translate(454.0,465.0) scale(1,1.18)" font-size="6.0" fill="#1a1a1a" stroke="#1a1a1a" stroke-width="0.12">Ca−BP</text>
<text transform="translate(416.4,473.6) scale(1,1.18)" font-size="6.0" fill="#1a1a1a" stroke="#1a1a1a" stroke-width="0.12">Ca−BP</text>
<text transform="translate(445.9,472.6) scale(1,1.18)" font-size="6.0" fill="#1a1a1a" stroke="#1a1a1a" stroke-width="0.12">Ca−CAM</text>
<text transform="translate(474.0,477.1) scale(1,1.18)" font-size="6.0" fill="#1a1a1a" stroke="#1a1a1a" stroke-width="0.12">COPG</text>
<text transform="translate(441.3,484.6) scale(1,1.18)" font-size="6.0" fill="#1a1a1a" stroke="#1a1a1a" stroke-width="0.12">TKT</text>
<text transform="translate(455.8,490.0) scale(1,1.18)" font-size="6.0" fill="#1a1a1a" stroke="#1a1a1a" stroke-width="0.12">ARGH</text>
<text transform="translate(467.3,504.0) scale(1,1.18)" font-size="6.0" fill="#1a1a1a" stroke="#1a1a1a" stroke-width="0.12">TUBA</text>
<text transform="translate(541.9,315.0) scale(1,1.18)" font-size="6.0" fill="#1a1a1a" stroke="#1a1a1a" stroke-width="0.12">H3</text>
<text transform="translate(564.0,310.4) scale(1,1.18)" font-size="6.0" fill="#1a1a1a" stroke="#1a1a1a" stroke-width="0.12">ALDH1L</text>
<text transform="translate(555.9,318.5) scale(1,1.18)" font-size="6.0" fill="#1a1a1a" stroke="#1a1a1a" stroke-width="0.12">CRYG</text>
<text transform="translate(592.4,315.0) scale(1,1.18)" font-size="6.0" fill="#1a1a1a" stroke="#1a1a1a" stroke-width="0.12">P5CD</text>
<text transform="translate(621.5,315.0) scale(1,1.18)" font-size="6.0" fill="#1a1a1a" stroke="#1a1a1a" stroke-width="0.12">BHMT</text>
<text transform="translate(651.2,321.7) scale(1,1.18)" font-size="6.0" fill="#1a1a1a" stroke="#1a1a1a" stroke-width="0.12">CHIC</text>
<text transform="translate(577.0,364.4) scale(1,1.18)" font-size="6.0" fill="#1a1a1a" stroke="#1a1a1a" stroke-width="0.12">LEC</text>
<text transform="translate(570.2,374.4) scale(1,1.18)" font-size="6.0" fill="#1a1a1a" stroke="#1a1a1a" stroke-width="0.12">CTRC</text>
<text transform="translate(604.8,399.0) scale(1,1.18)" font-size="6.0" fill="#1a1a1a" stroke="#1a1a1a" stroke-width="0.12">CALHM2</text>
<text transform="translate(626.1,408.4) scale(1,1.18)" font-size="6.0" fill="#1a1a1a" stroke="#1a1a1a" stroke-width="0.12">GNMT</text>
<text transform="translate(544.0,417.8) scale(1,1.18)" font-size="6.0" fill="#1a1a1a" stroke="#1a1a1a" stroke-width="0.12">NPC2</text>
<text transform="translate(585.1,413.8) scale(1,1.18)" font-size="6.0" fill="#1a1a1a" stroke="#1a1a1a" stroke-width="0.12">NPC2</text>
<text transform="translate(641.2,417.8) scale(1,1.18)" font-size="6.0" fill="#1a1a1a" stroke="#1a1a1a" stroke-width="0.12">AGXT</text>
<text transform="translate(616.9,425.9) scale(1,1.18)" font-size="6.0" fill="#1a1a1a" stroke="#1a1a1a" stroke-width="0.12">MACPF</text>
<text transform="translate(562.1,429.2) scale(1,1.18)" font-size="6.0" fill="#1a1a1a" stroke="#1a1a1a" stroke-width="0.12">MMSA</text>
<text transform="translate(558.9,443.2) scale(1,1.18)" font-size="6.0" fill="#1a1a1a" stroke="#1a1a1a" stroke-width="0.12">MUC5AC</text>
<text transform="translate(596.7,454.3) scale(1,1.18)" font-size="6.0" fill="#1a1a1a" stroke="#1a1a1a" stroke-width="0.12">EGF1</text>
<text transform="translate(620.2,456.2) scale(1,1.18)" font-size="6.0" fill="#1a1a1a" stroke="#1a1a1a" stroke-width="0.12">PHHHA</text>
<text transform="translate(544.6,458.3) scale(1,1.18)" font-size="6.0" fill="#1a1a1a" stroke="#1a1a1a" stroke-width="0.12">GLNA</text>
<text transform="translate(585.1,467.8) scale(1,1.18)" font-size="6.0" fill="#1a1a1a" stroke="#1a1a1a" stroke-width="0.12">APOD</text>
<text transform="translate(600.5,477.8) scale(1,1.18)" font-size="6.0" fill="#1a1a1a" stroke="#1a1a1a" stroke-width="0.12">FTH1</text>
<text transform="translate(572.4,479.9) scale(1,1.18)" font-size="6.0" fill="#1a1a1a" stroke="#1a1a1a" stroke-width="0.12">HOMER</text>
<text transform="translate(551.3,485.9) scale(1,1.18)" font-size="6.0" fill="#1a1a1a" stroke="#1a1a1a" stroke-width="0.12">PCK1</text>
<text x="370.9" y="308.6" font-size="12.4" fill="#1f7a35" stroke="#1f7a35" stroke-width="0.25" font-weight="bold" textLength="50.2" lengthAdjust="spacingAndGlyphs">Resilient</text>
<text x="601.3" y="308.2" font-size="12.4" fill="#7a2a8a" stroke="#7a2a8a" stroke-width="0.25" font-weight="bold" textLength="65.6" lengthAdjust="spacingAndGlyphs">Susceptible</text>
<text transform="translate(346.3,285.3) scale(1,1.1)" font-size="19" fill="#000" stroke="#000" stroke-width="0.5" font-weight="bold" textLength="11.2" lengthAdjust="spacingAndGlyphs">d</text>
<text transform="translate(361.0,289.6) scale(1,1.18)" font-size="7.7" fill="#1a1a1a" stroke="#1a1a1a" stroke-width="0.12">Timepoint 2</text>
</svg>
</body></html>
